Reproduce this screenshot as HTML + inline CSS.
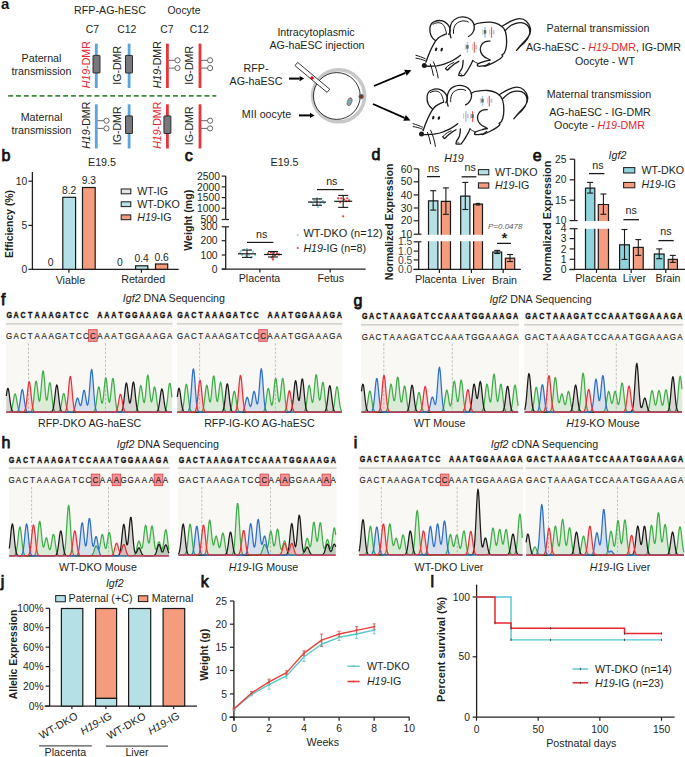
<!DOCTYPE html>
<html><head><meta charset="utf-8"><style>
html,body{margin:0;padding:0;background:#fff;}
svg{display:block;font-family:"Liberation Sans",sans-serif;}
</style></head><body>
<svg width="685" height="757" viewBox="0 0 685 757" fill="#231f20">
<rect width="685" height="757" fill="#fff"/>
<text x="1.00" y="8.90" font-size="15" text-anchor="start" font-weight="bold" fill="#111">a</text>
<text x="110.00" y="14.20" font-size="10.7" text-anchor="middle">RFP-AG-hESC</text>
<text x="184.00" y="14.20" font-size="10.4" text-anchor="middle">Oocyte</text>
<text x="92.30" y="33.00" font-size="10.4" text-anchor="middle">C7</text>
<text x="126.70" y="33.00" font-size="10.4" text-anchor="middle">C12</text>
<text x="166.80" y="33.00" font-size="10.4" text-anchor="middle">C7</text>
<text x="199.20" y="33.00" font-size="10.4" text-anchor="middle">C12</text>
<text x="41.50" y="62.00" font-size="10.7" text-anchor="middle">Paternal</text>
<text x="41.50" y="74.50" font-size="10.7" text-anchor="middle">transmission</text>
<text x="41.50" y="121.00" font-size="10.7" text-anchor="middle">Maternal</text>
<text x="41.50" y="134.00" font-size="10.7" text-anchor="middle">transmission</text>
<text x="90.40" y="88.30" font-size="10.6" text-anchor="start" fill="#e5262d" transform="rotate(-90 90.40 88.30)"><tspan font-style="italic">H19</tspan>-DMR</text>
<rect x="94.90" y="43.60" width="2.80" height="44.40" fill="#5aa5dc" stroke="none" stroke-width="1.2"/>
<rect x="93.00" y="55.40" width="7.00" height="17.60" fill="#77787b" stroke="#222" stroke-width="0.9" rx="0.4"/>
<text x="121.30" y="84.80" font-size="10.6" text-anchor="start" transform="rotate(-90 121.30 84.80)">IG-DMR</text>
<rect x="127.70" y="43.60" width="2.80" height="44.40" fill="#5aa5dc" stroke="none" stroke-width="1.2"/>
<rect x="125.50" y="55.40" width="7.00" height="17.60" fill="#77787b" stroke="#222" stroke-width="0.9" rx="0.4"/>
<text x="161.20" y="88.30" font-size="10.6" text-anchor="start" transform="rotate(-90 161.20 88.30)"><tspan font-style="italic">H19</tspan>-DMR</text>
<rect x="166.00" y="43.60" width="2.80" height="44.40" fill="#e8343a" stroke="none" stroke-width="1.2"/>
<line x1="168.60" y1="60.30" x2="174.80" y2="60.30" stroke="#555" stroke-width="0.9"/>
<circle cx="177.50" cy="60.30" r="2.60" fill="#fff" stroke="#555" stroke-width="0.9"/>
<line x1="168.60" y1="68.10" x2="174.80" y2="68.10" stroke="#555" stroke-width="0.9"/>
<circle cx="177.50" cy="68.10" r="2.60" fill="#fff" stroke="#555" stroke-width="0.9"/>
<text x="193.40" y="84.80" font-size="10.6" text-anchor="start" transform="rotate(-90 193.40 84.80)">IG-DMR</text>
<rect x="198.60" y="43.60" width="2.80" height="44.40" fill="#e8343a" stroke="none" stroke-width="1.2"/>
<line x1="201.20" y1="60.30" x2="207.40" y2="60.30" stroke="#555" stroke-width="0.9"/>
<circle cx="210.10" cy="60.30" r="2.60" fill="#fff" stroke="#555" stroke-width="0.9"/>
<line x1="201.20" y1="68.10" x2="207.40" y2="68.10" stroke="#555" stroke-width="0.9"/>
<circle cx="210.10" cy="68.10" r="2.60" fill="#fff" stroke="#555" stroke-width="0.9"/>
<line x1="8.20" y1="95.90" x2="216.30" y2="95.90" stroke="#3d8b3d" stroke-width="1.7" stroke-dasharray="4.9,2.95"/>
<text x="90.40" y="148.80" font-size="10.6" text-anchor="start" transform="rotate(-90 90.40 148.80)"><tspan font-style="italic">H19</tspan>-DMR</text>
<rect x="94.90" y="104.30" width="2.80" height="44.20" fill="#5aa5dc" stroke="none" stroke-width="1.2"/>
<line x1="97.60" y1="120.70" x2="103.80" y2="120.70" stroke="#555" stroke-width="0.9"/>
<circle cx="106.50" cy="120.70" r="2.60" fill="#fff" stroke="#555" stroke-width="0.9"/>
<line x1="97.60" y1="128.40" x2="103.80" y2="128.40" stroke="#555" stroke-width="0.9"/>
<circle cx="106.50" cy="128.40" r="2.60" fill="#fff" stroke="#555" stroke-width="0.9"/>
<text x="121.30" y="145.30" font-size="10.6" text-anchor="start" transform="rotate(-90 121.30 145.30)">IG-DMR</text>
<rect x="127.70" y="104.30" width="2.80" height="44.20" fill="#5aa5dc" stroke="none" stroke-width="1.2"/>
<rect x="125.50" y="115.90" width="7.00" height="17.60" fill="#77787b" stroke="#222" stroke-width="0.9" rx="0.4"/>
<text x="161.20" y="148.80" font-size="10.6" text-anchor="start" fill="#e5262d" transform="rotate(-90 161.20 148.80)"><tspan font-style="italic">H19</tspan>-DMR</text>
<rect x="166.00" y="104.30" width="2.80" height="44.20" fill="#e8343a" stroke="none" stroke-width="1.2"/>
<rect x="163.90" y="115.90" width="7.00" height="17.60" fill="#77787b" stroke="#222" stroke-width="0.9" rx="0.4"/>
<text x="193.40" y="145.30" font-size="10.6" text-anchor="start" transform="rotate(-90 193.40 145.30)">IG-DMR</text>
<rect x="198.60" y="104.30" width="2.80" height="44.20" fill="#e8343a" stroke="none" stroke-width="1.2"/>
<line x1="201.20" y1="120.70" x2="207.40" y2="120.70" stroke="#555" stroke-width="0.9"/>
<circle cx="210.10" cy="120.70" r="2.60" fill="#fff" stroke="#555" stroke-width="0.9"/>
<line x1="201.20" y1="128.40" x2="207.40" y2="128.40" stroke="#555" stroke-width="0.9"/>
<circle cx="210.10" cy="128.40" r="2.60" fill="#fff" stroke="#555" stroke-width="0.9"/>
<text x="316.00" y="35.80" font-size="10.7" text-anchor="middle">Intracytoplasmic</text>
<text x="317.00" y="49.00" font-size="10.7" text-anchor="middle">AG-haESC injection</text>
<text x="256.00" y="72.40" font-size="10.7" text-anchor="middle">RFP-</text>
<text x="256.00" y="85.10" font-size="10.7" text-anchor="middle">AG-haESC</text>
<text x="266.50" y="118.00" font-size="10.7" text-anchor="middle">MII oocyte</text>
<line x1="289.00" y1="78.60" x2="299.60" y2="78.60" stroke="#000" stroke-width="2.0"/>
<path d="M304.20,78.60 L299.60,81.20 L299.60,76.00 Z" fill="#000"/>
<line x1="299.00" y1="115.40" x2="310.00" y2="115.40" stroke="#000" stroke-width="2.0"/>
<path d="M314.60,115.40 L310.00,118.00 L310.00,112.80 Z" fill="#000"/>
<circle cx="338.60" cy="95.80" r="26.00" fill="none" stroke="#c8c8c8" stroke-width="3.6"/>
<circle cx="336.80" cy="96.00" r="23.40" fill="#fff" stroke="#1a1a1a" stroke-width="0.9"/>
<ellipse cx="349.6" cy="101.7" rx="2.2" ry="4.2" transform="rotate(20 349.6 101.7)" fill="#9a9a9a" stroke="#555" stroke-width="0.6"/>
<line x1="346.80" y1="101.90" x2="352.40" y2="101.50" stroke="#38c4e0" stroke-width="0.9"/>
<circle cx="361.20" cy="96.60" r="2.40" fill="#7a3b1c" stroke="#4a78c0" stroke-width="0.6"/>
<rect x="296.3" y="61.9" width="41.82" height="4.2" fill="#fff" stroke="#1a1a1a" stroke-width="0.8" transform="rotate(39.86 296.3 64)"/>
<circle cx="312.00" cy="77.90" r="1.50" fill="#e11" stroke="#900" stroke-width="0.4"/>
<line x1="374.00" y1="86.00" x2="405.41" y2="72.82" stroke="#000" stroke-width="1.8"/>
<path d="M411.40,70.30 L406.65,75.77 L404.17,69.87 Z" fill="#000"/>
<line x1="373.00" y1="104.00" x2="404.55" y2="117.88" stroke="#000" stroke-width="1.8"/>
<path d="M410.50,120.50 L403.26,120.81 L405.84,114.95 Z" fill="#000"/>
<text x="598.00" y="31.70" font-size="10.7" text-anchor="middle">Paternal transmission</text>
<text x="603.50" y="51.00" font-size="10.7" text-anchor="middle">AG-haESC - <tspan font-style="italic" fill="#e5262d">H19</tspan><tspan fill="#e5262d">-DMR</tspan>, IG-DMR</text>
<text x="605.00" y="65.00" font-size="10.7" text-anchor="middle">Oocyte - WT</text>
<text x="599.00" y="97.90" font-size="10.7" text-anchor="middle">Maternal transmission</text>
<text x="600.00" y="116.00" font-size="10.7" text-anchor="middle">AG-haESC - IG-DMR</text>
<text x="599.50" y="128.50" font-size="10.7" text-anchor="middle">Oocyte - <tspan font-style="italic" fill="#e5262d">H19</tspan><tspan fill="#e5262d">-DMR</tspan></text>
<g transform="translate(0 0)"><path d="M425.9,62.3 C428,56 431,48 435.6,40.8 C437.5,38.5 439,37 441.3,36 C443.5,35 445,34.2 446.5,33.8" stroke="#1a1a1a" stroke-width="1.3" fill="none" stroke-linecap="round" stroke-linejoin="round"/><path d="M435.6,40.8 C431.5,38 429.5,33 429.9,28.1 C430.3,24.5 432,22.5 434.5,21.6 C437,20.5 440,20.2 442.5,20.9 C446,22 449.5,25.5 450,29 C450.3,31 449.8,33 448.7,34.3" stroke="#1a1a1a" stroke-width="1.3" fill="none" stroke-linecap="round" stroke-linejoin="round"/><path d="M433,24.2 C435.5,22.6 438.5,22.2 441,23.2 C443.5,24.2 445.2,27 446.5,33.4" stroke="#1a1a1a" stroke-width="1.0" fill="none" stroke-linecap="round" stroke-linejoin="round"/><path d="M450.9,37.8 C449.8,35 449.6,31.5 450,28.5 C450.5,24.5 453,20 456.2,18.5 C459,17 462,16.6 465,17.2 C469,18 472.5,20.5 473.7,23.8 C474.8,27 474.2,30.5 472.5,33 C471.3,34.8 470,35.8 468.4,36.5" stroke="#1a1a1a" stroke-width="1.3" fill="none" stroke-linecap="round" stroke-linejoin="round"/><path d="M453.5,33.4 C453.2,30 453.8,26.5 456,24 C458,22 461,20.8 464,20.9 C466,21 467.5,21.4 468.4,22" stroke="#1a1a1a" stroke-width="1.0" fill="none" stroke-linecap="round" stroke-linejoin="round"/><path d="M474.2,24.8 C476,23.6 478,23 480.3,22.8 C484,22.2 487.5,21.9 490.5,22.1 C494,22.4 496.5,23.2 498.7,24.3 C500.8,25.4 502.5,26.8 503.8,28.4 C505.5,30.8 506.2,33.6 506.4,36.6 C506.7,40 506.8,43 506.4,45.8 C506,49 505.4,51.2 504.3,52.9 C503.5,54 502.5,54.6 501.8,55 C502.3,55.3 502.8,55.6 502.8,56 C502,57.3 501,58.2 499.7,59 C497.5,60.5 495,61.9 492.6,63.1 C490,64.4 487.5,65.5 485.4,66.2 C484.8,66.2 484.3,66 483.9,65.7" stroke="#1a1a1a" stroke-width="1.3" fill="none" stroke-linecap="round" stroke-linejoin="round"/><path d="M501.8,26.4 C505,24.5 508,22.6 511,21.2 C514,19.8 516.5,18.9 519.2,18.7 C522,18.6 524.6,19.6 526.3,21.2 C528.5,23.2 530,25.8 530.4,28.4 C530.9,31.5 530,34.3 528.4,36.6 C526.5,39.3 524.4,41.6 522.2,43.7 C520.3,45.8 518.4,48 516.6,50.4 C518.8,47.6 521.5,45 524.3,42.7 C526.7,40.3 528.6,37.4 529.4,34.5 C530.1,32 529.8,29.5 528.9,27.4 C527.9,25.4 526.2,24 524.3,23.3 C522.3,22.6 520.2,22.5 518.1,22.8 C516,23.2 514,23.9 512,24.8 C509.5,26.4 507.3,28.3 505.4,30.4" stroke="#1a1a1a" stroke-width="1.3" fill="none" stroke-linecap="round" stroke-linejoin="round"/><path d="M490,41.2 C488.5,41.1 486.8,41.2 485.4,41.7 C483.4,42.5 481.9,43.7 481.3,45.3 C480.5,46.8 480.2,48.3 480.3,49.9 C480.5,51.9 481.2,53.6 482.4,55 C483.8,56.6 485.5,57.8 487.5,58.5 C488.5,58.9 489.3,59.5 490,60.1" stroke="#1a1a1a" stroke-width="1.3" fill="none" stroke-linecap="round" stroke-linejoin="round"/><path d="M490,60.1 C488.5,60.4 487,60.7 485.4,61.1 C483,61.8 480.5,62.6 478.3,63.6 C477.6,64.2 477.2,64.9 477.3,65.7 C478.2,66.3 479.3,66.4 480.3,66.2 C482,66.1 483.8,66 485.4,65.7 C486.9,65 488.3,64.1 489.5,63.1" stroke="#1a1a1a" stroke-width="1.3" fill="none" stroke-linecap="round" stroke-linejoin="round"/><path d="M472.8,60.5 C474.5,62 476.5,62.9 478.3,63.6" stroke="#1a1a1a" stroke-width="1.0" fill="none" stroke-linecap="round" stroke-linejoin="round"/><path d="M426.4,66.2 C430,66.3 433.5,66.2 436.9,65.8 C440,65.3 443,64.6 445.6,63.6 C448.2,62.6 450.6,61.7 452.7,60.5 C455.5,59 458.2,57.2 460.5,55.3" stroke="#1a1a1a" stroke-width="1.3" fill="none" stroke-linecap="round" stroke-linejoin="round"/><path d="M445.6,68.4 C446.1,69.4 446.7,70.1 447.4,70.2 C448.3,69.4 449.2,68.4 450,67.5 C451.5,66.3 452.9,65.1 454.4,64 C455.8,63.1 457.3,62.2 458.8,61.4" stroke="#1a1a1a" stroke-width="1.3" fill="none" stroke-linecap="round" stroke-linejoin="round"/><path d="M445.6,68.4 C446.7,66.8 448.3,65.4 450.2,64.3 C451.6,63.5 452.8,63 453.9,62.5" stroke="#1a1a1a" stroke-width="1.0" fill="none" stroke-linecap="round" stroke-linejoin="round"/><path d="M463.2,60.5 C463.1,63 462.9,65.3 462.3,67.5 C461.6,69.3 460.7,70.7 459.7,71.9 C459.2,73 458.8,74.2 458.8,75.4 C460.5,75.9 462.3,75.8 464,75.4 C466,73 467.8,70.3 469.3,67.5 C470.6,65.2 471.8,62.8 472.8,60.5" stroke="#1a1a1a" stroke-width="1.3" fill="none" stroke-linecap="round" stroke-linejoin="round"/><path d="M460.3,73.6 C461,73.2 461.6,73.9 461.8,74.8" stroke="#1a1a1a" stroke-width="0.8" fill="none" stroke-linecap="round" stroke-linejoin="round"/><path d="M415.9,55.3 C419,56.2 422.3,57.2 425.3,58.8" stroke="#1a1a1a" stroke-width="1.0" fill="none" stroke-linecap="round" stroke-linejoin="round"/><path d="M415.9,58.2 C419,58.6 422.3,59.4 425.3,60.8" stroke="#1a1a1a" stroke-width="1.0" fill="none" stroke-linecap="round" stroke-linejoin="round"/><path d="M430.3,64 C431.6,67.5 432.8,71.5 433.4,75.4" stroke="#1a1a1a" stroke-width="1.0" fill="none" stroke-linecap="round" stroke-linejoin="round"/><path d="M433.4,61.8 C435.5,66.5 437.4,72 438.2,78" stroke="#1a1a1a" stroke-width="1.0" fill="none" stroke-linecap="round" stroke-linejoin="round"/><ellipse cx="436.1" cy="49.3" rx="1.15" ry="1.9" transform="rotate(20 436.1 49.3)" fill="#1a1a1a"/><ellipse cx="441.7" cy="49.6" rx="1.15" ry="1.9" transform="rotate(20 441.7 49.6)" fill="#1a1a1a"/><circle cx="424.3" cy="65.6" r="2.5" fill="#1a1a1a"/><rect x="482.40" y="29.30" width="0.9" height="5.5" fill="#c4c4c4"/><rect x="489.10" y="29.30" width="0.8" height="5.5" fill="#c4c4c4"/><rect x="484.25" y="27.10" width="1.5" height="10.5" fill="#9fcbee"/><rect x="490.90" y="27.10" width="1.2" height="10.7" fill="#ee5a5e"/><rect x="483.80" y="30.10" width="2.4" height="3.6" fill="#666"/><rect x="492.70" y="30.10" width="1.8" height="4.0" fill="#c4c4c4"/><rect x="464.80" y="44.30" width="0.9" height="5.5" fill="#c4c4c4"/><rect x="471.90" y="44.30" width="0.8" height="5.5" fill="#c4c4c4"/><rect x="466.65" y="42.10" width="1.5" height="10.5" fill="#9fcbee"/><rect x="473.70" y="42.10" width="1.2" height="10.7" fill="#ee5a5e"/><rect x="466.20" y="45.10" width="2.4" height="3.6" fill="#666"/><rect x="475.50" y="45.10" width="1.8" height="4.0" fill="#c4c4c4"/></g>
<g transform="translate(-2.8 68.4)"><path d="M425.9,62.3 C428,56 431,48 435.6,40.8 C437.5,38.5 439,37 441.3,36 C443.5,35 445,34.2 446.5,33.8" stroke="#1a1a1a" stroke-width="1.3" fill="none" stroke-linecap="round" stroke-linejoin="round"/><path d="M435.6,40.8 C431.5,38 429.5,33 429.9,28.1 C430.3,24.5 432,22.5 434.5,21.6 C437,20.5 440,20.2 442.5,20.9 C446,22 449.5,25.5 450,29 C450.3,31 449.8,33 448.7,34.3" stroke="#1a1a1a" stroke-width="1.3" fill="none" stroke-linecap="round" stroke-linejoin="round"/><path d="M433,24.2 C435.5,22.6 438.5,22.2 441,23.2 C443.5,24.2 445.2,27 446.5,33.4" stroke="#1a1a1a" stroke-width="1.0" fill="none" stroke-linecap="round" stroke-linejoin="round"/><path d="M450.9,37.8 C449.8,35 449.6,31.5 450,28.5 C450.5,24.5 453,20 456.2,18.5 C459,17 462,16.6 465,17.2 C469,18 472.5,20.5 473.7,23.8 C474.8,27 474.2,30.5 472.5,33 C471.3,34.8 470,35.8 468.4,36.5" stroke="#1a1a1a" stroke-width="1.3" fill="none" stroke-linecap="round" stroke-linejoin="round"/><path d="M453.5,33.4 C453.2,30 453.8,26.5 456,24 C458,22 461,20.8 464,20.9 C466,21 467.5,21.4 468.4,22" stroke="#1a1a1a" stroke-width="1.0" fill="none" stroke-linecap="round" stroke-linejoin="round"/><path d="M474.2,24.8 C476,23.6 478,23 480.3,22.8 C484,22.2 487.5,21.9 490.5,22.1 C494,22.4 496.5,23.2 498.7,24.3 C500.8,25.4 502.5,26.8 503.8,28.4 C505.5,30.8 506.2,33.6 506.4,36.6 C506.7,40 506.8,43 506.4,45.8 C506,49 505.4,51.2 504.3,52.9 C503.5,54 502.5,54.6 501.8,55 C502.3,55.3 502.8,55.6 502.8,56 C502,57.3 501,58.2 499.7,59 C497.5,60.5 495,61.9 492.6,63.1 C490,64.4 487.5,65.5 485.4,66.2 C484.8,66.2 484.3,66 483.9,65.7" stroke="#1a1a1a" stroke-width="1.3" fill="none" stroke-linecap="round" stroke-linejoin="round"/><path d="M501.8,26.4 C505,24.5 508,22.6 511,21.2 C514,19.8 516.5,18.9 519.2,18.7 C522,18.6 524.6,19.6 526.3,21.2 C528.5,23.2 530,25.8 530.4,28.4 C530.9,31.5 530,34.3 528.4,36.6 C526.5,39.3 524.4,41.6 522.2,43.7 C520.3,45.8 518.4,48 516.6,50.4 C518.8,47.6 521.5,45 524.3,42.7 C526.7,40.3 528.6,37.4 529.4,34.5 C530.1,32 529.8,29.5 528.9,27.4 C527.9,25.4 526.2,24 524.3,23.3 C522.3,22.6 520.2,22.5 518.1,22.8 C516,23.2 514,23.9 512,24.8 C509.5,26.4 507.3,28.3 505.4,30.4" stroke="#1a1a1a" stroke-width="1.3" fill="none" stroke-linecap="round" stroke-linejoin="round"/><path d="M490,41.2 C488.5,41.1 486.8,41.2 485.4,41.7 C483.4,42.5 481.9,43.7 481.3,45.3 C480.5,46.8 480.2,48.3 480.3,49.9 C480.5,51.9 481.2,53.6 482.4,55 C483.8,56.6 485.5,57.8 487.5,58.5 C488.5,58.9 489.3,59.5 490,60.1" stroke="#1a1a1a" stroke-width="1.3" fill="none" stroke-linecap="round" stroke-linejoin="round"/><path d="M490,60.1 C488.5,60.4 487,60.7 485.4,61.1 C483,61.8 480.5,62.6 478.3,63.6 C477.6,64.2 477.2,64.9 477.3,65.7 C478.2,66.3 479.3,66.4 480.3,66.2 C482,66.1 483.8,66 485.4,65.7 C486.9,65 488.3,64.1 489.5,63.1" stroke="#1a1a1a" stroke-width="1.3" fill="none" stroke-linecap="round" stroke-linejoin="round"/><path d="M472.8,60.5 C474.5,62 476.5,62.9 478.3,63.6" stroke="#1a1a1a" stroke-width="1.0" fill="none" stroke-linecap="round" stroke-linejoin="round"/><path d="M426.4,66.2 C430,66.3 433.5,66.2 436.9,65.8 C440,65.3 443,64.6 445.6,63.6 C448.2,62.6 450.6,61.7 452.7,60.5 C455.5,59 458.2,57.2 460.5,55.3" stroke="#1a1a1a" stroke-width="1.3" fill="none" stroke-linecap="round" stroke-linejoin="round"/><path d="M445.6,68.4 C446.1,69.4 446.7,70.1 447.4,70.2 C448.3,69.4 449.2,68.4 450,67.5 C451.5,66.3 452.9,65.1 454.4,64 C455.8,63.1 457.3,62.2 458.8,61.4" stroke="#1a1a1a" stroke-width="1.3" fill="none" stroke-linecap="round" stroke-linejoin="round"/><path d="M445.6,68.4 C446.7,66.8 448.3,65.4 450.2,64.3 C451.6,63.5 452.8,63 453.9,62.5" stroke="#1a1a1a" stroke-width="1.0" fill="none" stroke-linecap="round" stroke-linejoin="round"/><path d="M463.2,60.5 C463.1,63 462.9,65.3 462.3,67.5 C461.6,69.3 460.7,70.7 459.7,71.9 C459.2,73 458.8,74.2 458.8,75.4 C460.5,75.9 462.3,75.8 464,75.4 C466,73 467.8,70.3 469.3,67.5 C470.6,65.2 471.8,62.8 472.8,60.5" stroke="#1a1a1a" stroke-width="1.3" fill="none" stroke-linecap="round" stroke-linejoin="round"/><path d="M460.3,73.6 C461,73.2 461.6,73.9 461.8,74.8" stroke="#1a1a1a" stroke-width="0.8" fill="none" stroke-linecap="round" stroke-linejoin="round"/><path d="M415.9,55.3 C419,56.2 422.3,57.2 425.3,58.8" stroke="#1a1a1a" stroke-width="1.0" fill="none" stroke-linecap="round" stroke-linejoin="round"/><path d="M415.9,58.2 C419,58.6 422.3,59.4 425.3,60.8" stroke="#1a1a1a" stroke-width="1.0" fill="none" stroke-linecap="round" stroke-linejoin="round"/><path d="M430.3,64 C431.6,67.5 432.8,71.5 433.4,75.4" stroke="#1a1a1a" stroke-width="1.0" fill="none" stroke-linecap="round" stroke-linejoin="round"/><path d="M433.4,61.8 C435.5,66.5 437.4,72 438.2,78" stroke="#1a1a1a" stroke-width="1.0" fill="none" stroke-linecap="round" stroke-linejoin="round"/><ellipse cx="436.1" cy="49.3" rx="1.15" ry="1.9" transform="rotate(20 436.1 49.3)" fill="#1a1a1a"/><ellipse cx="441.7" cy="49.6" rx="1.15" ry="1.9" transform="rotate(20 441.7 49.6)" fill="#1a1a1a"/><circle cx="424.3" cy="65.6" r="2.5" fill="#1a1a1a"/><rect x="482.70" y="29.60" width="0.9" height="5.5" fill="#c4c4c4"/><rect x="489.70" y="29.60" width="0.8" height="5.5" fill="#c4c4c4"/><rect x="484.55" y="27.40" width="1.5" height="10.5" fill="#9fcbee"/><rect x="491.50" y="27.40" width="1.2" height="10.7" fill="#ee5a5e"/><rect x="484.10" y="30.40" width="2.4" height="3.6" fill="#666"/><rect x="493.30" y="30.40" width="1.8" height="4.0" fill="#c4c4c4"/><rect x="466.00" y="45.00" width="0.9" height="5.5" fill="#c4c4c4"/><rect x="473.00" y="45.00" width="0.8" height="5.5" fill="#c4c4c4"/><rect x="467.85" y="42.80" width="1.5" height="10.5" fill="#9fcbee"/><rect x="474.80" y="42.80" width="1.2" height="10.7" fill="#ee5a5e"/><rect x="474.20" y="45.80" width="2.4" height="3.8" fill="#666"/><rect x="469.60" y="45.80" width="1.8" height="4.0" fill="#c4c4c4"/></g>
<text x="1.50" y="160.80" font-size="16" text-anchor="start" fill="#111" stroke="#111" stroke-width="0.75">b</text>
<text x="102.00" y="165.80" font-size="10.7" text-anchor="middle">E19.5</text>
<line x1="32.40" y1="172.00" x2="32.40" y2="269.30" stroke="#231f20" stroke-width="1.3"/>
<line x1="31.80" y1="269.30" x2="178.70" y2="269.30" stroke="#231f20" stroke-width="1.3"/>
<line x1="28.40" y1="181.20" x2="32.40" y2="181.20" stroke="#231f20" stroke-width="1.2"/>
<text x="27.30" y="184.80" font-size="10.3" text-anchor="end">10</text>
<line x1="28.40" y1="225.40" x2="32.40" y2="225.40" stroke="#231f20" stroke-width="1.2"/>
<text x="27.30" y="229.00" font-size="10.3" text-anchor="end">5</text>
<line x1="28.40" y1="269.30" x2="32.40" y2="269.30" stroke="#231f20" stroke-width="1.2"/>
<text x="27.30" y="272.90" font-size="10.3" text-anchor="end">0</text>
<text x="12.60" y="224.00" font-size="10.4" text-anchor="middle" font-weight="bold" transform="rotate(-90 12.60 224.00)">Efficiency (%)</text>
<rect x="62.80" y="197.30" width="12.80" height="72.00" fill="#b4e0e6" stroke="#1a1a1a" stroke-width="1.2"/>
<rect x="82.50" y="187.50" width="12.70" height="81.80" fill="#f59b7e" stroke="#1a1a1a" stroke-width="1.2"/>
<rect x="135.60" y="265.80" width="12.20" height="3.50" fill="#b4e0e6" stroke="#1a1a1a" stroke-width="1.2"/>
<rect x="155.50" y="264.00" width="12.20" height="5.30" fill="#f59b7e" stroke="#1a1a1a" stroke-width="1.2"/>
<text x="50.50" y="266.40" font-size="10.3" text-anchor="middle">0</text>
<text x="69.20" y="193.90" font-size="10.3" text-anchor="middle">8.2</text>
<text x="88.90" y="184.10" font-size="10.3" text-anchor="middle">9.3</text>
<text x="119.80" y="266.40" font-size="10.3" text-anchor="middle">0</text>
<text x="141.70" y="262.00" font-size="10.3" text-anchor="middle">0.4</text>
<text x="161.60" y="260.60" font-size="10.3" text-anchor="middle">0.6</text>
<line x1="68.90" y1="269.30" x2="68.90" y2="272.80" stroke="#231f20" stroke-width="1.2"/>
<line x1="141.40" y1="269.30" x2="141.40" y2="272.80" stroke="#231f20" stroke-width="1.2"/>
<text x="70.40" y="283.50" font-size="10.7" text-anchor="middle">Viable</text>
<text x="143.20" y="283.30" font-size="10.7" text-anchor="middle">Retarded</text>
<rect x="121.20" y="189.00" width="9.60" height="4.80" fill="#e6e6e6" stroke="#1a1a1a" stroke-width="1.0"/>
<text x="137.20" y="194.90" font-size="10.7" text-anchor="start">WT-IG</text>
<rect x="121.20" y="201.80" width="9.60" height="4.80" fill="#b4e0e6" stroke="#1a1a1a" stroke-width="1.0"/>
<text x="137.20" y="207.70" font-size="10.7" text-anchor="start">WT-DKO</text>
<rect x="121.20" y="214.90" width="9.60" height="4.80" fill="#f59b7e" stroke="#1a1a1a" stroke-width="1.0"/>
<text x="137.20" y="220.80" font-size="10.7" text-anchor="start"><tspan font-style="italic">H19</tspan>-IG</text>
<text x="184.80" y="161.20" font-size="16" text-anchor="start" fill="#111" stroke="#111" stroke-width="0.75">c</text>
<text x="284.50" y="165.80" font-size="10.7" text-anchor="middle">E19.5</text>
<line x1="225.70" y1="176.10" x2="225.70" y2="219.50" stroke="#231f20" stroke-width="1.3"/>
<line x1="225.70" y1="219.50" x2="229.00" y2="219.50" stroke="#231f20" stroke-width="1.2"/>
<line x1="221.70" y1="176.10" x2="225.70" y2="176.10" stroke="#231f20" stroke-width="1.2"/>
<text x="220.00" y="179.70" font-size="10.3" text-anchor="end">2500</text>
<line x1="221.70" y1="186.90" x2="225.70" y2="186.90" stroke="#231f20" stroke-width="1.2"/>
<text x="220.00" y="190.50" font-size="10.3" text-anchor="end">2000</text>
<line x1="221.70" y1="197.60" x2="225.70" y2="197.60" stroke="#231f20" stroke-width="1.2"/>
<text x="220.00" y="201.20" font-size="10.3" text-anchor="end">1500</text>
<line x1="221.70" y1="208.20" x2="225.70" y2="208.20" stroke="#231f20" stroke-width="1.2"/>
<text x="220.00" y="211.80" font-size="10.3" text-anchor="end">1000</text>
<line x1="221.70" y1="219.50" x2="225.70" y2="219.50" stroke="#231f20" stroke-width="1.2"/>
<text x="217.60" y="223.10" font-size="10.3" text-anchor="end">500</text>
<line x1="225.70" y1="226.80" x2="225.70" y2="269.10" stroke="#231f20" stroke-width="1.3"/>
<line x1="225.70" y1="226.80" x2="229.00" y2="226.80" stroke="#231f20" stroke-width="1.2"/>
<line x1="221.70" y1="226.80" x2="225.70" y2="226.80" stroke="#231f20" stroke-width="1.2"/>
<text x="217.60" y="230.40" font-size="10.3" text-anchor="end">300</text>
<line x1="221.70" y1="240.70" x2="225.70" y2="240.70" stroke="#231f20" stroke-width="1.2"/>
<text x="217.60" y="244.30" font-size="10.3" text-anchor="end">200</text>
<line x1="221.70" y1="255.00" x2="225.70" y2="255.00" stroke="#231f20" stroke-width="1.2"/>
<text x="217.60" y="258.60" font-size="10.3" text-anchor="end">100</text>
<line x1="221.70" y1="269.10" x2="225.70" y2="269.10" stroke="#231f20" stroke-width="1.2"/>
<text x="217.60" y="272.70" font-size="10.3" text-anchor="end">0</text>
<line x1="221.80" y1="269.10" x2="365.70" y2="269.10" stroke="#231f20" stroke-width="1.3"/>
<line x1="259.90" y1="269.10" x2="259.90" y2="272.60" stroke="#231f20" stroke-width="1.2"/>
<line x1="330.20" y1="269.10" x2="330.20" y2="272.60" stroke="#231f20" stroke-width="1.2"/>
<text x="259.50" y="281.50" font-size="10.7" text-anchor="middle">Placenta</text>
<text x="330.80" y="281.60" font-size="10.7" text-anchor="middle">Fetus</text>
<text x="191.60" y="220.20" font-size="10.6" text-anchor="middle" font-weight="bold" transform="rotate(-90 191.60 220.20)">Weight (mg)</text>
<circle cx="241.00" cy="250.80" r="1.15" fill="#8fd0dc" stroke="none" stroke-width="1.0"/>
<circle cx="244.00" cy="249.80" r="1.15" fill="#8fd0dc" stroke="none" stroke-width="1.0"/>
<circle cx="247.00" cy="248.80" r="1.15" fill="#8fd0dc" stroke="none" stroke-width="1.0"/>
<circle cx="250.00" cy="249.80" r="1.15" fill="#8fd0dc" stroke="none" stroke-width="1.0"/>
<circle cx="253.00" cy="251.80" r="1.15" fill="#8fd0dc" stroke="none" stroke-width="1.0"/>
<circle cx="242.00" cy="254.80" r="1.15" fill="#8fd0dc" stroke="none" stroke-width="1.0"/>
<circle cx="246.00" cy="255.80" r="1.15" fill="#8fd0dc" stroke="none" stroke-width="1.0"/>
<circle cx="249.00" cy="254.80" r="1.15" fill="#8fd0dc" stroke="none" stroke-width="1.0"/>
<circle cx="252.00" cy="256.80" r="1.15" fill="#8fd0dc" stroke="none" stroke-width="1.0"/>
<circle cx="240.00" cy="252.80" r="1.15" fill="#8fd0dc" stroke="none" stroke-width="1.0"/>
<circle cx="251.00" cy="257.80" r="1.15" fill="#8fd0dc" stroke="none" stroke-width="1.0"/>
<circle cx="255.00" cy="254.80" r="1.15" fill="#8fd0dc" stroke="none" stroke-width="1.0"/>
<line x1="238.00" y1="253.80" x2="256.00" y2="253.80" stroke="#1a1a1a" stroke-width="1.2"/>
<line x1="247.00" y1="250.10" x2="247.00" y2="257.40" stroke="#1a1a1a" stroke-width="1.1"/>
<line x1="242.00" y1="250.10" x2="252.00" y2="250.10" stroke="#1a1a1a" stroke-width="1.1"/>
<line x1="242.00" y1="257.40" x2="252.00" y2="257.40" stroke="#1a1a1a" stroke-width="1.1"/>
<circle cx="268.00" cy="253.50" r="1.15" fill="#e8403a" stroke="none" stroke-width="1.0"/>
<circle cx="271.00" cy="252.50" r="1.15" fill="#e8403a" stroke="none" stroke-width="1.0"/>
<circle cx="274.00" cy="252.50" r="1.15" fill="#e8403a" stroke="none" stroke-width="1.0"/>
<circle cx="277.00" cy="253.50" r="1.15" fill="#e8403a" stroke="none" stroke-width="1.0"/>
<circle cx="279.00" cy="254.50" r="1.15" fill="#e8403a" stroke="none" stroke-width="1.0"/>
<circle cx="272.00" cy="257.50" r="1.15" fill="#e8403a" stroke="none" stroke-width="1.0"/>
<circle cx="275.00" cy="255.50" r="1.15" fill="#e8403a" stroke="none" stroke-width="1.0"/>
<circle cx="273.00" cy="259.50" r="1.15" fill="#e8403a" stroke="none" stroke-width="1.0"/>
<line x1="264.00" y1="254.50" x2="282.00" y2="254.50" stroke="#1a1a1a" stroke-width="1.2"/>
<line x1="273.00" y1="251.50" x2="273.00" y2="257.00" stroke="#1a1a1a" stroke-width="1.1"/>
<line x1="268.00" y1="251.50" x2="278.00" y2="251.50" stroke="#1a1a1a" stroke-width="1.1"/>
<line x1="268.00" y1="257.00" x2="278.00" y2="257.00" stroke="#1a1a1a" stroke-width="1.1"/>
<circle cx="311.00" cy="202.10" r="1.15" fill="#8fd0dc" stroke="none" stroke-width="1.0"/>
<circle cx="314.00" cy="200.10" r="1.15" fill="#8fd0dc" stroke="none" stroke-width="1.0"/>
<circle cx="317.00" cy="198.10" r="1.15" fill="#8fd0dc" stroke="none" stroke-width="1.0"/>
<circle cx="320.00" cy="199.10" r="1.15" fill="#8fd0dc" stroke="none" stroke-width="1.0"/>
<circle cx="323.00" cy="201.10" r="1.15" fill="#8fd0dc" stroke="none" stroke-width="1.0"/>
<circle cx="313.00" cy="204.10" r="1.15" fill="#8fd0dc" stroke="none" stroke-width="1.0"/>
<circle cx="317.00" cy="205.10" r="1.15" fill="#8fd0dc" stroke="none" stroke-width="1.0"/>
<circle cx="320.00" cy="204.10" r="1.15" fill="#8fd0dc" stroke="none" stroke-width="1.0"/>
<circle cx="324.00" cy="203.10" r="1.15" fill="#8fd0dc" stroke="none" stroke-width="1.0"/>
<circle cx="318.00" cy="207.10" r="1.15" fill="#8fd0dc" stroke="none" stroke-width="1.0"/>
<circle cx="315.00" cy="201.10" r="1.15" fill="#8fd0dc" stroke="none" stroke-width="1.0"/>
<circle cx="321.00" cy="202.10" r="1.15" fill="#8fd0dc" stroke="none" stroke-width="1.0"/>
<line x1="308.00" y1="202.10" x2="326.00" y2="202.10" stroke="#1a1a1a" stroke-width="1.2"/>
<line x1="317.00" y1="198.90" x2="317.00" y2="205.30" stroke="#1a1a1a" stroke-width="1.1"/>
<line x1="312.00" y1="198.90" x2="322.00" y2="198.90" stroke="#1a1a1a" stroke-width="1.1"/>
<line x1="312.00" y1="205.30" x2="322.00" y2="205.30" stroke="#1a1a1a" stroke-width="1.1"/>
<circle cx="338.20" cy="198.30" r="1.15" fill="#e8403a" stroke="none" stroke-width="1.0"/>
<circle cx="341.20" cy="198.30" r="1.15" fill="#e8403a" stroke="none" stroke-width="1.0"/>
<circle cx="344.20" cy="199.30" r="1.15" fill="#e8403a" stroke="none" stroke-width="1.0"/>
<circle cx="347.20" cy="198.30" r="1.15" fill="#e8403a" stroke="none" stroke-width="1.0"/>
<circle cx="349.20" cy="200.30" r="1.15" fill="#e8403a" stroke="none" stroke-width="1.0"/>
<circle cx="340.20" cy="202.30" r="1.15" fill="#e8403a" stroke="none" stroke-width="1.0"/>
<circle cx="346.20" cy="201.30" r="1.15" fill="#e8403a" stroke="none" stroke-width="1.0"/>
<circle cx="343.20" cy="216.30" r="1.15" fill="#e8403a" stroke="none" stroke-width="1.0"/>
<line x1="334.20" y1="201.30" x2="352.20" y2="201.30" stroke="#1a1a1a" stroke-width="1.2"/>
<line x1="343.20" y1="195.40" x2="343.20" y2="207.40" stroke="#1a1a1a" stroke-width="1.1"/>
<line x1="338.20" y1="195.40" x2="348.20" y2="195.40" stroke="#1a1a1a" stroke-width="1.1"/>
<line x1="338.20" y1="207.40" x2="348.20" y2="207.40" stroke="#1a1a1a" stroke-width="1.1"/>
<text x="261.60" y="237.70" font-size="10.7" text-anchor="middle">ns</text>
<line x1="247.00" y1="242.40" x2="273.40" y2="242.40" stroke="#1a1a1a" stroke-width="1.2"/>
<text x="331.80" y="184.80" font-size="10.7" text-anchor="middle">ns</text>
<line x1="317.00" y1="189.60" x2="343.80" y2="189.60" stroke="#1a1a1a" stroke-width="1.2"/>
<circle cx="297.70" cy="235.00" r="1.00" fill="#8fd0dc" stroke="none" stroke-width="1.0"/>
<text x="303.40" y="236.60" font-size="11.0" text-anchor="start">WT-DKO (n=12)</text>
<circle cx="297.70" cy="248.00" r="1.00" fill="#e8403a" stroke="none" stroke-width="1.0"/>
<text x="303.40" y="251.90" font-size="10.7" text-anchor="start"><tspan font-style="italic">H19</tspan>-IG (n=8)</text>
<text x="371.50" y="160.20" font-size="16" text-anchor="start" fill="#111" stroke="#111" stroke-width="0.75">d</text>
<text x="454.00" y="162.00" font-size="10.7" text-anchor="middle" font-style="italic">H19</text>
<line x1="418.70" y1="168.90" x2="418.70" y2="234.20" stroke="#231f20" stroke-width="1.3"/>
<line x1="418.70" y1="234.20" x2="421.50" y2="234.20" stroke="#231f20" stroke-width="1.2"/>
<line x1="413.70" y1="168.90" x2="418.70" y2="168.90" stroke="#231f20" stroke-width="1.2"/>
<text x="412.30" y="172.50" font-size="10.3" text-anchor="end">60</text>
<line x1="413.70" y1="181.80" x2="418.70" y2="181.80" stroke="#231f20" stroke-width="1.2"/>
<text x="412.30" y="185.40" font-size="10.3" text-anchor="end">50</text>
<line x1="413.70" y1="194.90" x2="418.70" y2="194.90" stroke="#231f20" stroke-width="1.2"/>
<text x="412.30" y="198.50" font-size="10.3" text-anchor="end">40</text>
<line x1="413.70" y1="208.00" x2="418.70" y2="208.00" stroke="#231f20" stroke-width="1.2"/>
<text x="412.30" y="211.60" font-size="10.3" text-anchor="end">30</text>
<line x1="413.70" y1="220.80" x2="418.70" y2="220.80" stroke="#231f20" stroke-width="1.2"/>
<text x="412.30" y="224.40" font-size="10.3" text-anchor="end">20</text>
<line x1="413.70" y1="234.20" x2="418.70" y2="234.20" stroke="#231f20" stroke-width="1.2"/>
<text x="412.30" y="237.80" font-size="10.3" text-anchor="end">10</text>
<line x1="418.70" y1="241.80" x2="418.70" y2="269.50" stroke="#231f20" stroke-width="1.3"/>
<line x1="418.70" y1="241.80" x2="421.50" y2="241.80" stroke="#231f20" stroke-width="1.2"/>
<line x1="413.70" y1="241.80" x2="418.70" y2="241.80" stroke="#231f20" stroke-width="1.2"/>
<text x="412.30" y="245.40" font-size="10.3" text-anchor="end" fill="#444">1.5</text>
<line x1="413.70" y1="251.10" x2="418.70" y2="251.10" stroke="#231f20" stroke-width="1.2"/>
<text x="412.30" y="254.70" font-size="10.3" text-anchor="end" fill="#444">1.0</text>
<line x1="413.70" y1="259.90" x2="418.70" y2="259.90" stroke="#231f20" stroke-width="1.2"/>
<text x="412.30" y="263.50" font-size="10.3" text-anchor="end" fill="#444">0.5</text>
<line x1="413.70" y1="269.50" x2="418.70" y2="269.50" stroke="#231f20" stroke-width="1.2"/>
<text x="412.30" y="273.10" font-size="10.3" text-anchor="end" fill="#444">0.0</text>
<line x1="413.50" y1="269.40" x2="520.80" y2="269.40" stroke="#231f20" stroke-width="1.3"/>
<line x1="439.40" y1="269.40" x2="439.40" y2="272.90" stroke="#231f20" stroke-width="1.2"/>
<line x1="471.40" y1="269.40" x2="471.40" y2="272.90" stroke="#231f20" stroke-width="1.2"/>
<line x1="503.20" y1="269.40" x2="503.20" y2="272.90" stroke="#231f20" stroke-width="1.2"/>
<text x="435.80" y="283.30" font-size="10.7" text-anchor="middle">Placenta</text>
<text x="473.60" y="283.50" font-size="10.7" text-anchor="middle">Liver</text>
<text x="504.50" y="283.50" font-size="10.7" text-anchor="middle">Brain</text>
<text x="392.60" y="221.90" font-size="10.55" text-anchor="middle" font-weight="bold" transform="rotate(-90 392.60 221.90)">Normalized Expression</text>
<path d="M428.50,234.80 L428.50,200.80 L437.90,200.80 L437.90,234.80" fill="#b4e0e6" stroke="#1a1a1a" stroke-width="1.2"/>
<path d="M428.50,241.20 L428.50,269.40 L437.90,269.40 L437.90,241.20" fill="#b4e0e6" stroke="#1a1a1a" stroke-width="1.2"/>
<line x1="433.20" y1="190.70" x2="433.20" y2="210.10" stroke="#1a1a1a" stroke-width="1.1"/>
<line x1="430.20" y1="190.70" x2="436.20" y2="190.70" stroke="#1a1a1a" stroke-width="1.1"/>
<line x1="430.20" y1="210.10" x2="436.20" y2="210.10" stroke="#1a1a1a" stroke-width="1.1"/>
<path d="M441.30,234.80 L441.30,201.40 L450.50,201.40 L450.50,234.80" fill="#f59b7e" stroke="#1a1a1a" stroke-width="1.2"/>
<path d="M441.30,241.20 L441.30,269.40 L450.50,269.40 L450.50,241.20" fill="#f59b7e" stroke="#1a1a1a" stroke-width="1.2"/>
<line x1="445.90" y1="187.90" x2="445.90" y2="214.30" stroke="#1a1a1a" stroke-width="1.1"/>
<line x1="442.90" y1="187.90" x2="448.90" y2="187.90" stroke="#1a1a1a" stroke-width="1.1"/>
<line x1="442.90" y1="214.30" x2="448.90" y2="214.30" stroke="#1a1a1a" stroke-width="1.1"/>
<path d="M460.70,234.80 L460.70,196.20 L469.90,196.20 L469.90,234.80" fill="#b4e0e6" stroke="#1a1a1a" stroke-width="1.2"/>
<path d="M460.70,241.20 L460.70,269.40 L469.90,269.40 L469.90,241.20" fill="#b4e0e6" stroke="#1a1a1a" stroke-width="1.2"/>
<line x1="465.30" y1="182.40" x2="465.30" y2="209.50" stroke="#1a1a1a" stroke-width="1.1"/>
<line x1="462.30" y1="182.40" x2="468.30" y2="182.40" stroke="#1a1a1a" stroke-width="1.1"/>
<line x1="462.30" y1="209.50" x2="468.30" y2="209.50" stroke="#1a1a1a" stroke-width="1.1"/>
<path d="M473.60,234.80 L473.60,204.20 L482.50,204.20 L482.50,234.80" fill="#f59b7e" stroke="#1a1a1a" stroke-width="1.2"/>
<path d="M473.60,241.20 L473.60,269.40 L482.50,269.40 L482.50,241.20" fill="#f59b7e" stroke="#1a1a1a" stroke-width="1.2"/>
<line x1="478.00" y1="203.40" x2="478.00" y2="205.00" stroke="#1a1a1a" stroke-width="1.1"/>
<line x1="475.80" y1="203.40" x2="480.20" y2="203.40" stroke="#1a1a1a" stroke-width="1.1"/>
<line x1="475.80" y1="205.00" x2="480.20" y2="205.00" stroke="#1a1a1a" stroke-width="1.1"/>
<rect x="492.70" y="252.00" width="9.00" height="17.40" fill="#b4e0e6" stroke="#1a1a1a" stroke-width="1.2"/>
<line x1="497.20" y1="250.40" x2="497.20" y2="253.50" stroke="#1a1a1a" stroke-width="1.1"/>
<line x1="494.20" y1="250.40" x2="500.20" y2="250.40" stroke="#1a1a1a" stroke-width="1.1"/>
<line x1="494.20" y1="253.50" x2="500.20" y2="253.50" stroke="#1a1a1a" stroke-width="1.1"/>
<rect x="505.40" y="258.20" width="9.30" height="11.20" fill="#f59b7e" stroke="#1a1a1a" stroke-width="1.2"/>
<line x1="510.00" y1="254.50" x2="510.00" y2="261.50" stroke="#1a1a1a" stroke-width="1.1"/>
<line x1="507.00" y1="254.50" x2="513.00" y2="254.50" stroke="#1a1a1a" stroke-width="1.1"/>
<line x1="507.00" y1="261.50" x2="513.00" y2="261.50" stroke="#1a1a1a" stroke-width="1.1"/>
<text x="433.60" y="171.60" font-size="10.7" text-anchor="middle">ns</text>
<line x1="427.00" y1="176.60" x2="440.00" y2="176.60" stroke="#1a1a1a" stroke-width="1.3"/>
<text x="470.20" y="171.30" font-size="10.7" text-anchor="middle">ns</text>
<line x1="461.60" y1="176.80" x2="476.40" y2="176.80" stroke="#1a1a1a" stroke-width="1.3"/>
<text x="505.20" y="228.80" font-size="8.0" text-anchor="middle" font-style="italic" fill="#58595b">P=0.0478</text>
<text x="504.60" y="243.20" font-size="14" text-anchor="middle" font-weight="bold">*</text>
<line x1="497.00" y1="243.40" x2="511.00" y2="243.40" stroke="#1a1a1a" stroke-width="1.3"/>
<rect x="478.40" y="169.60" width="10.40" height="5.20" fill="#b4e0e6" stroke="#1a1a1a" stroke-width="1.0"/>
<text x="494.90" y="175.50" font-size="10.7" text-anchor="start">WT-DKO</text>
<rect x="478.40" y="182.90" width="10.40" height="5.20" fill="#f59b7e" stroke="#1a1a1a" stroke-width="1.0"/>
<text x="494.90" y="188.80" font-size="10.7" text-anchor="start"><tspan font-style="italic">H19</tspan>-IG</text>
<text x="532.80" y="161.10" font-size="16" text-anchor="start" fill="#111" stroke="#111" stroke-width="0.75">e</text>
<text x="617.50" y="159.20" font-size="10.7" text-anchor="middle" font-style="italic">Igf2</text>
<line x1="574.60" y1="159.20" x2="574.60" y2="220.60" stroke="#231f20" stroke-width="1.3"/>
<line x1="574.60" y1="220.60" x2="577.60" y2="220.60" stroke="#231f20" stroke-width="1.2"/>
<line x1="569.60" y1="159.20" x2="574.60" y2="159.20" stroke="#231f20" stroke-width="1.2"/>
<text x="566.50" y="162.80" font-size="10.3" text-anchor="end">25</text>
<line x1="569.60" y1="179.80" x2="574.60" y2="179.80" stroke="#231f20" stroke-width="1.2"/>
<text x="566.50" y="183.40" font-size="10.3" text-anchor="end">20</text>
<line x1="569.60" y1="200.20" x2="574.60" y2="200.20" stroke="#231f20" stroke-width="1.2"/>
<text x="566.50" y="203.80" font-size="10.3" text-anchor="end">15</text>
<line x1="569.60" y1="220.60" x2="574.60" y2="220.60" stroke="#231f20" stroke-width="1.2"/>
<text x="566.50" y="224.20" font-size="10.3" text-anchor="end">10</text>
<line x1="574.60" y1="228.70" x2="574.60" y2="269.60" stroke="#231f20" stroke-width="1.3"/>
<line x1="574.60" y1="228.70" x2="577.60" y2="228.70" stroke="#231f20" stroke-width="1.2"/>
<line x1="569.60" y1="228.70" x2="574.60" y2="228.70" stroke="#231f20" stroke-width="1.2"/>
<text x="566.50" y="232.30" font-size="10.3" text-anchor="end">4</text>
<line x1="569.60" y1="238.60" x2="574.60" y2="238.60" stroke="#231f20" stroke-width="1.2"/>
<text x="566.50" y="242.20" font-size="10.3" text-anchor="end">3</text>
<line x1="569.60" y1="248.90" x2="574.60" y2="248.90" stroke="#231f20" stroke-width="1.2"/>
<text x="566.50" y="252.50" font-size="10.3" text-anchor="end">2</text>
<line x1="569.60" y1="259.30" x2="574.60" y2="259.30" stroke="#231f20" stroke-width="1.2"/>
<text x="566.50" y="262.90" font-size="10.3" text-anchor="end">1</text>
<line x1="569.60" y1="269.60" x2="574.60" y2="269.60" stroke="#231f20" stroke-width="1.2"/>
<text x="566.50" y="273.20" font-size="10.3" text-anchor="end">0</text>
<line x1="569.50" y1="269.40" x2="685.00" y2="269.40" stroke="#231f20" stroke-width="1.3"/>
<line x1="596.50" y1="269.40" x2="596.50" y2="272.90" stroke="#231f20" stroke-width="1.2"/>
<line x1="631.20" y1="269.40" x2="631.20" y2="272.90" stroke="#231f20" stroke-width="1.2"/>
<line x1="665.80" y1="269.40" x2="665.80" y2="272.90" stroke="#231f20" stroke-width="1.2"/>
<text x="596.00" y="281.50" font-size="10.7" text-anchor="middle">Placenta</text>
<text x="634.40" y="281.60" font-size="10.7" text-anchor="middle">Liver</text>
<text x="668.00" y="281.60" font-size="10.7" text-anchor="middle">Brain</text>
<text x="550.70" y="220.80" font-size="10.9" text-anchor="middle" font-weight="bold" transform="rotate(-90 550.70 220.80)">Normalized Expression</text>
<path d="M585.50,221.00 L585.50,188.20 L594.80,188.20 L594.80,221.00" fill="#8fd4dc" stroke="#1a1a1a" stroke-width="1.2"/>
<path d="M585.50,228.80 L585.50,269.40 L594.80,269.40 L594.80,228.80" fill="#8fd4dc" stroke="#1a1a1a" stroke-width="1.2"/>
<line x1="590.10" y1="182.40" x2="590.10" y2="193.10" stroke="#1a1a1a" stroke-width="1.1"/>
<line x1="587.10" y1="182.40" x2="593.10" y2="182.40" stroke="#1a1a1a" stroke-width="1.1"/>
<line x1="587.10" y1="193.10" x2="593.10" y2="193.10" stroke="#1a1a1a" stroke-width="1.1"/>
<path d="M598.30,221.00 L598.30,204.50 L608.50,204.50 L608.50,221.00" fill="#f59b7e" stroke="#1a1a1a" stroke-width="1.2"/>
<path d="M598.30,228.80 L598.30,269.40 L608.50,269.40 L608.50,228.80" fill="#f59b7e" stroke="#1a1a1a" stroke-width="1.2"/>
<line x1="603.40" y1="194.00" x2="603.40" y2="214.30" stroke="#1a1a1a" stroke-width="1.1"/>
<line x1="600.40" y1="194.00" x2="606.40" y2="194.00" stroke="#1a1a1a" stroke-width="1.1"/>
<line x1="600.40" y1="214.30" x2="606.40" y2="214.30" stroke="#1a1a1a" stroke-width="1.1"/>
<rect x="619.60" y="244.80" width="9.80" height="24.60" fill="#8fd4dc" stroke="#1a1a1a" stroke-width="1.2"/>
<line x1="624.50" y1="229.50" x2="624.50" y2="259.40" stroke="#1a1a1a" stroke-width="1.1"/>
<line x1="621.50" y1="229.50" x2="627.50" y2="229.50" stroke="#1a1a1a" stroke-width="1.1"/>
<line x1="621.50" y1="259.40" x2="627.50" y2="259.40" stroke="#1a1a1a" stroke-width="1.1"/>
<rect x="633.40" y="247.40" width="9.80" height="22.00" fill="#f59b7e" stroke="#1a1a1a" stroke-width="1.2"/>
<line x1="638.30" y1="239.60" x2="638.30" y2="255.40" stroke="#1a1a1a" stroke-width="1.1"/>
<line x1="635.30" y1="239.60" x2="641.30" y2="239.60" stroke="#1a1a1a" stroke-width="1.1"/>
<line x1="635.30" y1="255.40" x2="641.30" y2="255.40" stroke="#1a1a1a" stroke-width="1.1"/>
<rect x="654.30" y="254.00" width="9.80" height="15.40" fill="#8fd4dc" stroke="#1a1a1a" stroke-width="1.2"/>
<line x1="659.20" y1="248.90" x2="659.20" y2="258.70" stroke="#1a1a1a" stroke-width="1.1"/>
<line x1="656.20" y1="248.90" x2="662.20" y2="248.90" stroke="#1a1a1a" stroke-width="1.1"/>
<line x1="656.20" y1="258.70" x2="662.20" y2="258.70" stroke="#1a1a1a" stroke-width="1.1"/>
<rect x="668.20" y="259.40" width="9.20" height="10.00" fill="#f59b7e" stroke="#1a1a1a" stroke-width="1.2"/>
<line x1="672.80" y1="255.40" x2="672.80" y2="262.40" stroke="#1a1a1a" stroke-width="1.1"/>
<line x1="669.80" y1="255.40" x2="675.80" y2="255.40" stroke="#1a1a1a" stroke-width="1.1"/>
<line x1="669.80" y1="262.40" x2="675.80" y2="262.40" stroke="#1a1a1a" stroke-width="1.1"/>
<text x="597.90" y="168.50" font-size="10.7" text-anchor="middle">ns</text>
<line x1="589.00" y1="173.60" x2="604.40" y2="173.60" stroke="#1a1a1a" stroke-width="1.3"/>
<text x="631.20" y="213.80" font-size="10.7" text-anchor="middle">ns</text>
<line x1="623.40" y1="219.70" x2="639.00" y2="219.70" stroke="#1a1a1a" stroke-width="1.3"/>
<text x="666.00" y="235.40" font-size="10.7" text-anchor="middle">ns</text>
<line x1="658.40" y1="240.60" x2="673.70" y2="240.60" stroke="#1a1a1a" stroke-width="1.3"/>
<rect x="623.60" y="167.60" width="11.20" height="5.40" fill="#8fd4dc" stroke="#1a1a1a" stroke-width="1.0"/>
<text x="641.40" y="173.60" font-size="10.7" text-anchor="start">WT-DKO</text>
<rect x="623.60" y="182.40" width="11.20" height="5.40" fill="#f59b7e" stroke="#1a1a1a" stroke-width="1.0"/>
<text x="641.40" y="188.40" font-size="10.7" text-anchor="start"><tspan font-style="italic">H19</tspan>-IG</text>
<rect x="5.80" y="310.40" width="166.60" height="103.00" fill="#f9f8f4" stroke="none" stroke-width="1.2"/>
<text transform="translate(9.20 317.70) scale(0.8 1)" font-size="8.9" text-anchor="middle" font-weight="bold" fill="#111" stroke="#111" stroke-width="0.3">G</text>
<text transform="translate(16.17 317.70) scale(0.8 1)" font-size="8.9" text-anchor="middle" font-weight="bold" fill="#111" stroke="#111" stroke-width="0.3">A</text>
<text transform="translate(23.15 317.70) scale(0.8 1)" font-size="8.9" text-anchor="middle" font-weight="bold" fill="#111" stroke="#111" stroke-width="0.3">C</text>
<text transform="translate(30.12 317.70) scale(0.8 1)" font-size="8.9" text-anchor="middle" font-weight="bold" fill="#111" stroke="#111" stroke-width="0.3">T</text>
<text transform="translate(37.10 317.70) scale(0.8 1)" font-size="8.9" text-anchor="middle" font-weight="bold" fill="#111" stroke="#111" stroke-width="0.3">A</text>
<text transform="translate(44.07 317.70) scale(0.8 1)" font-size="8.9" text-anchor="middle" font-weight="bold" fill="#111" stroke="#111" stroke-width="0.3">A</text>
<text transform="translate(51.04 317.70) scale(0.8 1)" font-size="8.9" text-anchor="middle" font-weight="bold" fill="#111" stroke="#111" stroke-width="0.3">A</text>
<text transform="translate(58.02 317.70) scale(0.8 1)" font-size="8.9" text-anchor="middle" font-weight="bold" fill="#111" stroke="#111" stroke-width="0.3">G</text>
<text transform="translate(64.99 317.70) scale(0.8 1)" font-size="8.9" text-anchor="middle" font-weight="bold" fill="#111" stroke="#111" stroke-width="0.3">A</text>
<text transform="translate(71.97 317.70) scale(0.8 1)" font-size="8.9" text-anchor="middle" font-weight="bold" fill="#111" stroke="#111" stroke-width="0.3">T</text>
<text transform="translate(78.94 317.70) scale(0.8 1)" font-size="8.9" text-anchor="middle" font-weight="bold" fill="#111" stroke="#111" stroke-width="0.3">C</text>
<text transform="translate(85.91 317.70) scale(0.8 1)" font-size="8.9" text-anchor="middle" font-weight="bold" fill="#111" stroke="#111" stroke-width="0.3">C</text>
<text transform="translate(99.86 317.70) scale(0.8 1)" font-size="8.9" text-anchor="middle" font-weight="bold" fill="#111" stroke="#111" stroke-width="0.3">A</text>
<text transform="translate(106.83 317.70) scale(0.8 1)" font-size="8.9" text-anchor="middle" font-weight="bold" fill="#111" stroke="#111" stroke-width="0.3">A</text>
<text transform="translate(113.81 317.70) scale(0.8 1)" font-size="8.9" text-anchor="middle" font-weight="bold" fill="#111" stroke="#111" stroke-width="0.3">A</text>
<text transform="translate(120.78 317.70) scale(0.8 1)" font-size="8.9" text-anchor="middle" font-weight="bold" fill="#111" stroke="#111" stroke-width="0.3">T</text>
<text transform="translate(127.76 317.70) scale(0.8 1)" font-size="8.9" text-anchor="middle" font-weight="bold" fill="#111" stroke="#111" stroke-width="0.3">G</text>
<text transform="translate(134.73 317.70) scale(0.8 1)" font-size="8.9" text-anchor="middle" font-weight="bold" fill="#111" stroke="#111" stroke-width="0.3">G</text>
<text transform="translate(141.70 317.70) scale(0.8 1)" font-size="8.9" text-anchor="middle" font-weight="bold" fill="#111" stroke="#111" stroke-width="0.3">A</text>
<text transform="translate(148.68 317.70) scale(0.8 1)" font-size="8.9" text-anchor="middle" font-weight="bold" fill="#111" stroke="#111" stroke-width="0.3">A</text>
<text transform="translate(155.65 317.70) scale(0.8 1)" font-size="8.9" text-anchor="middle" font-weight="bold" fill="#111" stroke="#111" stroke-width="0.3">A</text>
<text transform="translate(162.63 317.70) scale(0.8 1)" font-size="8.9" text-anchor="middle" font-weight="bold" fill="#111" stroke="#111" stroke-width="0.3">G</text>
<text transform="translate(169.60 317.70) scale(0.8 1)" font-size="8.9" text-anchor="middle" font-weight="bold" fill="#111" stroke="#111" stroke-width="0.3">A</text>
<line x1="5.80" y1="323.90" x2="172.40" y2="323.90" stroke="#c9c7c2" stroke-width="1.2"/>
<rect x="88.59" y="329.70" width="8.60" height="11.60" fill="#f09496" stroke="#dc3b42" stroke-width="0.8"/>
<text transform="translate(9.20 338.90) scale(0.84 1)" font-size="9.5" text-anchor="middle" fill="#222" stroke="#222" stroke-width="0.15">G</text>
<text transform="translate(16.17 338.90) scale(0.84 1)" font-size="9.5" text-anchor="middle" fill="#222" stroke="#222" stroke-width="0.15">A</text>
<text transform="translate(23.15 338.90) scale(0.84 1)" font-size="9.5" text-anchor="middle" fill="#222" stroke="#222" stroke-width="0.15">C</text>
<text transform="translate(30.12 338.90) scale(0.84 1)" font-size="9.5" text-anchor="middle" fill="#222" stroke="#222" stroke-width="0.15">T</text>
<text transform="translate(37.10 338.90) scale(0.84 1)" font-size="9.5" text-anchor="middle" fill="#222" stroke="#222" stroke-width="0.15">A</text>
<text transform="translate(44.07 338.90) scale(0.84 1)" font-size="9.5" text-anchor="middle" fill="#222" stroke="#222" stroke-width="0.15">A</text>
<text transform="translate(51.04 338.90) scale(0.84 1)" font-size="9.5" text-anchor="middle" fill="#222" stroke="#222" stroke-width="0.15">A</text>
<text transform="translate(58.02 338.90) scale(0.84 1)" font-size="9.5" text-anchor="middle" fill="#222" stroke="#222" stroke-width="0.15">G</text>
<text transform="translate(64.99 338.90) scale(0.84 1)" font-size="9.5" text-anchor="middle" fill="#222" stroke="#222" stroke-width="0.15">A</text>
<text transform="translate(71.97 338.90) scale(0.84 1)" font-size="9.5" text-anchor="middle" fill="#222" stroke="#222" stroke-width="0.15">T</text>
<text transform="translate(78.94 338.90) scale(0.84 1)" font-size="9.5" text-anchor="middle" fill="#222" stroke="#222" stroke-width="0.15">C</text>
<text transform="translate(85.91 338.90) scale(0.84 1)" font-size="9.5" text-anchor="middle" fill="#222" stroke="#222" stroke-width="0.15">C</text>
<text transform="translate(92.89 338.90) scale(0.84 1)" font-size="9.5" text-anchor="middle" fill="#222" stroke="#222" stroke-width="0.15">C</text>
<text transform="translate(99.86 338.90) scale(0.84 1)" font-size="9.5" text-anchor="middle" fill="#222" stroke="#222" stroke-width="0.15">A</text>
<text transform="translate(106.83 338.90) scale(0.84 1)" font-size="9.5" text-anchor="middle" fill="#222" stroke="#222" stroke-width="0.15">A</text>
<text transform="translate(113.81 338.90) scale(0.84 1)" font-size="9.5" text-anchor="middle" fill="#222" stroke="#222" stroke-width="0.15">A</text>
<text transform="translate(120.78 338.90) scale(0.84 1)" font-size="9.5" text-anchor="middle" fill="#222" stroke="#222" stroke-width="0.15">T</text>
<text transform="translate(127.76 338.90) scale(0.84 1)" font-size="9.5" text-anchor="middle" fill="#222" stroke="#222" stroke-width="0.15">G</text>
<text transform="translate(134.73 338.90) scale(0.84 1)" font-size="9.5" text-anchor="middle" fill="#222" stroke="#222" stroke-width="0.15">G</text>
<text transform="translate(141.70 338.90) scale(0.84 1)" font-size="9.5" text-anchor="middle" fill="#222" stroke="#222" stroke-width="0.15">A</text>
<text transform="translate(148.68 338.90) scale(0.84 1)" font-size="9.5" text-anchor="middle" fill="#222" stroke="#222" stroke-width="0.15">A</text>
<text transform="translate(155.65 338.90) scale(0.84 1)" font-size="9.5" text-anchor="middle" fill="#222" stroke="#222" stroke-width="0.15">A</text>
<text transform="translate(162.63 338.90) scale(0.84 1)" font-size="9.5" text-anchor="middle" fill="#222" stroke="#222" stroke-width="0.15">G</text>
<text transform="translate(169.60 338.90) scale(0.84 1)" font-size="9.5" text-anchor="middle" fill="#222" stroke="#222" stroke-width="0.15">A</text>
<line x1="28.50" y1="343.30" x2="28.50" y2="412.20" stroke="#b5b3ae" stroke-width="0.8" stroke-dasharray="2.4,1.8"/>
<line x1="105.50" y1="343.30" x2="105.50" y2="412.20" stroke="#b5b3ae" stroke-width="0.8" stroke-dasharray="2.4,1.8"/>
<polygon points="6.3,412.2 6.3,412.2 6.9,412.2 7.5,412.2 8.1,412.2 8.7,412.2 9.3,412.1 9.9,411.9 10.5,411.5 11.1,410.6 11.7,409.1 12.3,406.7 12.9,403.5 13.5,399.8 14.1,396.4 14.7,394.2 15.3,393.9 15.9,395.5 16.5,398.6 17.1,402.3 17.7,405.7 18.3,408.4 18.9,410.2 19.5,411.3 20.1,411.8 20.7,412.1 21.3,412.2 21.9,412.2 22.5,412.2 23.1,412.2 23.7,412.2 24.3,412.2 24.9,412.2 25.5,412.2 26.1,412.2 26.7,412.2 27.3,412.2 27.9,412.2 28.5,412.2 29.1,412.2 29.7,412.1 30.3,412.0 30.9,411.7 31.5,411.0 32.1,409.6 32.7,406.9 33.3,402.9 33.9,397.4 34.5,391.1 35.1,385.4 35.7,381.7 36.3,381.1 36.9,383.7 37.5,388.7 38.1,394.4 38.7,399.1 39.3,401.3 39.9,400.3 40.5,396.0 41.1,389.2 41.7,381.3 42.3,374.5 42.9,370.9 43.5,371.7 44.1,376.5 44.7,383.8 45.3,391.4 45.9,397.3 46.5,400.2 47.1,399.8 47.7,396.5 48.3,391.6 48.9,386.5 49.5,383.1 50.1,382.7 50.7,385.3 51.3,390.3 51.9,396.2 52.5,401.7 53.1,406.1 53.7,409.0 54.3,410.7 54.9,411.6 55.5,412.0 56.1,412.1 56.7,412.2 57.3,412.2 57.9,412.1 58.5,411.9 59.1,411.5 59.7,410.6 60.3,409.0 60.9,406.6 61.5,403.3 62.1,399.5 62.7,396.1 63.3,393.9 63.9,393.5 64.5,395.2 65.1,398.3 65.7,402.1 66.3,405.6 66.9,408.3 67.5,410.2 68.1,411.3 68.7,411.8 69.3,412.1 69.9,412.2 70.5,412.2 71.1,412.2 71.7,412.2 72.3,412.2 72.9,412.2 73.5,412.2 74.1,412.2 74.7,412.2 75.3,412.2 75.9,412.2 76.5,412.2 77.1,412.2 77.7,412.2 78.3,412.2 78.9,412.2 79.5,412.2 80.1,412.2 80.7,412.2 81.3,412.2 81.9,412.2 82.5,412.2 83.1,412.2 83.7,412.2 84.3,412.2 84.9,412.2 85.5,412.2 86.1,412.2 86.7,412.2 87.3,412.2 87.9,412.2 88.5,412.2 89.1,412.2 89.7,412.2 90.3,412.2 90.9,412.2 91.5,412.2 92.1,412.2 92.7,412.1 93.3,412.0 93.9,411.6 94.5,410.7 95.1,409.1 95.7,406.4 96.3,402.5 96.9,397.6 97.5,392.6 98.1,388.6 98.7,386.8 99.3,387.7 99.9,391.0 100.5,395.5 101.1,399.8 101.7,402.7 102.3,403.2 102.9,400.9 103.5,396.1 104.1,389.8 104.7,383.5 105.3,379.0 105.9,377.7 106.5,380.1 107.1,385.4 107.7,391.9 108.3,397.8 108.9,401.5 109.5,402.3 110.1,400.1 110.7,395.2 111.3,389.0 111.9,383.0 112.5,379.0 113.1,378.4 113.7,381.4 114.3,387.1 114.9,393.9 115.5,400.2 116.1,405.2 116.7,408.5 117.3,410.5 117.9,411.5 118.5,411.9 119.1,412.1 119.7,412.2 120.3,412.2 120.9,412.2 121.5,412.2 122.1,412.2 122.7,412.2 123.3,412.2 123.9,412.2 124.5,412.2 125.1,412.2 125.7,412.2 126.3,412.2 126.9,412.2 127.5,412.2 128.1,412.2 128.7,412.2 129.3,412.2 129.9,412.2 130.5,412.2 131.1,412.2 131.7,412.2 132.3,412.2 132.9,412.2 133.5,412.2 134.1,412.2 134.7,412.1 135.3,411.9 135.9,411.5 136.5,410.7 137.1,409.0 137.7,406.1 138.3,402.0 138.9,396.9 139.5,391.6 140.1,387.4 140.7,385.5 141.3,386.5 141.9,389.9 142.5,394.6 143.1,399.2 143.7,402.1 144.3,402.6 144.9,400.0 145.5,394.9 146.1,388.0 146.7,381.2 147.3,376.4 147.9,375.0 148.5,377.6 149.1,383.3 149.7,390.3 150.3,396.6 150.9,400.7 151.5,401.9 152.1,400.4 152.7,396.7 153.3,392.3 153.9,388.5 154.5,386.8 155.1,387.8 155.7,391.1 156.3,395.9 156.9,401.0 157.5,405.3 158.1,408.4 158.7,410.3 159.3,411.4 159.9,411.9 160.5,412.1 161.1,412.2 161.7,412.2 162.3,412.2 162.9,412.2 163.5,412.1 164.1,412.0 164.7,411.7 165.3,410.9 165.9,409.4 166.5,406.7 167.1,402.7 167.7,397.4 168.3,391.5 168.9,386.3 169.5,383.3 170.1,383.3 170.7,386.3 171.3,391.5 171.9,397.4 171.9,412.2" fill="rgba(63,174,73,0.17)"/>
<polyline points="6.3,412.2 6.9,412.2 7.5,412.2 8.1,412.2 8.7,412.2 9.3,412.1 9.9,411.9 10.5,411.5 11.1,410.6 11.7,409.1 12.3,406.7 12.9,403.5 13.5,399.8 14.1,396.4 14.7,394.2 15.3,393.9 15.9,395.5 16.5,398.6 17.1,402.3 17.7,405.7 18.3,408.4 18.9,410.2 19.5,411.3 20.1,411.8 20.7,412.1 21.3,412.2 21.9,412.2 22.5,412.2 23.1,412.2 23.7,412.2 24.3,412.2 24.9,412.2 25.5,412.2 26.1,412.2 26.7,412.2 27.3,412.2 27.9,412.2 28.5,412.2 29.1,412.2 29.7,412.1 30.3,412.0 30.9,411.7 31.5,411.0 32.1,409.6 32.7,406.9 33.3,402.9 33.9,397.4 34.5,391.1 35.1,385.4 35.7,381.7 36.3,381.1 36.9,383.7 37.5,388.7 38.1,394.4 38.7,399.1 39.3,401.3 39.9,400.3 40.5,396.0 41.1,389.2 41.7,381.3 42.3,374.5 42.9,370.9 43.5,371.7 44.1,376.5 44.7,383.8 45.3,391.4 45.9,397.3 46.5,400.2 47.1,399.8 47.7,396.5 48.3,391.6 48.9,386.5 49.5,383.1 50.1,382.7 50.7,385.3 51.3,390.3 51.9,396.2 52.5,401.7 53.1,406.1 53.7,409.0 54.3,410.7 54.9,411.6 55.5,412.0 56.1,412.1 56.7,412.2 57.3,412.2 57.9,412.1 58.5,411.9 59.1,411.5 59.7,410.6 60.3,409.0 60.9,406.6 61.5,403.3 62.1,399.5 62.7,396.1 63.3,393.9 63.9,393.5 64.5,395.2 65.1,398.3 65.7,402.1 66.3,405.6 66.9,408.3 67.5,410.2 68.1,411.3 68.7,411.8 69.3,412.1 69.9,412.2 70.5,412.2 71.1,412.2 71.7,412.2 72.3,412.2 72.9,412.2 73.5,412.2 74.1,412.2 74.7,412.2 75.3,412.2 75.9,412.2 76.5,412.2 77.1,412.2 77.7,412.2 78.3,412.2 78.9,412.2 79.5,412.2 80.1,412.2 80.7,412.2 81.3,412.2 81.9,412.2 82.5,412.2 83.1,412.2 83.7,412.2 84.3,412.2 84.9,412.2 85.5,412.2 86.1,412.2 86.7,412.2 87.3,412.2 87.9,412.2 88.5,412.2 89.1,412.2 89.7,412.2 90.3,412.2 90.9,412.2 91.5,412.2 92.1,412.2 92.7,412.1 93.3,412.0 93.9,411.6 94.5,410.7 95.1,409.1 95.7,406.4 96.3,402.5 96.9,397.6 97.5,392.6 98.1,388.6 98.7,386.8 99.3,387.7 99.9,391.0 100.5,395.5 101.1,399.8 101.7,402.7 102.3,403.2 102.9,400.9 103.5,396.1 104.1,389.8 104.7,383.5 105.3,379.0 105.9,377.7 106.5,380.1 107.1,385.4 107.7,391.9 108.3,397.8 108.9,401.5 109.5,402.3 110.1,400.1 110.7,395.2 111.3,389.0 111.9,383.0 112.5,379.0 113.1,378.4 113.7,381.4 114.3,387.1 114.9,393.9 115.5,400.2 116.1,405.2 116.7,408.5 117.3,410.5 117.9,411.5 118.5,411.9 119.1,412.1 119.7,412.2 120.3,412.2 120.9,412.2 121.5,412.2 122.1,412.2 122.7,412.2 123.3,412.2 123.9,412.2 124.5,412.2 125.1,412.2 125.7,412.2 126.3,412.2 126.9,412.2 127.5,412.2 128.1,412.2 128.7,412.2 129.3,412.2 129.9,412.2 130.5,412.2 131.1,412.2 131.7,412.2 132.3,412.2 132.9,412.2 133.5,412.2 134.1,412.2 134.7,412.1 135.3,411.9 135.9,411.5 136.5,410.7 137.1,409.0 137.7,406.1 138.3,402.0 138.9,396.9 139.5,391.6 140.1,387.4 140.7,385.5 141.3,386.5 141.9,389.9 142.5,394.6 143.1,399.2 143.7,402.1 144.3,402.6 144.9,400.0 145.5,394.9 146.1,388.0 146.7,381.2 147.3,376.4 147.9,375.0 148.5,377.6 149.1,383.3 149.7,390.3 150.3,396.6 150.9,400.7 151.5,401.9 152.1,400.4 152.7,396.7 153.3,392.3 153.9,388.5 154.5,386.8 155.1,387.8 155.7,391.1 156.3,395.9 156.9,401.0 157.5,405.3 158.1,408.4 158.7,410.3 159.3,411.4 159.9,411.9 160.5,412.1 161.1,412.2 161.7,412.2 162.3,412.2 162.9,412.2 163.5,412.1 164.1,412.0 164.7,411.7 165.3,410.9 165.9,409.4 166.5,406.7 167.1,402.7 167.7,397.4 168.3,391.5 168.9,386.3 169.5,383.3 170.1,383.3 170.7,386.3 171.3,391.5 171.9,397.4" fill="none" stroke="#3fae49" stroke-width="1.25" stroke-linejoin="round"/>
<polygon points="6.3,412.2 6.3,396.0 6.9,391.6 7.5,388.8 8.1,388.3 8.7,390.5 9.3,394.5 9.9,399.3 10.5,403.7 11.1,407.3 11.7,409.6 12.3,411.0 12.9,411.7 13.5,412.0 14.1,412.1 14.7,412.2 15.3,412.2 15.9,412.2 16.5,412.2 17.1,412.2 17.7,412.2 18.3,412.2 18.9,412.2 19.5,412.2 20.1,412.2 20.7,412.2 21.3,412.2 21.9,412.2 22.5,412.2 23.1,412.2 23.7,412.2 24.3,412.2 24.9,412.2 25.5,412.2 26.1,412.2 26.7,412.2 27.3,412.2 27.9,412.2 28.5,412.2 29.1,412.2 29.7,412.2 30.3,412.2 30.9,412.2 31.5,412.2 32.1,412.2 32.7,412.2 33.3,412.2 33.9,412.2 34.5,412.2 35.1,412.2 35.7,412.2 36.3,412.2 36.9,412.2 37.5,412.2 38.1,412.2 38.7,412.2 39.3,412.2 39.9,412.2 40.5,412.2 41.1,412.2 41.7,412.2 42.3,412.2 42.9,412.2 43.5,412.2 44.1,412.2 44.7,412.2 45.3,412.2 45.9,412.2 46.5,412.2 47.1,412.2 47.7,412.2 48.3,412.2 48.9,412.2 49.5,412.2 50.1,412.2 50.7,412.1 51.3,411.9 51.9,411.5 52.5,410.6 53.1,408.9 53.7,406.0 54.3,401.8 54.9,396.6 55.5,391.2 56.1,386.9 56.7,384.9 57.3,385.9 57.9,389.6 58.5,394.7 59.1,400.1 59.7,404.7 60.3,408.1 60.9,410.2 61.5,411.3 62.1,411.8 62.7,412.1 63.3,412.2 63.9,412.2 64.5,412.2 65.1,412.2 65.7,412.2 66.3,412.2 66.9,412.2 67.5,412.2 68.1,412.2 68.7,412.2 69.3,412.2 69.9,412.2 70.5,412.2 71.1,412.2 71.7,412.2 72.3,412.2 72.9,412.2 73.5,412.2 74.1,412.2 74.7,412.2 75.3,412.2 75.9,412.2 76.5,412.2 77.1,412.2 77.7,412.2 78.3,412.2 78.9,412.2 79.5,412.2 80.1,412.2 80.7,412.2 81.3,412.2 81.9,412.2 82.5,412.2 83.1,412.2 83.7,412.2 84.3,412.2 84.9,412.2 85.5,412.2 86.1,412.2 86.7,412.2 87.3,412.2 87.9,412.2 88.5,412.2 89.1,412.2 89.7,412.2 90.3,412.2 90.9,412.2 91.5,412.2 92.1,412.2 92.7,412.2 93.3,412.2 93.9,412.2 94.5,412.2 95.1,412.2 95.7,412.2 96.3,412.2 96.9,412.2 97.5,412.2 98.1,412.2 98.7,412.2 99.3,412.2 99.9,412.2 100.5,412.2 101.1,412.2 101.7,412.2 102.3,412.2 102.9,412.2 103.5,412.2 104.1,412.2 104.7,412.2 105.3,412.2 105.9,412.2 106.5,412.2 107.1,412.2 107.7,412.2 108.3,412.2 108.9,412.2 109.5,412.2 110.1,412.2 110.7,412.2 111.3,412.2 111.9,412.2 112.5,412.2 113.1,412.2 113.7,412.2 114.3,412.2 114.9,412.2 115.5,412.2 116.1,412.2 116.7,412.2 117.3,412.2 117.9,412.2 118.5,412.2 119.1,412.2 119.7,412.2 120.3,412.1 120.9,411.9 121.5,411.5 122.1,410.5 122.7,408.7 123.3,405.6 123.9,401.0 124.5,395.4 125.1,389.6 125.7,385.0 126.3,382.9 126.9,384.0 127.5,387.8 128.1,393.0 128.7,398.2 129.3,401.9 129.9,403.2 130.5,401.8 131.1,397.9 131.7,392.5 132.3,387.0 132.9,383.1 133.5,382.0 134.1,384.2 134.7,388.9 135.3,394.9 135.9,400.7 136.5,405.3 137.1,408.5 137.7,410.5 138.3,411.5 138.9,411.9 139.5,412.1 140.1,412.2 140.7,412.2 141.3,412.2 141.9,412.2 142.5,412.2 143.1,412.2 143.7,412.2 144.3,412.2 144.9,412.2 145.5,412.2 146.1,412.2 146.7,412.2 147.3,412.2 147.9,412.2 148.5,412.2 149.1,412.2 149.7,412.2 150.3,412.2 150.9,412.2 151.5,412.2 152.1,412.2 152.7,412.2 153.3,412.2 153.9,412.2 154.5,412.2 155.1,412.2 155.7,412.1 156.3,412.0 156.9,411.7 157.5,411.0 158.1,409.7 158.7,407.4 159.3,404.0 159.9,399.6 160.5,394.9 161.1,391.0 161.7,388.9 162.3,389.4 162.9,392.1 163.5,396.4 164.1,401.1 164.7,405.2 165.3,408.3 165.9,410.2 166.5,411.3 167.1,411.8 167.7,412.1 168.3,412.2 168.9,412.2 169.5,412.2 170.1,412.2 170.7,412.2 171.3,412.2 171.9,412.2 171.9,412.2" fill="rgba(40,40,40,0.17)"/>
<polyline points="6.3,396.0 6.9,391.6 7.5,388.8 8.1,388.3 8.7,390.5 9.3,394.5 9.9,399.3 10.5,403.7 11.1,407.3 11.7,409.6 12.3,411.0 12.9,411.7 13.5,412.0 14.1,412.1 14.7,412.2 15.3,412.2 15.9,412.2 16.5,412.2 17.1,412.2 17.7,412.2 18.3,412.2 18.9,412.2 19.5,412.2 20.1,412.2 20.7,412.2 21.3,412.2 21.9,412.2 22.5,412.2 23.1,412.2 23.7,412.2 24.3,412.2 24.9,412.2 25.5,412.2 26.1,412.2 26.7,412.2 27.3,412.2 27.9,412.2 28.5,412.2 29.1,412.2 29.7,412.2 30.3,412.2 30.9,412.2 31.5,412.2 32.1,412.2 32.7,412.2 33.3,412.2 33.9,412.2 34.5,412.2 35.1,412.2 35.7,412.2 36.3,412.2 36.9,412.2 37.5,412.2 38.1,412.2 38.7,412.2 39.3,412.2 39.9,412.2 40.5,412.2 41.1,412.2 41.7,412.2 42.3,412.2 42.9,412.2 43.5,412.2 44.1,412.2 44.7,412.2 45.3,412.2 45.9,412.2 46.5,412.2 47.1,412.2 47.7,412.2 48.3,412.2 48.9,412.2 49.5,412.2 50.1,412.2 50.7,412.1 51.3,411.9 51.9,411.5 52.5,410.6 53.1,408.9 53.7,406.0 54.3,401.8 54.9,396.6 55.5,391.2 56.1,386.9 56.7,384.9 57.3,385.9 57.9,389.6 58.5,394.7 59.1,400.1 59.7,404.7 60.3,408.1 60.9,410.2 61.5,411.3 62.1,411.8 62.7,412.1 63.3,412.2 63.9,412.2 64.5,412.2 65.1,412.2 65.7,412.2 66.3,412.2 66.9,412.2 67.5,412.2 68.1,412.2 68.7,412.2 69.3,412.2 69.9,412.2 70.5,412.2 71.1,412.2 71.7,412.2 72.3,412.2 72.9,412.2 73.5,412.2 74.1,412.2 74.7,412.2 75.3,412.2 75.9,412.2 76.5,412.2 77.1,412.2 77.7,412.2 78.3,412.2 78.9,412.2 79.5,412.2 80.1,412.2 80.7,412.2 81.3,412.2 81.9,412.2 82.5,412.2 83.1,412.2 83.7,412.2 84.3,412.2 84.9,412.2 85.5,412.2 86.1,412.2 86.7,412.2 87.3,412.2 87.9,412.2 88.5,412.2 89.1,412.2 89.7,412.2 90.3,412.2 90.9,412.2 91.5,412.2 92.1,412.2 92.7,412.2 93.3,412.2 93.9,412.2 94.5,412.2 95.1,412.2 95.7,412.2 96.3,412.2 96.9,412.2 97.5,412.2 98.1,412.2 98.7,412.2 99.3,412.2 99.9,412.2 100.5,412.2 101.1,412.2 101.7,412.2 102.3,412.2 102.9,412.2 103.5,412.2 104.1,412.2 104.7,412.2 105.3,412.2 105.9,412.2 106.5,412.2 107.1,412.2 107.7,412.2 108.3,412.2 108.9,412.2 109.5,412.2 110.1,412.2 110.7,412.2 111.3,412.2 111.9,412.2 112.5,412.2 113.1,412.2 113.7,412.2 114.3,412.2 114.9,412.2 115.5,412.2 116.1,412.2 116.7,412.2 117.3,412.2 117.9,412.2 118.5,412.2 119.1,412.2 119.7,412.2 120.3,412.1 120.9,411.9 121.5,411.5 122.1,410.5 122.7,408.7 123.3,405.6 123.9,401.0 124.5,395.4 125.1,389.6 125.7,385.0 126.3,382.9 126.9,384.0 127.5,387.8 128.1,393.0 128.7,398.2 129.3,401.9 129.9,403.2 130.5,401.8 131.1,397.9 131.7,392.5 132.3,387.0 132.9,383.1 133.5,382.0 134.1,384.2 134.7,388.9 135.3,394.9 135.9,400.7 136.5,405.3 137.1,408.5 137.7,410.5 138.3,411.5 138.9,411.9 139.5,412.1 140.1,412.2 140.7,412.2 141.3,412.2 141.9,412.2 142.5,412.2 143.1,412.2 143.7,412.2 144.3,412.2 144.9,412.2 145.5,412.2 146.1,412.2 146.7,412.2 147.3,412.2 147.9,412.2 148.5,412.2 149.1,412.2 149.7,412.2 150.3,412.2 150.9,412.2 151.5,412.2 152.1,412.2 152.7,412.2 153.3,412.2 153.9,412.2 154.5,412.2 155.1,412.2 155.7,412.1 156.3,412.0 156.9,411.7 157.5,411.0 158.1,409.7 158.7,407.4 159.3,404.0 159.9,399.6 160.5,394.9 161.1,391.0 161.7,388.9 162.3,389.4 162.9,392.1 163.5,396.4 164.1,401.1 164.7,405.2 165.3,408.3 165.9,410.2 166.5,411.3 167.1,411.8 167.7,412.1 168.3,412.2 168.9,412.2 169.5,412.2 170.1,412.2 170.7,412.2 171.3,412.2 171.9,412.2" fill="none" stroke="#1a1a1a" stroke-width="1.25" stroke-linejoin="round"/>
<polygon points="6.3,412.2 6.3,412.2 6.9,412.2 7.5,412.2 8.1,412.2 8.7,412.2 9.3,412.2 9.9,412.2 10.5,412.2 11.1,412.2 11.7,412.2 12.3,412.2 12.9,412.2 13.5,412.2 14.1,412.2 14.7,412.2 15.3,412.2 15.9,412.2 16.5,412.1 17.1,411.9 17.7,411.3 18.3,410.3 18.9,408.4 19.5,405.4 20.1,401.4 20.7,396.9 21.3,392.7 21.9,390.1 22.5,389.6 23.1,391.6 23.7,395.4 24.3,400.0 24.9,404.2 25.5,407.5 26.1,409.8 26.7,411.1 27.3,411.7 27.9,412.0 28.5,412.1 29.1,412.2 29.7,412.2 30.3,412.2 30.9,412.2 31.5,412.2 32.1,412.2 32.7,412.2 33.3,412.2 33.9,412.2 34.5,412.2 35.1,412.2 35.7,412.2 36.3,412.2 36.9,412.2 37.5,412.2 38.1,412.2 38.7,412.2 39.3,412.2 39.9,412.2 40.5,412.2 41.1,412.2 41.7,412.2 42.3,412.2 42.9,412.2 43.5,412.2 44.1,412.2 44.7,412.2 45.3,412.2 45.9,412.2 46.5,412.2 47.1,412.2 47.7,412.2 48.3,412.2 48.9,412.2 49.5,412.2 50.1,412.2 50.7,412.2 51.3,412.2 51.9,412.2 52.5,412.2 53.1,412.2 53.7,412.2 54.3,412.2 54.9,412.2 55.5,412.2 56.1,412.2 56.7,412.2 57.3,412.2 57.9,412.2 58.5,412.2 59.1,412.2 59.7,412.2 60.3,412.2 60.9,412.2 61.5,412.2 62.1,412.2 62.7,412.2 63.3,412.2 63.9,412.2 64.5,412.2 65.1,412.2 65.7,412.2 66.3,412.2 66.9,412.2 67.5,412.2 68.1,412.2 68.7,412.2 69.3,412.2 69.9,412.2 70.5,412.2 71.1,412.2 71.7,412.1 72.3,412.0 72.9,411.7 73.5,411.0 74.1,409.8 74.7,408.0 75.3,405.5 75.9,402.6 76.5,400.0 77.1,398.3 77.7,398.0 78.3,399.2 78.9,401.4 79.5,403.7 80.1,405.3 80.7,405.6 81.3,404.1 81.9,401.1 82.5,397.1 83.1,393.2 83.7,390.7 84.3,390.3 84.9,392.2 85.5,395.8 86.1,399.9 86.7,403.4 87.3,405.2 87.9,404.6 88.5,401.3 89.1,395.3 89.7,387.4 90.3,379.0 90.9,372.3 91.5,369.3 92.1,370.8 92.7,376.5 93.3,384.7 93.9,393.2 94.5,400.5 95.1,405.7 95.7,409.0 96.3,410.8 96.9,411.6 97.5,412.0 98.1,412.1 98.7,412.2 99.3,412.2 99.9,412.2 100.5,412.2 101.1,412.2 101.7,412.2 102.3,412.2 102.9,412.2 103.5,412.2 104.1,412.2 104.7,412.2 105.3,412.2 105.9,412.2 106.5,412.2 107.1,412.2 107.7,412.2 108.3,412.2 108.9,412.2 109.5,412.2 110.1,412.2 110.7,412.2 111.3,412.2 111.9,412.2 112.5,412.2 113.1,412.2 113.7,412.2 114.3,412.2 114.9,412.2 115.5,412.2 116.1,412.2 116.7,412.2 117.3,412.2 117.9,412.2 118.5,412.2 119.1,412.2 119.7,412.2 120.3,412.2 120.9,412.2 121.5,412.2 122.1,412.2 122.7,412.2 123.3,412.2 123.9,412.2 124.5,412.2 125.1,412.2 125.7,412.2 126.3,412.2 126.9,412.2 127.5,412.2 128.1,412.2 128.7,412.2 129.3,412.2 129.9,412.2 130.5,412.2 131.1,412.2 131.7,412.2 132.3,412.2 132.9,412.2 133.5,412.2 134.1,412.2 134.7,412.2 135.3,412.2 135.9,412.2 136.5,412.2 137.1,412.2 137.7,412.2 138.3,412.2 138.9,412.2 139.5,412.2 140.1,412.2 140.7,412.2 141.3,412.2 141.9,412.2 142.5,412.2 143.1,412.2 143.7,412.2 144.3,412.2 144.9,412.2 145.5,412.2 146.1,412.2 146.7,412.2 147.3,412.2 147.9,412.2 148.5,412.2 149.1,412.2 149.7,412.2 150.3,412.2 150.9,412.2 151.5,412.2 152.1,412.2 152.7,412.2 153.3,412.2 153.9,412.2 154.5,412.2 155.1,412.2 155.7,412.2 156.3,412.2 156.9,412.2 157.5,412.2 158.1,412.2 158.7,412.2 159.3,412.2 159.9,412.2 160.5,412.2 161.1,412.2 161.7,412.2 162.3,412.2 162.9,412.2 163.5,412.2 164.1,412.2 164.7,412.2 165.3,412.2 165.9,412.2 166.5,412.2 167.1,412.2 167.7,412.2 168.3,412.2 168.9,412.2 169.5,412.2 170.1,412.2 170.7,412.2 171.3,412.2 171.9,412.2 171.9,412.2" fill="rgba(47,111,201,0.17)"/>
<polyline points="6.3,412.2 6.9,412.2 7.5,412.2 8.1,412.2 8.7,412.2 9.3,412.2 9.9,412.2 10.5,412.2 11.1,412.2 11.7,412.2 12.3,412.2 12.9,412.2 13.5,412.2 14.1,412.2 14.7,412.2 15.3,412.2 15.9,412.2 16.5,412.1 17.1,411.9 17.7,411.3 18.3,410.3 18.9,408.4 19.5,405.4 20.1,401.4 20.7,396.9 21.3,392.7 21.9,390.1 22.5,389.6 23.1,391.6 23.7,395.4 24.3,400.0 24.9,404.2 25.5,407.5 26.1,409.8 26.7,411.1 27.3,411.7 27.9,412.0 28.5,412.1 29.1,412.2 29.7,412.2 30.3,412.2 30.9,412.2 31.5,412.2 32.1,412.2 32.7,412.2 33.3,412.2 33.9,412.2 34.5,412.2 35.1,412.2 35.7,412.2 36.3,412.2 36.9,412.2 37.5,412.2 38.1,412.2 38.7,412.2 39.3,412.2 39.9,412.2 40.5,412.2 41.1,412.2 41.7,412.2 42.3,412.2 42.9,412.2 43.5,412.2 44.1,412.2 44.7,412.2 45.3,412.2 45.9,412.2 46.5,412.2 47.1,412.2 47.7,412.2 48.3,412.2 48.9,412.2 49.5,412.2 50.1,412.2 50.7,412.2 51.3,412.2 51.9,412.2 52.5,412.2 53.1,412.2 53.7,412.2 54.3,412.2 54.9,412.2 55.5,412.2 56.1,412.2 56.7,412.2 57.3,412.2 57.9,412.2 58.5,412.2 59.1,412.2 59.7,412.2 60.3,412.2 60.9,412.2 61.5,412.2 62.1,412.2 62.7,412.2 63.3,412.2 63.9,412.2 64.5,412.2 65.1,412.2 65.7,412.2 66.3,412.2 66.9,412.2 67.5,412.2 68.1,412.2 68.7,412.2 69.3,412.2 69.9,412.2 70.5,412.2 71.1,412.2 71.7,412.1 72.3,412.0 72.9,411.7 73.5,411.0 74.1,409.8 74.7,408.0 75.3,405.5 75.9,402.6 76.5,400.0 77.1,398.3 77.7,398.0 78.3,399.2 78.9,401.4 79.5,403.7 80.1,405.3 80.7,405.6 81.3,404.1 81.9,401.1 82.5,397.1 83.1,393.2 83.7,390.7 84.3,390.3 84.9,392.2 85.5,395.8 86.1,399.9 86.7,403.4 87.3,405.2 87.9,404.6 88.5,401.3 89.1,395.3 89.7,387.4 90.3,379.0 90.9,372.3 91.5,369.3 92.1,370.8 92.7,376.5 93.3,384.7 93.9,393.2 94.5,400.5 95.1,405.7 95.7,409.0 96.3,410.8 96.9,411.6 97.5,412.0 98.1,412.1 98.7,412.2 99.3,412.2 99.9,412.2 100.5,412.2 101.1,412.2 101.7,412.2 102.3,412.2 102.9,412.2 103.5,412.2 104.1,412.2 104.7,412.2 105.3,412.2 105.9,412.2 106.5,412.2 107.1,412.2 107.7,412.2 108.3,412.2 108.9,412.2 109.5,412.2 110.1,412.2 110.7,412.2 111.3,412.2 111.9,412.2 112.5,412.2 113.1,412.2 113.7,412.2 114.3,412.2 114.9,412.2 115.5,412.2 116.1,412.2 116.7,412.2 117.3,412.2 117.9,412.2 118.5,412.2 119.1,412.2 119.7,412.2 120.3,412.2 120.9,412.2 121.5,412.2 122.1,412.2 122.7,412.2 123.3,412.2 123.9,412.2 124.5,412.2 125.1,412.2 125.7,412.2 126.3,412.2 126.9,412.2 127.5,412.2 128.1,412.2 128.7,412.2 129.3,412.2 129.9,412.2 130.5,412.2 131.1,412.2 131.7,412.2 132.3,412.2 132.9,412.2 133.5,412.2 134.1,412.2 134.7,412.2 135.3,412.2 135.9,412.2 136.5,412.2 137.1,412.2 137.7,412.2 138.3,412.2 138.9,412.2 139.5,412.2 140.1,412.2 140.7,412.2 141.3,412.2 141.9,412.2 142.5,412.2 143.1,412.2 143.7,412.2 144.3,412.2 144.9,412.2 145.5,412.2 146.1,412.2 146.7,412.2 147.3,412.2 147.9,412.2 148.5,412.2 149.1,412.2 149.7,412.2 150.3,412.2 150.9,412.2 151.5,412.2 152.1,412.2 152.7,412.2 153.3,412.2 153.9,412.2 154.5,412.2 155.1,412.2 155.7,412.2 156.3,412.2 156.9,412.2 157.5,412.2 158.1,412.2 158.7,412.2 159.3,412.2 159.9,412.2 160.5,412.2 161.1,412.2 161.7,412.2 162.3,412.2 162.9,412.2 163.5,412.2 164.1,412.2 164.7,412.2 165.3,412.2 165.9,412.2 166.5,412.2 167.1,412.2 167.7,412.2 168.3,412.2 168.9,412.2 169.5,412.2 170.1,412.2 170.7,412.2 171.3,412.2 171.9,412.2" fill="none" stroke="#2f6fc9" stroke-width="1.25" stroke-linejoin="round"/>
<polygon points="6.3,412.2 6.3,412.2 6.9,412.2 7.5,412.2 8.1,412.2 8.7,412.2 9.3,412.2 9.9,412.2 10.5,412.2 11.1,412.2 11.7,412.2 12.3,412.2 12.9,412.2 13.5,412.2 14.1,412.2 14.7,412.2 15.3,412.2 15.9,412.2 16.5,412.2 17.1,412.2 17.7,412.2 18.3,412.2 18.9,412.2 19.5,412.2 20.1,412.2 20.7,412.2 21.3,412.2 21.9,412.2 22.5,412.2 23.1,412.1 23.7,411.9 24.3,411.4 24.9,410.4 25.5,408.5 26.1,405.3 26.7,400.5 27.3,394.7 27.9,388.6 28.5,383.8 29.1,381.6 29.7,382.8 30.3,386.8 30.9,392.6 31.5,398.7 32.1,403.8 32.7,407.6 33.3,409.9 33.9,411.2 34.5,411.8 35.1,412.1 35.7,412.2 36.3,412.2 36.9,412.2 37.5,412.2 38.1,412.2 38.7,412.2 39.3,412.2 39.9,412.2 40.5,412.2 41.1,412.2 41.7,412.2 42.3,412.2 42.9,412.2 43.5,412.2 44.1,412.2 44.7,412.2 45.3,412.2 45.9,412.2 46.5,412.2 47.1,412.2 47.7,412.2 48.3,412.2 48.9,412.2 49.5,412.2 50.1,412.2 50.7,412.2 51.3,412.2 51.9,412.2 52.5,412.2 53.1,412.2 53.7,412.2 54.3,412.2 54.9,412.2 55.5,412.2 56.1,412.2 56.7,412.2 57.3,412.2 57.9,412.2 58.5,412.2 59.1,412.2 59.7,412.2 60.3,412.2 60.9,412.2 61.5,412.2 62.1,412.2 62.7,412.2 63.3,412.2 63.9,412.1 64.5,412.0 65.1,411.6 65.7,410.8 66.3,409.2 66.9,406.2 67.5,401.5 68.1,395.2 68.7,388.0 69.3,381.4 69.9,377.2 70.5,376.5 71.1,379.7 71.7,385.7 72.3,392.8 72.9,399.6 73.5,404.8 74.1,408.3 74.7,410.4 75.3,411.4 75.9,411.9 76.5,412.1 77.1,412.2 77.7,412.2 78.3,412.2 78.9,412.2 79.5,412.2 80.1,412.2 80.7,412.2 81.3,412.2 81.9,412.2 82.5,412.2 83.1,412.2 83.7,412.2 84.3,412.2 84.9,412.2 85.5,412.2 86.1,412.2 86.7,412.2 87.3,412.2 87.9,412.2 88.5,412.2 89.1,412.2 89.7,412.2 90.3,412.2 90.9,412.2 91.5,412.2 92.1,412.2 92.7,412.2 93.3,412.2 93.9,412.2 94.5,412.2 95.1,412.2 95.7,412.2 96.3,412.2 96.9,412.2 97.5,412.2 98.1,412.2 98.7,412.2 99.3,412.2 99.9,412.2 100.5,412.2 101.1,412.2 101.7,412.2 102.3,412.2 102.9,412.2 103.5,412.2 104.1,412.2 104.7,412.2 105.3,412.2 105.9,412.2 106.5,412.2 107.1,412.2 107.7,412.2 108.3,412.2 108.9,412.2 109.5,412.2 110.1,412.2 110.7,412.2 111.3,412.2 111.9,412.2 112.5,412.2 113.1,412.2 113.7,412.2 114.3,412.2 114.9,412.1 115.5,411.8 116.1,411.3 116.7,410.3 117.3,408.5 117.9,405.9 118.5,402.5 119.1,398.9 119.7,395.9 120.3,394.3 120.9,394.6 121.5,396.8 122.1,400.1 122.7,403.7 123.3,406.8 123.9,409.2 124.5,410.7 125.1,411.5 125.7,411.9 126.3,412.1 126.9,412.2 127.5,412.2 128.1,412.2 128.7,412.2 129.3,412.2 129.9,412.2 130.5,412.2 131.1,412.2 131.7,412.2 132.3,412.2 132.9,412.2 133.5,412.2 134.1,412.2 134.7,412.2 135.3,412.2 135.9,412.2 136.5,412.2 137.1,412.2 137.7,412.2 138.3,412.2 138.9,412.2 139.5,412.2 140.1,412.2 140.7,412.2 141.3,412.2 141.9,412.2 142.5,412.2 143.1,412.2 143.7,412.2 144.3,412.2 144.9,412.2 145.5,412.2 146.1,412.2 146.7,412.2 147.3,412.2 147.9,412.2 148.5,412.2 149.1,412.2 149.7,412.2 150.3,412.2 150.9,412.2 151.5,412.2 152.1,412.2 152.7,412.2 153.3,412.2 153.9,412.2 154.5,412.2 155.1,412.2 155.7,412.2 156.3,412.2 156.9,412.2 157.5,412.2 158.1,412.2 158.7,412.2 159.3,412.2 159.9,412.2 160.5,412.2 161.1,412.2 161.7,412.2 162.3,412.2 162.9,412.2 163.5,412.2 164.1,412.2 164.7,412.2 165.3,412.2 165.9,412.2 166.5,412.2 167.1,412.2 167.7,412.2 168.3,412.2 168.9,412.2 169.5,412.2 170.1,412.2 170.7,412.2 171.3,412.2 171.9,412.2 171.9,412.2" fill="rgba(229,51,59,0.17)"/>
<polyline points="6.3,412.2 6.9,412.2 7.5,412.2 8.1,412.2 8.7,412.2 9.3,412.2 9.9,412.2 10.5,412.2 11.1,412.2 11.7,412.2 12.3,412.2 12.9,412.2 13.5,412.2 14.1,412.2 14.7,412.2 15.3,412.2 15.9,412.2 16.5,412.2 17.1,412.2 17.7,412.2 18.3,412.2 18.9,412.2 19.5,412.2 20.1,412.2 20.7,412.2 21.3,412.2 21.9,412.2 22.5,412.2 23.1,412.1 23.7,411.9 24.3,411.4 24.9,410.4 25.5,408.5 26.1,405.3 26.7,400.5 27.3,394.7 27.9,388.6 28.5,383.8 29.1,381.6 29.7,382.8 30.3,386.8 30.9,392.6 31.5,398.7 32.1,403.8 32.7,407.6 33.3,409.9 33.9,411.2 34.5,411.8 35.1,412.1 35.7,412.2 36.3,412.2 36.9,412.2 37.5,412.2 38.1,412.2 38.7,412.2 39.3,412.2 39.9,412.2 40.5,412.2 41.1,412.2 41.7,412.2 42.3,412.2 42.9,412.2 43.5,412.2 44.1,412.2 44.7,412.2 45.3,412.2 45.9,412.2 46.5,412.2 47.1,412.2 47.7,412.2 48.3,412.2 48.9,412.2 49.5,412.2 50.1,412.2 50.7,412.2 51.3,412.2 51.9,412.2 52.5,412.2 53.1,412.2 53.7,412.2 54.3,412.2 54.9,412.2 55.5,412.2 56.1,412.2 56.7,412.2 57.3,412.2 57.9,412.2 58.5,412.2 59.1,412.2 59.7,412.2 60.3,412.2 60.9,412.2 61.5,412.2 62.1,412.2 62.7,412.2 63.3,412.2 63.9,412.1 64.5,412.0 65.1,411.6 65.7,410.8 66.3,409.2 66.9,406.2 67.5,401.5 68.1,395.2 68.7,388.0 69.3,381.4 69.9,377.2 70.5,376.5 71.1,379.7 71.7,385.7 72.3,392.8 72.9,399.6 73.5,404.8 74.1,408.3 74.7,410.4 75.3,411.4 75.9,411.9 76.5,412.1 77.1,412.2 77.7,412.2 78.3,412.2 78.9,412.2 79.5,412.2 80.1,412.2 80.7,412.2 81.3,412.2 81.9,412.2 82.5,412.2 83.1,412.2 83.7,412.2 84.3,412.2 84.9,412.2 85.5,412.2 86.1,412.2 86.7,412.2 87.3,412.2 87.9,412.2 88.5,412.2 89.1,412.2 89.7,412.2 90.3,412.2 90.9,412.2 91.5,412.2 92.1,412.2 92.7,412.2 93.3,412.2 93.9,412.2 94.5,412.2 95.1,412.2 95.7,412.2 96.3,412.2 96.9,412.2 97.5,412.2 98.1,412.2 98.7,412.2 99.3,412.2 99.9,412.2 100.5,412.2 101.1,412.2 101.7,412.2 102.3,412.2 102.9,412.2 103.5,412.2 104.1,412.2 104.7,412.2 105.3,412.2 105.9,412.2 106.5,412.2 107.1,412.2 107.7,412.2 108.3,412.2 108.9,412.2 109.5,412.2 110.1,412.2 110.7,412.2 111.3,412.2 111.9,412.2 112.5,412.2 113.1,412.2 113.7,412.2 114.3,412.2 114.9,412.1 115.5,411.8 116.1,411.3 116.7,410.3 117.3,408.5 117.9,405.9 118.5,402.5 119.1,398.9 119.7,395.9 120.3,394.3 120.9,394.6 121.5,396.8 122.1,400.1 122.7,403.7 123.3,406.8 123.9,409.2 124.5,410.7 125.1,411.5 125.7,411.9 126.3,412.1 126.9,412.2 127.5,412.2 128.1,412.2 128.7,412.2 129.3,412.2 129.9,412.2 130.5,412.2 131.1,412.2 131.7,412.2 132.3,412.2 132.9,412.2 133.5,412.2 134.1,412.2 134.7,412.2 135.3,412.2 135.9,412.2 136.5,412.2 137.1,412.2 137.7,412.2 138.3,412.2 138.9,412.2 139.5,412.2 140.1,412.2 140.7,412.2 141.3,412.2 141.9,412.2 142.5,412.2 143.1,412.2 143.7,412.2 144.3,412.2 144.9,412.2 145.5,412.2 146.1,412.2 146.7,412.2 147.3,412.2 147.9,412.2 148.5,412.2 149.1,412.2 149.7,412.2 150.3,412.2 150.9,412.2 151.5,412.2 152.1,412.2 152.7,412.2 153.3,412.2 153.9,412.2 154.5,412.2 155.1,412.2 155.7,412.2 156.3,412.2 156.9,412.2 157.5,412.2 158.1,412.2 158.7,412.2 159.3,412.2 159.9,412.2 160.5,412.2 161.1,412.2 161.7,412.2 162.3,412.2 162.9,412.2 163.5,412.2 164.1,412.2 164.7,412.2 165.3,412.2 165.9,412.2 166.5,412.2 167.1,412.2 167.7,412.2 168.3,412.2 168.9,412.2 169.5,412.2 170.1,412.2 170.7,412.2 171.3,412.2 171.9,412.2" fill="none" stroke="#e5333b" stroke-width="1.25" stroke-linejoin="round"/>
<rect x="176.80" y="310.40" width="165.50" height="103.00" fill="#f9f8f4" stroke="none" stroke-width="1.2"/>
<text transform="translate(180.00 317.70) scale(0.8 1)" font-size="8.9" text-anchor="middle" font-weight="bold" fill="#111" stroke="#111" stroke-width="0.3">G</text>
<text transform="translate(186.92 317.70) scale(0.8 1)" font-size="8.9" text-anchor="middle" font-weight="bold" fill="#111" stroke="#111" stroke-width="0.3">A</text>
<text transform="translate(193.84 317.70) scale(0.8 1)" font-size="8.9" text-anchor="middle" font-weight="bold" fill="#111" stroke="#111" stroke-width="0.3">C</text>
<text transform="translate(200.77 317.70) scale(0.8 1)" font-size="8.9" text-anchor="middle" font-weight="bold" fill="#111" stroke="#111" stroke-width="0.3">T</text>
<text transform="translate(207.69 317.70) scale(0.8 1)" font-size="8.9" text-anchor="middle" font-weight="bold" fill="#111" stroke="#111" stroke-width="0.3">A</text>
<text transform="translate(214.61 317.70) scale(0.8 1)" font-size="8.9" text-anchor="middle" font-weight="bold" fill="#111" stroke="#111" stroke-width="0.3">A</text>
<text transform="translate(221.53 317.70) scale(0.8 1)" font-size="8.9" text-anchor="middle" font-weight="bold" fill="#111" stroke="#111" stroke-width="0.3">A</text>
<text transform="translate(228.45 317.70) scale(0.8 1)" font-size="8.9" text-anchor="middle" font-weight="bold" fill="#111" stroke="#111" stroke-width="0.3">G</text>
<text transform="translate(235.37 317.70) scale(0.8 1)" font-size="8.9" text-anchor="middle" font-weight="bold" fill="#111" stroke="#111" stroke-width="0.3">A</text>
<text transform="translate(242.30 317.70) scale(0.8 1)" font-size="8.9" text-anchor="middle" font-weight="bold" fill="#111" stroke="#111" stroke-width="0.3">T</text>
<text transform="translate(249.22 317.70) scale(0.8 1)" font-size="8.9" text-anchor="middle" font-weight="bold" fill="#111" stroke="#111" stroke-width="0.3">C</text>
<text transform="translate(256.14 317.70) scale(0.8 1)" font-size="8.9" text-anchor="middle" font-weight="bold" fill="#111" stroke="#111" stroke-width="0.3">C</text>
<text transform="translate(269.98 317.70) scale(0.8 1)" font-size="8.9" text-anchor="middle" font-weight="bold" fill="#111" stroke="#111" stroke-width="0.3">A</text>
<text transform="translate(276.90 317.70) scale(0.8 1)" font-size="8.9" text-anchor="middle" font-weight="bold" fill="#111" stroke="#111" stroke-width="0.3">A</text>
<text transform="translate(283.83 317.70) scale(0.8 1)" font-size="8.9" text-anchor="middle" font-weight="bold" fill="#111" stroke="#111" stroke-width="0.3">A</text>
<text transform="translate(290.75 317.70) scale(0.8 1)" font-size="8.9" text-anchor="middle" font-weight="bold" fill="#111" stroke="#111" stroke-width="0.3">T</text>
<text transform="translate(297.67 317.70) scale(0.8 1)" font-size="8.9" text-anchor="middle" font-weight="bold" fill="#111" stroke="#111" stroke-width="0.3">G</text>
<text transform="translate(304.59 317.70) scale(0.8 1)" font-size="8.9" text-anchor="middle" font-weight="bold" fill="#111" stroke="#111" stroke-width="0.3">G</text>
<text transform="translate(311.51 317.70) scale(0.8 1)" font-size="8.9" text-anchor="middle" font-weight="bold" fill="#111" stroke="#111" stroke-width="0.3">A</text>
<text transform="translate(318.43 317.70) scale(0.8 1)" font-size="8.9" text-anchor="middle" font-weight="bold" fill="#111" stroke="#111" stroke-width="0.3">A</text>
<text transform="translate(325.36 317.70) scale(0.8 1)" font-size="8.9" text-anchor="middle" font-weight="bold" fill="#111" stroke="#111" stroke-width="0.3">A</text>
<text transform="translate(332.28 317.70) scale(0.8 1)" font-size="8.9" text-anchor="middle" font-weight="bold" fill="#111" stroke="#111" stroke-width="0.3">G</text>
<text transform="translate(339.20 317.70) scale(0.8 1)" font-size="8.9" text-anchor="middle" font-weight="bold" fill="#111" stroke="#111" stroke-width="0.3">A</text>
<line x1="176.80" y1="323.90" x2="342.30" y2="323.90" stroke="#c9c7c2" stroke-width="1.2"/>
<rect x="258.76" y="329.70" width="8.60" height="11.60" fill="#f09496" stroke="#dc3b42" stroke-width="0.8"/>
<text transform="translate(180.00 338.90) scale(0.84 1)" font-size="9.5" text-anchor="middle" fill="#222" stroke="#222" stroke-width="0.15">G</text>
<text transform="translate(186.92 338.90) scale(0.84 1)" font-size="9.5" text-anchor="middle" fill="#222" stroke="#222" stroke-width="0.15">A</text>
<text transform="translate(193.84 338.90) scale(0.84 1)" font-size="9.5" text-anchor="middle" fill="#222" stroke="#222" stroke-width="0.15">C</text>
<text transform="translate(200.77 338.90) scale(0.84 1)" font-size="9.5" text-anchor="middle" fill="#222" stroke="#222" stroke-width="0.15">T</text>
<text transform="translate(207.69 338.90) scale(0.84 1)" font-size="9.5" text-anchor="middle" fill="#222" stroke="#222" stroke-width="0.15">A</text>
<text transform="translate(214.61 338.90) scale(0.84 1)" font-size="9.5" text-anchor="middle" fill="#222" stroke="#222" stroke-width="0.15">A</text>
<text transform="translate(221.53 338.90) scale(0.84 1)" font-size="9.5" text-anchor="middle" fill="#222" stroke="#222" stroke-width="0.15">A</text>
<text transform="translate(228.45 338.90) scale(0.84 1)" font-size="9.5" text-anchor="middle" fill="#222" stroke="#222" stroke-width="0.15">G</text>
<text transform="translate(235.37 338.90) scale(0.84 1)" font-size="9.5" text-anchor="middle" fill="#222" stroke="#222" stroke-width="0.15">A</text>
<text transform="translate(242.30 338.90) scale(0.84 1)" font-size="9.5" text-anchor="middle" fill="#222" stroke="#222" stroke-width="0.15">T</text>
<text transform="translate(249.22 338.90) scale(0.84 1)" font-size="9.5" text-anchor="middle" fill="#222" stroke="#222" stroke-width="0.15">C</text>
<text transform="translate(256.14 338.90) scale(0.84 1)" font-size="9.5" text-anchor="middle" fill="#222" stroke="#222" stroke-width="0.15">C</text>
<text transform="translate(263.06 338.90) scale(0.84 1)" font-size="9.5" text-anchor="middle" fill="#222" stroke="#222" stroke-width="0.15">C</text>
<text transform="translate(269.98 338.90) scale(0.84 1)" font-size="9.5" text-anchor="middle" fill="#222" stroke="#222" stroke-width="0.15">A</text>
<text transform="translate(276.90 338.90) scale(0.84 1)" font-size="9.5" text-anchor="middle" fill="#222" stroke="#222" stroke-width="0.15">A</text>
<text transform="translate(283.83 338.90) scale(0.84 1)" font-size="9.5" text-anchor="middle" fill="#222" stroke="#222" stroke-width="0.15">A</text>
<text transform="translate(290.75 338.90) scale(0.84 1)" font-size="9.5" text-anchor="middle" fill="#222" stroke="#222" stroke-width="0.15">T</text>
<text transform="translate(297.67 338.90) scale(0.84 1)" font-size="9.5" text-anchor="middle" fill="#222" stroke="#222" stroke-width="0.15">G</text>
<text transform="translate(304.59 338.90) scale(0.84 1)" font-size="9.5" text-anchor="middle" fill="#222" stroke="#222" stroke-width="0.15">G</text>
<text transform="translate(311.51 338.90) scale(0.84 1)" font-size="9.5" text-anchor="middle" fill="#222" stroke="#222" stroke-width="0.15">A</text>
<text transform="translate(318.43 338.90) scale(0.84 1)" font-size="9.5" text-anchor="middle" fill="#222" stroke="#222" stroke-width="0.15">A</text>
<text transform="translate(325.36 338.90) scale(0.84 1)" font-size="9.5" text-anchor="middle" fill="#222" stroke="#222" stroke-width="0.15">A</text>
<text transform="translate(332.28 338.90) scale(0.84 1)" font-size="9.5" text-anchor="middle" fill="#222" stroke="#222" stroke-width="0.15">G</text>
<text transform="translate(339.20 338.90) scale(0.84 1)" font-size="9.5" text-anchor="middle" fill="#222" stroke="#222" stroke-width="0.15">A</text>
<line x1="199.60" y1="343.30" x2="199.60" y2="412.20" stroke="#b5b3ae" stroke-width="0.8" stroke-dasharray="2.4,1.8"/>
<line x1="275.40" y1="343.30" x2="275.40" y2="412.20" stroke="#b5b3ae" stroke-width="0.8" stroke-dasharray="2.4,1.8"/>
<polygon points="177.3,412.2 177.3,412.2 177.9,412.2 178.5,412.2 179.1,412.2 179.7,412.2 180.3,412.1 180.9,411.9 181.5,411.5 182.1,410.6 182.7,408.8 183.3,405.8 183.9,401.5 184.5,396.2 185.1,390.6 185.7,386.2 186.3,384.2 186.9,385.3 187.5,389.0 188.1,394.3 188.7,399.8 189.3,404.6 189.9,408.0 190.5,410.1 191.1,411.3 191.7,411.8 192.3,412.1 192.9,412.2 193.5,412.2 194.1,412.2 194.7,412.2 195.3,412.2 195.9,412.2 196.5,412.2 197.1,412.2 197.7,412.2 198.3,412.2 198.9,412.2 199.5,412.2 200.1,412.2 200.7,412.1 201.3,411.9 201.9,411.5 202.5,410.6 203.1,408.9 203.7,406.1 204.3,401.9 204.9,396.7 205.5,391.4 206.1,387.2 206.7,385.2 207.3,386.2 207.9,389.6 208.5,394.4 209.1,398.9 209.7,401.7 210.3,402.0 210.9,399.3 211.5,394.0 212.1,387.3 212.7,380.8 213.3,376.5 213.9,375.9 214.5,379.0 215.1,384.9 215.7,391.8 216.3,397.6 216.9,401.1 217.5,401.5 218.1,398.9 218.7,394.2 219.3,388.8 219.9,384.3 220.5,382.2 221.1,383.3 221.7,387.3 222.3,393.0 222.9,398.9 223.5,404.0 224.1,407.7 224.7,410.0 225.3,411.2 225.9,411.8 226.5,412.1 227.1,412.1 227.7,412.2 228.3,412.1 228.9,412.0 229.5,411.6 230.1,410.8 230.7,409.4 231.3,407.0 231.9,403.6 232.5,399.5 233.1,395.4 233.7,392.3 234.3,391.2 234.9,392.3 235.5,395.4 236.1,399.5 236.7,403.6 237.3,407.0 237.9,409.4 238.5,410.8 239.1,411.6 239.7,412.0 240.3,412.1 240.9,412.2 241.5,412.2 242.1,412.2 242.7,412.2 243.3,412.2 243.9,412.2 244.5,412.2 245.1,412.2 245.7,412.2 246.3,412.2 246.9,412.2 247.5,412.2 248.1,412.2 248.7,412.2 249.3,412.2 249.9,412.2 250.5,412.2 251.1,412.2 251.7,412.2 252.3,412.2 252.9,412.2 253.5,412.2 254.1,412.2 254.7,412.2 255.3,412.2 255.9,412.2 256.5,412.2 257.1,412.2 257.7,412.2 258.3,412.2 258.9,412.2 259.5,412.2 260.1,412.2 260.7,412.2 261.3,412.2 261.9,412.2 262.5,412.1 263.1,411.8 263.7,411.3 264.3,410.2 264.9,408.2 265.5,405.0 266.1,400.8 266.7,396.0 267.3,391.6 267.9,388.8 268.5,388.3 269.1,390.4 269.7,394.3 270.3,398.9 270.9,402.8 271.5,405.0 272.1,405.0 272.7,402.5 273.3,397.7 273.9,391.4 274.5,384.9 275.1,380.0 275.7,378.2 276.3,380.0 276.9,384.8 277.5,391.1 278.1,396.9 278.7,400.8 279.3,401.9 279.9,399.8 280.5,395.1 281.1,388.9 281.7,382.9 282.3,379.0 282.9,378.4 283.5,381.4 284.1,387.1 284.7,393.9 285.3,400.2 285.9,405.2 286.5,408.5 287.1,410.5 287.7,411.5 288.3,411.9 288.9,412.1 289.5,412.2 290.1,412.2 290.7,412.2 291.3,412.2 291.9,412.2 292.5,412.2 293.1,412.2 293.7,412.2 294.3,412.2 294.9,412.2 295.5,412.2 296.1,412.2 296.7,412.2 297.3,412.2 297.9,412.2 298.5,412.2 299.1,412.2 299.7,412.2 300.3,412.2 300.9,412.2 301.5,412.2 302.1,412.2 302.7,412.2 303.3,412.1 303.9,411.8 304.5,411.3 305.1,410.2 305.7,408.1 306.3,404.8 306.9,400.3 307.5,394.9 308.1,389.8 308.7,386.2 309.3,385.2 309.9,387.1 310.5,391.1 311.1,396.0 311.7,400.2 312.3,402.5 312.9,401.9 313.5,398.4 314.1,392.4 314.7,385.2 315.3,378.8 315.9,374.9 316.5,374.9 317.1,378.7 317.7,385.0 318.3,391.9 318.9,397.4 319.5,400.1 320.1,399.6 320.7,396.3 321.3,391.3 321.9,386.2 322.5,382.8 323.1,382.4 323.7,385.0 324.3,390.0 324.9,396.0 325.5,401.6 326.1,406.0 326.7,409.0 327.3,410.7 327.9,411.6 328.5,412.0 329.1,412.1 329.7,412.2 330.3,412.2 330.9,412.1 331.5,412.0 332.1,411.6 332.7,410.7 333.3,409.1 333.9,406.4 334.5,402.4 335.1,397.5 335.7,392.5 336.3,388.5 336.9,386.6 337.5,387.6 338.1,391.0 338.7,395.8 339.3,400.9 339.9,405.2 340.5,408.3 341.1,410.3 341.7,411.4 341.7,412.2" fill="rgba(63,174,73,0.17)"/>
<polyline points="177.3,412.2 177.9,412.2 178.5,412.2 179.1,412.2 179.7,412.2 180.3,412.1 180.9,411.9 181.5,411.5 182.1,410.6 182.7,408.8 183.3,405.8 183.9,401.5 184.5,396.2 185.1,390.6 185.7,386.2 186.3,384.2 186.9,385.3 187.5,389.0 188.1,394.3 188.7,399.8 189.3,404.6 189.9,408.0 190.5,410.1 191.1,411.3 191.7,411.8 192.3,412.1 192.9,412.2 193.5,412.2 194.1,412.2 194.7,412.2 195.3,412.2 195.9,412.2 196.5,412.2 197.1,412.2 197.7,412.2 198.3,412.2 198.9,412.2 199.5,412.2 200.1,412.2 200.7,412.1 201.3,411.9 201.9,411.5 202.5,410.6 203.1,408.9 203.7,406.1 204.3,401.9 204.9,396.7 205.5,391.4 206.1,387.2 206.7,385.2 207.3,386.2 207.9,389.6 208.5,394.4 209.1,398.9 209.7,401.7 210.3,402.0 210.9,399.3 211.5,394.0 212.1,387.3 212.7,380.8 213.3,376.5 213.9,375.9 214.5,379.0 215.1,384.9 215.7,391.8 216.3,397.6 216.9,401.1 217.5,401.5 218.1,398.9 218.7,394.2 219.3,388.8 219.9,384.3 220.5,382.2 221.1,383.3 221.7,387.3 222.3,393.0 222.9,398.9 223.5,404.0 224.1,407.7 224.7,410.0 225.3,411.2 225.9,411.8 226.5,412.1 227.1,412.1 227.7,412.2 228.3,412.1 228.9,412.0 229.5,411.6 230.1,410.8 230.7,409.4 231.3,407.0 231.9,403.6 232.5,399.5 233.1,395.4 233.7,392.3 234.3,391.2 234.9,392.3 235.5,395.4 236.1,399.5 236.7,403.6 237.3,407.0 237.9,409.4 238.5,410.8 239.1,411.6 239.7,412.0 240.3,412.1 240.9,412.2 241.5,412.2 242.1,412.2 242.7,412.2 243.3,412.2 243.9,412.2 244.5,412.2 245.1,412.2 245.7,412.2 246.3,412.2 246.9,412.2 247.5,412.2 248.1,412.2 248.7,412.2 249.3,412.2 249.9,412.2 250.5,412.2 251.1,412.2 251.7,412.2 252.3,412.2 252.9,412.2 253.5,412.2 254.1,412.2 254.7,412.2 255.3,412.2 255.9,412.2 256.5,412.2 257.1,412.2 257.7,412.2 258.3,412.2 258.9,412.2 259.5,412.2 260.1,412.2 260.7,412.2 261.3,412.2 261.9,412.2 262.5,412.1 263.1,411.8 263.7,411.3 264.3,410.2 264.9,408.2 265.5,405.0 266.1,400.8 266.7,396.0 267.3,391.6 267.9,388.8 268.5,388.3 269.1,390.4 269.7,394.3 270.3,398.9 270.9,402.8 271.5,405.0 272.1,405.0 272.7,402.5 273.3,397.7 273.9,391.4 274.5,384.9 275.1,380.0 275.7,378.2 276.3,380.0 276.9,384.8 277.5,391.1 278.1,396.9 278.7,400.8 279.3,401.9 279.9,399.8 280.5,395.1 281.1,388.9 281.7,382.9 282.3,379.0 282.9,378.4 283.5,381.4 284.1,387.1 284.7,393.9 285.3,400.2 285.9,405.2 286.5,408.5 287.1,410.5 287.7,411.5 288.3,411.9 288.9,412.1 289.5,412.2 290.1,412.2 290.7,412.2 291.3,412.2 291.9,412.2 292.5,412.2 293.1,412.2 293.7,412.2 294.3,412.2 294.9,412.2 295.5,412.2 296.1,412.2 296.7,412.2 297.3,412.2 297.9,412.2 298.5,412.2 299.1,412.2 299.7,412.2 300.3,412.2 300.9,412.2 301.5,412.2 302.1,412.2 302.7,412.2 303.3,412.1 303.9,411.8 304.5,411.3 305.1,410.2 305.7,408.1 306.3,404.8 306.9,400.3 307.5,394.9 308.1,389.8 308.7,386.2 309.3,385.2 309.9,387.1 310.5,391.1 311.1,396.0 311.7,400.2 312.3,402.5 312.9,401.9 313.5,398.4 314.1,392.4 314.7,385.2 315.3,378.8 315.9,374.9 316.5,374.9 317.1,378.7 317.7,385.0 318.3,391.9 318.9,397.4 319.5,400.1 320.1,399.6 320.7,396.3 321.3,391.3 321.9,386.2 322.5,382.8 323.1,382.4 323.7,385.0 324.3,390.0 324.9,396.0 325.5,401.6 326.1,406.0 326.7,409.0 327.3,410.7 327.9,411.6 328.5,412.0 329.1,412.1 329.7,412.2 330.3,412.2 330.9,412.1 331.5,412.0 332.1,411.6 332.7,410.7 333.3,409.1 333.9,406.4 334.5,402.4 335.1,397.5 335.7,392.5 336.3,388.5 336.9,386.6 337.5,387.6 338.1,391.0 338.7,395.8 339.3,400.9 339.9,405.2 340.5,408.3 341.1,410.3 341.7,411.4" fill="none" stroke="#3fae49" stroke-width="1.25" stroke-linejoin="round"/>
<polygon points="177.3,412.2 177.3,396.8 177.9,392.3 178.5,389.1 179.1,388.2 179.7,389.9 180.3,393.7 180.9,398.5 181.5,403.1 182.1,406.8 182.7,409.3 183.3,410.8 183.9,411.6 184.5,412.0 185.1,412.1 185.7,412.2 186.3,412.2 186.9,412.2 187.5,412.2 188.1,412.2 188.7,412.2 189.3,412.2 189.9,412.2 190.5,412.2 191.1,412.2 191.7,412.2 192.3,412.2 192.9,412.2 193.5,412.2 194.1,412.2 194.7,412.2 195.3,412.2 195.9,412.2 196.5,412.2 197.1,412.2 197.7,412.2 198.3,412.2 198.9,412.2 199.5,412.2 200.1,412.2 200.7,412.2 201.3,412.2 201.9,412.2 202.5,412.2 203.1,412.2 203.7,412.2 204.3,412.2 204.9,412.2 205.5,412.2 206.1,412.2 206.7,412.2 207.3,412.2 207.9,412.2 208.5,412.2 209.1,412.2 209.7,412.2 210.3,412.2 210.9,412.2 211.5,412.2 212.1,412.2 212.7,412.2 213.3,412.2 213.9,412.2 214.5,412.2 215.1,412.2 215.7,412.2 216.3,412.2 216.9,412.2 217.5,412.2 218.1,412.2 218.7,412.2 219.3,412.2 219.9,412.2 220.5,412.2 221.1,412.1 221.7,412.0 222.3,411.6 222.9,410.8 223.5,409.1 224.1,406.3 224.7,402.1 225.3,396.8 225.9,391.1 226.5,386.3 227.1,383.8 227.7,384.3 228.3,387.7 228.9,392.9 229.5,398.6 230.1,403.7 230.7,407.4 231.3,409.8 231.9,411.1 232.5,411.8 233.1,412.0 233.7,412.1 234.3,412.2 234.9,412.2 235.5,412.2 236.1,412.2 236.7,412.2 237.3,412.2 237.9,412.2 238.5,412.2 239.1,412.2 239.7,412.2 240.3,412.2 240.9,412.2 241.5,412.2 242.1,412.2 242.7,412.2 243.3,412.2 243.9,412.2 244.5,412.2 245.1,412.2 245.7,412.2 246.3,412.2 246.9,412.2 247.5,412.2 248.1,412.2 248.7,412.2 249.3,412.2 249.9,412.2 250.5,412.2 251.1,412.2 251.7,412.2 252.3,412.2 252.9,412.2 253.5,412.2 254.1,412.2 254.7,412.2 255.3,412.2 255.9,412.2 256.5,412.2 257.1,412.2 257.7,412.2 258.3,412.2 258.9,412.2 259.5,412.2 260.1,412.2 260.7,412.2 261.3,412.2 261.9,412.2 262.5,412.2 263.1,412.2 263.7,412.2 264.3,412.2 264.9,412.2 265.5,412.2 266.1,412.2 266.7,412.2 267.3,412.2 267.9,412.2 268.5,412.2 269.1,412.2 269.7,412.2 270.3,412.2 270.9,412.2 271.5,412.2 272.1,412.2 272.7,412.2 273.3,412.2 273.9,412.2 274.5,412.2 275.1,412.2 275.7,412.2 276.3,412.2 276.9,412.2 277.5,412.2 278.1,412.2 278.7,412.2 279.3,412.2 279.9,412.2 280.5,412.2 281.1,412.2 281.7,412.2 282.3,412.2 282.9,412.2 283.5,412.2 284.1,412.2 284.7,412.2 285.3,412.2 285.9,412.2 286.5,412.2 287.1,412.2 287.7,412.2 288.3,412.2 288.9,412.2 289.5,412.1 290.1,411.9 290.7,411.4 291.3,410.4 291.9,408.4 292.5,405.0 293.1,400.2 293.7,394.1 294.3,387.9 294.9,382.9 295.5,380.6 296.1,381.7 296.7,385.7 297.3,391.3 297.9,396.5 298.5,400.0 299.1,400.5 299.7,398.0 300.3,393.1 300.9,387.0 301.5,381.7 302.1,378.9 302.7,379.5 303.3,383.5 303.9,389.6 304.5,396.3 305.1,402.2 305.7,406.6 306.3,409.4 306.9,410.9 307.5,411.7 308.1,412.0 308.7,412.1 309.3,412.2 309.9,412.2 310.5,412.2 311.1,412.2 311.7,412.2 312.3,412.2 312.9,412.2 313.5,412.2 314.1,412.2 314.7,412.2 315.3,412.2 315.9,412.2 316.5,412.2 317.1,412.2 317.7,412.2 318.3,412.2 318.9,412.2 319.5,412.2 320.1,412.2 320.7,412.2 321.3,412.2 321.9,412.2 322.5,412.2 323.1,412.2 323.7,412.1 324.3,412.0 324.9,411.5 325.5,410.7 326.1,409.0 326.7,406.2 327.3,402.1 327.9,397.0 328.5,391.7 329.1,387.5 329.7,385.6 330.3,386.6 330.9,390.1 331.5,395.2 332.1,400.4 332.7,404.9 333.3,408.2 333.9,410.2 334.5,411.3 335.1,411.9 335.7,412.1 336.3,412.2 336.9,412.2 337.5,412.2 338.1,412.2 338.7,412.2 339.3,412.2 339.9,412.2 340.5,412.2 341.1,412.2 341.7,412.2 341.7,412.2" fill="rgba(40,40,40,0.17)"/>
<polyline points="177.3,396.8 177.9,392.3 178.5,389.1 179.1,388.2 179.7,389.9 180.3,393.7 180.9,398.5 181.5,403.1 182.1,406.8 182.7,409.3 183.3,410.8 183.9,411.6 184.5,412.0 185.1,412.1 185.7,412.2 186.3,412.2 186.9,412.2 187.5,412.2 188.1,412.2 188.7,412.2 189.3,412.2 189.9,412.2 190.5,412.2 191.1,412.2 191.7,412.2 192.3,412.2 192.9,412.2 193.5,412.2 194.1,412.2 194.7,412.2 195.3,412.2 195.9,412.2 196.5,412.2 197.1,412.2 197.7,412.2 198.3,412.2 198.9,412.2 199.5,412.2 200.1,412.2 200.7,412.2 201.3,412.2 201.9,412.2 202.5,412.2 203.1,412.2 203.7,412.2 204.3,412.2 204.9,412.2 205.5,412.2 206.1,412.2 206.7,412.2 207.3,412.2 207.9,412.2 208.5,412.2 209.1,412.2 209.7,412.2 210.3,412.2 210.9,412.2 211.5,412.2 212.1,412.2 212.7,412.2 213.3,412.2 213.9,412.2 214.5,412.2 215.1,412.2 215.7,412.2 216.3,412.2 216.9,412.2 217.5,412.2 218.1,412.2 218.7,412.2 219.3,412.2 219.9,412.2 220.5,412.2 221.1,412.1 221.7,412.0 222.3,411.6 222.9,410.8 223.5,409.1 224.1,406.3 224.7,402.1 225.3,396.8 225.9,391.1 226.5,386.3 227.1,383.8 227.7,384.3 228.3,387.7 228.9,392.9 229.5,398.6 230.1,403.7 230.7,407.4 231.3,409.8 231.9,411.1 232.5,411.8 233.1,412.0 233.7,412.1 234.3,412.2 234.9,412.2 235.5,412.2 236.1,412.2 236.7,412.2 237.3,412.2 237.9,412.2 238.5,412.2 239.1,412.2 239.7,412.2 240.3,412.2 240.9,412.2 241.5,412.2 242.1,412.2 242.7,412.2 243.3,412.2 243.9,412.2 244.5,412.2 245.1,412.2 245.7,412.2 246.3,412.2 246.9,412.2 247.5,412.2 248.1,412.2 248.7,412.2 249.3,412.2 249.9,412.2 250.5,412.2 251.1,412.2 251.7,412.2 252.3,412.2 252.9,412.2 253.5,412.2 254.1,412.2 254.7,412.2 255.3,412.2 255.9,412.2 256.5,412.2 257.1,412.2 257.7,412.2 258.3,412.2 258.9,412.2 259.5,412.2 260.1,412.2 260.7,412.2 261.3,412.2 261.9,412.2 262.5,412.2 263.1,412.2 263.7,412.2 264.3,412.2 264.9,412.2 265.5,412.2 266.1,412.2 266.7,412.2 267.3,412.2 267.9,412.2 268.5,412.2 269.1,412.2 269.7,412.2 270.3,412.2 270.9,412.2 271.5,412.2 272.1,412.2 272.7,412.2 273.3,412.2 273.9,412.2 274.5,412.2 275.1,412.2 275.7,412.2 276.3,412.2 276.9,412.2 277.5,412.2 278.1,412.2 278.7,412.2 279.3,412.2 279.9,412.2 280.5,412.2 281.1,412.2 281.7,412.2 282.3,412.2 282.9,412.2 283.5,412.2 284.1,412.2 284.7,412.2 285.3,412.2 285.9,412.2 286.5,412.2 287.1,412.2 287.7,412.2 288.3,412.2 288.9,412.2 289.5,412.1 290.1,411.9 290.7,411.4 291.3,410.4 291.9,408.4 292.5,405.0 293.1,400.2 293.7,394.1 294.3,387.9 294.9,382.9 295.5,380.6 296.1,381.7 296.7,385.7 297.3,391.3 297.9,396.5 298.5,400.0 299.1,400.5 299.7,398.0 300.3,393.1 300.9,387.0 301.5,381.7 302.1,378.9 302.7,379.5 303.3,383.5 303.9,389.6 304.5,396.3 305.1,402.2 305.7,406.6 306.3,409.4 306.9,410.9 307.5,411.7 308.1,412.0 308.7,412.1 309.3,412.2 309.9,412.2 310.5,412.2 311.1,412.2 311.7,412.2 312.3,412.2 312.9,412.2 313.5,412.2 314.1,412.2 314.7,412.2 315.3,412.2 315.9,412.2 316.5,412.2 317.1,412.2 317.7,412.2 318.3,412.2 318.9,412.2 319.5,412.2 320.1,412.2 320.7,412.2 321.3,412.2 321.9,412.2 322.5,412.2 323.1,412.2 323.7,412.1 324.3,412.0 324.9,411.5 325.5,410.7 326.1,409.0 326.7,406.2 327.3,402.1 327.9,397.0 328.5,391.7 329.1,387.5 329.7,385.6 330.3,386.6 330.9,390.1 331.5,395.2 332.1,400.4 332.7,404.9 333.3,408.2 333.9,410.2 334.5,411.3 335.1,411.9 335.7,412.1 336.3,412.2 336.9,412.2 337.5,412.2 338.1,412.2 338.7,412.2 339.3,412.2 339.9,412.2 340.5,412.2 341.1,412.2 341.7,412.2" fill="none" stroke="#1a1a1a" stroke-width="1.25" stroke-linejoin="round"/>
<polygon points="177.3,412.2 177.3,412.2 177.9,412.2 178.5,412.2 179.1,412.2 179.7,412.2 180.3,412.2 180.9,412.2 181.5,412.2 182.1,412.2 182.7,412.2 183.3,412.2 183.9,412.2 184.5,412.2 185.1,412.2 185.7,412.2 186.3,412.2 186.9,412.1 187.5,412.0 188.1,411.6 188.7,410.8 189.3,409.0 189.9,405.6 190.5,400.3 191.1,393.0 191.7,384.4 192.3,376.1 192.9,370.3 193.5,368.8 194.1,371.9 194.7,378.7 195.3,387.3 195.9,395.6 196.5,402.3 197.1,406.9 197.7,409.7 198.3,411.1 198.9,411.8 199.5,412.1 200.1,412.2 200.7,412.2 201.3,412.2 201.9,412.2 202.5,412.2 203.1,412.2 203.7,412.2 204.3,412.2 204.9,412.2 205.5,412.2 206.1,412.2 206.7,412.2 207.3,412.2 207.9,412.2 208.5,412.2 209.1,412.2 209.7,412.2 210.3,412.2 210.9,412.2 211.5,412.2 212.1,412.2 212.7,412.2 213.3,412.2 213.9,412.2 214.5,412.2 215.1,412.2 215.7,412.2 216.3,412.2 216.9,412.2 217.5,412.2 218.1,412.2 218.7,412.2 219.3,412.2 219.9,412.2 220.5,412.2 221.1,412.2 221.7,412.2 222.3,412.2 222.9,412.2 223.5,412.2 224.1,412.2 224.7,412.2 225.3,412.2 225.9,412.2 226.5,412.2 227.1,412.2 227.7,412.2 228.3,412.2 228.9,412.2 229.5,412.2 230.1,412.2 230.7,412.2 231.3,412.2 231.9,412.2 232.5,412.2 233.1,412.2 233.7,412.2 234.3,412.2 234.9,412.2 235.5,412.2 236.1,412.2 236.7,412.2 237.3,412.2 237.9,412.2 238.5,412.2 239.1,412.2 239.7,412.2 240.3,412.2 240.9,412.2 241.5,412.1 242.1,411.9 242.7,411.5 243.3,410.8 243.9,409.4 244.5,407.3 245.1,404.6 245.7,401.6 246.3,399.0 246.9,397.4 247.5,397.4 248.1,398.9 248.7,401.4 249.3,404.0 249.9,405.9 250.5,406.6 251.1,405.5 251.7,402.9 252.3,399.2 252.9,395.3 253.5,392.3 254.1,391.2 254.7,392.3 255.3,395.2 255.9,399.0 256.5,402.3 257.1,404.1 257.7,403.5 258.3,400.0 258.9,393.7 259.5,385.6 260.1,377.3 260.7,371.0 261.3,368.7 261.9,371.0 262.5,377.4 263.1,385.8 263.7,394.3 264.3,401.4 264.9,406.3 265.5,409.3 266.1,411.0 266.7,411.7 267.3,412.0 267.9,412.1 268.5,412.2 269.1,412.2 269.7,412.2 270.3,412.2 270.9,412.2 271.5,412.2 272.1,412.2 272.7,412.2 273.3,412.2 273.9,412.2 274.5,412.2 275.1,412.2 275.7,412.2 276.3,412.2 276.9,412.2 277.5,412.2 278.1,412.2 278.7,412.2 279.3,412.2 279.9,412.2 280.5,412.2 281.1,412.2 281.7,412.2 282.3,412.2 282.9,412.2 283.5,412.2 284.1,412.2 284.7,412.2 285.3,412.2 285.9,412.2 286.5,412.2 287.1,412.2 287.7,412.2 288.3,412.2 288.9,412.2 289.5,412.2 290.1,412.2 290.7,412.2 291.3,412.2 291.9,412.2 292.5,412.2 293.1,412.2 293.7,412.2 294.3,412.2 294.9,412.2 295.5,412.2 296.1,412.2 296.7,412.2 297.3,412.2 297.9,412.2 298.5,412.2 299.1,412.2 299.7,412.2 300.3,412.2 300.9,412.2 301.5,412.2 302.1,412.2 302.7,412.2 303.3,412.2 303.9,412.2 304.5,412.2 305.1,412.2 305.7,412.2 306.3,412.2 306.9,412.2 307.5,412.2 308.1,412.2 308.7,412.2 309.3,412.2 309.9,412.2 310.5,412.2 311.1,412.2 311.7,412.2 312.3,412.2 312.9,412.2 313.5,412.2 314.1,412.2 314.7,412.2 315.3,412.2 315.9,412.2 316.5,412.2 317.1,412.2 317.7,412.2 318.3,412.2 318.9,412.2 319.5,412.2 320.1,412.2 320.7,412.2 321.3,412.2 321.9,412.2 322.5,412.2 323.1,412.2 323.7,412.2 324.3,412.2 324.9,412.2 325.5,412.2 326.1,412.2 326.7,412.2 327.3,412.2 327.9,412.2 328.5,412.2 329.1,412.2 329.7,412.2 330.3,412.2 330.9,412.2 331.5,412.2 332.1,412.2 332.7,412.2 333.3,412.2 333.9,412.2 334.5,412.2 335.1,412.2 335.7,412.2 336.3,412.2 336.9,412.2 337.5,412.2 338.1,412.2 338.7,412.2 339.3,412.2 339.9,412.2 340.5,412.2 341.1,412.2 341.7,412.2 341.7,412.2" fill="rgba(47,111,201,0.17)"/>
<polyline points="177.3,412.2 177.9,412.2 178.5,412.2 179.1,412.2 179.7,412.2 180.3,412.2 180.9,412.2 181.5,412.2 182.1,412.2 182.7,412.2 183.3,412.2 183.9,412.2 184.5,412.2 185.1,412.2 185.7,412.2 186.3,412.2 186.9,412.1 187.5,412.0 188.1,411.6 188.7,410.8 189.3,409.0 189.9,405.6 190.5,400.3 191.1,393.0 191.7,384.4 192.3,376.1 192.9,370.3 193.5,368.8 194.1,371.9 194.7,378.7 195.3,387.3 195.9,395.6 196.5,402.3 197.1,406.9 197.7,409.7 198.3,411.1 198.9,411.8 199.5,412.1 200.1,412.2 200.7,412.2 201.3,412.2 201.9,412.2 202.5,412.2 203.1,412.2 203.7,412.2 204.3,412.2 204.9,412.2 205.5,412.2 206.1,412.2 206.7,412.2 207.3,412.2 207.9,412.2 208.5,412.2 209.1,412.2 209.7,412.2 210.3,412.2 210.9,412.2 211.5,412.2 212.1,412.2 212.7,412.2 213.3,412.2 213.9,412.2 214.5,412.2 215.1,412.2 215.7,412.2 216.3,412.2 216.9,412.2 217.5,412.2 218.1,412.2 218.7,412.2 219.3,412.2 219.9,412.2 220.5,412.2 221.1,412.2 221.7,412.2 222.3,412.2 222.9,412.2 223.5,412.2 224.1,412.2 224.7,412.2 225.3,412.2 225.9,412.2 226.5,412.2 227.1,412.2 227.7,412.2 228.3,412.2 228.9,412.2 229.5,412.2 230.1,412.2 230.7,412.2 231.3,412.2 231.9,412.2 232.5,412.2 233.1,412.2 233.7,412.2 234.3,412.2 234.9,412.2 235.5,412.2 236.1,412.2 236.7,412.2 237.3,412.2 237.9,412.2 238.5,412.2 239.1,412.2 239.7,412.2 240.3,412.2 240.9,412.2 241.5,412.1 242.1,411.9 242.7,411.5 243.3,410.8 243.9,409.4 244.5,407.3 245.1,404.6 245.7,401.6 246.3,399.0 246.9,397.4 247.5,397.4 248.1,398.9 248.7,401.4 249.3,404.0 249.9,405.9 250.5,406.6 251.1,405.5 251.7,402.9 252.3,399.2 252.9,395.3 253.5,392.3 254.1,391.2 254.7,392.3 255.3,395.2 255.9,399.0 256.5,402.3 257.1,404.1 257.7,403.5 258.3,400.0 258.9,393.7 259.5,385.6 260.1,377.3 260.7,371.0 261.3,368.7 261.9,371.0 262.5,377.4 263.1,385.8 263.7,394.3 264.3,401.4 264.9,406.3 265.5,409.3 266.1,411.0 266.7,411.7 267.3,412.0 267.9,412.1 268.5,412.2 269.1,412.2 269.7,412.2 270.3,412.2 270.9,412.2 271.5,412.2 272.1,412.2 272.7,412.2 273.3,412.2 273.9,412.2 274.5,412.2 275.1,412.2 275.7,412.2 276.3,412.2 276.9,412.2 277.5,412.2 278.1,412.2 278.7,412.2 279.3,412.2 279.9,412.2 280.5,412.2 281.1,412.2 281.7,412.2 282.3,412.2 282.9,412.2 283.5,412.2 284.1,412.2 284.7,412.2 285.3,412.2 285.9,412.2 286.5,412.2 287.1,412.2 287.7,412.2 288.3,412.2 288.9,412.2 289.5,412.2 290.1,412.2 290.7,412.2 291.3,412.2 291.9,412.2 292.5,412.2 293.1,412.2 293.7,412.2 294.3,412.2 294.9,412.2 295.5,412.2 296.1,412.2 296.7,412.2 297.3,412.2 297.9,412.2 298.5,412.2 299.1,412.2 299.7,412.2 300.3,412.2 300.9,412.2 301.5,412.2 302.1,412.2 302.7,412.2 303.3,412.2 303.9,412.2 304.5,412.2 305.1,412.2 305.7,412.2 306.3,412.2 306.9,412.2 307.5,412.2 308.1,412.2 308.7,412.2 309.3,412.2 309.9,412.2 310.5,412.2 311.1,412.2 311.7,412.2 312.3,412.2 312.9,412.2 313.5,412.2 314.1,412.2 314.7,412.2 315.3,412.2 315.9,412.2 316.5,412.2 317.1,412.2 317.7,412.2 318.3,412.2 318.9,412.2 319.5,412.2 320.1,412.2 320.7,412.2 321.3,412.2 321.9,412.2 322.5,412.2 323.1,412.2 323.7,412.2 324.3,412.2 324.9,412.2 325.5,412.2 326.1,412.2 326.7,412.2 327.3,412.2 327.9,412.2 328.5,412.2 329.1,412.2 329.7,412.2 330.3,412.2 330.9,412.2 331.5,412.2 332.1,412.2 332.7,412.2 333.3,412.2 333.9,412.2 334.5,412.2 335.1,412.2 335.7,412.2 336.3,412.2 336.9,412.2 337.5,412.2 338.1,412.2 338.7,412.2 339.3,412.2 339.9,412.2 340.5,412.2 341.1,412.2 341.7,412.2" fill="none" stroke="#2f6fc9" stroke-width="1.25" stroke-linejoin="round"/>
<polygon points="177.3,412.2 177.3,412.2 177.9,412.2 178.5,412.2 179.1,412.2 179.7,412.2 180.3,412.2 180.9,412.2 181.5,412.2 182.1,412.2 182.7,412.2 183.3,412.2 183.9,412.2 184.5,412.2 185.1,412.2 185.7,412.2 186.3,412.2 186.9,412.2 187.5,412.2 188.1,412.2 188.7,412.2 189.3,412.2 189.9,412.2 190.5,412.2 191.1,412.2 191.7,412.2 192.3,412.2 192.9,412.2 193.5,412.2 194.1,412.1 194.7,411.8 195.3,411.1 195.9,409.8 196.5,407.4 197.1,403.5 197.7,398.1 198.3,391.7 198.9,385.7 199.5,381.4 200.1,380.2 200.7,382.5 201.3,387.5 201.9,393.9 202.5,400.0 203.1,404.9 203.7,408.3 204.3,410.4 204.9,411.4 205.5,411.9 206.1,412.1 206.7,412.2 207.3,412.2 207.9,412.2 208.5,412.2 209.1,412.2 209.7,412.2 210.3,412.2 210.9,412.2 211.5,412.2 212.1,412.2 212.7,412.2 213.3,412.2 213.9,412.2 214.5,412.2 215.1,412.2 215.7,412.2 216.3,412.2 216.9,412.2 217.5,412.2 218.1,412.2 218.7,412.2 219.3,412.2 219.9,412.2 220.5,412.2 221.1,412.2 221.7,412.2 222.3,412.2 222.9,412.2 223.5,412.2 224.1,412.2 224.7,412.2 225.3,412.2 225.9,412.2 226.5,412.2 227.1,412.2 227.7,412.2 228.3,412.2 228.9,412.2 229.5,412.2 230.1,412.2 230.7,412.2 231.3,412.2 231.9,412.2 232.5,412.2 233.1,412.2 233.7,412.2 234.3,412.1 234.9,411.9 235.5,411.4 236.1,410.3 236.7,408.2 237.3,404.6 237.9,399.2 238.5,392.2 239.1,384.9 239.7,378.7 240.3,375.4 240.9,376.1 241.5,380.5 242.1,387.3 242.7,394.7 243.3,401.2 243.9,406.0 244.5,409.1 245.1,410.8 245.7,411.6 246.3,412.0 246.9,412.1 247.5,412.2 248.1,412.2 248.7,412.2 249.3,412.2 249.9,412.2 250.5,412.2 251.1,412.2 251.7,412.2 252.3,412.2 252.9,412.2 253.5,412.2 254.1,412.2 254.7,412.2 255.3,412.2 255.9,412.2 256.5,412.2 257.1,412.2 257.7,412.2 258.3,412.2 258.9,412.2 259.5,412.2 260.1,412.2 260.7,412.2 261.3,412.2 261.9,412.2 262.5,412.2 263.1,412.2 263.7,412.2 264.3,412.2 264.9,412.2 265.5,412.2 266.1,412.2 266.7,412.2 267.3,412.2 267.9,412.2 268.5,412.2 269.1,412.2 269.7,412.2 270.3,412.2 270.9,412.2 271.5,412.2 272.1,412.2 272.7,412.2 273.3,412.2 273.9,412.2 274.5,412.2 275.1,412.2 275.7,412.2 276.3,412.2 276.9,412.2 277.5,412.2 278.1,412.2 278.7,412.2 279.3,412.2 279.9,412.2 280.5,412.2 281.1,412.2 281.7,412.2 282.3,412.2 282.9,412.2 283.5,412.1 284.1,411.9 284.7,411.5 285.3,410.6 285.9,408.9 286.5,406.3 287.1,402.7 287.7,398.4 288.3,394.3 288.9,391.4 289.5,390.6 290.1,392.2 290.7,395.6 291.3,399.8 291.9,404.0 292.5,407.3 293.1,409.6 293.7,411.0 294.3,411.7 294.9,412.0 295.5,412.1 296.1,412.2 296.7,412.2 297.3,412.2 297.9,412.2 298.5,412.2 299.1,412.2 299.7,412.2 300.3,412.2 300.9,412.2 301.5,412.2 302.1,412.2 302.7,412.2 303.3,412.2 303.9,412.2 304.5,412.2 305.1,412.2 305.7,412.2 306.3,412.2 306.9,412.2 307.5,412.2 308.1,412.2 308.7,412.2 309.3,412.2 309.9,412.2 310.5,412.2 311.1,412.2 311.7,412.2 312.3,412.2 312.9,412.2 313.5,412.2 314.1,412.2 314.7,412.2 315.3,412.2 315.9,412.2 316.5,412.2 317.1,412.2 317.7,412.2 318.3,412.2 318.9,412.2 319.5,412.2 320.1,412.2 320.7,412.2 321.3,412.2 321.9,412.2 322.5,412.2 323.1,412.2 323.7,412.2 324.3,412.2 324.9,412.2 325.5,412.2 326.1,412.2 326.7,412.2 327.3,412.2 327.9,412.2 328.5,412.2 329.1,412.2 329.7,412.2 330.3,412.2 330.9,412.2 331.5,412.2 332.1,412.2 332.7,412.2 333.3,412.2 333.9,412.2 334.5,412.2 335.1,412.2 335.7,412.2 336.3,412.2 336.9,412.2 337.5,412.2 338.1,412.2 338.7,412.2 339.3,412.2 339.9,412.2 340.5,412.2 341.1,412.2 341.7,412.2 341.7,412.2" fill="rgba(229,51,59,0.17)"/>
<polyline points="177.3,412.2 177.9,412.2 178.5,412.2 179.1,412.2 179.7,412.2 180.3,412.2 180.9,412.2 181.5,412.2 182.1,412.2 182.7,412.2 183.3,412.2 183.9,412.2 184.5,412.2 185.1,412.2 185.7,412.2 186.3,412.2 186.9,412.2 187.5,412.2 188.1,412.2 188.7,412.2 189.3,412.2 189.9,412.2 190.5,412.2 191.1,412.2 191.7,412.2 192.3,412.2 192.9,412.2 193.5,412.2 194.1,412.1 194.7,411.8 195.3,411.1 195.9,409.8 196.5,407.4 197.1,403.5 197.7,398.1 198.3,391.7 198.9,385.7 199.5,381.4 200.1,380.2 200.7,382.5 201.3,387.5 201.9,393.9 202.5,400.0 203.1,404.9 203.7,408.3 204.3,410.4 204.9,411.4 205.5,411.9 206.1,412.1 206.7,412.2 207.3,412.2 207.9,412.2 208.5,412.2 209.1,412.2 209.7,412.2 210.3,412.2 210.9,412.2 211.5,412.2 212.1,412.2 212.7,412.2 213.3,412.2 213.9,412.2 214.5,412.2 215.1,412.2 215.7,412.2 216.3,412.2 216.9,412.2 217.5,412.2 218.1,412.2 218.7,412.2 219.3,412.2 219.9,412.2 220.5,412.2 221.1,412.2 221.7,412.2 222.3,412.2 222.9,412.2 223.5,412.2 224.1,412.2 224.7,412.2 225.3,412.2 225.9,412.2 226.5,412.2 227.1,412.2 227.7,412.2 228.3,412.2 228.9,412.2 229.5,412.2 230.1,412.2 230.7,412.2 231.3,412.2 231.9,412.2 232.5,412.2 233.1,412.2 233.7,412.2 234.3,412.1 234.9,411.9 235.5,411.4 236.1,410.3 236.7,408.2 237.3,404.6 237.9,399.2 238.5,392.2 239.1,384.9 239.7,378.7 240.3,375.4 240.9,376.1 241.5,380.5 242.1,387.3 242.7,394.7 243.3,401.2 243.9,406.0 244.5,409.1 245.1,410.8 245.7,411.6 246.3,412.0 246.9,412.1 247.5,412.2 248.1,412.2 248.7,412.2 249.3,412.2 249.9,412.2 250.5,412.2 251.1,412.2 251.7,412.2 252.3,412.2 252.9,412.2 253.5,412.2 254.1,412.2 254.7,412.2 255.3,412.2 255.9,412.2 256.5,412.2 257.1,412.2 257.7,412.2 258.3,412.2 258.9,412.2 259.5,412.2 260.1,412.2 260.7,412.2 261.3,412.2 261.9,412.2 262.5,412.2 263.1,412.2 263.7,412.2 264.3,412.2 264.9,412.2 265.5,412.2 266.1,412.2 266.7,412.2 267.3,412.2 267.9,412.2 268.5,412.2 269.1,412.2 269.7,412.2 270.3,412.2 270.9,412.2 271.5,412.2 272.1,412.2 272.7,412.2 273.3,412.2 273.9,412.2 274.5,412.2 275.1,412.2 275.7,412.2 276.3,412.2 276.9,412.2 277.5,412.2 278.1,412.2 278.7,412.2 279.3,412.2 279.9,412.2 280.5,412.2 281.1,412.2 281.7,412.2 282.3,412.2 282.9,412.2 283.5,412.1 284.1,411.9 284.7,411.5 285.3,410.6 285.9,408.9 286.5,406.3 287.1,402.7 287.7,398.4 288.3,394.3 288.9,391.4 289.5,390.6 290.1,392.2 290.7,395.6 291.3,399.8 291.9,404.0 292.5,407.3 293.1,409.6 293.7,411.0 294.3,411.7 294.9,412.0 295.5,412.1 296.1,412.2 296.7,412.2 297.3,412.2 297.9,412.2 298.5,412.2 299.1,412.2 299.7,412.2 300.3,412.2 300.9,412.2 301.5,412.2 302.1,412.2 302.7,412.2 303.3,412.2 303.9,412.2 304.5,412.2 305.1,412.2 305.7,412.2 306.3,412.2 306.9,412.2 307.5,412.2 308.1,412.2 308.7,412.2 309.3,412.2 309.9,412.2 310.5,412.2 311.1,412.2 311.7,412.2 312.3,412.2 312.9,412.2 313.5,412.2 314.1,412.2 314.7,412.2 315.3,412.2 315.9,412.2 316.5,412.2 317.1,412.2 317.7,412.2 318.3,412.2 318.9,412.2 319.5,412.2 320.1,412.2 320.7,412.2 321.3,412.2 321.9,412.2 322.5,412.2 323.1,412.2 323.7,412.2 324.3,412.2 324.9,412.2 325.5,412.2 326.1,412.2 326.7,412.2 327.3,412.2 327.9,412.2 328.5,412.2 329.1,412.2 329.7,412.2 330.3,412.2 330.9,412.2 331.5,412.2 332.1,412.2 332.7,412.2 333.3,412.2 333.9,412.2 334.5,412.2 335.1,412.2 335.7,412.2 336.3,412.2 336.9,412.2 337.5,412.2 338.1,412.2 338.7,412.2 339.3,412.2 339.9,412.2 340.5,412.2 341.1,412.2 341.7,412.2" fill="none" stroke="#e5333b" stroke-width="1.25" stroke-linejoin="round"/>
<rect x="361.00" y="311.20" width="158.00" height="102.00" fill="#f9f8f4" stroke="none" stroke-width="1.2"/>
<text transform="translate(364.80 318.50) scale(0.8 1)" font-size="8.9" text-anchor="middle" font-weight="bold" fill="#111" stroke="#111" stroke-width="0.3">G</text>
<text transform="translate(371.65 318.50) scale(0.8 1)" font-size="8.9" text-anchor="middle" font-weight="bold" fill="#111" stroke="#111" stroke-width="0.3">A</text>
<text transform="translate(378.51 318.50) scale(0.8 1)" font-size="8.9" text-anchor="middle" font-weight="bold" fill="#111" stroke="#111" stroke-width="0.3">C</text>
<text transform="translate(385.36 318.50) scale(0.8 1)" font-size="8.9" text-anchor="middle" font-weight="bold" fill="#111" stroke="#111" stroke-width="0.3">T</text>
<text transform="translate(392.22 318.50) scale(0.8 1)" font-size="8.9" text-anchor="middle" font-weight="bold" fill="#111" stroke="#111" stroke-width="0.3">A</text>
<text transform="translate(399.07 318.50) scale(0.8 1)" font-size="8.9" text-anchor="middle" font-weight="bold" fill="#111" stroke="#111" stroke-width="0.3">A</text>
<text transform="translate(405.93 318.50) scale(0.8 1)" font-size="8.9" text-anchor="middle" font-weight="bold" fill="#111" stroke="#111" stroke-width="0.3">A</text>
<text transform="translate(412.78 318.50) scale(0.8 1)" font-size="8.9" text-anchor="middle" font-weight="bold" fill="#111" stroke="#111" stroke-width="0.3">G</text>
<text transform="translate(419.64 318.50) scale(0.8 1)" font-size="8.9" text-anchor="middle" font-weight="bold" fill="#111" stroke="#111" stroke-width="0.3">A</text>
<text transform="translate(426.49 318.50) scale(0.8 1)" font-size="8.9" text-anchor="middle" font-weight="bold" fill="#111" stroke="#111" stroke-width="0.3">T</text>
<text transform="translate(433.35 318.50) scale(0.8 1)" font-size="8.9" text-anchor="middle" font-weight="bold" fill="#111" stroke="#111" stroke-width="0.3">C</text>
<text transform="translate(440.20 318.50) scale(0.8 1)" font-size="8.9" text-anchor="middle" font-weight="bold" fill="#111" stroke="#111" stroke-width="0.3">C</text>
<text transform="translate(447.05 318.50) scale(0.8 1)" font-size="8.9" text-anchor="middle" font-weight="bold" fill="#111" stroke="#111" stroke-width="0.3">A</text>
<text transform="translate(453.91 318.50) scale(0.8 1)" font-size="8.9" text-anchor="middle" font-weight="bold" fill="#111" stroke="#111" stroke-width="0.3">A</text>
<text transform="translate(460.76 318.50) scale(0.8 1)" font-size="8.9" text-anchor="middle" font-weight="bold" fill="#111" stroke="#111" stroke-width="0.3">A</text>
<text transform="translate(467.62 318.50) scale(0.8 1)" font-size="8.9" text-anchor="middle" font-weight="bold" fill="#111" stroke="#111" stroke-width="0.3">T</text>
<text transform="translate(474.47 318.50) scale(0.8 1)" font-size="8.9" text-anchor="middle" font-weight="bold" fill="#111" stroke="#111" stroke-width="0.3">G</text>
<text transform="translate(481.33 318.50) scale(0.8 1)" font-size="8.9" text-anchor="middle" font-weight="bold" fill="#111" stroke="#111" stroke-width="0.3">G</text>
<text transform="translate(488.18 318.50) scale(0.8 1)" font-size="8.9" text-anchor="middle" font-weight="bold" fill="#111" stroke="#111" stroke-width="0.3">A</text>
<text transform="translate(495.04 318.50) scale(0.8 1)" font-size="8.9" text-anchor="middle" font-weight="bold" fill="#111" stroke="#111" stroke-width="0.3">A</text>
<text transform="translate(501.89 318.50) scale(0.8 1)" font-size="8.9" text-anchor="middle" font-weight="bold" fill="#111" stroke="#111" stroke-width="0.3">A</text>
<text transform="translate(508.75 318.50) scale(0.8 1)" font-size="8.9" text-anchor="middle" font-weight="bold" fill="#111" stroke="#111" stroke-width="0.3">G</text>
<text transform="translate(515.60 318.50) scale(0.8 1)" font-size="8.9" text-anchor="middle" font-weight="bold" fill="#111" stroke="#111" stroke-width="0.3">A</text>
<line x1="361.00" y1="324.80" x2="519.00" y2="324.80" stroke="#c9c7c2" stroke-width="1.2"/>
<text transform="translate(364.80 339.60) scale(0.84 1)" font-size="9.5" text-anchor="middle" fill="#222" stroke="#222" stroke-width="0.15">G</text>
<text transform="translate(371.65 339.60) scale(0.84 1)" font-size="9.5" text-anchor="middle" fill="#222" stroke="#222" stroke-width="0.15">A</text>
<text transform="translate(378.51 339.60) scale(0.84 1)" font-size="9.5" text-anchor="middle" fill="#222" stroke="#222" stroke-width="0.15">C</text>
<text transform="translate(385.36 339.60) scale(0.84 1)" font-size="9.5" text-anchor="middle" fill="#222" stroke="#222" stroke-width="0.15">T</text>
<text transform="translate(392.22 339.60) scale(0.84 1)" font-size="9.5" text-anchor="middle" fill="#222" stroke="#222" stroke-width="0.15">A</text>
<text transform="translate(399.07 339.60) scale(0.84 1)" font-size="9.5" text-anchor="middle" fill="#222" stroke="#222" stroke-width="0.15">A</text>
<text transform="translate(405.93 339.60) scale(0.84 1)" font-size="9.5" text-anchor="middle" fill="#222" stroke="#222" stroke-width="0.15">A</text>
<text transform="translate(412.78 339.60) scale(0.84 1)" font-size="9.5" text-anchor="middle" fill="#222" stroke="#222" stroke-width="0.15">G</text>
<text transform="translate(419.64 339.60) scale(0.84 1)" font-size="9.5" text-anchor="middle" fill="#222" stroke="#222" stroke-width="0.15">A</text>
<text transform="translate(426.49 339.60) scale(0.84 1)" font-size="9.5" text-anchor="middle" fill="#222" stroke="#222" stroke-width="0.15">T</text>
<text transform="translate(433.35 339.60) scale(0.84 1)" font-size="9.5" text-anchor="middle" fill="#222" stroke="#222" stroke-width="0.15">C</text>
<text transform="translate(440.20 339.60) scale(0.84 1)" font-size="9.5" text-anchor="middle" fill="#222" stroke="#222" stroke-width="0.15">C</text>
<text transform="translate(447.05 339.60) scale(0.84 1)" font-size="9.5" text-anchor="middle" fill="#222" stroke="#222" stroke-width="0.15">A</text>
<text transform="translate(453.91 339.60) scale(0.84 1)" font-size="9.5" text-anchor="middle" fill="#222" stroke="#222" stroke-width="0.15">A</text>
<text transform="translate(460.76 339.60) scale(0.84 1)" font-size="9.5" text-anchor="middle" fill="#222" stroke="#222" stroke-width="0.15">A</text>
<text transform="translate(467.62 339.60) scale(0.84 1)" font-size="9.5" text-anchor="middle" fill="#222" stroke="#222" stroke-width="0.15">T</text>
<text transform="translate(474.47 339.60) scale(0.84 1)" font-size="9.5" text-anchor="middle" fill="#222" stroke="#222" stroke-width="0.15">G</text>
<text transform="translate(481.33 339.60) scale(0.84 1)" font-size="9.5" text-anchor="middle" fill="#222" stroke="#222" stroke-width="0.15">G</text>
<text transform="translate(488.18 339.60) scale(0.84 1)" font-size="9.5" text-anchor="middle" fill="#222" stroke="#222" stroke-width="0.15">A</text>
<text transform="translate(495.04 339.60) scale(0.84 1)" font-size="9.5" text-anchor="middle" fill="#222" stroke="#222" stroke-width="0.15">A</text>
<text transform="translate(501.89 339.60) scale(0.84 1)" font-size="9.5" text-anchor="middle" fill="#222" stroke="#222" stroke-width="0.15">A</text>
<text transform="translate(508.75 339.60) scale(0.84 1)" font-size="9.5" text-anchor="middle" fill="#222" stroke="#222" stroke-width="0.15">G</text>
<text transform="translate(515.60 339.60) scale(0.84 1)" font-size="9.5" text-anchor="middle" fill="#222" stroke="#222" stroke-width="0.15">A</text>
<line x1="383.80" y1="343.50" x2="383.80" y2="412.00" stroke="#b5b3ae" stroke-width="0.8" stroke-dasharray="2.4,1.8"/>
<line x1="452.30" y1="343.50" x2="452.30" y2="412.00" stroke="#b5b3ae" stroke-width="0.8" stroke-dasharray="2.4,1.8"/>
<polygon points="361.5,412.0 361.5,412.0 362.1,412.0 362.7,412.0 363.3,412.0 363.9,411.9 364.5,411.8 365.1,411.4 365.7,410.6 366.3,409.2 366.9,406.8 367.5,403.4 368.1,399.3 368.7,395.2 369.3,392.1 369.9,391.0 370.5,392.1 371.1,395.2 371.7,399.3 372.3,403.4 372.9,406.8 373.5,409.2 374.1,410.6 374.7,411.4 375.3,411.8 375.9,411.9 376.5,412.0 377.1,412.0 377.7,412.0 378.3,412.0 378.9,412.0 379.5,412.0 380.1,412.0 380.7,412.0 381.3,412.0 381.9,412.0 382.5,412.0 383.1,412.0 383.7,412.0 384.3,412.0 384.9,411.9 385.5,411.7 386.1,411.3 386.7,410.4 387.3,408.6 387.9,405.6 388.5,401.3 389.1,396.0 389.7,390.4 390.3,386.0 390.9,384.0 391.5,385.0 392.1,388.5 392.7,393.3 393.3,397.9 393.9,400.6 394.5,400.6 395.1,397.6 395.7,392.2 396.3,385.8 396.9,380.2 397.5,377.2 398.1,377.8 398.7,381.9 399.3,388.1 399.9,394.6 400.5,399.6 401.1,402.2 401.7,401.9 402.3,399.2 402.9,394.8 403.5,390.2 404.1,386.9 404.7,386.0 405.3,387.9 405.9,392.0 406.5,397.1 407.1,402.1 407.7,406.1 408.3,408.9 408.9,410.5 409.5,411.4 410.1,411.8 410.7,411.9 411.3,412.0 411.9,412.0 412.5,412.0 413.1,411.9 413.7,411.7 414.3,411.4 414.9,410.5 415.5,409.1 416.1,406.7 416.7,403.4 417.3,399.5 417.9,395.8 418.5,393.2 419.1,392.5 419.7,393.9 420.3,397.0 420.9,400.8 421.5,404.6 422.1,407.6 422.7,409.6 423.3,410.9 423.9,411.5 424.5,411.8 425.1,411.9 425.7,412.0 426.3,412.0 426.9,412.0 427.5,412.0 428.1,412.0 428.7,412.0 429.3,412.0 429.9,412.0 430.5,412.0 431.1,412.0 431.7,412.0 432.3,412.0 432.9,412.0 433.5,412.0 434.1,412.0 434.7,412.0 435.3,412.0 435.9,412.0 436.5,412.0 437.1,412.0 437.7,412.0 438.3,412.0 438.9,412.0 439.5,412.0 440.1,412.0 440.7,411.9 441.3,411.8 441.9,411.5 442.5,410.7 443.1,409.3 443.7,407.0 444.3,403.6 444.9,399.4 445.5,395.1 446.1,391.6 446.7,390.0 447.3,390.8 447.9,393.7 448.5,397.7 449.1,401.8 449.7,404.8 450.3,406.1 450.9,405.1 451.5,402.0 452.1,397.0 452.7,391.0 453.3,385.4 453.9,381.7 454.5,381.2 455.1,383.8 455.7,388.8 456.3,394.5 456.9,399.2 457.5,401.7 458.1,401.4 458.7,398.2 459.3,393.0 459.9,387.1 460.5,382.2 461.1,380.0 461.7,381.2 462.3,385.4 462.9,391.5 463.5,397.9 464.1,403.3 464.7,407.2 465.3,409.6 465.9,410.9 466.5,411.6 467.1,411.9 467.7,412.0 468.3,412.0 468.9,412.0 469.5,412.0 470.1,412.0 470.7,412.0 471.3,412.0 471.9,412.0 472.5,412.0 473.1,412.0 473.7,412.0 474.3,412.0 474.9,412.0 475.5,412.0 476.1,412.0 476.7,412.0 477.3,412.0 477.9,412.0 478.5,412.0 479.1,412.0 479.7,412.0 480.3,412.0 480.9,411.9 481.5,411.7 482.1,411.3 482.7,410.4 483.3,408.6 483.9,405.6 484.5,401.3 485.1,396.0 485.7,390.4 486.3,386.0 486.9,384.0 487.5,385.0 488.1,388.6 488.7,393.6 489.3,398.4 489.9,401.5 490.5,402.0 491.1,399.5 491.7,394.3 492.3,387.3 492.9,380.3 493.5,375.4 494.1,374.0 494.7,376.7 495.3,382.5 495.9,389.6 496.5,396.1 497.1,400.4 497.7,401.6 498.3,399.9 498.9,396.0 499.5,391.0 500.1,386.5 500.7,384.1 501.3,384.7 501.9,388.0 502.5,393.1 503.1,398.7 503.7,403.6 504.3,407.3 504.9,409.6 505.5,410.9 506.1,411.6 506.7,411.8 507.3,411.9 507.9,412.0 508.5,412.0 509.1,411.9 509.7,411.6 510.3,411.1 510.9,410.0 511.5,407.9 512.1,404.6 512.7,400.1 513.3,394.7 513.9,389.6 514.5,386.0 515.1,385.0 515.7,387.0 516.3,391.2 516.9,396.5 517.5,401.7 518.1,405.9 518.1,412.0" fill="rgba(63,174,73,0.17)"/>
<polyline points="361.5,412.0 362.1,412.0 362.7,412.0 363.3,412.0 363.9,411.9 364.5,411.8 365.1,411.4 365.7,410.6 366.3,409.2 366.9,406.8 367.5,403.4 368.1,399.3 368.7,395.2 369.3,392.1 369.9,391.0 370.5,392.1 371.1,395.2 371.7,399.3 372.3,403.4 372.9,406.8 373.5,409.2 374.1,410.6 374.7,411.4 375.3,411.8 375.9,411.9 376.5,412.0 377.1,412.0 377.7,412.0 378.3,412.0 378.9,412.0 379.5,412.0 380.1,412.0 380.7,412.0 381.3,412.0 381.9,412.0 382.5,412.0 383.1,412.0 383.7,412.0 384.3,412.0 384.9,411.9 385.5,411.7 386.1,411.3 386.7,410.4 387.3,408.6 387.9,405.6 388.5,401.3 389.1,396.0 389.7,390.4 390.3,386.0 390.9,384.0 391.5,385.0 392.1,388.5 392.7,393.3 393.3,397.9 393.9,400.6 394.5,400.6 395.1,397.6 395.7,392.2 396.3,385.8 396.9,380.2 397.5,377.2 398.1,377.8 398.7,381.9 399.3,388.1 399.9,394.6 400.5,399.6 401.1,402.2 401.7,401.9 402.3,399.2 402.9,394.8 403.5,390.2 404.1,386.9 404.7,386.0 405.3,387.9 405.9,392.0 406.5,397.1 407.1,402.1 407.7,406.1 408.3,408.9 408.9,410.5 409.5,411.4 410.1,411.8 410.7,411.9 411.3,412.0 411.9,412.0 412.5,412.0 413.1,411.9 413.7,411.7 414.3,411.4 414.9,410.5 415.5,409.1 416.1,406.7 416.7,403.4 417.3,399.5 417.9,395.8 418.5,393.2 419.1,392.5 419.7,393.9 420.3,397.0 420.9,400.8 421.5,404.6 422.1,407.6 422.7,409.6 423.3,410.9 423.9,411.5 424.5,411.8 425.1,411.9 425.7,412.0 426.3,412.0 426.9,412.0 427.5,412.0 428.1,412.0 428.7,412.0 429.3,412.0 429.9,412.0 430.5,412.0 431.1,412.0 431.7,412.0 432.3,412.0 432.9,412.0 433.5,412.0 434.1,412.0 434.7,412.0 435.3,412.0 435.9,412.0 436.5,412.0 437.1,412.0 437.7,412.0 438.3,412.0 438.9,412.0 439.5,412.0 440.1,412.0 440.7,411.9 441.3,411.8 441.9,411.5 442.5,410.7 443.1,409.3 443.7,407.0 444.3,403.6 444.9,399.4 445.5,395.1 446.1,391.6 446.7,390.0 447.3,390.8 447.9,393.7 448.5,397.7 449.1,401.8 449.7,404.8 450.3,406.1 450.9,405.1 451.5,402.0 452.1,397.0 452.7,391.0 453.3,385.4 453.9,381.7 454.5,381.2 455.1,383.8 455.7,388.8 456.3,394.5 456.9,399.2 457.5,401.7 458.1,401.4 458.7,398.2 459.3,393.0 459.9,387.1 460.5,382.2 461.1,380.0 461.7,381.2 462.3,385.4 462.9,391.5 463.5,397.9 464.1,403.3 464.7,407.2 465.3,409.6 465.9,410.9 466.5,411.6 467.1,411.9 467.7,412.0 468.3,412.0 468.9,412.0 469.5,412.0 470.1,412.0 470.7,412.0 471.3,412.0 471.9,412.0 472.5,412.0 473.1,412.0 473.7,412.0 474.3,412.0 474.9,412.0 475.5,412.0 476.1,412.0 476.7,412.0 477.3,412.0 477.9,412.0 478.5,412.0 479.1,412.0 479.7,412.0 480.3,412.0 480.9,411.9 481.5,411.7 482.1,411.3 482.7,410.4 483.3,408.6 483.9,405.6 484.5,401.3 485.1,396.0 485.7,390.4 486.3,386.0 486.9,384.0 487.5,385.0 488.1,388.6 488.7,393.6 489.3,398.4 489.9,401.5 490.5,402.0 491.1,399.5 491.7,394.3 492.3,387.3 492.9,380.3 493.5,375.4 494.1,374.0 494.7,376.7 495.3,382.5 495.9,389.6 496.5,396.1 497.1,400.4 497.7,401.6 498.3,399.9 498.9,396.0 499.5,391.0 500.1,386.5 500.7,384.1 501.3,384.7 501.9,388.0 502.5,393.1 503.1,398.7 503.7,403.6 504.3,407.3 504.9,409.6 505.5,410.9 506.1,411.6 506.7,411.8 507.3,411.9 507.9,412.0 508.5,412.0 509.1,411.9 509.7,411.6 510.3,411.1 510.9,410.0 511.5,407.9 512.1,404.6 512.7,400.1 513.3,394.7 513.9,389.6 514.5,386.0 515.1,385.0 515.7,387.0 516.3,391.2 516.9,396.5 517.5,401.7 518.1,405.9" fill="none" stroke="#3fae49" stroke-width="1.25" stroke-linejoin="round"/>
<polygon points="361.5,412.0 361.5,391.3 362.1,386.6 362.7,384.2 363.3,384.7 363.9,388.0 364.5,393.1 365.1,398.7 365.7,403.6 366.3,407.3 366.9,409.6 367.5,410.9 368.1,411.6 368.7,411.8 369.3,411.9 369.9,412.0 370.5,412.0 371.1,412.0 371.7,412.0 372.3,412.0 372.9,412.0 373.5,412.0 374.1,412.0 374.7,412.0 375.3,412.0 375.9,412.0 376.5,412.0 377.1,412.0 377.7,412.0 378.3,412.0 378.9,412.0 379.5,412.0 380.1,412.0 380.7,412.0 381.3,412.0 381.9,412.0 382.5,412.0 383.1,412.0 383.7,412.0 384.3,412.0 384.9,412.0 385.5,412.0 386.1,412.0 386.7,412.0 387.3,412.0 387.9,412.0 388.5,412.0 389.1,412.0 389.7,412.0 390.3,412.0 390.9,412.0 391.5,412.0 392.1,412.0 392.7,412.0 393.3,412.0 393.9,412.0 394.5,412.0 395.1,412.0 395.7,412.0 396.3,412.0 396.9,412.0 397.5,412.0 398.1,412.0 398.7,412.0 399.3,412.0 399.9,412.0 400.5,412.0 401.1,412.0 401.7,412.0 402.3,412.0 402.9,412.0 403.5,412.0 404.1,412.0 404.7,412.0 405.3,412.0 405.9,411.9 406.5,411.8 407.1,411.4 407.7,410.6 408.3,409.1 408.9,406.4 409.5,402.5 410.1,397.4 410.7,392.0 411.3,387.5 411.9,385.2 412.5,385.7 413.1,388.9 413.7,393.8 414.3,399.2 414.9,403.9 415.5,407.5 416.1,409.7 416.7,411.0 417.3,411.6 417.9,411.8 418.5,412.0 419.1,412.0 419.7,412.0 420.3,412.0 420.9,412.0 421.5,412.0 422.1,412.0 422.7,412.0 423.3,412.0 423.9,412.0 424.5,412.0 425.1,412.0 425.7,412.0 426.3,412.0 426.9,412.0 427.5,412.0 428.1,412.0 428.7,412.0 429.3,412.0 429.9,412.0 430.5,412.0 431.1,412.0 431.7,412.0 432.3,412.0 432.9,412.0 433.5,412.0 434.1,412.0 434.7,412.0 435.3,412.0 435.9,412.0 436.5,412.0 437.1,412.0 437.7,412.0 438.3,412.0 438.9,412.0 439.5,412.0 440.1,412.0 440.7,412.0 441.3,412.0 441.9,412.0 442.5,412.0 443.1,412.0 443.7,412.0 444.3,412.0 444.9,412.0 445.5,412.0 446.1,412.0 446.7,412.0 447.3,412.0 447.9,412.0 448.5,412.0 449.1,412.0 449.7,412.0 450.3,412.0 450.9,412.0 451.5,412.0 452.1,412.0 452.7,412.0 453.3,412.0 453.9,412.0 454.5,412.0 455.1,412.0 455.7,412.0 456.3,412.0 456.9,412.0 457.5,412.0 458.1,412.0 458.7,412.0 459.3,412.0 459.9,412.0 460.5,412.0 461.1,412.0 461.7,412.0 462.3,412.0 462.9,412.0 463.5,412.0 464.1,412.0 464.7,412.0 465.3,412.0 465.9,412.0 466.5,412.0 467.1,412.0 467.7,411.9 468.3,411.8 468.9,411.6 469.5,410.9 470.1,409.6 470.7,407.3 471.3,403.6 471.9,398.7 472.5,393.1 473.1,388.0 473.7,384.6 474.3,384.1 474.9,386.3 475.5,390.4 476.1,394.9 476.7,398.0 477.3,398.6 477.9,396.4 478.5,392.1 479.1,387.0 479.7,382.9 480.3,381.4 480.9,383.1 481.5,387.6 482.1,393.5 482.7,399.5 483.3,404.4 483.9,407.9 484.5,410.0 485.1,411.1 485.7,411.7 486.3,411.9 486.9,412.0 487.5,412.0 488.1,412.0 488.7,412.0 489.3,412.0 489.9,412.0 490.5,412.0 491.1,412.0 491.7,412.0 492.3,412.0 492.9,412.0 493.5,412.0 494.1,412.0 494.7,412.0 495.3,412.0 495.9,412.0 496.5,412.0 497.1,412.0 497.7,412.0 498.3,412.0 498.9,412.0 499.5,412.0 500.1,412.0 500.7,412.0 501.3,411.9 501.9,411.8 502.5,411.5 503.1,410.9 503.7,409.5 504.3,407.2 504.9,403.6 505.5,398.8 506.1,393.6 506.7,389.1 507.3,386.4 507.9,386.4 508.5,389.1 509.1,393.6 509.7,398.8 510.3,403.6 510.9,407.2 511.5,409.5 512.1,410.9 512.7,411.5 513.3,411.8 513.9,411.9 514.5,412.0 515.1,412.0 515.7,412.0 516.3,412.0 516.9,412.0 517.5,412.0 518.1,412.0 518.1,412.0" fill="rgba(40,40,40,0.17)"/>
<polyline points="361.5,391.3 362.1,386.6 362.7,384.2 363.3,384.7 363.9,388.0 364.5,393.1 365.1,398.7 365.7,403.6 366.3,407.3 366.9,409.6 367.5,410.9 368.1,411.6 368.7,411.8 369.3,411.9 369.9,412.0 370.5,412.0 371.1,412.0 371.7,412.0 372.3,412.0 372.9,412.0 373.5,412.0 374.1,412.0 374.7,412.0 375.3,412.0 375.9,412.0 376.5,412.0 377.1,412.0 377.7,412.0 378.3,412.0 378.9,412.0 379.5,412.0 380.1,412.0 380.7,412.0 381.3,412.0 381.9,412.0 382.5,412.0 383.1,412.0 383.7,412.0 384.3,412.0 384.9,412.0 385.5,412.0 386.1,412.0 386.7,412.0 387.3,412.0 387.9,412.0 388.5,412.0 389.1,412.0 389.7,412.0 390.3,412.0 390.9,412.0 391.5,412.0 392.1,412.0 392.7,412.0 393.3,412.0 393.9,412.0 394.5,412.0 395.1,412.0 395.7,412.0 396.3,412.0 396.9,412.0 397.5,412.0 398.1,412.0 398.7,412.0 399.3,412.0 399.9,412.0 400.5,412.0 401.1,412.0 401.7,412.0 402.3,412.0 402.9,412.0 403.5,412.0 404.1,412.0 404.7,412.0 405.3,412.0 405.9,411.9 406.5,411.8 407.1,411.4 407.7,410.6 408.3,409.1 408.9,406.4 409.5,402.5 410.1,397.4 410.7,392.0 411.3,387.5 411.9,385.2 412.5,385.7 413.1,388.9 413.7,393.8 414.3,399.2 414.9,403.9 415.5,407.5 416.1,409.7 416.7,411.0 417.3,411.6 417.9,411.8 418.5,412.0 419.1,412.0 419.7,412.0 420.3,412.0 420.9,412.0 421.5,412.0 422.1,412.0 422.7,412.0 423.3,412.0 423.9,412.0 424.5,412.0 425.1,412.0 425.7,412.0 426.3,412.0 426.9,412.0 427.5,412.0 428.1,412.0 428.7,412.0 429.3,412.0 429.9,412.0 430.5,412.0 431.1,412.0 431.7,412.0 432.3,412.0 432.9,412.0 433.5,412.0 434.1,412.0 434.7,412.0 435.3,412.0 435.9,412.0 436.5,412.0 437.1,412.0 437.7,412.0 438.3,412.0 438.9,412.0 439.5,412.0 440.1,412.0 440.7,412.0 441.3,412.0 441.9,412.0 442.5,412.0 443.1,412.0 443.7,412.0 444.3,412.0 444.9,412.0 445.5,412.0 446.1,412.0 446.7,412.0 447.3,412.0 447.9,412.0 448.5,412.0 449.1,412.0 449.7,412.0 450.3,412.0 450.9,412.0 451.5,412.0 452.1,412.0 452.7,412.0 453.3,412.0 453.9,412.0 454.5,412.0 455.1,412.0 455.7,412.0 456.3,412.0 456.9,412.0 457.5,412.0 458.1,412.0 458.7,412.0 459.3,412.0 459.9,412.0 460.5,412.0 461.1,412.0 461.7,412.0 462.3,412.0 462.9,412.0 463.5,412.0 464.1,412.0 464.7,412.0 465.3,412.0 465.9,412.0 466.5,412.0 467.1,412.0 467.7,411.9 468.3,411.8 468.9,411.6 469.5,410.9 470.1,409.6 470.7,407.3 471.3,403.6 471.9,398.7 472.5,393.1 473.1,388.0 473.7,384.6 474.3,384.1 474.9,386.3 475.5,390.4 476.1,394.9 476.7,398.0 477.3,398.6 477.9,396.4 478.5,392.1 479.1,387.0 479.7,382.9 480.3,381.4 480.9,383.1 481.5,387.6 482.1,393.5 482.7,399.5 483.3,404.4 483.9,407.9 484.5,410.0 485.1,411.1 485.7,411.7 486.3,411.9 486.9,412.0 487.5,412.0 488.1,412.0 488.7,412.0 489.3,412.0 489.9,412.0 490.5,412.0 491.1,412.0 491.7,412.0 492.3,412.0 492.9,412.0 493.5,412.0 494.1,412.0 494.7,412.0 495.3,412.0 495.9,412.0 496.5,412.0 497.1,412.0 497.7,412.0 498.3,412.0 498.9,412.0 499.5,412.0 500.1,412.0 500.7,412.0 501.3,411.9 501.9,411.8 502.5,411.5 503.1,410.9 503.7,409.5 504.3,407.2 504.9,403.6 505.5,398.8 506.1,393.6 506.7,389.1 507.3,386.4 507.9,386.4 508.5,389.1 509.1,393.6 509.7,398.8 510.3,403.6 510.9,407.2 511.5,409.5 512.1,410.9 512.7,411.5 513.3,411.8 513.9,411.9 514.5,412.0 515.1,412.0 515.7,412.0 516.3,412.0 516.9,412.0 517.5,412.0 518.1,412.0" fill="none" stroke="#1a1a1a" stroke-width="1.25" stroke-linejoin="round"/>
<polygon points="361.5,412.0 361.5,412.0 362.1,412.0 362.7,412.0 363.3,412.0 363.9,412.0 364.5,412.0 365.1,412.0 365.7,412.0 366.3,412.0 366.9,412.0 367.5,412.0 368.1,412.0 368.7,412.0 369.3,412.0 369.9,412.0 370.5,411.9 371.1,411.8 371.7,411.4 372.3,410.5 372.9,408.7 373.5,405.7 374.1,401.0 374.7,394.8 375.3,388.0 375.9,382.0 376.5,378.5 377.1,378.5 377.7,382.0 378.3,388.0 378.9,394.8 379.5,401.0 380.1,405.7 380.7,408.7 381.3,410.5 381.9,411.4 382.5,411.8 383.1,411.9 383.7,412.0 384.3,412.0 384.9,412.0 385.5,412.0 386.1,412.0 386.7,412.0 387.3,412.0 387.9,412.0 388.5,412.0 389.1,412.0 389.7,412.0 390.3,412.0 390.9,412.0 391.5,412.0 392.1,412.0 392.7,412.0 393.3,412.0 393.9,412.0 394.5,412.0 395.1,412.0 395.7,412.0 396.3,412.0 396.9,412.0 397.5,412.0 398.1,412.0 398.7,412.0 399.3,412.0 399.9,412.0 400.5,412.0 401.1,412.0 401.7,412.0 402.3,412.0 402.9,412.0 403.5,412.0 404.1,412.0 404.7,412.0 405.3,412.0 405.9,412.0 406.5,412.0 407.1,412.0 407.7,412.0 408.3,412.0 408.9,412.0 409.5,412.0 410.1,412.0 410.7,412.0 411.3,412.0 411.9,412.0 412.5,412.0 413.1,412.0 413.7,412.0 414.3,412.0 414.9,412.0 415.5,412.0 416.1,412.0 416.7,412.0 417.3,412.0 417.9,412.0 418.5,412.0 419.1,412.0 419.7,412.0 420.3,412.0 420.9,412.0 421.5,412.0 422.1,412.0 422.7,412.0 423.3,412.0 423.9,412.0 424.5,412.0 425.1,412.0 425.7,412.0 426.3,412.0 426.9,411.9 427.5,411.6 428.1,411.1 428.7,410.2 429.3,408.6 429.9,406.3 430.5,403.4 431.1,400.4 431.7,398.1 432.3,397.0 432.9,397.5 433.5,399.3 434.1,401.8 434.7,403.9 435.3,404.5 435.9,402.9 436.5,398.6 437.1,391.6 437.7,383.0 438.3,374.6 438.9,368.7 439.5,367.1 440.1,370.3 440.7,377.3 441.3,386.2 441.9,394.8 442.5,401.8 443.1,406.6 443.7,409.4 444.3,410.9 444.9,411.6 445.5,411.9 446.1,412.0 446.7,412.0 447.3,412.0 447.9,412.0 448.5,412.0 449.1,412.0 449.7,412.0 450.3,412.0 450.9,412.0 451.5,412.0 452.1,412.0 452.7,412.0 453.3,412.0 453.9,412.0 454.5,412.0 455.1,412.0 455.7,412.0 456.3,412.0 456.9,412.0 457.5,412.0 458.1,412.0 458.7,412.0 459.3,412.0 459.9,412.0 460.5,412.0 461.1,412.0 461.7,412.0 462.3,412.0 462.9,412.0 463.5,412.0 464.1,412.0 464.7,412.0 465.3,412.0 465.9,412.0 466.5,412.0 467.1,412.0 467.7,412.0 468.3,412.0 468.9,412.0 469.5,412.0 470.1,412.0 470.7,412.0 471.3,412.0 471.9,412.0 472.5,412.0 473.1,412.0 473.7,412.0 474.3,412.0 474.9,412.0 475.5,412.0 476.1,412.0 476.7,412.0 477.3,412.0 477.9,412.0 478.5,412.0 479.1,412.0 479.7,412.0 480.3,412.0 480.9,412.0 481.5,412.0 482.1,412.0 482.7,412.0 483.3,412.0 483.9,412.0 484.5,412.0 485.1,412.0 485.7,412.0 486.3,412.0 486.9,412.0 487.5,412.0 488.1,412.0 488.7,412.0 489.3,412.0 489.9,412.0 490.5,412.0 491.1,412.0 491.7,412.0 492.3,412.0 492.9,412.0 493.5,412.0 494.1,412.0 494.7,412.0 495.3,412.0 495.9,412.0 496.5,412.0 497.1,412.0 497.7,412.0 498.3,412.0 498.9,412.0 499.5,412.0 500.1,412.0 500.7,412.0 501.3,412.0 501.9,412.0 502.5,412.0 503.1,412.0 503.7,412.0 504.3,412.0 504.9,412.0 505.5,412.0 506.1,412.0 506.7,412.0 507.3,412.0 507.9,412.0 508.5,412.0 509.1,412.0 509.7,412.0 510.3,412.0 510.9,412.0 511.5,412.0 512.1,412.0 512.7,412.0 513.3,412.0 513.9,412.0 514.5,412.0 515.1,412.0 515.7,412.0 516.3,412.0 516.9,412.0 517.5,412.0 518.1,412.0 518.1,412.0" fill="rgba(47,111,201,0.17)"/>
<polyline points="361.5,412.0 362.1,412.0 362.7,412.0 363.3,412.0 363.9,412.0 364.5,412.0 365.1,412.0 365.7,412.0 366.3,412.0 366.9,412.0 367.5,412.0 368.1,412.0 368.7,412.0 369.3,412.0 369.9,412.0 370.5,411.9 371.1,411.8 371.7,411.4 372.3,410.5 372.9,408.7 373.5,405.7 374.1,401.0 374.7,394.8 375.3,388.0 375.9,382.0 376.5,378.5 377.1,378.5 377.7,382.0 378.3,388.0 378.9,394.8 379.5,401.0 380.1,405.7 380.7,408.7 381.3,410.5 381.9,411.4 382.5,411.8 383.1,411.9 383.7,412.0 384.3,412.0 384.9,412.0 385.5,412.0 386.1,412.0 386.7,412.0 387.3,412.0 387.9,412.0 388.5,412.0 389.1,412.0 389.7,412.0 390.3,412.0 390.9,412.0 391.5,412.0 392.1,412.0 392.7,412.0 393.3,412.0 393.9,412.0 394.5,412.0 395.1,412.0 395.7,412.0 396.3,412.0 396.9,412.0 397.5,412.0 398.1,412.0 398.7,412.0 399.3,412.0 399.9,412.0 400.5,412.0 401.1,412.0 401.7,412.0 402.3,412.0 402.9,412.0 403.5,412.0 404.1,412.0 404.7,412.0 405.3,412.0 405.9,412.0 406.5,412.0 407.1,412.0 407.7,412.0 408.3,412.0 408.9,412.0 409.5,412.0 410.1,412.0 410.7,412.0 411.3,412.0 411.9,412.0 412.5,412.0 413.1,412.0 413.7,412.0 414.3,412.0 414.9,412.0 415.5,412.0 416.1,412.0 416.7,412.0 417.3,412.0 417.9,412.0 418.5,412.0 419.1,412.0 419.7,412.0 420.3,412.0 420.9,412.0 421.5,412.0 422.1,412.0 422.7,412.0 423.3,412.0 423.9,412.0 424.5,412.0 425.1,412.0 425.7,412.0 426.3,412.0 426.9,411.9 427.5,411.6 428.1,411.1 428.7,410.2 429.3,408.6 429.9,406.3 430.5,403.4 431.1,400.4 431.7,398.1 432.3,397.0 432.9,397.5 433.5,399.3 434.1,401.8 434.7,403.9 435.3,404.5 435.9,402.9 436.5,398.6 437.1,391.6 437.7,383.0 438.3,374.6 438.9,368.7 439.5,367.1 440.1,370.3 440.7,377.3 441.3,386.2 441.9,394.8 442.5,401.8 443.1,406.6 443.7,409.4 444.3,410.9 444.9,411.6 445.5,411.9 446.1,412.0 446.7,412.0 447.3,412.0 447.9,412.0 448.5,412.0 449.1,412.0 449.7,412.0 450.3,412.0 450.9,412.0 451.5,412.0 452.1,412.0 452.7,412.0 453.3,412.0 453.9,412.0 454.5,412.0 455.1,412.0 455.7,412.0 456.3,412.0 456.9,412.0 457.5,412.0 458.1,412.0 458.7,412.0 459.3,412.0 459.9,412.0 460.5,412.0 461.1,412.0 461.7,412.0 462.3,412.0 462.9,412.0 463.5,412.0 464.1,412.0 464.7,412.0 465.3,412.0 465.9,412.0 466.5,412.0 467.1,412.0 467.7,412.0 468.3,412.0 468.9,412.0 469.5,412.0 470.1,412.0 470.7,412.0 471.3,412.0 471.9,412.0 472.5,412.0 473.1,412.0 473.7,412.0 474.3,412.0 474.9,412.0 475.5,412.0 476.1,412.0 476.7,412.0 477.3,412.0 477.9,412.0 478.5,412.0 479.1,412.0 479.7,412.0 480.3,412.0 480.9,412.0 481.5,412.0 482.1,412.0 482.7,412.0 483.3,412.0 483.9,412.0 484.5,412.0 485.1,412.0 485.7,412.0 486.3,412.0 486.9,412.0 487.5,412.0 488.1,412.0 488.7,412.0 489.3,412.0 489.9,412.0 490.5,412.0 491.1,412.0 491.7,412.0 492.3,412.0 492.9,412.0 493.5,412.0 494.1,412.0 494.7,412.0 495.3,412.0 495.9,412.0 496.5,412.0 497.1,412.0 497.7,412.0 498.3,412.0 498.9,412.0 499.5,412.0 500.1,412.0 500.7,412.0 501.3,412.0 501.9,412.0 502.5,412.0 503.1,412.0 503.7,412.0 504.3,412.0 504.9,412.0 505.5,412.0 506.1,412.0 506.7,412.0 507.3,412.0 507.9,412.0 508.5,412.0 509.1,412.0 509.7,412.0 510.3,412.0 510.9,412.0 511.5,412.0 512.1,412.0 512.7,412.0 513.3,412.0 513.9,412.0 514.5,412.0 515.1,412.0 515.7,412.0 516.3,412.0 516.9,412.0 517.5,412.0 518.1,412.0" fill="none" stroke="#2f6fc9" stroke-width="1.25" stroke-linejoin="round"/>
<polygon points="361.5,412.0 361.5,412.0 362.1,412.0 362.7,412.0 363.3,412.0 363.9,412.0 364.5,412.0 365.1,412.0 365.7,412.0 366.3,412.0 366.9,412.0 367.5,412.0 368.1,412.0 368.7,412.0 369.3,412.0 369.9,412.0 370.5,412.0 371.1,412.0 371.7,412.0 372.3,412.0 372.9,412.0 373.5,412.0 374.1,412.0 374.7,412.0 375.3,412.0 375.9,412.0 376.5,412.0 377.1,412.0 377.7,411.9 378.3,411.8 378.9,411.3 379.5,410.4 380.1,408.5 380.7,405.1 381.3,400.0 381.9,393.3 382.5,385.9 383.1,379.3 383.7,375.5 384.3,375.5 384.9,379.3 385.5,385.9 386.1,393.3 386.7,400.0 387.3,405.1 387.9,408.5 388.5,410.4 389.1,411.3 389.7,411.8 390.3,411.9 390.9,412.0 391.5,412.0 392.1,412.0 392.7,412.0 393.3,412.0 393.9,412.0 394.5,412.0 395.1,412.0 395.7,412.0 396.3,412.0 396.9,412.0 397.5,412.0 398.1,412.0 398.7,412.0 399.3,412.0 399.9,412.0 400.5,412.0 401.1,412.0 401.7,412.0 402.3,412.0 402.9,412.0 403.5,412.0 404.1,412.0 404.7,412.0 405.3,412.0 405.9,412.0 406.5,412.0 407.1,412.0 407.7,412.0 408.3,412.0 408.9,412.0 409.5,412.0 410.1,412.0 410.7,412.0 411.3,412.0 411.9,412.0 412.5,412.0 413.1,412.0 413.7,412.0 414.3,412.0 414.9,412.0 415.5,412.0 416.1,412.0 416.7,412.0 417.3,412.0 417.9,412.0 418.5,412.0 419.1,411.9 419.7,411.8 420.3,411.4 420.9,410.5 421.5,408.9 422.1,406.2 422.7,402.2 423.3,397.3 423.9,392.3 424.5,388.3 425.1,386.4 425.7,387.4 426.3,390.8 426.9,395.6 427.5,400.7 428.1,405.0 428.7,408.1 429.3,410.1 429.9,411.2 430.5,411.7 431.1,411.9 431.7,412.0 432.3,412.0 432.9,412.0 433.5,412.0 434.1,412.0 434.7,412.0 435.3,412.0 435.9,412.0 436.5,412.0 437.1,412.0 437.7,412.0 438.3,412.0 438.9,412.0 439.5,412.0 440.1,412.0 440.7,412.0 441.3,412.0 441.9,412.0 442.5,412.0 443.1,412.0 443.7,412.0 444.3,412.0 444.9,412.0 445.5,412.0 446.1,412.0 446.7,412.0 447.3,412.0 447.9,412.0 448.5,412.0 449.1,412.0 449.7,412.0 450.3,412.0 450.9,412.0 451.5,412.0 452.1,412.0 452.7,412.0 453.3,412.0 453.9,412.0 454.5,412.0 455.1,412.0 455.7,412.0 456.3,412.0 456.9,412.0 457.5,412.0 458.1,412.0 458.7,412.0 459.3,412.0 459.9,412.0 460.5,412.0 461.1,412.0 461.7,411.9 462.3,411.8 462.9,411.5 463.5,410.9 464.1,409.6 464.7,407.4 465.3,404.1 465.9,399.9 466.5,395.4 467.1,391.7 467.7,389.7 468.3,390.1 468.9,392.8 469.5,396.9 470.1,401.4 470.7,405.3 471.3,408.2 471.9,410.1 472.5,411.1 473.1,411.7 473.7,411.9 474.3,412.0 474.9,412.0 475.5,412.0 476.1,412.0 476.7,412.0 477.3,412.0 477.9,412.0 478.5,412.0 479.1,412.0 479.7,412.0 480.3,412.0 480.9,412.0 481.5,412.0 482.1,412.0 482.7,412.0 483.3,412.0 483.9,412.0 484.5,412.0 485.1,412.0 485.7,412.0 486.3,412.0 486.9,412.0 487.5,412.0 488.1,412.0 488.7,412.0 489.3,412.0 489.9,412.0 490.5,412.0 491.1,412.0 491.7,412.0 492.3,412.0 492.9,412.0 493.5,412.0 494.1,412.0 494.7,412.0 495.3,412.0 495.9,412.0 496.5,412.0 497.1,412.0 497.7,412.0 498.3,412.0 498.9,412.0 499.5,412.0 500.1,412.0 500.7,412.0 501.3,412.0 501.9,412.0 502.5,412.0 503.1,412.0 503.7,412.0 504.3,412.0 504.9,412.0 505.5,412.0 506.1,412.0 506.7,412.0 507.3,412.0 507.9,412.0 508.5,412.0 509.1,412.0 509.7,412.0 510.3,412.0 510.9,412.0 511.5,412.0 512.1,412.0 512.7,412.0 513.3,412.0 513.9,412.0 514.5,412.0 515.1,412.0 515.7,412.0 516.3,412.0 516.9,412.0 517.5,412.0 518.1,412.0 518.1,412.0" fill="rgba(229,51,59,0.17)"/>
<polyline points="361.5,412.0 362.1,412.0 362.7,412.0 363.3,412.0 363.9,412.0 364.5,412.0 365.1,412.0 365.7,412.0 366.3,412.0 366.9,412.0 367.5,412.0 368.1,412.0 368.7,412.0 369.3,412.0 369.9,412.0 370.5,412.0 371.1,412.0 371.7,412.0 372.3,412.0 372.9,412.0 373.5,412.0 374.1,412.0 374.7,412.0 375.3,412.0 375.9,412.0 376.5,412.0 377.1,412.0 377.7,411.9 378.3,411.8 378.9,411.3 379.5,410.4 380.1,408.5 380.7,405.1 381.3,400.0 381.9,393.3 382.5,385.9 383.1,379.3 383.7,375.5 384.3,375.5 384.9,379.3 385.5,385.9 386.1,393.3 386.7,400.0 387.3,405.1 387.9,408.5 388.5,410.4 389.1,411.3 389.7,411.8 390.3,411.9 390.9,412.0 391.5,412.0 392.1,412.0 392.7,412.0 393.3,412.0 393.9,412.0 394.5,412.0 395.1,412.0 395.7,412.0 396.3,412.0 396.9,412.0 397.5,412.0 398.1,412.0 398.7,412.0 399.3,412.0 399.9,412.0 400.5,412.0 401.1,412.0 401.7,412.0 402.3,412.0 402.9,412.0 403.5,412.0 404.1,412.0 404.7,412.0 405.3,412.0 405.9,412.0 406.5,412.0 407.1,412.0 407.7,412.0 408.3,412.0 408.9,412.0 409.5,412.0 410.1,412.0 410.7,412.0 411.3,412.0 411.9,412.0 412.5,412.0 413.1,412.0 413.7,412.0 414.3,412.0 414.9,412.0 415.5,412.0 416.1,412.0 416.7,412.0 417.3,412.0 417.9,412.0 418.5,412.0 419.1,411.9 419.7,411.8 420.3,411.4 420.9,410.5 421.5,408.9 422.1,406.2 422.7,402.2 423.3,397.3 423.9,392.3 424.5,388.3 425.1,386.4 425.7,387.4 426.3,390.8 426.9,395.6 427.5,400.7 428.1,405.0 428.7,408.1 429.3,410.1 429.9,411.2 430.5,411.7 431.1,411.9 431.7,412.0 432.3,412.0 432.9,412.0 433.5,412.0 434.1,412.0 434.7,412.0 435.3,412.0 435.9,412.0 436.5,412.0 437.1,412.0 437.7,412.0 438.3,412.0 438.9,412.0 439.5,412.0 440.1,412.0 440.7,412.0 441.3,412.0 441.9,412.0 442.5,412.0 443.1,412.0 443.7,412.0 444.3,412.0 444.9,412.0 445.5,412.0 446.1,412.0 446.7,412.0 447.3,412.0 447.9,412.0 448.5,412.0 449.1,412.0 449.7,412.0 450.3,412.0 450.9,412.0 451.5,412.0 452.1,412.0 452.7,412.0 453.3,412.0 453.9,412.0 454.5,412.0 455.1,412.0 455.7,412.0 456.3,412.0 456.9,412.0 457.5,412.0 458.1,412.0 458.7,412.0 459.3,412.0 459.9,412.0 460.5,412.0 461.1,412.0 461.7,411.9 462.3,411.8 462.9,411.5 463.5,410.9 464.1,409.6 464.7,407.4 465.3,404.1 465.9,399.9 466.5,395.4 467.1,391.7 467.7,389.7 468.3,390.1 468.9,392.8 469.5,396.9 470.1,401.4 470.7,405.3 471.3,408.2 471.9,410.1 472.5,411.1 473.1,411.7 473.7,411.9 474.3,412.0 474.9,412.0 475.5,412.0 476.1,412.0 476.7,412.0 477.3,412.0 477.9,412.0 478.5,412.0 479.1,412.0 479.7,412.0 480.3,412.0 480.9,412.0 481.5,412.0 482.1,412.0 482.7,412.0 483.3,412.0 483.9,412.0 484.5,412.0 485.1,412.0 485.7,412.0 486.3,412.0 486.9,412.0 487.5,412.0 488.1,412.0 488.7,412.0 489.3,412.0 489.9,412.0 490.5,412.0 491.1,412.0 491.7,412.0 492.3,412.0 492.9,412.0 493.5,412.0 494.1,412.0 494.7,412.0 495.3,412.0 495.9,412.0 496.5,412.0 497.1,412.0 497.7,412.0 498.3,412.0 498.9,412.0 499.5,412.0 500.1,412.0 500.7,412.0 501.3,412.0 501.9,412.0 502.5,412.0 503.1,412.0 503.7,412.0 504.3,412.0 504.9,412.0 505.5,412.0 506.1,412.0 506.7,412.0 507.3,412.0 507.9,412.0 508.5,412.0 509.1,412.0 509.7,412.0 510.3,412.0 510.9,412.0 511.5,412.0 512.1,412.0 512.7,412.0 513.3,412.0 513.9,412.0 514.5,412.0 515.1,412.0 515.7,412.0 516.3,412.0 516.9,412.0 517.5,412.0 518.1,412.0" fill="none" stroke="#e5333b" stroke-width="1.25" stroke-linejoin="round"/>
<rect x="524.20" y="311.20" width="158.80" height="102.00" fill="#f9f8f4" stroke="none" stroke-width="1.2"/>
<text transform="translate(527.90 318.50) scale(0.8 1)" font-size="8.9" text-anchor="middle" font-weight="bold" fill="#111" stroke="#111" stroke-width="0.3">G</text>
<text transform="translate(534.80 318.50) scale(0.8 1)" font-size="8.9" text-anchor="middle" font-weight="bold" fill="#111" stroke="#111" stroke-width="0.3">A</text>
<text transform="translate(541.71 318.50) scale(0.8 1)" font-size="8.9" text-anchor="middle" font-weight="bold" fill="#111" stroke="#111" stroke-width="0.3">C</text>
<text transform="translate(548.61 318.50) scale(0.8 1)" font-size="8.9" text-anchor="middle" font-weight="bold" fill="#111" stroke="#111" stroke-width="0.3">T</text>
<text transform="translate(555.52 318.50) scale(0.8 1)" font-size="8.9" text-anchor="middle" font-weight="bold" fill="#111" stroke="#111" stroke-width="0.3">A</text>
<text transform="translate(562.42 318.50) scale(0.8 1)" font-size="8.9" text-anchor="middle" font-weight="bold" fill="#111" stroke="#111" stroke-width="0.3">A</text>
<text transform="translate(569.33 318.50) scale(0.8 1)" font-size="8.9" text-anchor="middle" font-weight="bold" fill="#111" stroke="#111" stroke-width="0.3">A</text>
<text transform="translate(576.23 318.50) scale(0.8 1)" font-size="8.9" text-anchor="middle" font-weight="bold" fill="#111" stroke="#111" stroke-width="0.3">G</text>
<text transform="translate(583.14 318.50) scale(0.8 1)" font-size="8.9" text-anchor="middle" font-weight="bold" fill="#111" stroke="#111" stroke-width="0.3">A</text>
<text transform="translate(590.04 318.50) scale(0.8 1)" font-size="8.9" text-anchor="middle" font-weight="bold" fill="#111" stroke="#111" stroke-width="0.3">T</text>
<text transform="translate(596.95 318.50) scale(0.8 1)" font-size="8.9" text-anchor="middle" font-weight="bold" fill="#111" stroke="#111" stroke-width="0.3">C</text>
<text transform="translate(603.85 318.50) scale(0.8 1)" font-size="8.9" text-anchor="middle" font-weight="bold" fill="#111" stroke="#111" stroke-width="0.3">C</text>
<text transform="translate(610.75 318.50) scale(0.8 1)" font-size="8.9" text-anchor="middle" font-weight="bold" fill="#111" stroke="#111" stroke-width="0.3">A</text>
<text transform="translate(617.66 318.50) scale(0.8 1)" font-size="8.9" text-anchor="middle" font-weight="bold" fill="#111" stroke="#111" stroke-width="0.3">A</text>
<text transform="translate(624.56 318.50) scale(0.8 1)" font-size="8.9" text-anchor="middle" font-weight="bold" fill="#111" stroke="#111" stroke-width="0.3">A</text>
<text transform="translate(631.47 318.50) scale(0.8 1)" font-size="8.9" text-anchor="middle" font-weight="bold" fill="#111" stroke="#111" stroke-width="0.3">T</text>
<text transform="translate(638.37 318.50) scale(0.8 1)" font-size="8.9" text-anchor="middle" font-weight="bold" fill="#111" stroke="#111" stroke-width="0.3">G</text>
<text transform="translate(645.28 318.50) scale(0.8 1)" font-size="8.9" text-anchor="middle" font-weight="bold" fill="#111" stroke="#111" stroke-width="0.3">G</text>
<text transform="translate(652.18 318.50) scale(0.8 1)" font-size="8.9" text-anchor="middle" font-weight="bold" fill="#111" stroke="#111" stroke-width="0.3">A</text>
<text transform="translate(659.09 318.50) scale(0.8 1)" font-size="8.9" text-anchor="middle" font-weight="bold" fill="#111" stroke="#111" stroke-width="0.3">A</text>
<text transform="translate(665.99 318.50) scale(0.8 1)" font-size="8.9" text-anchor="middle" font-weight="bold" fill="#111" stroke="#111" stroke-width="0.3">A</text>
<text transform="translate(672.90 318.50) scale(0.8 1)" font-size="8.9" text-anchor="middle" font-weight="bold" fill="#111" stroke="#111" stroke-width="0.3">G</text>
<text transform="translate(679.80 318.50) scale(0.8 1)" font-size="8.9" text-anchor="middle" font-weight="bold" fill="#111" stroke="#111" stroke-width="0.3">A</text>
<line x1="524.20" y1="324.80" x2="683.00" y2="324.80" stroke="#c9c7c2" stroke-width="1.2"/>
<text transform="translate(527.90 339.60) scale(0.84 1)" font-size="9.5" text-anchor="middle" fill="#222" stroke="#222" stroke-width="0.15">G</text>
<text transform="translate(534.80 339.60) scale(0.84 1)" font-size="9.5" text-anchor="middle" fill="#222" stroke="#222" stroke-width="0.15">A</text>
<text transform="translate(541.71 339.60) scale(0.84 1)" font-size="9.5" text-anchor="middle" fill="#222" stroke="#222" stroke-width="0.15">C</text>
<text transform="translate(548.61 339.60) scale(0.84 1)" font-size="9.5" text-anchor="middle" fill="#222" stroke="#222" stroke-width="0.15">T</text>
<text transform="translate(555.52 339.60) scale(0.84 1)" font-size="9.5" text-anchor="middle" fill="#222" stroke="#222" stroke-width="0.15">A</text>
<text transform="translate(562.42 339.60) scale(0.84 1)" font-size="9.5" text-anchor="middle" fill="#222" stroke="#222" stroke-width="0.15">A</text>
<text transform="translate(569.33 339.60) scale(0.84 1)" font-size="9.5" text-anchor="middle" fill="#222" stroke="#222" stroke-width="0.15">A</text>
<text transform="translate(576.23 339.60) scale(0.84 1)" font-size="9.5" text-anchor="middle" fill="#222" stroke="#222" stroke-width="0.15">G</text>
<text transform="translate(583.14 339.60) scale(0.84 1)" font-size="9.5" text-anchor="middle" fill="#222" stroke="#222" stroke-width="0.15">A</text>
<text transform="translate(590.04 339.60) scale(0.84 1)" font-size="9.5" text-anchor="middle" fill="#222" stroke="#222" stroke-width="0.15">T</text>
<text transform="translate(596.95 339.60) scale(0.84 1)" font-size="9.5" text-anchor="middle" fill="#222" stroke="#222" stroke-width="0.15">C</text>
<text transform="translate(603.85 339.60) scale(0.84 1)" font-size="9.5" text-anchor="middle" fill="#222" stroke="#222" stroke-width="0.15">C</text>
<text transform="translate(610.75 339.60) scale(0.84 1)" font-size="9.5" text-anchor="middle" fill="#222" stroke="#222" stroke-width="0.15">A</text>
<text transform="translate(617.66 339.60) scale(0.84 1)" font-size="9.5" text-anchor="middle" fill="#222" stroke="#222" stroke-width="0.15">A</text>
<text transform="translate(624.56 339.60) scale(0.84 1)" font-size="9.5" text-anchor="middle" fill="#222" stroke="#222" stroke-width="0.15">A</text>
<text transform="translate(631.47 339.60) scale(0.84 1)" font-size="9.5" text-anchor="middle" fill="#222" stroke="#222" stroke-width="0.15">T</text>
<text transform="translate(638.37 339.60) scale(0.84 1)" font-size="9.5" text-anchor="middle" fill="#222" stroke="#222" stroke-width="0.15">G</text>
<text transform="translate(645.28 339.60) scale(0.84 1)" font-size="9.5" text-anchor="middle" fill="#222" stroke="#222" stroke-width="0.15">G</text>
<text transform="translate(652.18 339.60) scale(0.84 1)" font-size="9.5" text-anchor="middle" fill="#222" stroke="#222" stroke-width="0.15">A</text>
<text transform="translate(659.09 339.60) scale(0.84 1)" font-size="9.5" text-anchor="middle" fill="#222" stroke="#222" stroke-width="0.15">A</text>
<text transform="translate(665.99 339.60) scale(0.84 1)" font-size="9.5" text-anchor="middle" fill="#222" stroke="#222" stroke-width="0.15">A</text>
<text transform="translate(672.90 339.60) scale(0.84 1)" font-size="9.5" text-anchor="middle" fill="#222" stroke="#222" stroke-width="0.15">G</text>
<text transform="translate(679.80 339.60) scale(0.84 1)" font-size="9.5" text-anchor="middle" fill="#222" stroke="#222" stroke-width="0.15">A</text>
<line x1="547.30" y1="343.50" x2="547.30" y2="412.00" stroke="#b5b3ae" stroke-width="0.8" stroke-dasharray="2.4,1.8"/>
<line x1="616.30" y1="343.50" x2="616.30" y2="412.00" stroke="#b5b3ae" stroke-width="0.8" stroke-dasharray="2.4,1.8"/>
<polygon points="524.7,412.0 524.7,412.0 525.3,412.0 525.9,412.0 526.5,412.0 527.1,412.0 527.7,412.0 528.3,412.0 528.9,412.0 529.5,412.0 530.1,411.9 530.7,411.8 531.3,411.5 531.9,410.7 532.5,409.3 533.1,406.9 533.7,403.2 534.3,398.5 534.9,393.5 535.5,389.4 536.1,387.2 536.7,387.6 537.3,390.6 537.9,395.2 538.5,400.2 539.1,404.5 539.7,407.8 540.3,409.9 540.9,411.0 541.5,411.6 542.1,411.9 542.7,412.0 543.3,412.0 543.9,412.0 544.5,412.0 545.1,412.0 545.7,412.0 546.3,412.0 546.9,412.0 547.5,412.0 548.1,412.0 548.7,412.0 549.3,411.9 549.9,411.6 550.5,411.0 551.1,409.7 551.7,407.3 552.3,403.3 552.9,397.7 553.5,391.0 554.1,384.2 554.7,379.2 555.3,377.3 555.9,379.1 556.5,384.0 557.1,390.4 557.7,396.6 558.3,400.9 558.9,402.8 559.5,402.3 560.1,400.1 560.7,397.2 561.3,394.8 561.9,393.9 562.5,394.9 563.1,397.4 563.7,400.5 564.3,403.2 564.9,404.7 565.5,404.4 566.1,402.3 566.7,398.9 567.3,395.1 567.9,392.3 568.5,391.2 569.1,392.3 569.7,395.3 570.3,399.4 570.9,403.4 571.5,406.8 572.1,409.2 572.7,410.6 573.3,411.4 573.9,411.8 574.5,411.9 575.1,412.0 575.7,412.0 576.3,412.0 576.9,411.9 577.5,411.7 578.1,411.2 578.7,410.0 579.3,407.8 579.9,404.0 580.5,398.3 581.1,391.0 581.7,383.2 582.3,376.7 582.9,373.2 583.5,374.0 584.1,378.6 584.7,385.7 585.3,393.5 585.9,400.4 586.5,405.4 587.1,408.7 587.7,410.5 588.3,411.4 588.9,411.8 589.5,411.9 590.1,412.0 590.7,412.0 591.3,412.0 591.9,412.0 592.5,412.0 593.1,412.0 593.7,412.0 594.3,412.0 594.9,412.0 595.5,412.0 596.1,412.0 596.7,412.0 597.3,412.0 597.9,412.0 598.5,412.0 599.1,412.0 599.7,412.0 600.3,412.0 600.9,412.0 601.5,412.0 602.1,412.0 602.7,411.9 603.3,411.8 603.9,411.4 604.5,410.6 605.1,409.2 605.7,406.8 606.3,403.4 606.9,399.4 607.5,395.3 608.1,392.3 608.7,391.2 609.3,392.2 609.9,395.0 610.5,398.6 611.1,401.7 611.7,403.3 612.3,403.0 612.9,400.8 613.5,397.4 614.1,393.9 614.7,391.6 615.3,391.3 615.9,393.1 616.5,396.4 617.1,400.2 617.7,403.2 618.3,404.6 618.9,403.7 619.5,400.6 620.1,395.8 620.7,390.2 621.3,385.4 621.9,382.9 622.5,383.4 623.1,386.9 623.7,392.3 624.3,398.1 624.9,403.3 625.5,407.1 626.1,409.5 626.7,410.9 627.3,411.5 627.9,411.8 628.5,411.9 629.1,412.0 629.7,412.0 630.3,412.0 630.9,412.0 631.5,412.0 632.1,412.0 632.7,412.0 633.3,412.0 633.9,412.0 634.5,412.0 635.1,412.0 635.7,412.0 636.3,412.0 636.9,412.0 637.5,412.0 638.1,412.0 638.7,412.0 639.3,412.0 639.9,412.0 640.5,412.0 641.1,412.0 641.7,412.0 642.3,412.0 642.9,412.0 643.5,412.0 644.1,412.0 644.7,412.0 645.3,412.0 645.9,411.9 646.5,411.8 647.1,411.5 647.7,410.9 648.3,409.7 648.9,407.6 649.5,404.4 650.1,400.4 650.7,396.1 651.3,392.5 651.9,390.6 652.5,391.0 653.1,393.5 653.7,397.2 654.3,401.1 654.9,404.0 655.5,405.1 656.1,404.3 656.7,401.7 657.3,397.9 657.9,394.0 658.5,391.3 659.1,390.5 659.7,392.0 660.3,395.3 660.9,399.3 661.5,402.8 662.1,405.0 662.7,405.2 663.3,403.5 663.9,400.1 664.5,395.9 665.1,392.1 665.7,389.8 666.3,389.8 666.9,392.1 667.5,396.1 668.1,400.6 668.7,404.7 669.3,407.8 669.9,409.8 670.5,411.0 671.1,411.6 671.7,411.8 672.3,411.9 672.9,412.0 673.5,412.0 674.1,411.9 674.7,411.7 675.3,411.1 675.9,409.9 676.5,407.6 677.1,403.8 677.7,398.3 678.3,391.4 678.9,384.3 679.5,378.6 680.1,376.1 680.7,377.4 681.3,382.1 681.9,389.0 681.9,412.0" fill="rgba(63,174,73,0.17)"/>
<polyline points="524.7,412.0 525.3,412.0 525.9,412.0 526.5,412.0 527.1,412.0 527.7,412.0 528.3,412.0 528.9,412.0 529.5,412.0 530.1,411.9 530.7,411.8 531.3,411.5 531.9,410.7 532.5,409.3 533.1,406.9 533.7,403.2 534.3,398.5 534.9,393.5 535.5,389.4 536.1,387.2 536.7,387.6 537.3,390.6 537.9,395.2 538.5,400.2 539.1,404.5 539.7,407.8 540.3,409.9 540.9,411.0 541.5,411.6 542.1,411.9 542.7,412.0 543.3,412.0 543.9,412.0 544.5,412.0 545.1,412.0 545.7,412.0 546.3,412.0 546.9,412.0 547.5,412.0 548.1,412.0 548.7,412.0 549.3,411.9 549.9,411.6 550.5,411.0 551.1,409.7 551.7,407.3 552.3,403.3 552.9,397.7 553.5,391.0 554.1,384.2 554.7,379.2 555.3,377.3 555.9,379.1 556.5,384.0 557.1,390.4 557.7,396.6 558.3,400.9 558.9,402.8 559.5,402.3 560.1,400.1 560.7,397.2 561.3,394.8 561.9,393.9 562.5,394.9 563.1,397.4 563.7,400.5 564.3,403.2 564.9,404.7 565.5,404.4 566.1,402.3 566.7,398.9 567.3,395.1 567.9,392.3 568.5,391.2 569.1,392.3 569.7,395.3 570.3,399.4 570.9,403.4 571.5,406.8 572.1,409.2 572.7,410.6 573.3,411.4 573.9,411.8 574.5,411.9 575.1,412.0 575.7,412.0 576.3,412.0 576.9,411.9 577.5,411.7 578.1,411.2 578.7,410.0 579.3,407.8 579.9,404.0 580.5,398.3 581.1,391.0 581.7,383.2 582.3,376.7 582.9,373.2 583.5,374.0 584.1,378.6 584.7,385.7 585.3,393.5 585.9,400.4 586.5,405.4 587.1,408.7 587.7,410.5 588.3,411.4 588.9,411.8 589.5,411.9 590.1,412.0 590.7,412.0 591.3,412.0 591.9,412.0 592.5,412.0 593.1,412.0 593.7,412.0 594.3,412.0 594.9,412.0 595.5,412.0 596.1,412.0 596.7,412.0 597.3,412.0 597.9,412.0 598.5,412.0 599.1,412.0 599.7,412.0 600.3,412.0 600.9,412.0 601.5,412.0 602.1,412.0 602.7,411.9 603.3,411.8 603.9,411.4 604.5,410.6 605.1,409.2 605.7,406.8 606.3,403.4 606.9,399.4 607.5,395.3 608.1,392.3 608.7,391.2 609.3,392.2 609.9,395.0 610.5,398.6 611.1,401.7 611.7,403.3 612.3,403.0 612.9,400.8 613.5,397.4 614.1,393.9 614.7,391.6 615.3,391.3 615.9,393.1 616.5,396.4 617.1,400.2 617.7,403.2 618.3,404.6 618.9,403.7 619.5,400.6 620.1,395.8 620.7,390.2 621.3,385.4 621.9,382.9 622.5,383.4 623.1,386.9 623.7,392.3 624.3,398.1 624.9,403.3 625.5,407.1 626.1,409.5 626.7,410.9 627.3,411.5 627.9,411.8 628.5,411.9 629.1,412.0 629.7,412.0 630.3,412.0 630.9,412.0 631.5,412.0 632.1,412.0 632.7,412.0 633.3,412.0 633.9,412.0 634.5,412.0 635.1,412.0 635.7,412.0 636.3,412.0 636.9,412.0 637.5,412.0 638.1,412.0 638.7,412.0 639.3,412.0 639.9,412.0 640.5,412.0 641.1,412.0 641.7,412.0 642.3,412.0 642.9,412.0 643.5,412.0 644.1,412.0 644.7,412.0 645.3,412.0 645.9,411.9 646.5,411.8 647.1,411.5 647.7,410.9 648.3,409.7 648.9,407.6 649.5,404.4 650.1,400.4 650.7,396.1 651.3,392.5 651.9,390.6 652.5,391.0 653.1,393.5 653.7,397.2 654.3,401.1 654.9,404.0 655.5,405.1 656.1,404.3 656.7,401.7 657.3,397.9 657.9,394.0 658.5,391.3 659.1,390.5 659.7,392.0 660.3,395.3 660.9,399.3 661.5,402.8 662.1,405.0 662.7,405.2 663.3,403.5 663.9,400.1 664.5,395.9 665.1,392.1 665.7,389.8 666.3,389.8 666.9,392.1 667.5,396.1 668.1,400.6 668.7,404.7 669.3,407.8 669.9,409.8 670.5,411.0 671.1,411.6 671.7,411.8 672.3,411.9 672.9,412.0 673.5,412.0 674.1,411.9 674.7,411.7 675.3,411.1 675.9,409.9 676.5,407.6 677.1,403.8 677.7,398.3 678.3,391.4 678.9,384.3 679.5,378.6 680.1,376.1 680.7,377.4 681.3,382.1 681.9,389.0" fill="none" stroke="#3fae49" stroke-width="1.25" stroke-linejoin="round"/>
<polygon points="524.7,412.0 524.7,409.8 525.3,407.3 525.9,403.2 526.5,397.3 527.1,389.9 527.7,382.3 528.3,376.2 528.9,373.5 529.5,374.9 530.1,380.0 530.7,387.3 531.3,394.9 531.9,401.5 532.5,406.2 533.1,409.1 533.7,410.7 534.3,411.5 534.9,411.8 535.5,411.9 536.1,412.0 536.7,412.0 537.3,412.0 537.9,412.0 538.5,412.0 539.1,412.0 539.7,412.0 540.3,412.0 540.9,412.0 541.5,412.0 542.1,412.0 542.7,412.0 543.3,412.0 543.9,412.0 544.5,412.0 545.1,412.0 545.7,412.0 546.3,412.0 546.9,412.0 547.5,412.0 548.1,412.0 548.7,412.0 549.3,412.0 549.9,412.0 550.5,412.0 551.1,412.0 551.7,412.0 552.3,412.0 552.9,412.0 553.5,412.0 554.1,412.0 554.7,412.0 555.3,412.0 555.9,412.0 556.5,412.0 557.1,412.0 557.7,412.0 558.3,412.0 558.9,412.0 559.5,412.0 560.1,412.0 560.7,412.0 561.3,412.0 561.9,412.0 562.5,412.0 563.1,412.0 563.7,412.0 564.3,412.0 564.9,412.0 565.5,412.0 566.1,412.0 566.7,412.0 567.3,412.0 567.9,412.0 568.5,412.0 569.1,412.0 569.7,411.9 570.3,411.6 570.9,411.1 571.5,410.0 572.1,407.9 572.7,404.6 573.3,400.1 573.9,394.7 574.5,389.6 575.1,386.0 575.7,385.0 576.3,387.0 576.9,391.2 577.5,396.5 578.1,401.7 578.7,405.9 579.3,408.7 579.9,410.4 580.5,411.3 581.1,411.7 581.7,411.9 582.3,412.0 582.9,412.0 583.5,412.0 584.1,412.0 584.7,412.0 585.3,412.0 585.9,412.0 586.5,412.0 587.1,412.0 587.7,412.0 588.3,412.0 588.9,412.0 589.5,412.0 590.1,412.0 590.7,412.0 591.3,412.0 591.9,412.0 592.5,412.0 593.1,412.0 593.7,412.0 594.3,412.0 594.9,412.0 595.5,412.0 596.1,412.0 596.7,412.0 597.3,412.0 597.9,412.0 598.5,412.0 599.1,412.0 599.7,412.0 600.3,412.0 600.9,412.0 601.5,412.0 602.1,412.0 602.7,412.0 603.3,412.0 603.9,412.0 604.5,412.0 605.1,412.0 605.7,412.0 606.3,412.0 606.9,412.0 607.5,412.0 608.1,412.0 608.7,412.0 609.3,412.0 609.9,412.0 610.5,412.0 611.1,412.0 611.7,412.0 612.3,412.0 612.9,412.0 613.5,412.0 614.1,412.0 614.7,412.0 615.3,412.0 615.9,412.0 616.5,412.0 617.1,412.0 617.7,412.0 618.3,412.0 618.9,412.0 619.5,412.0 620.1,412.0 620.7,412.0 621.3,412.0 621.9,412.0 622.5,412.0 623.1,412.0 623.7,412.0 624.3,412.0 624.9,412.0 625.5,412.0 626.1,412.0 626.7,412.0 627.3,412.0 627.9,412.0 628.5,412.0 629.1,412.0 629.7,412.0 630.3,411.9 630.9,411.8 631.5,411.4 632.1,410.4 632.7,408.4 633.3,404.6 633.9,398.7 634.5,390.4 635.1,380.8 635.7,371.5 636.3,365.0 636.9,363.3 637.5,366.8 638.1,374.4 638.7,384.0 639.3,393.3 639.9,400.6 640.5,405.3 641.1,407.5 641.7,407.6 642.3,406.2 642.9,403.8 643.5,401.2 644.1,399.0 644.7,398.0 645.3,398.5 645.9,400.4 646.5,403.0 647.1,405.8 647.7,408.2 648.3,409.9 648.9,411.0 649.5,411.5 650.1,411.8 650.7,411.9 651.3,412.0 651.9,412.0 652.5,412.0 653.1,412.0 653.7,412.0 654.3,412.0 654.9,412.0 655.5,412.0 656.1,412.0 656.7,412.0 657.3,412.0 657.9,412.0 658.5,412.0 659.1,412.0 659.7,412.0 660.3,412.0 660.9,412.0 661.5,412.0 662.1,412.0 662.7,412.0 663.3,412.0 663.9,412.0 664.5,412.0 665.1,412.0 665.7,412.0 666.3,412.0 666.9,411.9 667.5,411.6 668.1,411.0 668.7,409.7 669.3,407.2 669.9,403.2 670.5,397.4 671.1,390.5 671.7,383.7 672.3,378.5 672.9,376.6 673.5,378.5 674.1,383.7 674.7,390.5 675.3,397.4 675.9,403.2 676.5,407.2 677.1,409.7 677.7,411.0 678.3,411.6 678.9,411.9 679.5,412.0 680.1,412.0 680.7,412.0 681.3,412.0 681.9,412.0 681.9,412.0" fill="rgba(40,40,40,0.17)"/>
<polyline points="524.7,409.8 525.3,407.3 525.9,403.2 526.5,397.3 527.1,389.9 527.7,382.3 528.3,376.2 528.9,373.5 529.5,374.9 530.1,380.0 530.7,387.3 531.3,394.9 531.9,401.5 532.5,406.2 533.1,409.1 533.7,410.7 534.3,411.5 534.9,411.8 535.5,411.9 536.1,412.0 536.7,412.0 537.3,412.0 537.9,412.0 538.5,412.0 539.1,412.0 539.7,412.0 540.3,412.0 540.9,412.0 541.5,412.0 542.1,412.0 542.7,412.0 543.3,412.0 543.9,412.0 544.5,412.0 545.1,412.0 545.7,412.0 546.3,412.0 546.9,412.0 547.5,412.0 548.1,412.0 548.7,412.0 549.3,412.0 549.9,412.0 550.5,412.0 551.1,412.0 551.7,412.0 552.3,412.0 552.9,412.0 553.5,412.0 554.1,412.0 554.7,412.0 555.3,412.0 555.9,412.0 556.5,412.0 557.1,412.0 557.7,412.0 558.3,412.0 558.9,412.0 559.5,412.0 560.1,412.0 560.7,412.0 561.3,412.0 561.9,412.0 562.5,412.0 563.1,412.0 563.7,412.0 564.3,412.0 564.9,412.0 565.5,412.0 566.1,412.0 566.7,412.0 567.3,412.0 567.9,412.0 568.5,412.0 569.1,412.0 569.7,411.9 570.3,411.6 570.9,411.1 571.5,410.0 572.1,407.9 572.7,404.6 573.3,400.1 573.9,394.7 574.5,389.6 575.1,386.0 575.7,385.0 576.3,387.0 576.9,391.2 577.5,396.5 578.1,401.7 578.7,405.9 579.3,408.7 579.9,410.4 580.5,411.3 581.1,411.7 581.7,411.9 582.3,412.0 582.9,412.0 583.5,412.0 584.1,412.0 584.7,412.0 585.3,412.0 585.9,412.0 586.5,412.0 587.1,412.0 587.7,412.0 588.3,412.0 588.9,412.0 589.5,412.0 590.1,412.0 590.7,412.0 591.3,412.0 591.9,412.0 592.5,412.0 593.1,412.0 593.7,412.0 594.3,412.0 594.9,412.0 595.5,412.0 596.1,412.0 596.7,412.0 597.3,412.0 597.9,412.0 598.5,412.0 599.1,412.0 599.7,412.0 600.3,412.0 600.9,412.0 601.5,412.0 602.1,412.0 602.7,412.0 603.3,412.0 603.9,412.0 604.5,412.0 605.1,412.0 605.7,412.0 606.3,412.0 606.9,412.0 607.5,412.0 608.1,412.0 608.7,412.0 609.3,412.0 609.9,412.0 610.5,412.0 611.1,412.0 611.7,412.0 612.3,412.0 612.9,412.0 613.5,412.0 614.1,412.0 614.7,412.0 615.3,412.0 615.9,412.0 616.5,412.0 617.1,412.0 617.7,412.0 618.3,412.0 618.9,412.0 619.5,412.0 620.1,412.0 620.7,412.0 621.3,412.0 621.9,412.0 622.5,412.0 623.1,412.0 623.7,412.0 624.3,412.0 624.9,412.0 625.5,412.0 626.1,412.0 626.7,412.0 627.3,412.0 627.9,412.0 628.5,412.0 629.1,412.0 629.7,412.0 630.3,411.9 630.9,411.8 631.5,411.4 632.1,410.4 632.7,408.4 633.3,404.6 633.9,398.7 634.5,390.4 635.1,380.8 635.7,371.5 636.3,365.0 636.9,363.3 637.5,366.8 638.1,374.4 638.7,384.0 639.3,393.3 639.9,400.6 640.5,405.3 641.1,407.5 641.7,407.6 642.3,406.2 642.9,403.8 643.5,401.2 644.1,399.0 644.7,398.0 645.3,398.5 645.9,400.4 646.5,403.0 647.1,405.8 647.7,408.2 648.3,409.9 648.9,411.0 649.5,411.5 650.1,411.8 650.7,411.9 651.3,412.0 651.9,412.0 652.5,412.0 653.1,412.0 653.7,412.0 654.3,412.0 654.9,412.0 655.5,412.0 656.1,412.0 656.7,412.0 657.3,412.0 657.9,412.0 658.5,412.0 659.1,412.0 659.7,412.0 660.3,412.0 660.9,412.0 661.5,412.0 662.1,412.0 662.7,412.0 663.3,412.0 663.9,412.0 664.5,412.0 665.1,412.0 665.7,412.0 666.3,412.0 666.9,411.9 667.5,411.6 668.1,411.0 668.7,409.7 669.3,407.2 669.9,403.2 670.5,397.4 671.1,390.5 671.7,383.7 672.3,378.5 672.9,376.6 673.5,378.5 674.1,383.7 674.7,390.5 675.3,397.4 675.9,403.2 676.5,407.2 677.1,409.7 677.7,411.0 678.3,411.6 678.9,411.9 679.5,412.0 680.1,412.0 680.7,412.0 681.3,412.0 681.9,412.0" fill="none" stroke="#1a1a1a" stroke-width="1.25" stroke-linejoin="round"/>
<polygon points="524.7,412.0 524.7,412.0 525.3,412.0 525.9,412.0 526.5,412.0 527.1,412.0 527.7,412.0 528.3,412.0 528.9,412.0 529.5,412.0 530.1,412.0 530.7,412.0 531.3,412.0 531.9,412.0 532.5,412.0 533.1,412.0 533.7,412.0 534.3,412.0 534.9,412.0 535.5,412.0 536.1,411.9 536.7,411.8 537.3,411.5 537.9,410.8 538.5,409.4 539.1,406.9 539.7,403.0 540.3,398.0 540.9,392.5 541.5,387.6 542.1,384.8 542.7,384.8 543.3,387.6 543.9,392.5 544.5,398.0 545.1,403.0 545.7,406.9 546.3,409.4 546.9,410.8 547.5,411.5 548.1,411.8 548.7,411.9 549.3,412.0 549.9,412.0 550.5,412.0 551.1,412.0 551.7,412.0 552.3,412.0 552.9,412.0 553.5,412.0 554.1,412.0 554.7,412.0 555.3,412.0 555.9,412.0 556.5,412.0 557.1,412.0 557.7,412.0 558.3,412.0 558.9,412.0 559.5,412.0 560.1,412.0 560.7,412.0 561.3,412.0 561.9,412.0 562.5,412.0 563.1,412.0 563.7,412.0 564.3,412.0 564.9,412.0 565.5,412.0 566.1,412.0 566.7,412.0 567.3,412.0 567.9,412.0 568.5,412.0 569.1,412.0 569.7,412.0 570.3,412.0 570.9,412.0 571.5,412.0 572.1,412.0 572.7,412.0 573.3,412.0 573.9,412.0 574.5,412.0 575.1,412.0 575.7,412.0 576.3,412.0 576.9,412.0 577.5,412.0 578.1,412.0 578.7,412.0 579.3,412.0 579.9,412.0 580.5,412.0 581.1,412.0 581.7,412.0 582.3,412.0 582.9,412.0 583.5,412.0 584.1,412.0 584.7,412.0 585.3,412.0 585.9,412.0 586.5,412.0 587.1,412.0 587.7,412.0 588.3,412.0 588.9,412.0 589.5,412.0 590.1,411.8 590.7,411.6 591.3,410.9 591.9,409.5 592.5,407.0 593.1,403.0 593.7,397.4 594.3,390.9 594.9,384.6 595.5,380.2 596.1,379.0 596.7,381.3 597.3,386.3 597.9,392.3 598.5,397.6 599.1,400.6 599.7,400.5 600.3,397.2 600.9,391.4 601.5,384.6 602.1,378.7 602.7,375.6 603.3,376.3 603.9,380.6 604.5,387.3 605.1,394.7 605.7,401.1 606.3,405.9 606.9,408.9 607.5,410.6 608.1,411.4 608.7,411.8 609.3,411.9 609.9,412.0 610.5,412.0 611.1,412.0 611.7,412.0 612.3,412.0 612.9,412.0 613.5,412.0 614.1,412.0 614.7,412.0 615.3,412.0 615.9,412.0 616.5,412.0 617.1,412.0 617.7,412.0 618.3,412.0 618.9,412.0 619.5,412.0 620.1,412.0 620.7,412.0 621.3,412.0 621.9,412.0 622.5,412.0 623.1,412.0 623.7,412.0 624.3,412.0 624.9,412.0 625.5,412.0 626.1,412.0 626.7,412.0 627.3,412.0 627.9,412.0 628.5,412.0 629.1,412.0 629.7,412.0 630.3,412.0 630.9,412.0 631.5,412.0 632.1,412.0 632.7,412.0 633.3,412.0 633.9,412.0 634.5,412.0 635.1,412.0 635.7,412.0 636.3,412.0 636.9,412.0 637.5,412.0 638.1,412.0 638.7,412.0 639.3,412.0 639.9,412.0 640.5,412.0 641.1,412.0 641.7,412.0 642.3,412.0 642.9,412.0 643.5,412.0 644.1,412.0 644.7,412.0 645.3,412.0 645.9,412.0 646.5,412.0 647.1,412.0 647.7,412.0 648.3,412.0 648.9,412.0 649.5,412.0 650.1,412.0 650.7,412.0 651.3,412.0 651.9,412.0 652.5,412.0 653.1,412.0 653.7,412.0 654.3,412.0 654.9,412.0 655.5,412.0 656.1,412.0 656.7,412.0 657.3,412.0 657.9,412.0 658.5,412.0 659.1,412.0 659.7,412.0 660.3,412.0 660.9,412.0 661.5,412.0 662.1,412.0 662.7,412.0 663.3,412.0 663.9,412.0 664.5,412.0 665.1,412.0 665.7,412.0 666.3,412.0 666.9,412.0 667.5,412.0 668.1,412.0 668.7,412.0 669.3,412.0 669.9,412.0 670.5,412.0 671.1,412.0 671.7,412.0 672.3,412.0 672.9,412.0 673.5,412.0 674.1,412.0 674.7,412.0 675.3,412.0 675.9,412.0 676.5,412.0 677.1,412.0 677.7,412.0 678.3,412.0 678.9,412.0 679.5,412.0 680.1,412.0 680.7,412.0 681.3,412.0 681.9,412.0 681.9,412.0" fill="rgba(47,111,201,0.17)"/>
<polyline points="524.7,412.0 525.3,412.0 525.9,412.0 526.5,412.0 527.1,412.0 527.7,412.0 528.3,412.0 528.9,412.0 529.5,412.0 530.1,412.0 530.7,412.0 531.3,412.0 531.9,412.0 532.5,412.0 533.1,412.0 533.7,412.0 534.3,412.0 534.9,412.0 535.5,412.0 536.1,411.9 536.7,411.8 537.3,411.5 537.9,410.8 538.5,409.4 539.1,406.9 539.7,403.0 540.3,398.0 540.9,392.5 541.5,387.6 542.1,384.8 542.7,384.8 543.3,387.6 543.9,392.5 544.5,398.0 545.1,403.0 545.7,406.9 546.3,409.4 546.9,410.8 547.5,411.5 548.1,411.8 548.7,411.9 549.3,412.0 549.9,412.0 550.5,412.0 551.1,412.0 551.7,412.0 552.3,412.0 552.9,412.0 553.5,412.0 554.1,412.0 554.7,412.0 555.3,412.0 555.9,412.0 556.5,412.0 557.1,412.0 557.7,412.0 558.3,412.0 558.9,412.0 559.5,412.0 560.1,412.0 560.7,412.0 561.3,412.0 561.9,412.0 562.5,412.0 563.1,412.0 563.7,412.0 564.3,412.0 564.9,412.0 565.5,412.0 566.1,412.0 566.7,412.0 567.3,412.0 567.9,412.0 568.5,412.0 569.1,412.0 569.7,412.0 570.3,412.0 570.9,412.0 571.5,412.0 572.1,412.0 572.7,412.0 573.3,412.0 573.9,412.0 574.5,412.0 575.1,412.0 575.7,412.0 576.3,412.0 576.9,412.0 577.5,412.0 578.1,412.0 578.7,412.0 579.3,412.0 579.9,412.0 580.5,412.0 581.1,412.0 581.7,412.0 582.3,412.0 582.9,412.0 583.5,412.0 584.1,412.0 584.7,412.0 585.3,412.0 585.9,412.0 586.5,412.0 587.1,412.0 587.7,412.0 588.3,412.0 588.9,412.0 589.5,412.0 590.1,411.8 590.7,411.6 591.3,410.9 591.9,409.5 592.5,407.0 593.1,403.0 593.7,397.4 594.3,390.9 594.9,384.6 595.5,380.2 596.1,379.0 596.7,381.3 597.3,386.3 597.9,392.3 598.5,397.6 599.1,400.6 599.7,400.5 600.3,397.2 600.9,391.4 601.5,384.6 602.1,378.7 602.7,375.6 603.3,376.3 603.9,380.6 604.5,387.3 605.1,394.7 605.7,401.1 606.3,405.9 606.9,408.9 607.5,410.6 608.1,411.4 608.7,411.8 609.3,411.9 609.9,412.0 610.5,412.0 611.1,412.0 611.7,412.0 612.3,412.0 612.9,412.0 613.5,412.0 614.1,412.0 614.7,412.0 615.3,412.0 615.9,412.0 616.5,412.0 617.1,412.0 617.7,412.0 618.3,412.0 618.9,412.0 619.5,412.0 620.1,412.0 620.7,412.0 621.3,412.0 621.9,412.0 622.5,412.0 623.1,412.0 623.7,412.0 624.3,412.0 624.9,412.0 625.5,412.0 626.1,412.0 626.7,412.0 627.3,412.0 627.9,412.0 628.5,412.0 629.1,412.0 629.7,412.0 630.3,412.0 630.9,412.0 631.5,412.0 632.1,412.0 632.7,412.0 633.3,412.0 633.9,412.0 634.5,412.0 635.1,412.0 635.7,412.0 636.3,412.0 636.9,412.0 637.5,412.0 638.1,412.0 638.7,412.0 639.3,412.0 639.9,412.0 640.5,412.0 641.1,412.0 641.7,412.0 642.3,412.0 642.9,412.0 643.5,412.0 644.1,412.0 644.7,412.0 645.3,412.0 645.9,412.0 646.5,412.0 647.1,412.0 647.7,412.0 648.3,412.0 648.9,412.0 649.5,412.0 650.1,412.0 650.7,412.0 651.3,412.0 651.9,412.0 652.5,412.0 653.1,412.0 653.7,412.0 654.3,412.0 654.9,412.0 655.5,412.0 656.1,412.0 656.7,412.0 657.3,412.0 657.9,412.0 658.5,412.0 659.1,412.0 659.7,412.0 660.3,412.0 660.9,412.0 661.5,412.0 662.1,412.0 662.7,412.0 663.3,412.0 663.9,412.0 664.5,412.0 665.1,412.0 665.7,412.0 666.3,412.0 666.9,412.0 667.5,412.0 668.1,412.0 668.7,412.0 669.3,412.0 669.9,412.0 670.5,412.0 671.1,412.0 671.7,412.0 672.3,412.0 672.9,412.0 673.5,412.0 674.1,412.0 674.7,412.0 675.3,412.0 675.9,412.0 676.5,412.0 677.1,412.0 677.7,412.0 678.3,412.0 678.9,412.0 679.5,412.0 680.1,412.0 680.7,412.0 681.3,412.0 681.9,412.0" fill="none" stroke="#2f6fc9" stroke-width="1.25" stroke-linejoin="round"/>
<polygon points="524.7,412.0 524.7,412.0 525.3,412.0 525.9,412.0 526.5,412.0 527.1,412.0 527.7,412.0 528.3,412.0 528.9,412.0 529.5,412.0 530.1,412.0 530.7,412.0 531.3,412.0 531.9,412.0 532.5,412.0 533.1,412.0 533.7,412.0 534.3,412.0 534.9,412.0 535.5,412.0 536.1,412.0 536.7,412.0 537.3,412.0 537.9,412.0 538.5,412.0 539.1,412.0 539.7,412.0 540.3,412.0 540.9,412.0 541.5,412.0 542.1,412.0 542.7,411.9 543.3,411.8 543.9,411.3 544.5,410.4 545.1,408.5 545.7,405.2 546.3,400.1 546.9,393.5 547.5,386.1 548.1,379.7 548.7,375.9 549.3,375.9 549.9,379.7 550.5,386.1 551.1,393.5 551.7,400.1 552.3,405.2 552.9,408.5 553.5,410.4 554.1,411.3 554.7,411.8 555.3,411.9 555.9,412.0 556.5,412.0 557.1,412.0 557.7,412.0 558.3,412.0 558.9,412.0 559.5,412.0 560.1,412.0 560.7,412.0 561.3,412.0 561.9,412.0 562.5,412.0 563.1,412.0 563.7,412.0 564.3,412.0 564.9,412.0 565.5,412.0 566.1,412.0 566.7,412.0 567.3,412.0 567.9,412.0 568.5,412.0 569.1,412.0 569.7,412.0 570.3,412.0 570.9,412.0 571.5,412.0 572.1,412.0 572.7,412.0 573.3,412.0 573.9,412.0 574.5,412.0 575.1,412.0 575.7,412.0 576.3,412.0 576.9,412.0 577.5,412.0 578.1,412.0 578.7,412.0 579.3,412.0 579.9,412.0 580.5,412.0 581.1,412.0 581.7,412.0 582.3,412.0 582.9,411.9 583.5,411.7 584.1,411.1 584.7,410.1 585.3,408.2 585.9,405.2 586.5,401.2 587.1,396.7 587.7,392.5 588.3,389.9 588.9,389.4 589.5,391.4 590.1,395.2 590.7,399.8 591.3,404.0 591.9,407.3 592.5,409.6 593.1,410.9 593.7,411.5 594.3,411.8 594.9,411.9 595.5,412.0 596.1,412.0 596.7,412.0 597.3,412.0 597.9,412.0 598.5,412.0 599.1,412.0 599.7,412.0 600.3,412.0 600.9,412.0 601.5,412.0 602.1,412.0 602.7,412.0 603.3,412.0 603.9,412.0 604.5,412.0 605.1,412.0 605.7,412.0 606.3,412.0 606.9,412.0 607.5,412.0 608.1,412.0 608.7,412.0 609.3,412.0 609.9,412.0 610.5,412.0 611.1,412.0 611.7,412.0 612.3,412.0 612.9,412.0 613.5,412.0 614.1,412.0 614.7,412.0 615.3,412.0 615.9,412.0 616.5,412.0 617.1,412.0 617.7,412.0 618.3,412.0 618.9,412.0 619.5,412.0 620.1,412.0 620.7,412.0 621.3,412.0 621.9,412.0 622.5,412.0 623.1,411.9 623.7,411.7 624.3,411.1 624.9,410.1 625.5,408.1 626.1,404.9 626.7,400.5 627.3,395.4 627.9,390.4 628.5,387.0 629.1,386.0 629.7,387.9 630.3,392.0 630.9,397.1 631.5,402.1 632.1,406.1 632.7,408.9 633.3,410.5 633.9,411.4 634.5,411.8 635.1,411.9 635.7,412.0 636.3,412.0 636.9,412.0 637.5,412.0 638.1,412.0 638.7,412.0 639.3,412.0 639.9,412.0 640.5,412.0 641.1,412.0 641.7,412.0 642.3,412.0 642.9,412.0 643.5,412.0 644.1,412.0 644.7,412.0 645.3,412.0 645.9,412.0 646.5,412.0 647.1,412.0 647.7,412.0 648.3,412.0 648.9,412.0 649.5,412.0 650.1,412.0 650.7,412.0 651.3,412.0 651.9,412.0 652.5,412.0 653.1,412.0 653.7,412.0 654.3,412.0 654.9,412.0 655.5,412.0 656.1,412.0 656.7,412.0 657.3,412.0 657.9,412.0 658.5,412.0 659.1,412.0 659.7,412.0 660.3,412.0 660.9,412.0 661.5,412.0 662.1,412.0 662.7,412.0 663.3,412.0 663.9,412.0 664.5,412.0 665.1,412.0 665.7,412.0 666.3,412.0 666.9,412.0 667.5,412.0 668.1,412.0 668.7,412.0 669.3,412.0 669.9,412.0 670.5,412.0 671.1,412.0 671.7,412.0 672.3,412.0 672.9,412.0 673.5,412.0 674.1,412.0 674.7,412.0 675.3,412.0 675.9,412.0 676.5,412.0 677.1,412.0 677.7,412.0 678.3,412.0 678.9,412.0 679.5,412.0 680.1,412.0 680.7,412.0 681.3,412.0 681.9,412.0 681.9,412.0" fill="rgba(229,51,59,0.17)"/>
<polyline points="524.7,412.0 525.3,412.0 525.9,412.0 526.5,412.0 527.1,412.0 527.7,412.0 528.3,412.0 528.9,412.0 529.5,412.0 530.1,412.0 530.7,412.0 531.3,412.0 531.9,412.0 532.5,412.0 533.1,412.0 533.7,412.0 534.3,412.0 534.9,412.0 535.5,412.0 536.1,412.0 536.7,412.0 537.3,412.0 537.9,412.0 538.5,412.0 539.1,412.0 539.7,412.0 540.3,412.0 540.9,412.0 541.5,412.0 542.1,412.0 542.7,411.9 543.3,411.8 543.9,411.3 544.5,410.4 545.1,408.5 545.7,405.2 546.3,400.1 546.9,393.5 547.5,386.1 548.1,379.7 548.7,375.9 549.3,375.9 549.9,379.7 550.5,386.1 551.1,393.5 551.7,400.1 552.3,405.2 552.9,408.5 553.5,410.4 554.1,411.3 554.7,411.8 555.3,411.9 555.9,412.0 556.5,412.0 557.1,412.0 557.7,412.0 558.3,412.0 558.9,412.0 559.5,412.0 560.1,412.0 560.7,412.0 561.3,412.0 561.9,412.0 562.5,412.0 563.1,412.0 563.7,412.0 564.3,412.0 564.9,412.0 565.5,412.0 566.1,412.0 566.7,412.0 567.3,412.0 567.9,412.0 568.5,412.0 569.1,412.0 569.7,412.0 570.3,412.0 570.9,412.0 571.5,412.0 572.1,412.0 572.7,412.0 573.3,412.0 573.9,412.0 574.5,412.0 575.1,412.0 575.7,412.0 576.3,412.0 576.9,412.0 577.5,412.0 578.1,412.0 578.7,412.0 579.3,412.0 579.9,412.0 580.5,412.0 581.1,412.0 581.7,412.0 582.3,412.0 582.9,411.9 583.5,411.7 584.1,411.1 584.7,410.1 585.3,408.2 585.9,405.2 586.5,401.2 587.1,396.7 587.7,392.5 588.3,389.9 588.9,389.4 589.5,391.4 590.1,395.2 590.7,399.8 591.3,404.0 591.9,407.3 592.5,409.6 593.1,410.9 593.7,411.5 594.3,411.8 594.9,411.9 595.5,412.0 596.1,412.0 596.7,412.0 597.3,412.0 597.9,412.0 598.5,412.0 599.1,412.0 599.7,412.0 600.3,412.0 600.9,412.0 601.5,412.0 602.1,412.0 602.7,412.0 603.3,412.0 603.9,412.0 604.5,412.0 605.1,412.0 605.7,412.0 606.3,412.0 606.9,412.0 607.5,412.0 608.1,412.0 608.7,412.0 609.3,412.0 609.9,412.0 610.5,412.0 611.1,412.0 611.7,412.0 612.3,412.0 612.9,412.0 613.5,412.0 614.1,412.0 614.7,412.0 615.3,412.0 615.9,412.0 616.5,412.0 617.1,412.0 617.7,412.0 618.3,412.0 618.9,412.0 619.5,412.0 620.1,412.0 620.7,412.0 621.3,412.0 621.9,412.0 622.5,412.0 623.1,411.9 623.7,411.7 624.3,411.1 624.9,410.1 625.5,408.1 626.1,404.9 626.7,400.5 627.3,395.4 627.9,390.4 628.5,387.0 629.1,386.0 629.7,387.9 630.3,392.0 630.9,397.1 631.5,402.1 632.1,406.1 632.7,408.9 633.3,410.5 633.9,411.4 634.5,411.8 635.1,411.9 635.7,412.0 636.3,412.0 636.9,412.0 637.5,412.0 638.1,412.0 638.7,412.0 639.3,412.0 639.9,412.0 640.5,412.0 641.1,412.0 641.7,412.0 642.3,412.0 642.9,412.0 643.5,412.0 644.1,412.0 644.7,412.0 645.3,412.0 645.9,412.0 646.5,412.0 647.1,412.0 647.7,412.0 648.3,412.0 648.9,412.0 649.5,412.0 650.1,412.0 650.7,412.0 651.3,412.0 651.9,412.0 652.5,412.0 653.1,412.0 653.7,412.0 654.3,412.0 654.9,412.0 655.5,412.0 656.1,412.0 656.7,412.0 657.3,412.0 657.9,412.0 658.5,412.0 659.1,412.0 659.7,412.0 660.3,412.0 660.9,412.0 661.5,412.0 662.1,412.0 662.7,412.0 663.3,412.0 663.9,412.0 664.5,412.0 665.1,412.0 665.7,412.0 666.3,412.0 666.9,412.0 667.5,412.0 668.1,412.0 668.7,412.0 669.3,412.0 669.9,412.0 670.5,412.0 671.1,412.0 671.7,412.0 672.3,412.0 672.9,412.0 673.5,412.0 674.1,412.0 674.7,412.0 675.3,412.0 675.9,412.0 676.5,412.0 677.1,412.0 677.7,412.0 678.3,412.0 678.9,412.0 679.5,412.0 680.1,412.0 680.7,412.0 681.3,412.0 681.9,412.0" fill="none" stroke="#e5333b" stroke-width="1.25" stroke-linejoin="round"/>
<rect x="8.80" y="455.00" width="161.00" height="102.00" fill="#f9f8f4" stroke="none" stroke-width="1.2"/>
<text transform="translate(11.50 462.60) scale(0.8 1)" font-size="8.9" text-anchor="middle" font-weight="bold" fill="#111" stroke="#111" stroke-width="0.3">G</text>
<text transform="translate(18.50 462.60) scale(0.8 1)" font-size="8.9" text-anchor="middle" font-weight="bold" fill="#111" stroke="#111" stroke-width="0.3">A</text>
<text transform="translate(25.50 462.60) scale(0.8 1)" font-size="8.9" text-anchor="middle" font-weight="bold" fill="#111" stroke="#111" stroke-width="0.3">C</text>
<text transform="translate(32.50 462.60) scale(0.8 1)" font-size="8.9" text-anchor="middle" font-weight="bold" fill="#111" stroke="#111" stroke-width="0.3">T</text>
<text transform="translate(39.50 462.60) scale(0.8 1)" font-size="8.9" text-anchor="middle" font-weight="bold" fill="#111" stroke="#111" stroke-width="0.3">A</text>
<text transform="translate(46.50 462.60) scale(0.8 1)" font-size="8.9" text-anchor="middle" font-weight="bold" fill="#111" stroke="#111" stroke-width="0.3">A</text>
<text transform="translate(53.50 462.60) scale(0.8 1)" font-size="8.9" text-anchor="middle" font-weight="bold" fill="#111" stroke="#111" stroke-width="0.3">A</text>
<text transform="translate(60.50 462.60) scale(0.8 1)" font-size="8.9" text-anchor="middle" font-weight="bold" fill="#111" stroke="#111" stroke-width="0.3">G</text>
<text transform="translate(67.50 462.60) scale(0.8 1)" font-size="8.9" text-anchor="middle" font-weight="bold" fill="#111" stroke="#111" stroke-width="0.3">A</text>
<text transform="translate(74.50 462.60) scale(0.8 1)" font-size="8.9" text-anchor="middle" font-weight="bold" fill="#111" stroke="#111" stroke-width="0.3">T</text>
<text transform="translate(81.50 462.60) scale(0.8 1)" font-size="8.9" text-anchor="middle" font-weight="bold" fill="#111" stroke="#111" stroke-width="0.3">C</text>
<text transform="translate(88.50 462.60) scale(0.8 1)" font-size="8.9" text-anchor="middle" font-weight="bold" fill="#111" stroke="#111" stroke-width="0.3">C</text>
<text transform="translate(95.50 462.60) scale(0.8 1)" font-size="8.9" text-anchor="middle" font-weight="bold" fill="#111" stroke="#111" stroke-width="0.3">A</text>
<text transform="translate(102.50 462.60) scale(0.8 1)" font-size="8.9" text-anchor="middle" font-weight="bold" fill="#111" stroke="#111" stroke-width="0.3">A</text>
<text transform="translate(109.50 462.60) scale(0.8 1)" font-size="8.9" text-anchor="middle" font-weight="bold" fill="#111" stroke="#111" stroke-width="0.3">A</text>
<text transform="translate(116.50 462.60) scale(0.8 1)" font-size="8.9" text-anchor="middle" font-weight="bold" fill="#111" stroke="#111" stroke-width="0.3">T</text>
<text transform="translate(123.50 462.60) scale(0.8 1)" font-size="8.9" text-anchor="middle" font-weight="bold" fill="#111" stroke="#111" stroke-width="0.3">G</text>
<text transform="translate(130.50 462.60) scale(0.8 1)" font-size="8.9" text-anchor="middle" font-weight="bold" fill="#111" stroke="#111" stroke-width="0.3">G</text>
<text transform="translate(137.50 462.60) scale(0.8 1)" font-size="8.9" text-anchor="middle" font-weight="bold" fill="#111" stroke="#111" stroke-width="0.3">A</text>
<text transform="translate(144.50 462.60) scale(0.8 1)" font-size="8.9" text-anchor="middle" font-weight="bold" fill="#111" stroke="#111" stroke-width="0.3">A</text>
<text transform="translate(151.50 462.60) scale(0.8 1)" font-size="8.9" text-anchor="middle" font-weight="bold" fill="#111" stroke="#111" stroke-width="0.3">A</text>
<text transform="translate(158.50 462.60) scale(0.8 1)" font-size="8.9" text-anchor="middle" font-weight="bold" fill="#111" stroke="#111" stroke-width="0.3">G</text>
<text transform="translate(165.50 462.60) scale(0.8 1)" font-size="8.9" text-anchor="middle" font-weight="bold" fill="#111" stroke="#111" stroke-width="0.3">A</text>
<line x1="8.80" y1="468.10" x2="169.80" y2="468.10" stroke="#c9c7c2" stroke-width="1.2"/>
<rect x="91.20" y="474.10" width="8.60" height="11.60" fill="#f09496" stroke="#dc3b42" stroke-width="0.8"/>
<rect x="112.20" y="474.10" width="8.60" height="11.60" fill="#f09496" stroke="#dc3b42" stroke-width="0.8"/>
<rect x="154.20" y="474.10" width="8.60" height="11.60" fill="#f09496" stroke="#dc3b42" stroke-width="0.8"/>
<text transform="translate(11.50 483.30) scale(0.84 1)" font-size="9.5" text-anchor="middle" fill="#222" stroke="#222" stroke-width="0.15">G</text>
<text transform="translate(18.50 483.30) scale(0.84 1)" font-size="9.5" text-anchor="middle" fill="#222" stroke="#222" stroke-width="0.15">A</text>
<text transform="translate(25.50 483.30) scale(0.84 1)" font-size="9.5" text-anchor="middle" fill="#222" stroke="#222" stroke-width="0.15">C</text>
<text transform="translate(32.50 483.30) scale(0.84 1)" font-size="9.5" text-anchor="middle" fill="#222" stroke="#222" stroke-width="0.15">T</text>
<text transform="translate(39.50 483.30) scale(0.84 1)" font-size="9.5" text-anchor="middle" fill="#222" stroke="#222" stroke-width="0.15">A</text>
<text transform="translate(46.50 483.30) scale(0.84 1)" font-size="9.5" text-anchor="middle" fill="#222" stroke="#222" stroke-width="0.15">A</text>
<text transform="translate(53.50 483.30) scale(0.84 1)" font-size="9.5" text-anchor="middle" fill="#222" stroke="#222" stroke-width="0.15">A</text>
<text transform="translate(60.50 483.30) scale(0.84 1)" font-size="9.5" text-anchor="middle" fill="#222" stroke="#222" stroke-width="0.15">G</text>
<text transform="translate(67.50 483.30) scale(0.84 1)" font-size="9.5" text-anchor="middle" fill="#222" stroke="#222" stroke-width="0.15">A</text>
<text transform="translate(74.50 483.30) scale(0.84 1)" font-size="9.5" text-anchor="middle" fill="#222" stroke="#222" stroke-width="0.15">T</text>
<text transform="translate(81.50 483.30) scale(0.84 1)" font-size="9.5" text-anchor="middle" fill="#222" stroke="#222" stroke-width="0.15">C</text>
<text transform="translate(88.50 483.30) scale(0.84 1)" font-size="9.5" text-anchor="middle" fill="#222" stroke="#222" stroke-width="0.15">C</text>
<text transform="translate(95.50 483.30) scale(0.84 1)" font-size="9.5" text-anchor="middle" fill="#222" stroke="#222" stroke-width="0.15">C</text>
<text transform="translate(102.50 483.30) scale(0.84 1)" font-size="9.5" text-anchor="middle" fill="#222" stroke="#222" stroke-width="0.15">A</text>
<text transform="translate(109.50 483.30) scale(0.84 1)" font-size="9.5" text-anchor="middle" fill="#222" stroke="#222" stroke-width="0.15">A</text>
<text transform="translate(116.50 483.30) scale(0.84 1)" font-size="9.5" text-anchor="middle" fill="#222" stroke="#222" stroke-width="0.15">A</text>
<text transform="translate(123.50 483.30) scale(0.84 1)" font-size="9.5" text-anchor="middle" fill="#222" stroke="#222" stroke-width="0.15">G</text>
<text transform="translate(130.50 483.30) scale(0.84 1)" font-size="9.5" text-anchor="middle" fill="#222" stroke="#222" stroke-width="0.15">G</text>
<text transform="translate(137.50 483.30) scale(0.84 1)" font-size="9.5" text-anchor="middle" fill="#222" stroke="#222" stroke-width="0.15">A</text>
<text transform="translate(144.50 483.30) scale(0.84 1)" font-size="9.5" text-anchor="middle" fill="#222" stroke="#222" stroke-width="0.15">A</text>
<text transform="translate(151.50 483.30) scale(0.84 1)" font-size="9.5" text-anchor="middle" fill="#222" stroke="#222" stroke-width="0.15">A</text>
<text transform="translate(158.50 483.30) scale(0.84 1)" font-size="9.5" text-anchor="middle" fill="#222" stroke="#222" stroke-width="0.15">A</text>
<text transform="translate(165.50 483.30) scale(0.84 1)" font-size="9.5" text-anchor="middle" fill="#222" stroke="#222" stroke-width="0.15">A</text>
<line x1="31.60" y1="487.00" x2="31.60" y2="555.80" stroke="#b5b3ae" stroke-width="0.8" stroke-dasharray="2.4,1.8"/>
<line x1="108.50" y1="487.00" x2="108.50" y2="555.80" stroke="#b5b3ae" stroke-width="0.8" stroke-dasharray="2.4,1.8"/>
<polygon points="9.3,555.8 9.3,555.8 9.9,555.8 10.5,555.8 11.1,555.8 11.7,555.8 12.3,555.8 12.9,555.8 13.5,555.7 14.1,555.6 14.7,555.4 15.3,554.7 15.9,553.3 16.5,550.9 17.1,547.2 17.7,542.1 18.3,536.3 18.9,530.9 19.5,527.5 20.1,527.0 20.7,529.5 21.3,534.4 21.9,540.2 22.5,545.6 23.1,549.8 23.7,552.7 24.3,554.3 24.9,555.2 25.5,555.6 26.1,555.7 26.7,555.8 27.3,555.8 27.9,555.8 28.5,555.8 29.1,555.8 29.7,555.8 30.3,555.8 30.9,555.8 31.5,555.8 32.1,555.8 32.7,555.8 33.3,555.7 33.9,555.6 34.5,555.3 35.1,554.5 35.7,552.9 36.3,550.0 36.9,545.5 37.5,539.4 38.1,532.4 38.7,526.1 39.3,521.9 39.9,521.3 40.5,524.3 41.1,529.9 41.7,536.5 42.3,542.2 42.9,545.9 43.5,547.1 44.1,546.1 44.7,543.5 45.3,540.6 45.9,538.4 46.5,537.8 47.1,539.1 47.7,541.8 48.3,545.1 48.9,548.0 49.5,549.6 50.1,549.6 50.7,547.7 51.3,544.4 51.9,540.4 52.5,536.7 53.1,534.5 53.7,534.5 54.3,536.7 54.9,540.5 55.5,544.9 56.1,548.8 56.7,551.8 57.3,553.7 57.9,554.9 58.5,555.4 59.1,555.7 59.7,555.8 60.3,555.8 60.9,555.8 61.5,555.8 62.1,555.7 62.7,555.6 63.3,555.1 63.9,554.1 64.5,552.0 65.1,548.2 65.7,542.0 66.3,533.4 66.9,523.4 67.5,513.8 68.1,507.1 68.7,505.3 69.3,508.9 69.9,516.8 70.5,526.8 71.1,536.5 71.7,544.3 72.3,549.7 72.9,552.9 73.5,554.6 74.1,555.3 74.7,555.6 75.3,555.8 75.9,555.8 76.5,555.8 77.1,555.8 77.7,555.8 78.3,555.8 78.9,555.8 79.5,555.8 80.1,555.8 80.7,555.8 81.3,555.8 81.9,555.8 82.5,555.8 83.1,555.8 83.7,555.8 84.3,555.8 84.9,555.8 85.5,555.8 86.1,555.8 86.7,555.8 87.3,555.8 87.9,555.8 88.5,555.8 89.1,555.8 89.7,555.8 90.3,555.7 90.9,555.6 91.5,555.4 92.1,555.0 92.7,554.2 93.3,552.9 93.9,551.2 94.5,549.2 95.1,547.4 95.7,546.2 96.3,546.0 96.9,546.7 97.5,547.9 98.1,549.1 98.7,549.4 99.3,548.4 99.9,545.9 100.5,542.3 101.1,538.4 101.7,535.4 102.3,534.3 102.9,535.4 103.5,538.4 104.1,542.3 104.7,545.9 105.3,548.2 105.9,548.5 106.5,546.7 107.1,543.2 107.7,538.8 108.3,534.8 108.9,532.4 109.5,532.4 110.1,534.9 110.7,539.1 111.3,543.8 111.9,548.1 112.5,551.4 113.1,553.5 113.7,554.8 114.3,555.4 114.9,555.6 115.5,555.7 116.1,555.8 116.7,555.8 117.3,555.8 117.9,555.8 118.5,555.8 119.1,555.8 119.7,555.8 120.3,555.8 120.9,555.8 121.5,555.8 122.1,555.8 122.7,555.8 123.3,555.8 123.9,555.8 124.5,555.8 125.1,555.8 125.7,555.8 126.3,555.8 126.9,555.8 127.5,555.8 128.1,555.8 128.7,555.8 129.3,555.8 129.9,555.8 130.5,555.8 131.1,555.8 131.7,555.8 132.3,555.8 132.9,555.7 133.5,555.6 134.1,555.4 134.7,554.8 135.3,553.8 135.9,552.1 136.5,549.7 137.1,546.8 137.7,543.9 138.3,541.8 138.9,541.0 139.5,541.7 140.1,543.7 140.7,546.1 141.3,547.9 141.9,548.4 142.5,546.8 143.1,543.1 143.7,537.8 144.3,532.0 144.9,527.3 145.5,525.1 146.1,526.1 146.7,529.9 147.3,535.2 147.9,540.0 148.5,542.9 149.1,543.0 149.7,540.3 150.3,535.6 150.9,530.6 151.5,526.9 152.1,525.9 152.7,528.0 153.3,532.7 153.9,538.4 154.5,543.8 155.1,547.7 155.7,549.6 156.3,549.5 156.9,548.0 157.5,545.6 158.1,543.3 158.7,542.0 159.3,541.9 159.9,543.3 160.5,545.6 161.1,547.8 161.7,549.3 162.3,549.2 162.9,547.3 163.5,543.6 164.1,538.8 164.7,534.0 165.3,530.6 165.9,529.6 166.5,531.5 167.1,535.6 167.7,540.8 168.3,545.8 168.9,549.9 168.9,555.8" fill="rgba(63,174,73,0.17)"/>
<polyline points="9.3,555.8 9.9,555.8 10.5,555.8 11.1,555.8 11.7,555.8 12.3,555.8 12.9,555.8 13.5,555.7 14.1,555.6 14.7,555.4 15.3,554.7 15.9,553.3 16.5,550.9 17.1,547.2 17.7,542.1 18.3,536.3 18.9,530.9 19.5,527.5 20.1,527.0 20.7,529.5 21.3,534.4 21.9,540.2 22.5,545.6 23.1,549.8 23.7,552.7 24.3,554.3 24.9,555.2 25.5,555.6 26.1,555.7 26.7,555.8 27.3,555.8 27.9,555.8 28.5,555.8 29.1,555.8 29.7,555.8 30.3,555.8 30.9,555.8 31.5,555.8 32.1,555.8 32.7,555.8 33.3,555.7 33.9,555.6 34.5,555.3 35.1,554.5 35.7,552.9 36.3,550.0 36.9,545.5 37.5,539.4 38.1,532.4 38.7,526.1 39.3,521.9 39.9,521.3 40.5,524.3 41.1,529.9 41.7,536.5 42.3,542.2 42.9,545.9 43.5,547.1 44.1,546.1 44.7,543.5 45.3,540.6 45.9,538.4 46.5,537.8 47.1,539.1 47.7,541.8 48.3,545.1 48.9,548.0 49.5,549.6 50.1,549.6 50.7,547.7 51.3,544.4 51.9,540.4 52.5,536.7 53.1,534.5 53.7,534.5 54.3,536.7 54.9,540.5 55.5,544.9 56.1,548.8 56.7,551.8 57.3,553.7 57.9,554.9 58.5,555.4 59.1,555.7 59.7,555.8 60.3,555.8 60.9,555.8 61.5,555.8 62.1,555.7 62.7,555.6 63.3,555.1 63.9,554.1 64.5,552.0 65.1,548.2 65.7,542.0 66.3,533.4 66.9,523.4 67.5,513.8 68.1,507.1 68.7,505.3 69.3,508.9 69.9,516.8 70.5,526.8 71.1,536.5 71.7,544.3 72.3,549.7 72.9,552.9 73.5,554.6 74.1,555.3 74.7,555.6 75.3,555.8 75.9,555.8 76.5,555.8 77.1,555.8 77.7,555.8 78.3,555.8 78.9,555.8 79.5,555.8 80.1,555.8 80.7,555.8 81.3,555.8 81.9,555.8 82.5,555.8 83.1,555.8 83.7,555.8 84.3,555.8 84.9,555.8 85.5,555.8 86.1,555.8 86.7,555.8 87.3,555.8 87.9,555.8 88.5,555.8 89.1,555.8 89.7,555.8 90.3,555.7 90.9,555.6 91.5,555.4 92.1,555.0 92.7,554.2 93.3,552.9 93.9,551.2 94.5,549.2 95.1,547.4 95.7,546.2 96.3,546.0 96.9,546.7 97.5,547.9 98.1,549.1 98.7,549.4 99.3,548.4 99.9,545.9 100.5,542.3 101.1,538.4 101.7,535.4 102.3,534.3 102.9,535.4 103.5,538.4 104.1,542.3 104.7,545.9 105.3,548.2 105.9,548.5 106.5,546.7 107.1,543.2 107.7,538.8 108.3,534.8 108.9,532.4 109.5,532.4 110.1,534.9 110.7,539.1 111.3,543.8 111.9,548.1 112.5,551.4 113.1,553.5 113.7,554.8 114.3,555.4 114.9,555.6 115.5,555.7 116.1,555.8 116.7,555.8 117.3,555.8 117.9,555.8 118.5,555.8 119.1,555.8 119.7,555.8 120.3,555.8 120.9,555.8 121.5,555.8 122.1,555.8 122.7,555.8 123.3,555.8 123.9,555.8 124.5,555.8 125.1,555.8 125.7,555.8 126.3,555.8 126.9,555.8 127.5,555.8 128.1,555.8 128.7,555.8 129.3,555.8 129.9,555.8 130.5,555.8 131.1,555.8 131.7,555.8 132.3,555.8 132.9,555.7 133.5,555.6 134.1,555.4 134.7,554.8 135.3,553.8 135.9,552.1 136.5,549.7 137.1,546.8 137.7,543.9 138.3,541.8 138.9,541.0 139.5,541.7 140.1,543.7 140.7,546.1 141.3,547.9 141.9,548.4 142.5,546.8 143.1,543.1 143.7,537.8 144.3,532.0 144.9,527.3 145.5,525.1 146.1,526.1 146.7,529.9 147.3,535.2 147.9,540.0 148.5,542.9 149.1,543.0 149.7,540.3 150.3,535.6 150.9,530.6 151.5,526.9 152.1,525.9 152.7,528.0 153.3,532.7 153.9,538.4 154.5,543.8 155.1,547.7 155.7,549.6 156.3,549.5 156.9,548.0 157.5,545.6 158.1,543.3 158.7,542.0 159.3,541.9 159.9,543.3 160.5,545.6 161.1,547.8 161.7,549.3 162.3,549.2 162.9,547.3 163.5,543.6 164.1,538.8 164.7,534.0 165.3,530.6 165.9,529.6 166.5,531.5 167.1,535.6 167.7,540.8 168.3,545.8 168.9,549.9" fill="none" stroke="#3fae49" stroke-width="1.25" stroke-linejoin="round"/>
<polygon points="9.3,555.8 9.3,548.5 9.9,543.6 10.5,537.5 11.1,531.1 11.7,526.1 12.3,523.8 12.9,525.0 13.5,529.3 14.1,535.3 14.7,541.7 15.3,547.1 15.9,551.0 16.5,553.4 17.1,554.7 17.7,555.4 18.3,555.7 18.9,555.8 19.5,555.8 20.1,555.8 20.7,555.8 21.3,555.8 21.9,555.8 22.5,555.8 23.1,555.8 23.7,555.8 24.3,555.8 24.9,555.8 25.5,555.8 26.1,555.8 26.7,555.8 27.3,555.8 27.9,555.8 28.5,555.8 29.1,555.8 29.7,555.8 30.3,555.8 30.9,555.8 31.5,555.8 32.1,555.8 32.7,555.8 33.3,555.8 33.9,555.8 34.5,555.8 35.1,555.8 35.7,555.8 36.3,555.8 36.9,555.8 37.5,555.8 38.1,555.8 38.7,555.8 39.3,555.8 39.9,555.8 40.5,555.8 41.1,555.8 41.7,555.8 42.3,555.8 42.9,555.8 43.5,555.8 44.1,555.8 44.7,555.8 45.3,555.8 45.9,555.8 46.5,555.8 47.1,555.8 47.7,555.8 48.3,555.8 48.9,555.8 49.5,555.8 50.1,555.8 50.7,555.8 51.3,555.8 51.9,555.8 52.5,555.8 53.1,555.8 53.7,555.8 54.3,555.8 54.9,555.7 55.5,555.5 56.1,555.0 56.7,553.9 57.3,552.0 57.9,549.0 58.5,544.7 59.1,539.8 59.7,535.1 60.3,531.7 60.9,530.8 61.5,532.6 62.1,536.5 62.7,541.5 63.3,546.3 63.9,550.1 64.5,552.8 65.1,554.4 65.7,555.2 66.3,555.6 66.9,555.7 67.5,555.8 68.1,555.8 68.7,555.8 69.3,555.8 69.9,555.8 70.5,555.8 71.1,555.8 71.7,555.8 72.3,555.8 72.9,555.8 73.5,555.8 74.1,555.8 74.7,555.8 75.3,555.8 75.9,555.8 76.5,555.8 77.1,555.8 77.7,555.8 78.3,555.8 78.9,555.8 79.5,555.8 80.1,555.8 80.7,555.8 81.3,555.8 81.9,555.8 82.5,555.8 83.1,555.8 83.7,555.8 84.3,555.8 84.9,555.8 85.5,555.8 86.1,555.8 86.7,555.8 87.3,555.8 87.9,555.8 88.5,555.8 89.1,555.8 89.7,555.8 90.3,555.8 90.9,555.8 91.5,555.8 92.1,555.8 92.7,555.8 93.3,555.8 93.9,555.8 94.5,555.8 95.1,555.8 95.7,555.8 96.3,555.8 96.9,555.8 97.5,555.8 98.1,555.8 98.7,555.8 99.3,555.8 99.9,555.8 100.5,555.8 101.1,555.8 101.7,555.8 102.3,555.8 102.9,555.8 103.5,555.8 104.1,555.8 104.7,555.8 105.3,555.8 105.9,555.8 106.5,555.8 107.1,555.8 107.7,555.8 108.3,555.8 108.9,555.8 109.5,555.8 110.1,555.8 110.7,555.8 111.3,555.8 111.9,555.8 112.5,555.8 113.1,555.8 113.7,555.8 114.3,555.8 114.9,555.8 115.5,555.8 116.1,555.8 116.7,555.8 117.3,555.8 117.9,555.7 118.5,555.4 119.1,554.8 119.7,553.4 120.3,551.0 120.9,547.2 121.5,541.8 122.1,535.6 122.7,529.6 123.3,525.4 123.9,524.2 124.5,526.4 125.1,531.2 125.7,537.0 126.3,542.0 126.9,544.9 127.5,544.7 128.1,541.3 128.7,535.3 129.3,527.9 129.9,521.3 130.5,517.3 131.1,517.3 131.7,521.4 132.3,528.2 132.9,536.0 133.5,543.0 134.1,548.3 134.7,551.5 135.3,553.0 135.9,553.1 136.5,552.3 137.1,550.9 137.7,549.4 138.3,548.2 138.9,547.8 139.5,548.2 140.1,549.4 140.7,550.9 141.3,552.5 141.9,553.8 142.5,554.7 143.1,555.3 143.7,555.6 144.3,555.7 144.9,555.8 145.5,555.8 146.1,555.8 146.7,555.8 147.3,555.8 147.9,555.8 148.5,555.8 149.1,555.8 149.7,555.8 150.3,555.8 150.9,555.8 151.5,555.8 152.1,555.8 152.7,555.8 153.3,555.7 153.9,555.6 154.5,555.3 155.1,554.7 155.7,553.7 156.3,552.1 156.9,550.0 157.5,547.7 158.1,545.7 158.7,544.6 159.3,544.5 159.9,545.7 160.5,547.6 161.1,549.7 161.7,551.3 162.3,552.0 162.9,551.7 163.5,550.4 164.1,548.6 164.7,546.6 165.3,545.2 165.9,544.8 166.5,545.6 167.1,547.3 167.7,549.5 168.3,551.6 168.9,553.3 168.9,555.8" fill="rgba(40,40,40,0.17)"/>
<polyline points="9.3,548.5 9.9,543.6 10.5,537.5 11.1,531.1 11.7,526.1 12.3,523.8 12.9,525.0 13.5,529.3 14.1,535.3 14.7,541.7 15.3,547.1 15.9,551.0 16.5,553.4 17.1,554.7 17.7,555.4 18.3,555.7 18.9,555.8 19.5,555.8 20.1,555.8 20.7,555.8 21.3,555.8 21.9,555.8 22.5,555.8 23.1,555.8 23.7,555.8 24.3,555.8 24.9,555.8 25.5,555.8 26.1,555.8 26.7,555.8 27.3,555.8 27.9,555.8 28.5,555.8 29.1,555.8 29.7,555.8 30.3,555.8 30.9,555.8 31.5,555.8 32.1,555.8 32.7,555.8 33.3,555.8 33.9,555.8 34.5,555.8 35.1,555.8 35.7,555.8 36.3,555.8 36.9,555.8 37.5,555.8 38.1,555.8 38.7,555.8 39.3,555.8 39.9,555.8 40.5,555.8 41.1,555.8 41.7,555.8 42.3,555.8 42.9,555.8 43.5,555.8 44.1,555.8 44.7,555.8 45.3,555.8 45.9,555.8 46.5,555.8 47.1,555.8 47.7,555.8 48.3,555.8 48.9,555.8 49.5,555.8 50.1,555.8 50.7,555.8 51.3,555.8 51.9,555.8 52.5,555.8 53.1,555.8 53.7,555.8 54.3,555.8 54.9,555.7 55.5,555.5 56.1,555.0 56.7,553.9 57.3,552.0 57.9,549.0 58.5,544.7 59.1,539.8 59.7,535.1 60.3,531.7 60.9,530.8 61.5,532.6 62.1,536.5 62.7,541.5 63.3,546.3 63.9,550.1 64.5,552.8 65.1,554.4 65.7,555.2 66.3,555.6 66.9,555.7 67.5,555.8 68.1,555.8 68.7,555.8 69.3,555.8 69.9,555.8 70.5,555.8 71.1,555.8 71.7,555.8 72.3,555.8 72.9,555.8 73.5,555.8 74.1,555.8 74.7,555.8 75.3,555.8 75.9,555.8 76.5,555.8 77.1,555.8 77.7,555.8 78.3,555.8 78.9,555.8 79.5,555.8 80.1,555.8 80.7,555.8 81.3,555.8 81.9,555.8 82.5,555.8 83.1,555.8 83.7,555.8 84.3,555.8 84.9,555.8 85.5,555.8 86.1,555.8 86.7,555.8 87.3,555.8 87.9,555.8 88.5,555.8 89.1,555.8 89.7,555.8 90.3,555.8 90.9,555.8 91.5,555.8 92.1,555.8 92.7,555.8 93.3,555.8 93.9,555.8 94.5,555.8 95.1,555.8 95.7,555.8 96.3,555.8 96.9,555.8 97.5,555.8 98.1,555.8 98.7,555.8 99.3,555.8 99.9,555.8 100.5,555.8 101.1,555.8 101.7,555.8 102.3,555.8 102.9,555.8 103.5,555.8 104.1,555.8 104.7,555.8 105.3,555.8 105.9,555.8 106.5,555.8 107.1,555.8 107.7,555.8 108.3,555.8 108.9,555.8 109.5,555.8 110.1,555.8 110.7,555.8 111.3,555.8 111.9,555.8 112.5,555.8 113.1,555.8 113.7,555.8 114.3,555.8 114.9,555.8 115.5,555.8 116.1,555.8 116.7,555.8 117.3,555.8 117.9,555.7 118.5,555.4 119.1,554.8 119.7,553.4 120.3,551.0 120.9,547.2 121.5,541.8 122.1,535.6 122.7,529.6 123.3,525.4 123.9,524.2 124.5,526.4 125.1,531.2 125.7,537.0 126.3,542.0 126.9,544.9 127.5,544.7 128.1,541.3 128.7,535.3 129.3,527.9 129.9,521.3 130.5,517.3 131.1,517.3 131.7,521.4 132.3,528.2 132.9,536.0 133.5,543.0 134.1,548.3 134.7,551.5 135.3,553.0 135.9,553.1 136.5,552.3 137.1,550.9 137.7,549.4 138.3,548.2 138.9,547.8 139.5,548.2 140.1,549.4 140.7,550.9 141.3,552.5 141.9,553.8 142.5,554.7 143.1,555.3 143.7,555.6 144.3,555.7 144.9,555.8 145.5,555.8 146.1,555.8 146.7,555.8 147.3,555.8 147.9,555.8 148.5,555.8 149.1,555.8 149.7,555.8 150.3,555.8 150.9,555.8 151.5,555.8 152.1,555.8 152.7,555.8 153.3,555.7 153.9,555.6 154.5,555.3 155.1,554.7 155.7,553.7 156.3,552.1 156.9,550.0 157.5,547.7 158.1,545.7 158.7,544.6 159.3,544.5 159.9,545.7 160.5,547.6 161.1,549.7 161.7,551.3 162.3,552.0 162.9,551.7 163.5,550.4 164.1,548.6 164.7,546.6 165.3,545.2 165.9,544.8 166.5,545.6 167.1,547.3 167.7,549.5 168.3,551.6 168.9,553.3" fill="none" stroke="#1a1a1a" stroke-width="1.25" stroke-linejoin="round"/>
<polygon points="9.3,555.8 9.3,555.8 9.9,555.8 10.5,555.8 11.1,555.8 11.7,555.8 12.3,555.8 12.9,555.8 13.5,555.8 14.1,555.8 14.7,555.8 15.3,555.8 15.9,555.8 16.5,555.8 17.1,555.8 17.7,555.8 18.3,555.8 18.9,555.8 19.5,555.8 20.1,555.8 20.7,555.7 21.3,555.4 21.9,554.7 22.5,553.4 23.1,551.0 23.7,547.1 24.3,541.7 24.9,535.3 25.5,529.3 26.1,525.0 26.7,523.8 27.3,526.1 27.9,531.1 28.5,537.5 29.1,543.6 29.7,548.5 30.3,551.9 30.9,554.0 31.5,555.0 32.1,555.5 32.7,555.7 33.3,555.8 33.9,555.8 34.5,555.8 35.1,555.8 35.7,555.8 36.3,555.8 36.9,555.8 37.5,555.8 38.1,555.8 38.7,555.8 39.3,555.8 39.9,555.8 40.5,555.8 41.1,555.8 41.7,555.8 42.3,555.8 42.9,555.8 43.5,555.8 44.1,555.8 44.7,555.8 45.3,555.8 45.9,555.8 46.5,555.8 47.1,555.8 47.7,555.8 48.3,555.8 48.9,555.8 49.5,555.8 50.1,555.8 50.7,555.8 51.3,555.8 51.9,555.8 52.5,555.8 53.1,555.8 53.7,555.8 54.3,555.8 54.9,555.8 55.5,555.8 56.1,555.8 56.7,555.8 57.3,555.8 57.9,555.8 58.5,555.8 59.1,555.8 59.7,555.8 60.3,555.8 60.9,555.8 61.5,555.8 62.1,555.8 62.7,555.8 63.3,555.8 63.9,555.8 64.5,555.8 65.1,555.8 65.7,555.8 66.3,555.8 66.9,555.8 67.5,555.8 68.1,555.8 68.7,555.8 69.3,555.8 69.9,555.8 70.5,555.8 71.1,555.8 71.7,555.8 72.3,555.8 72.9,555.8 73.5,555.8 74.1,555.8 74.7,555.8 75.3,555.8 75.9,555.7 76.5,555.6 77.1,555.2 77.7,554.3 78.3,552.6 78.9,549.6 79.5,545.0 80.1,538.9 80.7,532.3 81.3,526.4 81.9,523.0 82.5,522.9 83.1,526.3 83.7,532.0 84.3,538.3 84.9,543.3 85.5,546.0 86.1,545.6 86.7,542.1 87.3,536.1 87.9,528.9 88.5,522.4 89.1,518.5 89.7,518.5 90.3,522.3 90.9,528.8 91.5,535.9 92.1,541.9 92.7,545.5 93.3,546.4 93.9,545.0 94.5,542.1 95.1,539.0 95.7,536.9 96.3,536.6 96.9,538.3 97.5,541.5 98.1,545.4 98.7,549.0 99.3,551.8 99.9,553.7 100.5,554.8 101.1,555.4 101.7,555.6 102.3,555.7 102.9,555.8 103.5,555.8 104.1,555.8 104.7,555.8 105.3,555.8 105.9,555.8 106.5,555.8 107.1,555.8 107.7,555.8 108.3,555.8 108.9,555.8 109.5,555.8 110.1,555.8 110.7,555.8 111.3,555.8 111.9,555.8 112.5,555.8 113.1,555.8 113.7,555.8 114.3,555.8 114.9,555.8 115.5,555.8 116.1,555.8 116.7,555.8 117.3,555.8 117.9,555.8 118.5,555.8 119.1,555.8 119.7,555.8 120.3,555.8 120.9,555.8 121.5,555.8 122.1,555.8 122.7,555.8 123.3,555.8 123.9,555.8 124.5,555.8 125.1,555.8 125.7,555.8 126.3,555.8 126.9,555.8 127.5,555.8 128.1,555.8 128.7,555.8 129.3,555.8 129.9,555.8 130.5,555.8 131.1,555.8 131.7,555.8 132.3,555.8 132.9,555.8 133.5,555.8 134.1,555.8 134.7,555.8 135.3,555.8 135.9,555.8 136.5,555.8 137.1,555.8 137.7,555.8 138.3,555.8 138.9,555.8 139.5,555.8 140.1,555.8 140.7,555.8 141.3,555.8 141.9,555.8 142.5,555.8 143.1,555.8 143.7,555.8 144.3,555.8 144.9,555.8 145.5,555.8 146.1,555.8 146.7,555.8 147.3,555.8 147.9,555.8 148.5,555.8 149.1,555.8 149.7,555.8 150.3,555.8 150.9,555.8 151.5,555.8 152.1,555.8 152.7,555.8 153.3,555.8 153.9,555.8 154.5,555.8 155.1,555.8 155.7,555.8 156.3,555.8 156.9,555.8 157.5,555.8 158.1,555.8 158.7,555.8 159.3,555.8 159.9,555.8 160.5,555.8 161.1,555.8 161.7,555.8 162.3,555.8 162.9,555.8 163.5,555.8 164.1,555.8 164.7,555.8 165.3,555.8 165.9,555.8 166.5,555.8 167.1,555.8 167.7,555.8 168.3,555.8 168.9,555.8 168.9,555.8" fill="rgba(47,111,201,0.17)"/>
<polyline points="9.3,555.8 9.9,555.8 10.5,555.8 11.1,555.8 11.7,555.8 12.3,555.8 12.9,555.8 13.5,555.8 14.1,555.8 14.7,555.8 15.3,555.8 15.9,555.8 16.5,555.8 17.1,555.8 17.7,555.8 18.3,555.8 18.9,555.8 19.5,555.8 20.1,555.8 20.7,555.7 21.3,555.4 21.9,554.7 22.5,553.4 23.1,551.0 23.7,547.1 24.3,541.7 24.9,535.3 25.5,529.3 26.1,525.0 26.7,523.8 27.3,526.1 27.9,531.1 28.5,537.5 29.1,543.6 29.7,548.5 30.3,551.9 30.9,554.0 31.5,555.0 32.1,555.5 32.7,555.7 33.3,555.8 33.9,555.8 34.5,555.8 35.1,555.8 35.7,555.8 36.3,555.8 36.9,555.8 37.5,555.8 38.1,555.8 38.7,555.8 39.3,555.8 39.9,555.8 40.5,555.8 41.1,555.8 41.7,555.8 42.3,555.8 42.9,555.8 43.5,555.8 44.1,555.8 44.7,555.8 45.3,555.8 45.9,555.8 46.5,555.8 47.1,555.8 47.7,555.8 48.3,555.8 48.9,555.8 49.5,555.8 50.1,555.8 50.7,555.8 51.3,555.8 51.9,555.8 52.5,555.8 53.1,555.8 53.7,555.8 54.3,555.8 54.9,555.8 55.5,555.8 56.1,555.8 56.7,555.8 57.3,555.8 57.9,555.8 58.5,555.8 59.1,555.8 59.7,555.8 60.3,555.8 60.9,555.8 61.5,555.8 62.1,555.8 62.7,555.8 63.3,555.8 63.9,555.8 64.5,555.8 65.1,555.8 65.7,555.8 66.3,555.8 66.9,555.8 67.5,555.8 68.1,555.8 68.7,555.8 69.3,555.8 69.9,555.8 70.5,555.8 71.1,555.8 71.7,555.8 72.3,555.8 72.9,555.8 73.5,555.8 74.1,555.8 74.7,555.8 75.3,555.8 75.9,555.7 76.5,555.6 77.1,555.2 77.7,554.3 78.3,552.6 78.9,549.6 79.5,545.0 80.1,538.9 80.7,532.3 81.3,526.4 81.9,523.0 82.5,522.9 83.1,526.3 83.7,532.0 84.3,538.3 84.9,543.3 85.5,546.0 86.1,545.6 86.7,542.1 87.3,536.1 87.9,528.9 88.5,522.4 89.1,518.5 89.7,518.5 90.3,522.3 90.9,528.8 91.5,535.9 92.1,541.9 92.7,545.5 93.3,546.4 93.9,545.0 94.5,542.1 95.1,539.0 95.7,536.9 96.3,536.6 96.9,538.3 97.5,541.5 98.1,545.4 98.7,549.0 99.3,551.8 99.9,553.7 100.5,554.8 101.1,555.4 101.7,555.6 102.3,555.7 102.9,555.8 103.5,555.8 104.1,555.8 104.7,555.8 105.3,555.8 105.9,555.8 106.5,555.8 107.1,555.8 107.7,555.8 108.3,555.8 108.9,555.8 109.5,555.8 110.1,555.8 110.7,555.8 111.3,555.8 111.9,555.8 112.5,555.8 113.1,555.8 113.7,555.8 114.3,555.8 114.9,555.8 115.5,555.8 116.1,555.8 116.7,555.8 117.3,555.8 117.9,555.8 118.5,555.8 119.1,555.8 119.7,555.8 120.3,555.8 120.9,555.8 121.5,555.8 122.1,555.8 122.7,555.8 123.3,555.8 123.9,555.8 124.5,555.8 125.1,555.8 125.7,555.8 126.3,555.8 126.9,555.8 127.5,555.8 128.1,555.8 128.7,555.8 129.3,555.8 129.9,555.8 130.5,555.8 131.1,555.8 131.7,555.8 132.3,555.8 132.9,555.8 133.5,555.8 134.1,555.8 134.7,555.8 135.3,555.8 135.9,555.8 136.5,555.8 137.1,555.8 137.7,555.8 138.3,555.8 138.9,555.8 139.5,555.8 140.1,555.8 140.7,555.8 141.3,555.8 141.9,555.8 142.5,555.8 143.1,555.8 143.7,555.8 144.3,555.8 144.9,555.8 145.5,555.8 146.1,555.8 146.7,555.8 147.3,555.8 147.9,555.8 148.5,555.8 149.1,555.8 149.7,555.8 150.3,555.8 150.9,555.8 151.5,555.8 152.1,555.8 152.7,555.8 153.3,555.8 153.9,555.8 154.5,555.8 155.1,555.8 155.7,555.8 156.3,555.8 156.9,555.8 157.5,555.8 158.1,555.8 158.7,555.8 159.3,555.8 159.9,555.8 160.5,555.8 161.1,555.8 161.7,555.8 162.3,555.8 162.9,555.8 163.5,555.8 164.1,555.8 164.7,555.8 165.3,555.8 165.9,555.8 166.5,555.8 167.1,555.8 167.7,555.8 168.3,555.8 168.9,555.8" fill="none" stroke="#2f6fc9" stroke-width="1.25" stroke-linejoin="round"/>
<polygon points="9.3,555.8 9.3,555.8 9.9,555.8 10.5,555.8 11.1,555.8 11.7,555.8 12.3,555.8 12.9,555.8 13.5,555.8 14.1,555.8 14.7,555.8 15.3,555.8 15.9,555.8 16.5,555.8 17.1,555.8 17.7,555.8 18.3,555.8 18.9,555.8 19.5,555.8 20.1,555.8 20.7,555.8 21.3,555.8 21.9,555.8 22.5,555.8 23.1,555.8 23.7,555.8 24.3,555.8 24.9,555.8 25.5,555.8 26.1,555.8 26.7,555.8 27.3,555.7 27.9,555.6 28.5,555.1 29.1,554.2 29.7,552.5 30.3,549.4 30.9,544.9 31.5,539.1 32.1,532.9 32.7,527.7 33.3,525.0 33.9,525.6 34.5,529.2 35.1,534.9 35.7,541.1 36.3,546.6 36.9,550.6 37.5,553.2 38.1,554.6 38.7,555.3 39.3,555.6 39.9,555.7 40.5,555.8 41.1,555.8 41.7,555.8 42.3,555.8 42.9,555.8 43.5,555.8 44.1,555.8 44.7,555.8 45.3,555.8 45.9,555.8 46.5,555.8 47.1,555.8 47.7,555.8 48.3,555.8 48.9,555.8 49.5,555.8 50.1,555.8 50.7,555.8 51.3,555.8 51.9,555.8 52.5,555.8 53.1,555.8 53.7,555.8 54.3,555.8 54.9,555.8 55.5,555.8 56.1,555.8 56.7,555.8 57.3,555.8 57.9,555.8 58.5,555.8 59.1,555.8 59.7,555.8 60.3,555.8 60.9,555.8 61.5,555.8 62.1,555.8 62.7,555.8 63.3,555.8 63.9,555.8 64.5,555.8 65.1,555.8 65.7,555.8 66.3,555.8 66.9,555.8 67.5,555.8 68.1,555.8 68.7,555.7 69.3,555.6 69.9,555.2 70.5,554.4 71.1,552.8 71.7,550.1 72.3,546.3 72.9,541.5 73.5,536.5 74.1,532.6 74.7,530.8 75.3,531.7 75.9,535.1 76.5,539.8 77.1,544.7 77.7,549.0 78.3,552.0 78.9,553.9 79.5,555.0 80.1,555.5 80.7,555.7 81.3,555.8 81.9,555.8 82.5,555.8 83.1,555.8 83.7,555.8 84.3,555.8 84.9,555.8 85.5,555.8 86.1,555.8 86.7,555.8 87.3,555.8 87.9,555.8 88.5,555.8 89.1,555.8 89.7,555.8 90.3,555.8 90.9,555.8 91.5,555.8 92.1,555.8 92.7,555.8 93.3,555.8 93.9,555.8 94.5,555.8 95.1,555.8 95.7,555.8 96.3,555.8 96.9,555.8 97.5,555.8 98.1,555.8 98.7,555.8 99.3,555.8 99.9,555.8 100.5,555.8 101.1,555.8 101.7,555.8 102.3,555.8 102.9,555.8 103.5,555.8 104.1,555.8 104.7,555.8 105.3,555.8 105.9,555.8 106.5,555.8 107.1,555.8 107.7,555.8 108.3,555.8 108.9,555.8 109.5,555.8 110.1,555.8 110.7,555.7 111.3,555.6 111.9,555.4 112.5,554.9 113.1,553.9 113.7,552.4 114.3,550.2 114.9,547.7 115.5,545.3 116.1,543.7 116.7,543.2 117.3,544.1 117.9,546.0 118.5,548.4 119.1,550.6 119.7,552.1 120.3,552.6 120.9,552.0 121.5,550.5 122.1,548.4 122.7,546.3 123.3,544.8 123.9,544.4 124.5,545.2 125.1,547.0 125.7,549.3 126.3,551.5 126.9,553.2 127.5,554.4 128.1,555.1 128.7,555.5 129.3,555.7 129.9,555.8 130.5,555.8 131.1,555.8 131.7,555.8 132.3,555.8 132.9,555.8 133.5,555.8 134.1,555.8 134.7,555.8 135.3,555.8 135.9,555.8 136.5,555.8 137.1,555.8 137.7,555.8 138.3,555.8 138.9,555.8 139.5,555.8 140.1,555.8 140.7,555.8 141.3,555.8 141.9,555.8 142.5,555.8 143.1,555.8 143.7,555.8 144.3,555.8 144.9,555.8 145.5,555.8 146.1,555.8 146.7,555.8 147.3,555.8 147.9,555.8 148.5,555.8 149.1,555.8 149.7,555.8 150.3,555.8 150.9,555.8 151.5,555.8 152.1,555.8 152.7,555.8 153.3,555.8 153.9,555.8 154.5,555.8 155.1,555.8 155.7,555.8 156.3,555.8 156.9,555.8 157.5,555.8 158.1,555.8 158.7,555.8 159.3,555.8 159.9,555.8 160.5,555.8 161.1,555.8 161.7,555.8 162.3,555.8 162.9,555.8 163.5,555.8 164.1,555.8 164.7,555.8 165.3,555.8 165.9,555.8 166.5,555.8 167.1,555.8 167.7,555.8 168.3,555.8 168.9,555.8 168.9,555.8" fill="rgba(229,51,59,0.17)"/>
<polyline points="9.3,555.8 9.9,555.8 10.5,555.8 11.1,555.8 11.7,555.8 12.3,555.8 12.9,555.8 13.5,555.8 14.1,555.8 14.7,555.8 15.3,555.8 15.9,555.8 16.5,555.8 17.1,555.8 17.7,555.8 18.3,555.8 18.9,555.8 19.5,555.8 20.1,555.8 20.7,555.8 21.3,555.8 21.9,555.8 22.5,555.8 23.1,555.8 23.7,555.8 24.3,555.8 24.9,555.8 25.5,555.8 26.1,555.8 26.7,555.8 27.3,555.7 27.9,555.6 28.5,555.1 29.1,554.2 29.7,552.5 30.3,549.4 30.9,544.9 31.5,539.1 32.1,532.9 32.7,527.7 33.3,525.0 33.9,525.6 34.5,529.2 35.1,534.9 35.7,541.1 36.3,546.6 36.9,550.6 37.5,553.2 38.1,554.6 38.7,555.3 39.3,555.6 39.9,555.7 40.5,555.8 41.1,555.8 41.7,555.8 42.3,555.8 42.9,555.8 43.5,555.8 44.1,555.8 44.7,555.8 45.3,555.8 45.9,555.8 46.5,555.8 47.1,555.8 47.7,555.8 48.3,555.8 48.9,555.8 49.5,555.8 50.1,555.8 50.7,555.8 51.3,555.8 51.9,555.8 52.5,555.8 53.1,555.8 53.7,555.8 54.3,555.8 54.9,555.8 55.5,555.8 56.1,555.8 56.7,555.8 57.3,555.8 57.9,555.8 58.5,555.8 59.1,555.8 59.7,555.8 60.3,555.8 60.9,555.8 61.5,555.8 62.1,555.8 62.7,555.8 63.3,555.8 63.9,555.8 64.5,555.8 65.1,555.8 65.7,555.8 66.3,555.8 66.9,555.8 67.5,555.8 68.1,555.8 68.7,555.7 69.3,555.6 69.9,555.2 70.5,554.4 71.1,552.8 71.7,550.1 72.3,546.3 72.9,541.5 73.5,536.5 74.1,532.6 74.7,530.8 75.3,531.7 75.9,535.1 76.5,539.8 77.1,544.7 77.7,549.0 78.3,552.0 78.9,553.9 79.5,555.0 80.1,555.5 80.7,555.7 81.3,555.8 81.9,555.8 82.5,555.8 83.1,555.8 83.7,555.8 84.3,555.8 84.9,555.8 85.5,555.8 86.1,555.8 86.7,555.8 87.3,555.8 87.9,555.8 88.5,555.8 89.1,555.8 89.7,555.8 90.3,555.8 90.9,555.8 91.5,555.8 92.1,555.8 92.7,555.8 93.3,555.8 93.9,555.8 94.5,555.8 95.1,555.8 95.7,555.8 96.3,555.8 96.9,555.8 97.5,555.8 98.1,555.8 98.7,555.8 99.3,555.8 99.9,555.8 100.5,555.8 101.1,555.8 101.7,555.8 102.3,555.8 102.9,555.8 103.5,555.8 104.1,555.8 104.7,555.8 105.3,555.8 105.9,555.8 106.5,555.8 107.1,555.8 107.7,555.8 108.3,555.8 108.9,555.8 109.5,555.8 110.1,555.8 110.7,555.7 111.3,555.6 111.9,555.4 112.5,554.9 113.1,553.9 113.7,552.4 114.3,550.2 114.9,547.7 115.5,545.3 116.1,543.7 116.7,543.2 117.3,544.1 117.9,546.0 118.5,548.4 119.1,550.6 119.7,552.1 120.3,552.6 120.9,552.0 121.5,550.5 122.1,548.4 122.7,546.3 123.3,544.8 123.9,544.4 124.5,545.2 125.1,547.0 125.7,549.3 126.3,551.5 126.9,553.2 127.5,554.4 128.1,555.1 128.7,555.5 129.3,555.7 129.9,555.8 130.5,555.8 131.1,555.8 131.7,555.8 132.3,555.8 132.9,555.8 133.5,555.8 134.1,555.8 134.7,555.8 135.3,555.8 135.9,555.8 136.5,555.8 137.1,555.8 137.7,555.8 138.3,555.8 138.9,555.8 139.5,555.8 140.1,555.8 140.7,555.8 141.3,555.8 141.9,555.8 142.5,555.8 143.1,555.8 143.7,555.8 144.3,555.8 144.9,555.8 145.5,555.8 146.1,555.8 146.7,555.8 147.3,555.8 147.9,555.8 148.5,555.8 149.1,555.8 149.7,555.8 150.3,555.8 150.9,555.8 151.5,555.8 152.1,555.8 152.7,555.8 153.3,555.8 153.9,555.8 154.5,555.8 155.1,555.8 155.7,555.8 156.3,555.8 156.9,555.8 157.5,555.8 158.1,555.8 158.7,555.8 159.3,555.8 159.9,555.8 160.5,555.8 161.1,555.8 161.7,555.8 162.3,555.8 162.9,555.8 163.5,555.8 164.1,555.8 164.7,555.8 165.3,555.8 165.9,555.8 166.5,555.8 167.1,555.8 167.7,555.8 168.3,555.8 168.9,555.8" fill="none" stroke="#e5333b" stroke-width="1.25" stroke-linejoin="round"/>
<rect x="178.00" y="455.00" width="158.60" height="101.20" fill="#f9f8f4" stroke="none" stroke-width="1.2"/>
<text transform="translate(181.60 462.60) scale(0.8 1)" font-size="8.9" text-anchor="middle" font-weight="bold" fill="#111" stroke="#111" stroke-width="0.3">G</text>
<text transform="translate(188.49 462.60) scale(0.8 1)" font-size="8.9" text-anchor="middle" font-weight="bold" fill="#111" stroke="#111" stroke-width="0.3">A</text>
<text transform="translate(195.38 462.60) scale(0.8 1)" font-size="8.9" text-anchor="middle" font-weight="bold" fill="#111" stroke="#111" stroke-width="0.3">C</text>
<text transform="translate(202.27 462.60) scale(0.8 1)" font-size="8.9" text-anchor="middle" font-weight="bold" fill="#111" stroke="#111" stroke-width="0.3">T</text>
<text transform="translate(209.16 462.60) scale(0.8 1)" font-size="8.9" text-anchor="middle" font-weight="bold" fill="#111" stroke="#111" stroke-width="0.3">A</text>
<text transform="translate(216.05 462.60) scale(0.8 1)" font-size="8.9" text-anchor="middle" font-weight="bold" fill="#111" stroke="#111" stroke-width="0.3">A</text>
<text transform="translate(222.95 462.60) scale(0.8 1)" font-size="8.9" text-anchor="middle" font-weight="bold" fill="#111" stroke="#111" stroke-width="0.3">A</text>
<text transform="translate(229.84 462.60) scale(0.8 1)" font-size="8.9" text-anchor="middle" font-weight="bold" fill="#111" stroke="#111" stroke-width="0.3">G</text>
<text transform="translate(236.73 462.60) scale(0.8 1)" font-size="8.9" text-anchor="middle" font-weight="bold" fill="#111" stroke="#111" stroke-width="0.3">A</text>
<text transform="translate(243.62 462.60) scale(0.8 1)" font-size="8.9" text-anchor="middle" font-weight="bold" fill="#111" stroke="#111" stroke-width="0.3">T</text>
<text transform="translate(250.51 462.60) scale(0.8 1)" font-size="8.9" text-anchor="middle" font-weight="bold" fill="#111" stroke="#111" stroke-width="0.3">C</text>
<text transform="translate(257.40 462.60) scale(0.8 1)" font-size="8.9" text-anchor="middle" font-weight="bold" fill="#111" stroke="#111" stroke-width="0.3">C</text>
<text transform="translate(264.29 462.60) scale(0.8 1)" font-size="8.9" text-anchor="middle" font-weight="bold" fill="#111" stroke="#111" stroke-width="0.3">A</text>
<text transform="translate(271.18 462.60) scale(0.8 1)" font-size="8.9" text-anchor="middle" font-weight="bold" fill="#111" stroke="#111" stroke-width="0.3">A</text>
<text transform="translate(278.07 462.60) scale(0.8 1)" font-size="8.9" text-anchor="middle" font-weight="bold" fill="#111" stroke="#111" stroke-width="0.3">A</text>
<text transform="translate(284.96 462.60) scale(0.8 1)" font-size="8.9" text-anchor="middle" font-weight="bold" fill="#111" stroke="#111" stroke-width="0.3">T</text>
<text transform="translate(291.85 462.60) scale(0.8 1)" font-size="8.9" text-anchor="middle" font-weight="bold" fill="#111" stroke="#111" stroke-width="0.3">G</text>
<text transform="translate(298.75 462.60) scale(0.8 1)" font-size="8.9" text-anchor="middle" font-weight="bold" fill="#111" stroke="#111" stroke-width="0.3">G</text>
<text transform="translate(305.64 462.60) scale(0.8 1)" font-size="8.9" text-anchor="middle" font-weight="bold" fill="#111" stroke="#111" stroke-width="0.3">A</text>
<text transform="translate(312.53 462.60) scale(0.8 1)" font-size="8.9" text-anchor="middle" font-weight="bold" fill="#111" stroke="#111" stroke-width="0.3">A</text>
<text transform="translate(319.42 462.60) scale(0.8 1)" font-size="8.9" text-anchor="middle" font-weight="bold" fill="#111" stroke="#111" stroke-width="0.3">A</text>
<text transform="translate(326.31 462.60) scale(0.8 1)" font-size="8.9" text-anchor="middle" font-weight="bold" fill="#111" stroke="#111" stroke-width="0.3">G</text>
<text transform="translate(333.20 462.60) scale(0.8 1)" font-size="8.9" text-anchor="middle" font-weight="bold" fill="#111" stroke="#111" stroke-width="0.3">A</text>
<line x1="178.00" y1="468.10" x2="336.60" y2="468.10" stroke="#c9c7c2" stroke-width="1.2"/>
<rect x="259.99" y="474.10" width="8.60" height="11.60" fill="#f09496" stroke="#dc3b42" stroke-width="0.8"/>
<rect x="280.66" y="474.10" width="8.60" height="11.60" fill="#f09496" stroke="#dc3b42" stroke-width="0.8"/>
<rect x="322.01" y="474.10" width="8.60" height="11.60" fill="#f09496" stroke="#dc3b42" stroke-width="0.8"/>
<text transform="translate(181.60 483.30) scale(0.84 1)" font-size="9.5" text-anchor="middle" fill="#222" stroke="#222" stroke-width="0.15">G</text>
<text transform="translate(188.49 483.30) scale(0.84 1)" font-size="9.5" text-anchor="middle" fill="#222" stroke="#222" stroke-width="0.15">A</text>
<text transform="translate(195.38 483.30) scale(0.84 1)" font-size="9.5" text-anchor="middle" fill="#222" stroke="#222" stroke-width="0.15">C</text>
<text transform="translate(202.27 483.30) scale(0.84 1)" font-size="9.5" text-anchor="middle" fill="#222" stroke="#222" stroke-width="0.15">T</text>
<text transform="translate(209.16 483.30) scale(0.84 1)" font-size="9.5" text-anchor="middle" fill="#222" stroke="#222" stroke-width="0.15">A</text>
<text transform="translate(216.05 483.30) scale(0.84 1)" font-size="9.5" text-anchor="middle" fill="#222" stroke="#222" stroke-width="0.15">A</text>
<text transform="translate(222.95 483.30) scale(0.84 1)" font-size="9.5" text-anchor="middle" fill="#222" stroke="#222" stroke-width="0.15">A</text>
<text transform="translate(229.84 483.30) scale(0.84 1)" font-size="9.5" text-anchor="middle" fill="#222" stroke="#222" stroke-width="0.15">G</text>
<text transform="translate(236.73 483.30) scale(0.84 1)" font-size="9.5" text-anchor="middle" fill="#222" stroke="#222" stroke-width="0.15">A</text>
<text transform="translate(243.62 483.30) scale(0.84 1)" font-size="9.5" text-anchor="middle" fill="#222" stroke="#222" stroke-width="0.15">T</text>
<text transform="translate(250.51 483.30) scale(0.84 1)" font-size="9.5" text-anchor="middle" fill="#222" stroke="#222" stroke-width="0.15">C</text>
<text transform="translate(257.40 483.30) scale(0.84 1)" font-size="9.5" text-anchor="middle" fill="#222" stroke="#222" stroke-width="0.15">C</text>
<text transform="translate(264.29 483.30) scale(0.84 1)" font-size="9.5" text-anchor="middle" fill="#222" stroke="#222" stroke-width="0.15">C</text>
<text transform="translate(271.18 483.30) scale(0.84 1)" font-size="9.5" text-anchor="middle" fill="#222" stroke="#222" stroke-width="0.15">A</text>
<text transform="translate(278.07 483.30) scale(0.84 1)" font-size="9.5" text-anchor="middle" fill="#222" stroke="#222" stroke-width="0.15">A</text>
<text transform="translate(284.96 483.30) scale(0.84 1)" font-size="9.5" text-anchor="middle" fill="#222" stroke="#222" stroke-width="0.15">A</text>
<text transform="translate(291.85 483.30) scale(0.84 1)" font-size="9.5" text-anchor="middle" fill="#222" stroke="#222" stroke-width="0.15">G</text>
<text transform="translate(298.75 483.30) scale(0.84 1)" font-size="9.5" text-anchor="middle" fill="#222" stroke="#222" stroke-width="0.15">G</text>
<text transform="translate(305.64 483.30) scale(0.84 1)" font-size="9.5" text-anchor="middle" fill="#222" stroke="#222" stroke-width="0.15">A</text>
<text transform="translate(312.53 483.30) scale(0.84 1)" font-size="9.5" text-anchor="middle" fill="#222" stroke="#222" stroke-width="0.15">A</text>
<text transform="translate(319.42 483.30) scale(0.84 1)" font-size="9.5" text-anchor="middle" fill="#222" stroke="#222" stroke-width="0.15">A</text>
<text transform="translate(326.31 483.30) scale(0.84 1)" font-size="9.5" text-anchor="middle" fill="#222" stroke="#222" stroke-width="0.15">A</text>
<text transform="translate(333.20 483.30) scale(0.84 1)" font-size="9.5" text-anchor="middle" fill="#222" stroke="#222" stroke-width="0.15">A</text>
<line x1="201.80" y1="487.00" x2="201.80" y2="555.00" stroke="#b5b3ae" stroke-width="0.8" stroke-dasharray="2.4,1.8"/>
<line x1="270.50" y1="487.00" x2="270.50" y2="555.00" stroke="#b5b3ae" stroke-width="0.8" stroke-dasharray="2.4,1.8"/>
<polygon points="178.5,555.0 178.5,555.0 179.1,555.0 179.7,555.0 180.3,555.0 180.9,555.0 181.5,555.0 182.1,555.0 182.7,555.0 183.3,555.0 183.9,554.9 184.5,554.8 185.1,554.3 185.7,553.4 186.3,551.7 186.9,548.6 187.5,544.1 188.1,538.3 188.7,532.1 189.3,526.9 189.9,524.2 190.5,524.8 191.1,528.4 191.7,534.1 192.3,540.3 192.9,545.8 193.5,549.8 194.1,552.4 194.7,553.8 195.3,554.5 195.9,554.8 196.5,554.9 197.1,555.0 197.7,555.0 198.3,555.0 198.9,555.0 199.5,555.0 200.1,555.0 200.7,555.0 201.3,555.0 201.9,555.0 202.5,555.0 203.1,555.0 203.7,554.9 204.3,554.6 204.9,554.0 205.5,552.7 206.1,550.3 206.7,546.3 207.3,540.6 207.9,533.8 208.5,527.0 209.1,521.9 209.7,520.0 210.3,521.8 210.9,526.7 211.5,533.1 212.1,539.2 212.7,543.4 213.3,545.1 213.9,544.3 214.5,541.8 215.1,538.8 215.7,536.6 216.3,536.0 216.9,537.3 217.5,540.1 218.1,543.5 218.7,546.3 219.3,547.7 219.9,547.2 220.5,544.9 221.1,541.2 221.7,537.2 222.3,534.1 222.9,533.0 223.5,534.2 224.1,537.4 224.7,541.7 225.3,546.0 225.9,549.5 226.5,552.0 227.1,553.6 227.7,554.4 228.3,554.8 228.9,554.9 229.5,555.0 230.1,555.0 230.7,555.0 231.3,554.9 231.9,554.7 232.5,554.1 233.1,552.7 233.7,550.0 234.3,545.3 234.9,538.1 235.5,528.7 236.1,518.3 236.7,509.1 237.3,503.7 237.9,503.7 238.5,509.1 239.1,518.3 239.7,528.7 240.3,538.1 240.9,545.3 241.5,550.0 242.1,552.7 242.7,554.1 243.3,554.7 243.9,554.9 244.5,555.0 245.1,555.0 245.7,555.0 246.3,555.0 246.9,555.0 247.5,555.0 248.1,555.0 248.7,555.0 249.3,555.0 249.9,555.0 250.5,555.0 251.1,555.0 251.7,555.0 252.3,555.0 252.9,555.0 253.5,555.0 254.1,555.0 254.7,555.0 255.3,555.0 255.9,555.0 256.5,555.0 257.1,555.0 257.7,555.0 258.3,555.0 258.9,554.9 259.5,554.8 260.1,554.5 260.7,554.0 261.3,553.0 261.9,551.6 262.5,549.7 263.1,547.6 263.7,545.7 264.3,544.6 264.9,544.5 265.5,545.4 266.1,546.8 266.7,547.9 267.3,548.0 267.9,546.5 268.5,543.4 269.1,539.2 269.7,534.9 270.3,531.8 270.9,531.0 271.5,532.6 272.1,536.2 272.7,540.5 273.3,544.1 273.9,546.0 274.5,545.6 275.1,542.9 275.7,538.6 276.3,534.0 276.9,530.3 277.5,529.0 278.1,530.4 278.7,534.1 279.3,539.0 279.9,543.8 280.5,547.5 281.1,549.3 281.7,549.4 282.3,548.0 282.9,545.6 283.5,543.1 284.1,541.3 284.7,540.8 285.3,541.8 285.9,544.1 286.5,546.9 287.1,549.6 287.7,551.8 288.3,553.3 288.9,554.2 289.5,554.7 290.1,554.9 290.7,555.0 291.3,555.0 291.9,555.0 292.5,555.0 293.1,555.0 293.7,555.0 294.3,555.0 294.9,555.0 295.5,555.0 296.1,555.0 296.7,555.0 297.3,555.0 297.9,555.0 298.5,555.0 299.1,555.0 299.7,555.0 300.3,555.0 300.9,555.0 301.5,554.9 302.1,554.7 302.7,554.3 303.3,553.4 303.9,551.9 304.5,549.5 305.1,546.5 305.7,543.1 306.3,540.2 306.9,538.4 307.5,538.4 308.1,540.0 308.7,542.6 309.3,545.2 309.9,546.8 310.5,546.3 311.1,543.6 311.7,538.6 312.3,532.5 312.9,526.6 313.5,522.7 314.1,522.1 314.7,524.8 315.3,529.9 315.9,535.6 316.5,539.9 317.1,541.5 317.7,540.0 318.3,535.9 318.9,530.4 319.5,525.4 320.1,522.7 320.7,523.3 321.3,527.2 321.9,533.0 322.5,539.3 323.1,544.4 323.7,547.7 324.3,548.7 324.9,547.8 325.5,545.6 326.1,542.8 326.7,540.5 327.3,539.4 327.9,539.9 328.5,541.9 329.1,544.6 329.7,547.1 330.3,548.4 330.9,548.1 331.5,545.7 332.1,541.5 332.7,536.4 333.3,531.5 333.9,528.3 334.5,527.9 335.1,530.3 335.7,534.8 335.7,555.0" fill="rgba(63,174,73,0.17)"/>
<polyline points="178.5,555.0 179.1,555.0 179.7,555.0 180.3,555.0 180.9,555.0 181.5,555.0 182.1,555.0 182.7,555.0 183.3,555.0 183.9,554.9 184.5,554.8 185.1,554.3 185.7,553.4 186.3,551.7 186.9,548.6 187.5,544.1 188.1,538.3 188.7,532.1 189.3,526.9 189.9,524.2 190.5,524.8 191.1,528.4 191.7,534.1 192.3,540.3 192.9,545.8 193.5,549.8 194.1,552.4 194.7,553.8 195.3,554.5 195.9,554.8 196.5,554.9 197.1,555.0 197.7,555.0 198.3,555.0 198.9,555.0 199.5,555.0 200.1,555.0 200.7,555.0 201.3,555.0 201.9,555.0 202.5,555.0 203.1,555.0 203.7,554.9 204.3,554.6 204.9,554.0 205.5,552.7 206.1,550.3 206.7,546.3 207.3,540.6 207.9,533.8 208.5,527.0 209.1,521.9 209.7,520.0 210.3,521.8 210.9,526.7 211.5,533.1 212.1,539.2 212.7,543.4 213.3,545.1 213.9,544.3 214.5,541.8 215.1,538.8 215.7,536.6 216.3,536.0 216.9,537.3 217.5,540.1 218.1,543.5 218.7,546.3 219.3,547.7 219.9,547.2 220.5,544.9 221.1,541.2 221.7,537.2 222.3,534.1 222.9,533.0 223.5,534.2 224.1,537.4 224.7,541.7 225.3,546.0 225.9,549.5 226.5,552.0 227.1,553.6 227.7,554.4 228.3,554.8 228.9,554.9 229.5,555.0 230.1,555.0 230.7,555.0 231.3,554.9 231.9,554.7 232.5,554.1 233.1,552.7 233.7,550.0 234.3,545.3 234.9,538.1 235.5,528.7 236.1,518.3 236.7,509.1 237.3,503.7 237.9,503.7 238.5,509.1 239.1,518.3 239.7,528.7 240.3,538.1 240.9,545.3 241.5,550.0 242.1,552.7 242.7,554.1 243.3,554.7 243.9,554.9 244.5,555.0 245.1,555.0 245.7,555.0 246.3,555.0 246.9,555.0 247.5,555.0 248.1,555.0 248.7,555.0 249.3,555.0 249.9,555.0 250.5,555.0 251.1,555.0 251.7,555.0 252.3,555.0 252.9,555.0 253.5,555.0 254.1,555.0 254.7,555.0 255.3,555.0 255.9,555.0 256.5,555.0 257.1,555.0 257.7,555.0 258.3,555.0 258.9,554.9 259.5,554.8 260.1,554.5 260.7,554.0 261.3,553.0 261.9,551.6 262.5,549.7 263.1,547.6 263.7,545.7 264.3,544.6 264.9,544.5 265.5,545.4 266.1,546.8 266.7,547.9 267.3,548.0 267.9,546.5 268.5,543.4 269.1,539.2 269.7,534.9 270.3,531.8 270.9,531.0 271.5,532.6 272.1,536.2 272.7,540.5 273.3,544.1 273.9,546.0 274.5,545.6 275.1,542.9 275.7,538.6 276.3,534.0 276.9,530.3 277.5,529.0 278.1,530.4 278.7,534.1 279.3,539.0 279.9,543.8 280.5,547.5 281.1,549.3 281.7,549.4 282.3,548.0 282.9,545.6 283.5,543.1 284.1,541.3 284.7,540.8 285.3,541.8 285.9,544.1 286.5,546.9 287.1,549.6 287.7,551.8 288.3,553.3 288.9,554.2 289.5,554.7 290.1,554.9 290.7,555.0 291.3,555.0 291.9,555.0 292.5,555.0 293.1,555.0 293.7,555.0 294.3,555.0 294.9,555.0 295.5,555.0 296.1,555.0 296.7,555.0 297.3,555.0 297.9,555.0 298.5,555.0 299.1,555.0 299.7,555.0 300.3,555.0 300.9,555.0 301.5,554.9 302.1,554.7 302.7,554.3 303.3,553.4 303.9,551.9 304.5,549.5 305.1,546.5 305.7,543.1 306.3,540.2 306.9,538.4 307.5,538.4 308.1,540.0 308.7,542.6 309.3,545.2 309.9,546.8 310.5,546.3 311.1,543.6 311.7,538.6 312.3,532.5 312.9,526.6 313.5,522.7 314.1,522.1 314.7,524.8 315.3,529.9 315.9,535.6 316.5,539.9 317.1,541.5 317.7,540.0 318.3,535.9 318.9,530.4 319.5,525.4 320.1,522.7 320.7,523.3 321.3,527.2 321.9,533.0 322.5,539.3 323.1,544.4 323.7,547.7 324.3,548.7 324.9,547.8 325.5,545.6 326.1,542.8 326.7,540.5 327.3,539.4 327.9,539.9 328.5,541.9 329.1,544.6 329.7,547.1 330.3,548.4 330.9,548.1 331.5,545.7 332.1,541.5 332.7,536.4 333.3,531.5 333.9,528.3 334.5,527.9 335.1,530.3 335.7,534.8" fill="none" stroke="#3fae49" stroke-width="1.25" stroke-linejoin="round"/>
<polygon points="178.5,555.0 178.5,554.0 179.1,552.7 179.7,550.3 180.3,546.5 180.9,541.3 181.5,535.2 182.1,529.3 182.7,525.2 183.3,524.0 183.9,526.3 184.5,531.1 185.1,537.2 185.7,543.2 186.3,548.0 186.9,551.3 187.5,553.2 188.1,554.2 188.7,554.7 189.3,554.9 189.9,555.0 190.5,555.0 191.1,555.0 191.7,555.0 192.3,555.0 192.9,555.0 193.5,555.0 194.1,555.0 194.7,555.0 195.3,555.0 195.9,555.0 196.5,555.0 197.1,555.0 197.7,555.0 198.3,555.0 198.9,555.0 199.5,555.0 200.1,555.0 200.7,555.0 201.3,555.0 201.9,555.0 202.5,555.0 203.1,555.0 203.7,555.0 204.3,555.0 204.9,555.0 205.5,555.0 206.1,555.0 206.7,555.0 207.3,555.0 207.9,555.0 208.5,555.0 209.1,555.0 209.7,555.0 210.3,555.0 210.9,555.0 211.5,555.0 212.1,555.0 212.7,555.0 213.3,555.0 213.9,555.0 214.5,555.0 215.1,555.0 215.7,555.0 216.3,555.0 216.9,555.0 217.5,555.0 218.1,555.0 218.7,555.0 219.3,555.0 219.9,555.0 220.5,555.0 221.1,555.0 221.7,555.0 222.3,555.0 222.9,555.0 223.5,555.0 224.1,555.0 224.7,554.9 225.3,554.6 225.9,554.1 226.5,553.1 227.1,551.1 227.7,548.1 228.3,544.1 228.9,539.5 229.5,535.3 230.1,532.6 230.7,532.1 231.3,534.2 231.9,538.0 232.5,542.6 233.1,546.9 233.7,550.3 234.3,552.5 234.9,553.8 235.5,554.5 236.1,554.8 236.7,554.9 237.3,555.0 237.9,555.0 238.5,555.0 239.1,555.0 239.7,555.0 240.3,555.0 240.9,555.0 241.5,555.0 242.1,555.0 242.7,555.0 243.3,555.0 243.9,555.0 244.5,555.0 245.1,555.0 245.7,555.0 246.3,555.0 246.9,555.0 247.5,555.0 248.1,555.0 248.7,555.0 249.3,555.0 249.9,555.0 250.5,555.0 251.1,555.0 251.7,555.0 252.3,555.0 252.9,555.0 253.5,555.0 254.1,555.0 254.7,555.0 255.3,555.0 255.9,555.0 256.5,555.0 257.1,555.0 257.7,555.0 258.3,555.0 258.9,555.0 259.5,555.0 260.1,555.0 260.7,555.0 261.3,555.0 261.9,555.0 262.5,555.0 263.1,555.0 263.7,555.0 264.3,555.0 264.9,555.0 265.5,555.0 266.1,555.0 266.7,555.0 267.3,555.0 267.9,555.0 268.5,555.0 269.1,555.0 269.7,555.0 270.3,555.0 270.9,555.0 271.5,555.0 272.1,555.0 272.7,555.0 273.3,555.0 273.9,555.0 274.5,555.0 275.1,555.0 275.7,555.0 276.3,555.0 276.9,555.0 277.5,555.0 278.1,555.0 278.7,555.0 279.3,555.0 279.9,555.0 280.5,555.0 281.1,555.0 281.7,555.0 282.3,555.0 282.9,555.0 283.5,555.0 284.1,555.0 284.7,555.0 285.3,555.0 285.9,554.9 286.5,554.6 287.1,554.0 287.7,552.6 288.3,550.2 288.9,546.4 289.5,541.1 290.1,534.8 290.7,528.9 291.3,524.7 291.9,523.5 292.5,525.8 293.1,530.6 293.7,536.6 294.3,542.1 294.9,545.8 295.5,546.9 296.1,544.9 296.7,540.1 297.3,533.1 297.9,525.3 298.5,518.7 299.1,515.2 299.7,516.0 300.3,520.7 300.9,528.0 301.5,536.0 302.1,542.9 302.7,547.9 303.3,550.8 303.9,552.0 304.5,551.8 305.1,550.7 305.7,549.3 306.3,547.9 306.9,547.1 307.5,547.1 308.1,547.9 308.7,549.3 309.3,550.9 309.9,552.4 310.5,553.5 311.1,554.2 311.7,554.6 312.3,554.9 312.9,554.9 313.5,555.0 314.1,555.0 314.7,555.0 315.3,555.0 315.9,555.0 316.5,555.0 317.1,555.0 317.7,555.0 318.3,555.0 318.9,555.0 319.5,555.0 320.1,555.0 320.7,555.0 321.3,555.0 321.9,554.9 322.5,554.7 323.1,554.4 323.7,553.7 324.3,552.5 324.9,550.8 325.5,548.7 326.1,546.5 326.7,544.8 327.3,544.0 327.9,544.4 328.5,545.8 329.1,547.8 329.7,549.7 330.3,551.1 330.9,551.5 331.5,550.9 332.1,549.4 332.7,547.4 333.3,545.5 333.9,544.3 334.5,544.1 335.1,545.0 335.7,546.9 335.7,555.0" fill="rgba(40,40,40,0.17)"/>
<polyline points="178.5,554.0 179.1,552.7 179.7,550.3 180.3,546.5 180.9,541.3 181.5,535.2 182.1,529.3 182.7,525.2 183.3,524.0 183.9,526.3 184.5,531.1 185.1,537.2 185.7,543.2 186.3,548.0 186.9,551.3 187.5,553.2 188.1,554.2 188.7,554.7 189.3,554.9 189.9,555.0 190.5,555.0 191.1,555.0 191.7,555.0 192.3,555.0 192.9,555.0 193.5,555.0 194.1,555.0 194.7,555.0 195.3,555.0 195.9,555.0 196.5,555.0 197.1,555.0 197.7,555.0 198.3,555.0 198.9,555.0 199.5,555.0 200.1,555.0 200.7,555.0 201.3,555.0 201.9,555.0 202.5,555.0 203.1,555.0 203.7,555.0 204.3,555.0 204.9,555.0 205.5,555.0 206.1,555.0 206.7,555.0 207.3,555.0 207.9,555.0 208.5,555.0 209.1,555.0 209.7,555.0 210.3,555.0 210.9,555.0 211.5,555.0 212.1,555.0 212.7,555.0 213.3,555.0 213.9,555.0 214.5,555.0 215.1,555.0 215.7,555.0 216.3,555.0 216.9,555.0 217.5,555.0 218.1,555.0 218.7,555.0 219.3,555.0 219.9,555.0 220.5,555.0 221.1,555.0 221.7,555.0 222.3,555.0 222.9,555.0 223.5,555.0 224.1,555.0 224.7,554.9 225.3,554.6 225.9,554.1 226.5,553.1 227.1,551.1 227.7,548.1 228.3,544.1 228.9,539.5 229.5,535.3 230.1,532.6 230.7,532.1 231.3,534.2 231.9,538.0 232.5,542.6 233.1,546.9 233.7,550.3 234.3,552.5 234.9,553.8 235.5,554.5 236.1,554.8 236.7,554.9 237.3,555.0 237.9,555.0 238.5,555.0 239.1,555.0 239.7,555.0 240.3,555.0 240.9,555.0 241.5,555.0 242.1,555.0 242.7,555.0 243.3,555.0 243.9,555.0 244.5,555.0 245.1,555.0 245.7,555.0 246.3,555.0 246.9,555.0 247.5,555.0 248.1,555.0 248.7,555.0 249.3,555.0 249.9,555.0 250.5,555.0 251.1,555.0 251.7,555.0 252.3,555.0 252.9,555.0 253.5,555.0 254.1,555.0 254.7,555.0 255.3,555.0 255.9,555.0 256.5,555.0 257.1,555.0 257.7,555.0 258.3,555.0 258.9,555.0 259.5,555.0 260.1,555.0 260.7,555.0 261.3,555.0 261.9,555.0 262.5,555.0 263.1,555.0 263.7,555.0 264.3,555.0 264.9,555.0 265.5,555.0 266.1,555.0 266.7,555.0 267.3,555.0 267.9,555.0 268.5,555.0 269.1,555.0 269.7,555.0 270.3,555.0 270.9,555.0 271.5,555.0 272.1,555.0 272.7,555.0 273.3,555.0 273.9,555.0 274.5,555.0 275.1,555.0 275.7,555.0 276.3,555.0 276.9,555.0 277.5,555.0 278.1,555.0 278.7,555.0 279.3,555.0 279.9,555.0 280.5,555.0 281.1,555.0 281.7,555.0 282.3,555.0 282.9,555.0 283.5,555.0 284.1,555.0 284.7,555.0 285.3,555.0 285.9,554.9 286.5,554.6 287.1,554.0 287.7,552.6 288.3,550.2 288.9,546.4 289.5,541.1 290.1,534.8 290.7,528.9 291.3,524.7 291.9,523.5 292.5,525.8 293.1,530.6 293.7,536.6 294.3,542.1 294.9,545.8 295.5,546.9 296.1,544.9 296.7,540.1 297.3,533.1 297.9,525.3 298.5,518.7 299.1,515.2 299.7,516.0 300.3,520.7 300.9,528.0 301.5,536.0 302.1,542.9 302.7,547.9 303.3,550.8 303.9,552.0 304.5,551.8 305.1,550.7 305.7,549.3 306.3,547.9 306.9,547.1 307.5,547.1 308.1,547.9 308.7,549.3 309.3,550.9 309.9,552.4 310.5,553.5 311.1,554.2 311.7,554.6 312.3,554.9 312.9,554.9 313.5,555.0 314.1,555.0 314.7,555.0 315.3,555.0 315.9,555.0 316.5,555.0 317.1,555.0 317.7,555.0 318.3,555.0 318.9,555.0 319.5,555.0 320.1,555.0 320.7,555.0 321.3,555.0 321.9,554.9 322.5,554.7 323.1,554.4 323.7,553.7 324.3,552.5 324.9,550.8 325.5,548.7 326.1,546.5 326.7,544.8 327.3,544.0 327.9,544.4 328.5,545.8 329.1,547.8 329.7,549.7 330.3,551.1 330.9,551.5 331.5,550.9 332.1,549.4 332.7,547.4 333.3,545.5 333.9,544.3 334.5,544.1 335.1,545.0 335.7,546.9" fill="none" stroke="#1a1a1a" stroke-width="1.25" stroke-linejoin="round"/>
<polygon points="178.5,555.0 178.5,555.0 179.1,555.0 179.7,555.0 180.3,555.0 180.9,555.0 181.5,555.0 182.1,555.0 182.7,555.0 183.3,555.0 183.9,555.0 184.5,555.0 185.1,555.0 185.7,555.0 186.3,555.0 186.9,555.0 187.5,555.0 188.1,555.0 188.7,555.0 189.3,555.0 189.9,555.0 190.5,554.9 191.1,554.8 191.7,554.5 192.3,553.7 192.9,552.2 193.5,549.6 194.1,545.6 194.7,540.3 195.3,534.5 195.9,529.4 196.5,526.4 197.1,526.4 197.7,529.4 198.3,534.5 198.9,540.3 199.5,545.6 200.1,549.6 200.7,552.2 201.3,553.7 201.9,554.5 202.5,554.8 203.1,554.9 203.7,555.0 204.3,555.0 204.9,555.0 205.5,555.0 206.1,555.0 206.7,555.0 207.3,555.0 207.9,555.0 208.5,555.0 209.1,555.0 209.7,555.0 210.3,555.0 210.9,555.0 211.5,555.0 212.1,555.0 212.7,555.0 213.3,555.0 213.9,555.0 214.5,555.0 215.1,555.0 215.7,555.0 216.3,555.0 216.9,555.0 217.5,555.0 218.1,555.0 218.7,555.0 219.3,555.0 219.9,555.0 220.5,555.0 221.1,555.0 221.7,555.0 222.3,555.0 222.9,555.0 223.5,555.0 224.1,555.0 224.7,555.0 225.3,555.0 225.9,555.0 226.5,555.0 227.1,555.0 227.7,555.0 228.3,555.0 228.9,555.0 229.5,555.0 230.1,555.0 230.7,555.0 231.3,555.0 231.9,555.0 232.5,555.0 233.1,555.0 233.7,555.0 234.3,555.0 234.9,555.0 235.5,555.0 236.1,555.0 236.7,555.0 237.3,555.0 237.9,555.0 238.5,555.0 239.1,555.0 239.7,555.0 240.3,555.0 240.9,555.0 241.5,555.0 242.1,555.0 242.7,555.0 243.3,555.0 243.9,555.0 244.5,554.9 245.1,554.8 245.7,554.3 246.3,553.4 246.9,551.6 247.5,548.5 248.1,543.9 248.7,538.0 249.3,531.7 249.9,526.5 250.5,523.7 251.1,524.3 251.7,528.0 252.3,533.6 252.9,539.6 253.5,544.4 254.1,547.0 254.7,546.9 255.3,544.0 255.9,538.7 256.5,532.0 257.1,525.3 257.7,520.6 258.3,519.3 258.9,521.8 259.5,527.2 260.1,533.7 260.7,539.6 261.3,543.4 261.9,544.5 262.5,543.3 263.1,540.7 263.7,537.9 264.3,536.1 264.9,536.2 265.5,538.2 266.1,541.6 266.7,545.4 267.3,548.8 267.9,551.5 268.5,553.2 269.1,554.2 269.7,554.7 270.3,554.9 270.9,555.0 271.5,555.0 272.1,555.0 272.7,555.0 273.3,555.0 273.9,555.0 274.5,555.0 275.1,555.0 275.7,555.0 276.3,555.0 276.9,555.0 277.5,555.0 278.1,555.0 278.7,555.0 279.3,555.0 279.9,555.0 280.5,555.0 281.1,555.0 281.7,555.0 282.3,555.0 282.9,555.0 283.5,555.0 284.1,555.0 284.7,555.0 285.3,555.0 285.9,555.0 286.5,555.0 287.1,555.0 287.7,555.0 288.3,555.0 288.9,555.0 289.5,555.0 290.1,555.0 290.7,555.0 291.3,555.0 291.9,555.0 292.5,555.0 293.1,555.0 293.7,555.0 294.3,555.0 294.9,555.0 295.5,555.0 296.1,555.0 296.7,555.0 297.3,555.0 297.9,555.0 298.5,555.0 299.1,555.0 299.7,555.0 300.3,555.0 300.9,555.0 301.5,555.0 302.1,555.0 302.7,555.0 303.3,555.0 303.9,555.0 304.5,555.0 305.1,555.0 305.7,555.0 306.3,555.0 306.9,555.0 307.5,555.0 308.1,555.0 308.7,555.0 309.3,555.0 309.9,555.0 310.5,555.0 311.1,555.0 311.7,555.0 312.3,555.0 312.9,555.0 313.5,555.0 314.1,555.0 314.7,555.0 315.3,555.0 315.9,555.0 316.5,555.0 317.1,555.0 317.7,555.0 318.3,555.0 318.9,555.0 319.5,555.0 320.1,555.0 320.7,555.0 321.3,555.0 321.9,555.0 322.5,555.0 323.1,555.0 323.7,555.0 324.3,555.0 324.9,555.0 325.5,555.0 326.1,555.0 326.7,555.0 327.3,555.0 327.9,555.0 328.5,555.0 329.1,555.0 329.7,555.0 330.3,555.0 330.9,555.0 331.5,555.0 332.1,555.0 332.7,555.0 333.3,555.0 333.9,555.0 334.5,555.0 335.1,555.0 335.7,555.0 335.7,555.0" fill="rgba(47,111,201,0.17)"/>
<polyline points="178.5,555.0 179.1,555.0 179.7,555.0 180.3,555.0 180.9,555.0 181.5,555.0 182.1,555.0 182.7,555.0 183.3,555.0 183.9,555.0 184.5,555.0 185.1,555.0 185.7,555.0 186.3,555.0 186.9,555.0 187.5,555.0 188.1,555.0 188.7,555.0 189.3,555.0 189.9,555.0 190.5,554.9 191.1,554.8 191.7,554.5 192.3,553.7 192.9,552.2 193.5,549.6 194.1,545.6 194.7,540.3 195.3,534.5 195.9,529.4 196.5,526.4 197.1,526.4 197.7,529.4 198.3,534.5 198.9,540.3 199.5,545.6 200.1,549.6 200.7,552.2 201.3,553.7 201.9,554.5 202.5,554.8 203.1,554.9 203.7,555.0 204.3,555.0 204.9,555.0 205.5,555.0 206.1,555.0 206.7,555.0 207.3,555.0 207.9,555.0 208.5,555.0 209.1,555.0 209.7,555.0 210.3,555.0 210.9,555.0 211.5,555.0 212.1,555.0 212.7,555.0 213.3,555.0 213.9,555.0 214.5,555.0 215.1,555.0 215.7,555.0 216.3,555.0 216.9,555.0 217.5,555.0 218.1,555.0 218.7,555.0 219.3,555.0 219.9,555.0 220.5,555.0 221.1,555.0 221.7,555.0 222.3,555.0 222.9,555.0 223.5,555.0 224.1,555.0 224.7,555.0 225.3,555.0 225.9,555.0 226.5,555.0 227.1,555.0 227.7,555.0 228.3,555.0 228.9,555.0 229.5,555.0 230.1,555.0 230.7,555.0 231.3,555.0 231.9,555.0 232.5,555.0 233.1,555.0 233.7,555.0 234.3,555.0 234.9,555.0 235.5,555.0 236.1,555.0 236.7,555.0 237.3,555.0 237.9,555.0 238.5,555.0 239.1,555.0 239.7,555.0 240.3,555.0 240.9,555.0 241.5,555.0 242.1,555.0 242.7,555.0 243.3,555.0 243.9,555.0 244.5,554.9 245.1,554.8 245.7,554.3 246.3,553.4 246.9,551.6 247.5,548.5 248.1,543.9 248.7,538.0 249.3,531.7 249.9,526.5 250.5,523.7 251.1,524.3 251.7,528.0 252.3,533.6 252.9,539.6 253.5,544.4 254.1,547.0 254.7,546.9 255.3,544.0 255.9,538.7 256.5,532.0 257.1,525.3 257.7,520.6 258.3,519.3 258.9,521.8 259.5,527.2 260.1,533.7 260.7,539.6 261.3,543.4 261.9,544.5 262.5,543.3 263.1,540.7 263.7,537.9 264.3,536.1 264.9,536.2 265.5,538.2 266.1,541.6 266.7,545.4 267.3,548.8 267.9,551.5 268.5,553.2 269.1,554.2 269.7,554.7 270.3,554.9 270.9,555.0 271.5,555.0 272.1,555.0 272.7,555.0 273.3,555.0 273.9,555.0 274.5,555.0 275.1,555.0 275.7,555.0 276.3,555.0 276.9,555.0 277.5,555.0 278.1,555.0 278.7,555.0 279.3,555.0 279.9,555.0 280.5,555.0 281.1,555.0 281.7,555.0 282.3,555.0 282.9,555.0 283.5,555.0 284.1,555.0 284.7,555.0 285.3,555.0 285.9,555.0 286.5,555.0 287.1,555.0 287.7,555.0 288.3,555.0 288.9,555.0 289.5,555.0 290.1,555.0 290.7,555.0 291.3,555.0 291.9,555.0 292.5,555.0 293.1,555.0 293.7,555.0 294.3,555.0 294.9,555.0 295.5,555.0 296.1,555.0 296.7,555.0 297.3,555.0 297.9,555.0 298.5,555.0 299.1,555.0 299.7,555.0 300.3,555.0 300.9,555.0 301.5,555.0 302.1,555.0 302.7,555.0 303.3,555.0 303.9,555.0 304.5,555.0 305.1,555.0 305.7,555.0 306.3,555.0 306.9,555.0 307.5,555.0 308.1,555.0 308.7,555.0 309.3,555.0 309.9,555.0 310.5,555.0 311.1,555.0 311.7,555.0 312.3,555.0 312.9,555.0 313.5,555.0 314.1,555.0 314.7,555.0 315.3,555.0 315.9,555.0 316.5,555.0 317.1,555.0 317.7,555.0 318.3,555.0 318.9,555.0 319.5,555.0 320.1,555.0 320.7,555.0 321.3,555.0 321.9,555.0 322.5,555.0 323.1,555.0 323.7,555.0 324.3,555.0 324.9,555.0 325.5,555.0 326.1,555.0 326.7,555.0 327.3,555.0 327.9,555.0 328.5,555.0 329.1,555.0 329.7,555.0 330.3,555.0 330.9,555.0 331.5,555.0 332.1,555.0 332.7,555.0 333.3,555.0 333.9,555.0 334.5,555.0 335.1,555.0 335.7,555.0" fill="none" stroke="#2f6fc9" stroke-width="1.25" stroke-linejoin="round"/>
<polygon points="178.5,555.0 178.5,555.0 179.1,555.0 179.7,555.0 180.3,555.0 180.9,555.0 181.5,555.0 182.1,555.0 182.7,555.0 183.3,555.0 183.9,555.0 184.5,555.0 185.1,555.0 185.7,555.0 186.3,555.0 186.9,555.0 187.5,555.0 188.1,555.0 188.7,555.0 189.3,555.0 189.9,555.0 190.5,555.0 191.1,555.0 191.7,555.0 192.3,555.0 192.9,555.0 193.5,555.0 194.1,555.0 194.7,555.0 195.3,555.0 195.9,555.0 196.5,555.0 197.1,554.9 197.7,554.8 198.3,554.5 198.9,553.9 199.5,552.5 200.1,550.0 200.7,546.1 201.3,540.8 201.9,534.8 202.5,529.3 203.1,525.7 203.7,525.2 204.3,527.8 204.9,532.8 205.5,538.8 206.1,544.4 206.7,548.8 207.3,551.8 207.9,553.5 208.5,554.4 209.1,554.8 209.7,554.9 210.3,555.0 210.9,555.0 211.5,555.0 212.1,555.0 212.7,555.0 213.3,555.0 213.9,555.0 214.5,555.0 215.1,555.0 215.7,555.0 216.3,555.0 216.9,555.0 217.5,555.0 218.1,555.0 218.7,555.0 219.3,555.0 219.9,555.0 220.5,555.0 221.1,555.0 221.7,555.0 222.3,555.0 222.9,555.0 223.5,555.0 224.1,555.0 224.7,555.0 225.3,555.0 225.9,555.0 226.5,555.0 227.1,555.0 227.7,555.0 228.3,555.0 228.9,555.0 229.5,555.0 230.1,555.0 230.7,555.0 231.3,555.0 231.9,555.0 232.5,555.0 233.1,555.0 233.7,555.0 234.3,555.0 234.9,555.0 235.5,555.0 236.1,555.0 236.7,555.0 237.3,554.9 237.9,554.8 238.5,554.6 239.1,553.9 239.7,552.6 240.3,550.4 240.9,546.9 241.5,542.4 242.1,537.5 242.7,533.1 243.3,530.5 243.9,530.5 244.5,533.1 245.1,537.5 245.7,542.4 246.3,546.9 246.9,550.4 247.5,552.6 248.1,553.9 248.7,554.6 249.3,554.8 249.9,554.9 250.5,555.0 251.1,555.0 251.7,555.0 252.3,555.0 252.9,555.0 253.5,555.0 254.1,555.0 254.7,555.0 255.3,555.0 255.9,555.0 256.5,555.0 257.1,555.0 257.7,555.0 258.3,555.0 258.9,555.0 259.5,555.0 260.1,555.0 260.7,555.0 261.3,555.0 261.9,555.0 262.5,555.0 263.1,555.0 263.7,555.0 264.3,555.0 264.9,555.0 265.5,555.0 266.1,555.0 266.7,555.0 267.3,555.0 267.9,555.0 268.5,555.0 269.1,555.0 269.7,555.0 270.3,555.0 270.9,555.0 271.5,555.0 272.1,555.0 272.7,555.0 273.3,555.0 273.9,555.0 274.5,555.0 275.1,555.0 275.7,555.0 276.3,555.0 276.9,555.0 277.5,555.0 278.1,555.0 278.7,554.9 279.3,554.8 279.9,554.6 280.5,554.1 281.1,553.2 281.7,551.8 282.3,549.8 282.9,547.5 283.5,545.3 284.1,543.7 284.7,543.3 285.3,544.1 285.9,545.9 286.5,548.1 287.1,550.2 287.7,551.5 288.3,551.8 288.9,551.1 289.5,549.5 290.1,547.4 290.7,545.3 291.3,543.7 291.9,543.3 292.5,544.2 293.1,546.0 293.7,548.3 294.3,550.5 294.9,552.3 295.5,553.6 296.1,554.3 296.7,554.7 297.3,554.9 297.9,555.0 298.5,555.0 299.1,555.0 299.7,555.0 300.3,555.0 300.9,555.0 301.5,555.0 302.1,555.0 302.7,555.0 303.3,555.0 303.9,555.0 304.5,555.0 305.1,555.0 305.7,555.0 306.3,555.0 306.9,555.0 307.5,555.0 308.1,555.0 308.7,555.0 309.3,555.0 309.9,555.0 310.5,555.0 311.1,555.0 311.7,555.0 312.3,555.0 312.9,555.0 313.5,555.0 314.1,555.0 314.7,555.0 315.3,555.0 315.9,555.0 316.5,555.0 317.1,555.0 317.7,555.0 318.3,555.0 318.9,555.0 319.5,555.0 320.1,555.0 320.7,555.0 321.3,555.0 321.9,555.0 322.5,555.0 323.1,555.0 323.7,555.0 324.3,555.0 324.9,555.0 325.5,555.0 326.1,555.0 326.7,555.0 327.3,555.0 327.9,555.0 328.5,555.0 329.1,555.0 329.7,555.0 330.3,555.0 330.9,555.0 331.5,555.0 332.1,555.0 332.7,555.0 333.3,555.0 333.9,555.0 334.5,555.0 335.1,555.0 335.7,555.0 335.7,555.0" fill="rgba(229,51,59,0.17)"/>
<polyline points="178.5,555.0 179.1,555.0 179.7,555.0 180.3,555.0 180.9,555.0 181.5,555.0 182.1,555.0 182.7,555.0 183.3,555.0 183.9,555.0 184.5,555.0 185.1,555.0 185.7,555.0 186.3,555.0 186.9,555.0 187.5,555.0 188.1,555.0 188.7,555.0 189.3,555.0 189.9,555.0 190.5,555.0 191.1,555.0 191.7,555.0 192.3,555.0 192.9,555.0 193.5,555.0 194.1,555.0 194.7,555.0 195.3,555.0 195.9,555.0 196.5,555.0 197.1,554.9 197.7,554.8 198.3,554.5 198.9,553.9 199.5,552.5 200.1,550.0 200.7,546.1 201.3,540.8 201.9,534.8 202.5,529.3 203.1,525.7 203.7,525.2 204.3,527.8 204.9,532.8 205.5,538.8 206.1,544.4 206.7,548.8 207.3,551.8 207.9,553.5 208.5,554.4 209.1,554.8 209.7,554.9 210.3,555.0 210.9,555.0 211.5,555.0 212.1,555.0 212.7,555.0 213.3,555.0 213.9,555.0 214.5,555.0 215.1,555.0 215.7,555.0 216.3,555.0 216.9,555.0 217.5,555.0 218.1,555.0 218.7,555.0 219.3,555.0 219.9,555.0 220.5,555.0 221.1,555.0 221.7,555.0 222.3,555.0 222.9,555.0 223.5,555.0 224.1,555.0 224.7,555.0 225.3,555.0 225.9,555.0 226.5,555.0 227.1,555.0 227.7,555.0 228.3,555.0 228.9,555.0 229.5,555.0 230.1,555.0 230.7,555.0 231.3,555.0 231.9,555.0 232.5,555.0 233.1,555.0 233.7,555.0 234.3,555.0 234.9,555.0 235.5,555.0 236.1,555.0 236.7,555.0 237.3,554.9 237.9,554.8 238.5,554.6 239.1,553.9 239.7,552.6 240.3,550.4 240.9,546.9 241.5,542.4 242.1,537.5 242.7,533.1 243.3,530.5 243.9,530.5 244.5,533.1 245.1,537.5 245.7,542.4 246.3,546.9 246.9,550.4 247.5,552.6 248.1,553.9 248.7,554.6 249.3,554.8 249.9,554.9 250.5,555.0 251.1,555.0 251.7,555.0 252.3,555.0 252.9,555.0 253.5,555.0 254.1,555.0 254.7,555.0 255.3,555.0 255.9,555.0 256.5,555.0 257.1,555.0 257.7,555.0 258.3,555.0 258.9,555.0 259.5,555.0 260.1,555.0 260.7,555.0 261.3,555.0 261.9,555.0 262.5,555.0 263.1,555.0 263.7,555.0 264.3,555.0 264.9,555.0 265.5,555.0 266.1,555.0 266.7,555.0 267.3,555.0 267.9,555.0 268.5,555.0 269.1,555.0 269.7,555.0 270.3,555.0 270.9,555.0 271.5,555.0 272.1,555.0 272.7,555.0 273.3,555.0 273.9,555.0 274.5,555.0 275.1,555.0 275.7,555.0 276.3,555.0 276.9,555.0 277.5,555.0 278.1,555.0 278.7,554.9 279.3,554.8 279.9,554.6 280.5,554.1 281.1,553.2 281.7,551.8 282.3,549.8 282.9,547.5 283.5,545.3 284.1,543.7 284.7,543.3 285.3,544.1 285.9,545.9 286.5,548.1 287.1,550.2 287.7,551.5 288.3,551.8 288.9,551.1 289.5,549.5 290.1,547.4 290.7,545.3 291.3,543.7 291.9,543.3 292.5,544.2 293.1,546.0 293.7,548.3 294.3,550.5 294.9,552.3 295.5,553.6 296.1,554.3 296.7,554.7 297.3,554.9 297.9,555.0 298.5,555.0 299.1,555.0 299.7,555.0 300.3,555.0 300.9,555.0 301.5,555.0 302.1,555.0 302.7,555.0 303.3,555.0 303.9,555.0 304.5,555.0 305.1,555.0 305.7,555.0 306.3,555.0 306.9,555.0 307.5,555.0 308.1,555.0 308.7,555.0 309.3,555.0 309.9,555.0 310.5,555.0 311.1,555.0 311.7,555.0 312.3,555.0 312.9,555.0 313.5,555.0 314.1,555.0 314.7,555.0 315.3,555.0 315.9,555.0 316.5,555.0 317.1,555.0 317.7,555.0 318.3,555.0 318.9,555.0 319.5,555.0 320.1,555.0 320.7,555.0 321.3,555.0 321.9,555.0 322.5,555.0 323.1,555.0 323.7,555.0 324.3,555.0 324.9,555.0 325.5,555.0 326.1,555.0 326.7,555.0 327.3,555.0 327.9,555.0 328.5,555.0 329.1,555.0 329.7,555.0 330.3,555.0 330.9,555.0 331.5,555.0 332.1,555.0 332.7,555.0 333.3,555.0 333.9,555.0 334.5,555.0 335.1,555.0 335.7,555.0" fill="none" stroke="#e5333b" stroke-width="1.25" stroke-linejoin="round"/>
<rect x="358.60" y="454.80" width="164.40" height="101.20" fill="#f9f8f4" stroke="none" stroke-width="1.2"/>
<text transform="translate(362.60 462.40) scale(0.8 1)" font-size="8.9" text-anchor="middle" font-weight="bold" fill="#111" stroke="#111" stroke-width="0.3">G</text>
<text transform="translate(369.43 462.40) scale(0.8 1)" font-size="8.9" text-anchor="middle" font-weight="bold" fill="#111" stroke="#111" stroke-width="0.3">A</text>
<text transform="translate(376.27 462.40) scale(0.8 1)" font-size="8.9" text-anchor="middle" font-weight="bold" fill="#111" stroke="#111" stroke-width="0.3">C</text>
<text transform="translate(383.10 462.40) scale(0.8 1)" font-size="8.9" text-anchor="middle" font-weight="bold" fill="#111" stroke="#111" stroke-width="0.3">T</text>
<text transform="translate(389.94 462.40) scale(0.8 1)" font-size="8.9" text-anchor="middle" font-weight="bold" fill="#111" stroke="#111" stroke-width="0.3">A</text>
<text transform="translate(396.77 462.40) scale(0.8 1)" font-size="8.9" text-anchor="middle" font-weight="bold" fill="#111" stroke="#111" stroke-width="0.3">A</text>
<text transform="translate(403.61 462.40) scale(0.8 1)" font-size="8.9" text-anchor="middle" font-weight="bold" fill="#111" stroke="#111" stroke-width="0.3">A</text>
<text transform="translate(410.44 462.40) scale(0.8 1)" font-size="8.9" text-anchor="middle" font-weight="bold" fill="#111" stroke="#111" stroke-width="0.3">G</text>
<text transform="translate(417.28 462.40) scale(0.8 1)" font-size="8.9" text-anchor="middle" font-weight="bold" fill="#111" stroke="#111" stroke-width="0.3">A</text>
<text transform="translate(424.11 462.40) scale(0.8 1)" font-size="8.9" text-anchor="middle" font-weight="bold" fill="#111" stroke="#111" stroke-width="0.3">T</text>
<text transform="translate(430.95 462.40) scale(0.8 1)" font-size="8.9" text-anchor="middle" font-weight="bold" fill="#111" stroke="#111" stroke-width="0.3">C</text>
<text transform="translate(437.78 462.40) scale(0.8 1)" font-size="8.9" text-anchor="middle" font-weight="bold" fill="#111" stroke="#111" stroke-width="0.3">C</text>
<text transform="translate(451.45 462.40) scale(0.8 1)" font-size="8.9" text-anchor="middle" font-weight="bold" fill="#111" stroke="#111" stroke-width="0.3">A</text>
<text transform="translate(458.29 462.40) scale(0.8 1)" font-size="8.9" text-anchor="middle" font-weight="bold" fill="#111" stroke="#111" stroke-width="0.3">A</text>
<text transform="translate(465.12 462.40) scale(0.8 1)" font-size="8.9" text-anchor="middle" font-weight="bold" fill="#111" stroke="#111" stroke-width="0.3">A</text>
<text transform="translate(471.96 462.40) scale(0.8 1)" font-size="8.9" text-anchor="middle" font-weight="bold" fill="#111" stroke="#111" stroke-width="0.3">T</text>
<text transform="translate(478.79 462.40) scale(0.8 1)" font-size="8.9" text-anchor="middle" font-weight="bold" fill="#111" stroke="#111" stroke-width="0.3">G</text>
<text transform="translate(485.63 462.40) scale(0.8 1)" font-size="8.9" text-anchor="middle" font-weight="bold" fill="#111" stroke="#111" stroke-width="0.3">G</text>
<text transform="translate(492.46 462.40) scale(0.8 1)" font-size="8.9" text-anchor="middle" font-weight="bold" fill="#111" stroke="#111" stroke-width="0.3">A</text>
<text transform="translate(499.30 462.40) scale(0.8 1)" font-size="8.9" text-anchor="middle" font-weight="bold" fill="#111" stroke="#111" stroke-width="0.3">A</text>
<text transform="translate(506.13 462.40) scale(0.8 1)" font-size="8.9" text-anchor="middle" font-weight="bold" fill="#111" stroke="#111" stroke-width="0.3">A</text>
<text transform="translate(512.97 462.40) scale(0.8 1)" font-size="8.9" text-anchor="middle" font-weight="bold" fill="#111" stroke="#111" stroke-width="0.3">G</text>
<text transform="translate(519.80 462.40) scale(0.8 1)" font-size="8.9" text-anchor="middle" font-weight="bold" fill="#111" stroke="#111" stroke-width="0.3">A</text>
<line x1="358.60" y1="468.10" x2="523.00" y2="468.10" stroke="#c9c7c2" stroke-width="1.2"/>
<rect x="440.32" y="474.10" width="8.60" height="11.60" fill="#f09496" stroke="#dc3b42" stroke-width="0.8"/>
<text transform="translate(362.60 483.30) scale(0.84 1)" font-size="9.5" text-anchor="middle" fill="#222" stroke="#222" stroke-width="0.15">G</text>
<text transform="translate(369.43 483.30) scale(0.84 1)" font-size="9.5" text-anchor="middle" fill="#222" stroke="#222" stroke-width="0.15">A</text>
<text transform="translate(376.27 483.30) scale(0.84 1)" font-size="9.5" text-anchor="middle" fill="#222" stroke="#222" stroke-width="0.15">C</text>
<text transform="translate(383.10 483.30) scale(0.84 1)" font-size="9.5" text-anchor="middle" fill="#222" stroke="#222" stroke-width="0.15">T</text>
<text transform="translate(389.94 483.30) scale(0.84 1)" font-size="9.5" text-anchor="middle" fill="#222" stroke="#222" stroke-width="0.15">A</text>
<text transform="translate(396.77 483.30) scale(0.84 1)" font-size="9.5" text-anchor="middle" fill="#222" stroke="#222" stroke-width="0.15">A</text>
<text transform="translate(403.61 483.30) scale(0.84 1)" font-size="9.5" text-anchor="middle" fill="#222" stroke="#222" stroke-width="0.15">A</text>
<text transform="translate(410.44 483.30) scale(0.84 1)" font-size="9.5" text-anchor="middle" fill="#222" stroke="#222" stroke-width="0.15">G</text>
<text transform="translate(417.28 483.30) scale(0.84 1)" font-size="9.5" text-anchor="middle" fill="#222" stroke="#222" stroke-width="0.15">A</text>
<text transform="translate(424.11 483.30) scale(0.84 1)" font-size="9.5" text-anchor="middle" fill="#222" stroke="#222" stroke-width="0.15">T</text>
<text transform="translate(430.95 483.30) scale(0.84 1)" font-size="9.5" text-anchor="middle" fill="#222" stroke="#222" stroke-width="0.15">C</text>
<text transform="translate(437.78 483.30) scale(0.84 1)" font-size="9.5" text-anchor="middle" fill="#222" stroke="#222" stroke-width="0.15">C</text>
<text transform="translate(444.62 483.30) scale(0.84 1)" font-size="9.5" text-anchor="middle" fill="#222" stroke="#222" stroke-width="0.15">C</text>
<text transform="translate(451.45 483.30) scale(0.84 1)" font-size="9.5" text-anchor="middle" fill="#222" stroke="#222" stroke-width="0.15">A</text>
<text transform="translate(458.29 483.30) scale(0.84 1)" font-size="9.5" text-anchor="middle" fill="#222" stroke="#222" stroke-width="0.15">A</text>
<text transform="translate(465.12 483.30) scale(0.84 1)" font-size="9.5" text-anchor="middle" fill="#222" stroke="#222" stroke-width="0.15">A</text>
<text transform="translate(471.96 483.30) scale(0.84 1)" font-size="9.5" text-anchor="middle" fill="#222" stroke="#222" stroke-width="0.15">T</text>
<text transform="translate(478.79 483.30) scale(0.84 1)" font-size="9.5" text-anchor="middle" fill="#222" stroke="#222" stroke-width="0.15">G</text>
<text transform="translate(485.63 483.30) scale(0.84 1)" font-size="9.5" text-anchor="middle" fill="#222" stroke="#222" stroke-width="0.15">G</text>
<text transform="translate(492.46 483.30) scale(0.84 1)" font-size="9.5" text-anchor="middle" fill="#222" stroke="#222" stroke-width="0.15">A</text>
<text transform="translate(499.30 483.30) scale(0.84 1)" font-size="9.5" text-anchor="middle" fill="#222" stroke="#222" stroke-width="0.15">A</text>
<text transform="translate(506.13 483.30) scale(0.84 1)" font-size="9.5" text-anchor="middle" fill="#222" stroke="#222" stroke-width="0.15">A</text>
<text transform="translate(512.97 483.30) scale(0.84 1)" font-size="9.5" text-anchor="middle" fill="#222" stroke="#222" stroke-width="0.15">G</text>
<text transform="translate(519.80 483.30) scale(0.84 1)" font-size="9.5" text-anchor="middle" fill="#222" stroke="#222" stroke-width="0.15">A</text>
<line x1="381.40" y1="487.00" x2="381.40" y2="554.80" stroke="#b5b3ae" stroke-width="0.8" stroke-dasharray="2.4,1.8"/>
<line x1="457.20" y1="487.00" x2="457.20" y2="554.80" stroke="#b5b3ae" stroke-width="0.8" stroke-dasharray="2.4,1.8"/>
<polygon points="359.1,554.8 359.1,554.8 359.7,554.8 360.3,554.8 360.9,554.8 361.5,554.8 362.1,554.8 362.7,554.8 363.3,554.8 363.9,554.8 364.5,554.7 365.1,554.4 365.7,553.9 366.3,552.7 366.9,550.5 367.5,547.0 368.1,542.2 368.7,536.5 369.3,531.1 369.9,527.3 370.5,526.2 371.1,528.3 371.7,532.8 372.3,538.4 372.9,543.9 373.5,548.3 374.1,551.3 374.7,553.2 375.3,554.1 375.9,554.5 376.5,554.7 377.1,554.8 377.7,554.8 378.3,554.8 378.9,554.8 379.5,554.8 380.1,554.8 380.7,554.8 381.3,554.8 381.9,554.8 382.5,554.8 383.1,554.8 383.7,554.7 384.3,554.5 384.9,554.0 385.5,553.0 386.1,551.1 386.7,547.8 387.3,543.0 387.9,537.0 388.5,530.9 389.1,526.1 389.7,523.8 390.3,524.9 390.9,528.9 391.5,534.4 392.1,539.9 392.7,543.8 393.3,545.6 393.9,545.1 394.5,543.1 395.1,540.6 395.7,538.7 396.3,538.2 396.9,539.3 397.5,541.8 398.1,544.9 398.7,547.5 399.3,548.9 399.9,548.7 400.5,546.8 401.1,543.6 401.7,539.9 402.3,536.6 402.9,534.9 403.5,535.3 404.1,537.7 404.7,541.3 405.3,545.3 405.9,548.8 406.5,551.4 407.1,553.1 407.7,554.0 408.3,554.5 408.9,554.7 409.5,554.8 410.1,554.8 410.7,554.7 411.3,554.6 411.9,554.2 412.5,553.3 413.1,551.5 413.7,548.1 414.3,542.6 414.9,535.1 415.5,526.3 416.1,517.9 416.7,512.0 417.3,510.4 417.9,513.5 418.5,520.5 419.1,529.3 419.7,537.8 420.3,544.7 420.9,549.4 421.5,552.2 422.1,553.7 422.7,554.4 423.3,554.7 423.9,554.8 424.5,554.8 425.1,554.8 425.7,554.8 426.3,554.8 426.9,554.8 427.5,554.8 428.1,554.8 428.7,554.8 429.3,554.8 429.9,554.8 430.5,554.8 431.1,554.8 431.7,554.8 432.3,554.8 432.9,554.8 433.5,554.8 434.1,554.8 434.7,554.8 435.3,554.8 435.9,554.8 436.5,554.8 437.1,554.8 437.7,554.8 438.3,554.8 438.9,554.8 439.5,554.8 440.1,554.8 440.7,554.8 441.3,554.8 441.9,554.8 442.5,554.8 443.1,554.8 443.7,554.8 444.3,554.7 444.9,554.6 445.5,554.3 446.1,553.6 446.7,552.3 447.3,550.2 447.9,547.0 448.5,543.1 449.1,539.1 449.7,535.9 450.3,534.4 450.9,535.1 451.5,537.6 452.1,541.1 452.7,544.3 453.3,546.2 453.9,546.3 454.5,544.4 455.1,541.3 455.7,537.9 456.3,535.5 456.9,534.8 457.5,536.2 458.1,539.3 458.7,543.0 459.3,546.3 459.9,548.2 460.5,548.4 461.1,546.5 461.7,542.9 462.3,538.4 462.9,534.2 463.5,531.4 464.1,530.9 464.7,533.1 465.3,537.1 465.9,541.9 466.5,546.3 467.1,549.9 467.7,552.2 468.3,553.6 468.9,554.3 469.5,554.6 470.1,554.7 470.7,554.8 471.3,554.8 471.9,554.8 472.5,554.8 473.1,554.8 473.7,554.8 474.3,554.8 474.9,554.8 475.5,554.8 476.1,554.8 476.7,554.8 477.3,554.8 477.9,554.8 478.5,554.8 479.1,554.8 479.7,554.8 480.3,554.8 480.9,554.8 481.5,554.8 482.1,554.8 482.7,554.8 483.3,554.8 483.9,554.8 484.5,554.8 485.1,554.8 485.7,554.8 486.3,554.8 486.9,554.7 487.5,554.5 488.1,554.1 488.7,553.3 489.3,551.6 489.9,548.7 490.5,544.6 491.1,539.4 491.7,534.2 492.3,529.9 492.9,528.0 493.5,528.9 494.1,532.4 494.7,537.1 495.3,541.7 495.9,544.7 496.5,545.5 497.1,543.8 497.7,540.2 498.3,535.6 498.9,531.6 499.5,529.4 500.1,529.8 500.7,532.7 501.3,536.9 501.9,541.0 502.5,543.7 503.1,544.2 503.7,542.2 504.3,538.4 504.9,534.0 505.5,530.5 506.1,529.3 506.7,530.7 507.3,534.4 507.9,539.3 508.5,544.3 509.1,548.4 509.7,551.3 510.3,553.1 510.9,554.1 511.5,554.5 512.1,554.7 512.7,554.8 513.3,554.7 513.9,554.6 514.5,554.3 515.1,553.6 515.7,552.1 516.3,549.3 516.9,544.6 517.5,537.9 518.1,529.9 518.7,522.0 519.3,516.0 519.9,513.8 520.5,516.0 521.1,522.0 521.7,529.9 522.3,537.9 522.3,554.8" fill="rgba(63,174,73,0.17)"/>
<polyline points="359.1,554.8 359.7,554.8 360.3,554.8 360.9,554.8 361.5,554.8 362.1,554.8 362.7,554.8 363.3,554.8 363.9,554.8 364.5,554.7 365.1,554.4 365.7,553.9 366.3,552.7 366.9,550.5 367.5,547.0 368.1,542.2 368.7,536.5 369.3,531.1 369.9,527.3 370.5,526.2 371.1,528.3 371.7,532.8 372.3,538.4 372.9,543.9 373.5,548.3 374.1,551.3 374.7,553.2 375.3,554.1 375.9,554.5 376.5,554.7 377.1,554.8 377.7,554.8 378.3,554.8 378.9,554.8 379.5,554.8 380.1,554.8 380.7,554.8 381.3,554.8 381.9,554.8 382.5,554.8 383.1,554.8 383.7,554.7 384.3,554.5 384.9,554.0 385.5,553.0 386.1,551.1 386.7,547.8 387.3,543.0 387.9,537.0 388.5,530.9 389.1,526.1 389.7,523.8 390.3,524.9 390.9,528.9 391.5,534.4 392.1,539.9 392.7,543.8 393.3,545.6 393.9,545.1 394.5,543.1 395.1,540.6 395.7,538.7 396.3,538.2 396.9,539.3 397.5,541.8 398.1,544.9 398.7,547.5 399.3,548.9 399.9,548.7 400.5,546.8 401.1,543.6 401.7,539.9 402.3,536.6 402.9,534.9 403.5,535.3 404.1,537.7 404.7,541.3 405.3,545.3 405.9,548.8 406.5,551.4 407.1,553.1 407.7,554.0 408.3,554.5 408.9,554.7 409.5,554.8 410.1,554.8 410.7,554.7 411.3,554.6 411.9,554.2 412.5,553.3 413.1,551.5 413.7,548.1 414.3,542.6 414.9,535.1 415.5,526.3 416.1,517.9 416.7,512.0 417.3,510.4 417.9,513.5 418.5,520.5 419.1,529.3 419.7,537.8 420.3,544.7 420.9,549.4 421.5,552.2 422.1,553.7 422.7,554.4 423.3,554.7 423.9,554.8 424.5,554.8 425.1,554.8 425.7,554.8 426.3,554.8 426.9,554.8 427.5,554.8 428.1,554.8 428.7,554.8 429.3,554.8 429.9,554.8 430.5,554.8 431.1,554.8 431.7,554.8 432.3,554.8 432.9,554.8 433.5,554.8 434.1,554.8 434.7,554.8 435.3,554.8 435.9,554.8 436.5,554.8 437.1,554.8 437.7,554.8 438.3,554.8 438.9,554.8 439.5,554.8 440.1,554.8 440.7,554.8 441.3,554.8 441.9,554.8 442.5,554.8 443.1,554.8 443.7,554.8 444.3,554.7 444.9,554.6 445.5,554.3 446.1,553.6 446.7,552.3 447.3,550.2 447.9,547.0 448.5,543.1 449.1,539.1 449.7,535.9 450.3,534.4 450.9,535.1 451.5,537.6 452.1,541.1 452.7,544.3 453.3,546.2 453.9,546.3 454.5,544.4 455.1,541.3 455.7,537.9 456.3,535.5 456.9,534.8 457.5,536.2 458.1,539.3 458.7,543.0 459.3,546.3 459.9,548.2 460.5,548.4 461.1,546.5 461.7,542.9 462.3,538.4 462.9,534.2 463.5,531.4 464.1,530.9 464.7,533.1 465.3,537.1 465.9,541.9 466.5,546.3 467.1,549.9 467.7,552.2 468.3,553.6 468.9,554.3 469.5,554.6 470.1,554.7 470.7,554.8 471.3,554.8 471.9,554.8 472.5,554.8 473.1,554.8 473.7,554.8 474.3,554.8 474.9,554.8 475.5,554.8 476.1,554.8 476.7,554.8 477.3,554.8 477.9,554.8 478.5,554.8 479.1,554.8 479.7,554.8 480.3,554.8 480.9,554.8 481.5,554.8 482.1,554.8 482.7,554.8 483.3,554.8 483.9,554.8 484.5,554.8 485.1,554.8 485.7,554.8 486.3,554.8 486.9,554.7 487.5,554.5 488.1,554.1 488.7,553.3 489.3,551.6 489.9,548.7 490.5,544.6 491.1,539.4 491.7,534.2 492.3,529.9 492.9,528.0 493.5,528.9 494.1,532.4 494.7,537.1 495.3,541.7 495.9,544.7 496.5,545.5 497.1,543.8 497.7,540.2 498.3,535.6 498.9,531.6 499.5,529.4 500.1,529.8 500.7,532.7 501.3,536.9 501.9,541.0 502.5,543.7 503.1,544.2 503.7,542.2 504.3,538.4 504.9,534.0 505.5,530.5 506.1,529.3 506.7,530.7 507.3,534.4 507.9,539.3 508.5,544.3 509.1,548.4 509.7,551.3 510.3,553.1 510.9,554.1 511.5,554.5 512.1,554.7 512.7,554.8 513.3,554.7 513.9,554.6 514.5,554.3 515.1,553.6 515.7,552.1 516.3,549.3 516.9,544.6 517.5,537.9 518.1,529.9 518.7,522.0 519.3,516.0 519.9,513.8 520.5,516.0 521.1,522.0 521.7,529.9 522.3,537.9" fill="none" stroke="#3fae49" stroke-width="1.25" stroke-linejoin="round"/>
<polygon points="359.1,554.8 359.1,551.4 359.7,548.2 360.3,543.3 360.9,536.8 361.5,529.7 362.1,523.5 362.7,519.8 363.3,519.8 363.9,523.5 364.5,529.7 365.1,536.8 365.7,543.3 366.3,548.2 366.9,551.4 367.5,553.2 368.1,554.2 368.7,554.6 369.3,554.7 369.9,554.8 370.5,554.8 371.1,554.8 371.7,554.8 372.3,554.8 372.9,554.8 373.5,554.8 374.1,554.8 374.7,554.8 375.3,554.8 375.9,554.8 376.5,554.8 377.1,554.8 377.7,554.8 378.3,554.8 378.9,554.8 379.5,554.8 380.1,554.8 380.7,554.8 381.3,554.8 381.9,554.8 382.5,554.8 383.1,554.8 383.7,554.8 384.3,554.8 384.9,554.8 385.5,554.8 386.1,554.8 386.7,554.8 387.3,554.8 387.9,554.8 388.5,554.8 389.1,554.8 389.7,554.8 390.3,554.8 390.9,554.8 391.5,554.8 392.1,554.8 392.7,554.8 393.3,554.8 393.9,554.8 394.5,554.8 395.1,554.8 395.7,554.8 396.3,554.8 396.9,554.8 397.5,554.8 398.1,554.8 398.7,554.8 399.3,554.8 399.9,554.8 400.5,554.8 401.1,554.8 401.7,554.8 402.3,554.8 402.9,554.8 403.5,554.8 404.1,554.7 404.7,554.6 405.3,554.3 405.9,553.6 406.5,552.2 407.1,549.9 407.7,546.3 408.3,541.9 408.9,537.1 409.5,533.1 410.1,530.9 410.7,531.4 411.3,534.2 411.9,538.6 412.5,543.4 413.1,547.6 413.7,550.8 414.3,552.8 414.9,553.9 415.5,554.4 416.1,554.7 416.7,554.8 417.3,554.8 417.9,554.8 418.5,554.8 419.1,554.8 419.7,554.8 420.3,554.8 420.9,554.8 421.5,554.8 422.1,554.8 422.7,554.8 423.3,554.8 423.9,554.8 424.5,554.8 425.1,554.8 425.7,554.8 426.3,554.8 426.9,554.8 427.5,554.8 428.1,554.8 428.7,554.8 429.3,554.8 429.9,554.8 430.5,554.8 431.1,554.8 431.7,554.8 432.3,554.8 432.9,554.8 433.5,554.8 434.1,554.8 434.7,554.8 435.3,554.8 435.9,554.8 436.5,554.8 437.1,554.8 437.7,554.8 438.3,554.8 438.9,554.8 439.5,554.8 440.1,554.8 440.7,554.8 441.3,554.8 441.9,554.8 442.5,554.8 443.1,554.8 443.7,554.8 444.3,554.8 444.9,554.8 445.5,554.8 446.1,554.8 446.7,554.8 447.3,554.8 447.9,554.8 448.5,554.8 449.1,554.8 449.7,554.8 450.3,554.8 450.9,554.8 451.5,554.8 452.1,554.8 452.7,554.8 453.3,554.8 453.9,554.8 454.5,554.8 455.1,554.8 455.7,554.8 456.3,554.8 456.9,554.8 457.5,554.8 458.1,554.8 458.7,554.8 459.3,554.8 459.9,554.8 460.5,554.8 461.1,554.8 461.7,554.8 462.3,554.8 462.9,554.8 463.5,554.8 464.1,554.8 464.7,554.8 465.3,554.8 465.9,554.8 466.5,554.8 467.1,554.8 467.7,554.8 468.3,554.8 468.9,554.8 469.5,554.8 470.1,554.8 470.7,554.8 471.3,554.7 471.9,554.6 472.5,554.2 473.1,553.2 473.7,551.0 474.3,546.9 474.9,539.9 475.5,529.8 476.1,517.2 476.7,504.2 477.3,493.9 477.9,489.2 478.5,491.6 479.1,500.3 479.7,512.6 480.3,525.5 480.9,536.1 481.5,543.3 482.1,546.7 482.7,547.1 483.3,545.3 483.9,542.5 484.5,539.7 485.1,538.0 485.7,538.0 486.3,539.8 486.9,542.8 487.5,546.2 488.1,549.3 488.7,551.6 489.3,553.2 489.9,554.1 490.5,554.5 491.1,554.7 491.7,554.8 492.3,554.8 492.9,554.8 493.5,554.8 494.1,554.8 494.7,554.8 495.3,554.8 495.9,554.8 496.5,554.8 497.1,554.8 497.7,554.8 498.3,554.8 498.9,554.8 499.5,554.8 500.1,554.8 500.7,554.8 501.3,554.8 501.9,554.8 502.5,554.8 503.1,554.8 503.7,554.8 504.3,554.8 504.9,554.8 505.5,554.8 506.1,554.8 506.7,554.8 507.3,554.7 507.9,554.4 508.5,553.9 509.1,552.8 509.7,550.9 510.3,548.0 510.9,544.2 511.5,540.0 512.1,536.3 512.7,534.1 513.3,534.1 513.9,536.3 514.5,540.0 515.1,544.2 515.7,548.0 516.3,550.9 516.9,552.8 517.5,553.9 518.1,554.4 518.7,554.7 519.3,554.8 519.9,554.8 520.5,554.8 521.1,554.8 521.7,554.8 522.3,554.8 522.3,554.8" fill="rgba(40,40,40,0.17)"/>
<polyline points="359.1,551.4 359.7,548.2 360.3,543.3 360.9,536.8 361.5,529.7 362.1,523.5 362.7,519.8 363.3,519.8 363.9,523.5 364.5,529.7 365.1,536.8 365.7,543.3 366.3,548.2 366.9,551.4 367.5,553.2 368.1,554.2 368.7,554.6 369.3,554.7 369.9,554.8 370.5,554.8 371.1,554.8 371.7,554.8 372.3,554.8 372.9,554.8 373.5,554.8 374.1,554.8 374.7,554.8 375.3,554.8 375.9,554.8 376.5,554.8 377.1,554.8 377.7,554.8 378.3,554.8 378.9,554.8 379.5,554.8 380.1,554.8 380.7,554.8 381.3,554.8 381.9,554.8 382.5,554.8 383.1,554.8 383.7,554.8 384.3,554.8 384.9,554.8 385.5,554.8 386.1,554.8 386.7,554.8 387.3,554.8 387.9,554.8 388.5,554.8 389.1,554.8 389.7,554.8 390.3,554.8 390.9,554.8 391.5,554.8 392.1,554.8 392.7,554.8 393.3,554.8 393.9,554.8 394.5,554.8 395.1,554.8 395.7,554.8 396.3,554.8 396.9,554.8 397.5,554.8 398.1,554.8 398.7,554.8 399.3,554.8 399.9,554.8 400.5,554.8 401.1,554.8 401.7,554.8 402.3,554.8 402.9,554.8 403.5,554.8 404.1,554.7 404.7,554.6 405.3,554.3 405.9,553.6 406.5,552.2 407.1,549.9 407.7,546.3 408.3,541.9 408.9,537.1 409.5,533.1 410.1,530.9 410.7,531.4 411.3,534.2 411.9,538.6 412.5,543.4 413.1,547.6 413.7,550.8 414.3,552.8 414.9,553.9 415.5,554.4 416.1,554.7 416.7,554.8 417.3,554.8 417.9,554.8 418.5,554.8 419.1,554.8 419.7,554.8 420.3,554.8 420.9,554.8 421.5,554.8 422.1,554.8 422.7,554.8 423.3,554.8 423.9,554.8 424.5,554.8 425.1,554.8 425.7,554.8 426.3,554.8 426.9,554.8 427.5,554.8 428.1,554.8 428.7,554.8 429.3,554.8 429.9,554.8 430.5,554.8 431.1,554.8 431.7,554.8 432.3,554.8 432.9,554.8 433.5,554.8 434.1,554.8 434.7,554.8 435.3,554.8 435.9,554.8 436.5,554.8 437.1,554.8 437.7,554.8 438.3,554.8 438.9,554.8 439.5,554.8 440.1,554.8 440.7,554.8 441.3,554.8 441.9,554.8 442.5,554.8 443.1,554.8 443.7,554.8 444.3,554.8 444.9,554.8 445.5,554.8 446.1,554.8 446.7,554.8 447.3,554.8 447.9,554.8 448.5,554.8 449.1,554.8 449.7,554.8 450.3,554.8 450.9,554.8 451.5,554.8 452.1,554.8 452.7,554.8 453.3,554.8 453.9,554.8 454.5,554.8 455.1,554.8 455.7,554.8 456.3,554.8 456.9,554.8 457.5,554.8 458.1,554.8 458.7,554.8 459.3,554.8 459.9,554.8 460.5,554.8 461.1,554.8 461.7,554.8 462.3,554.8 462.9,554.8 463.5,554.8 464.1,554.8 464.7,554.8 465.3,554.8 465.9,554.8 466.5,554.8 467.1,554.8 467.7,554.8 468.3,554.8 468.9,554.8 469.5,554.8 470.1,554.8 470.7,554.8 471.3,554.7 471.9,554.6 472.5,554.2 473.1,553.2 473.7,551.0 474.3,546.9 474.9,539.9 475.5,529.8 476.1,517.2 476.7,504.2 477.3,493.9 477.9,489.2 478.5,491.6 479.1,500.3 479.7,512.6 480.3,525.5 480.9,536.1 481.5,543.3 482.1,546.7 482.7,547.1 483.3,545.3 483.9,542.5 484.5,539.7 485.1,538.0 485.7,538.0 486.3,539.8 486.9,542.8 487.5,546.2 488.1,549.3 488.7,551.6 489.3,553.2 489.9,554.1 490.5,554.5 491.1,554.7 491.7,554.8 492.3,554.8 492.9,554.8 493.5,554.8 494.1,554.8 494.7,554.8 495.3,554.8 495.9,554.8 496.5,554.8 497.1,554.8 497.7,554.8 498.3,554.8 498.9,554.8 499.5,554.8 500.1,554.8 500.7,554.8 501.3,554.8 501.9,554.8 502.5,554.8 503.1,554.8 503.7,554.8 504.3,554.8 504.9,554.8 505.5,554.8 506.1,554.8 506.7,554.8 507.3,554.7 507.9,554.4 508.5,553.9 509.1,552.8 509.7,550.9 510.3,548.0 510.9,544.2 511.5,540.0 512.1,536.3 512.7,534.1 513.3,534.1 513.9,536.3 514.5,540.0 515.1,544.2 515.7,548.0 516.3,550.9 516.9,552.8 517.5,553.9 518.1,554.4 518.7,554.7 519.3,554.8 519.9,554.8 520.5,554.8 521.1,554.8 521.7,554.8 522.3,554.8" fill="none" stroke="#1a1a1a" stroke-width="1.25" stroke-linejoin="round"/>
<polygon points="359.1,554.8 359.1,554.8 359.7,554.8 360.3,554.8 360.9,554.8 361.5,554.8 362.1,554.8 362.7,554.8 363.3,554.8 363.9,554.8 364.5,554.8 365.1,554.8 365.7,554.8 366.3,554.8 366.9,554.8 367.5,554.8 368.1,554.8 368.7,554.8 369.3,554.8 369.9,554.8 370.5,554.7 371.1,554.6 371.7,554.3 372.3,553.6 372.9,552.1 373.5,549.6 374.1,545.7 374.7,540.6 375.3,535.0 375.9,530.1 376.5,527.2 377.1,527.2 377.7,530.1 378.3,535.0 378.9,540.6 379.5,545.7 380.1,549.6 380.7,552.1 381.3,553.6 381.9,554.3 382.5,554.6 383.1,554.7 383.7,554.8 384.3,554.8 384.9,554.8 385.5,554.8 386.1,554.8 386.7,554.8 387.3,554.8 387.9,554.8 388.5,554.8 389.1,554.8 389.7,554.8 390.3,554.8 390.9,554.8 391.5,554.8 392.1,554.8 392.7,554.8 393.3,554.8 393.9,554.8 394.5,554.8 395.1,554.8 395.7,554.8 396.3,554.8 396.9,554.8 397.5,554.8 398.1,554.8 398.7,554.8 399.3,554.8 399.9,554.8 400.5,554.8 401.1,554.8 401.7,554.8 402.3,554.8 402.9,554.8 403.5,554.8 404.1,554.8 404.7,554.8 405.3,554.8 405.9,554.8 406.5,554.8 407.1,554.8 407.7,554.8 408.3,554.8 408.9,554.8 409.5,554.8 410.1,554.8 410.7,554.8 411.3,554.8 411.9,554.8 412.5,554.8 413.1,554.8 413.7,554.8 414.3,554.8 414.9,554.8 415.5,554.8 416.1,554.8 416.7,554.8 417.3,554.8 417.9,554.8 418.5,554.8 419.1,554.8 419.7,554.8 420.3,554.8 420.9,554.8 421.5,554.8 422.1,554.8 422.7,554.8 423.3,554.8 423.9,554.8 424.5,554.7 425.1,554.4 425.7,553.9 426.3,552.7 426.9,550.5 427.5,547.0 428.1,542.2 428.7,536.5 429.3,531.1 429.9,527.3 430.5,526.2 431.1,528.2 431.7,532.6 432.3,538.0 432.9,542.9 433.5,546.0 434.1,546.7 434.7,544.7 435.3,540.4 435.9,534.7 436.5,529.0 437.1,524.9 437.7,523.8 438.3,526.0 438.9,530.6 439.5,536.3 440.1,541.3 440.7,544.1 441.3,544.1 441.9,541.0 442.5,535.7 443.1,529.4 443.7,523.9 444.3,521.0 444.9,521.6 445.5,525.7 446.1,531.9 446.7,538.7 447.3,544.7 447.9,549.1 448.5,551.9 449.1,553.5 449.7,554.3 450.3,554.6 450.9,554.7 451.5,554.8 452.1,554.8 452.7,554.8 453.3,554.8 453.9,554.8 454.5,554.8 455.1,554.8 455.7,554.8 456.3,554.8 456.9,554.8 457.5,554.8 458.1,554.8 458.7,554.8 459.3,554.8 459.9,554.8 460.5,554.8 461.1,554.8 461.7,554.8 462.3,554.8 462.9,554.8 463.5,554.8 464.1,554.8 464.7,554.8 465.3,554.8 465.9,554.8 466.5,554.8 467.1,554.8 467.7,554.8 468.3,554.8 468.9,554.8 469.5,554.8 470.1,554.8 470.7,554.8 471.3,554.8 471.9,554.8 472.5,554.8 473.1,554.8 473.7,554.8 474.3,554.8 474.9,554.8 475.5,554.8 476.1,554.8 476.7,554.8 477.3,554.8 477.9,554.8 478.5,554.8 479.1,554.8 479.7,554.8 480.3,554.8 480.9,554.8 481.5,554.8 482.1,554.8 482.7,554.8 483.3,554.8 483.9,554.8 484.5,554.8 485.1,554.8 485.7,554.8 486.3,554.8 486.9,554.8 487.5,554.8 488.1,554.8 488.7,554.8 489.3,554.8 489.9,554.8 490.5,554.8 491.1,554.8 491.7,554.8 492.3,554.8 492.9,554.8 493.5,554.8 494.1,554.8 494.7,554.8 495.3,554.8 495.9,554.8 496.5,554.8 497.1,554.8 497.7,554.8 498.3,554.8 498.9,554.8 499.5,554.8 500.1,554.8 500.7,554.8 501.3,554.8 501.9,554.8 502.5,554.8 503.1,554.8 503.7,554.8 504.3,554.8 504.9,554.8 505.5,554.8 506.1,554.8 506.7,554.8 507.3,554.8 507.9,554.8 508.5,554.8 509.1,554.8 509.7,554.8 510.3,554.8 510.9,554.8 511.5,554.8 512.1,554.8 512.7,554.8 513.3,554.8 513.9,554.8 514.5,554.8 515.1,554.8 515.7,554.8 516.3,554.8 516.9,554.8 517.5,554.8 518.1,554.8 518.7,554.8 519.3,554.8 519.9,554.8 520.5,554.8 521.1,554.8 521.7,554.8 522.3,554.8 522.3,554.8" fill="rgba(47,111,201,0.17)"/>
<polyline points="359.1,554.8 359.7,554.8 360.3,554.8 360.9,554.8 361.5,554.8 362.1,554.8 362.7,554.8 363.3,554.8 363.9,554.8 364.5,554.8 365.1,554.8 365.7,554.8 366.3,554.8 366.9,554.8 367.5,554.8 368.1,554.8 368.7,554.8 369.3,554.8 369.9,554.8 370.5,554.7 371.1,554.6 371.7,554.3 372.3,553.6 372.9,552.1 373.5,549.6 374.1,545.7 374.7,540.6 375.3,535.0 375.9,530.1 376.5,527.2 377.1,527.2 377.7,530.1 378.3,535.0 378.9,540.6 379.5,545.7 380.1,549.6 380.7,552.1 381.3,553.6 381.9,554.3 382.5,554.6 383.1,554.7 383.7,554.8 384.3,554.8 384.9,554.8 385.5,554.8 386.1,554.8 386.7,554.8 387.3,554.8 387.9,554.8 388.5,554.8 389.1,554.8 389.7,554.8 390.3,554.8 390.9,554.8 391.5,554.8 392.1,554.8 392.7,554.8 393.3,554.8 393.9,554.8 394.5,554.8 395.1,554.8 395.7,554.8 396.3,554.8 396.9,554.8 397.5,554.8 398.1,554.8 398.7,554.8 399.3,554.8 399.9,554.8 400.5,554.8 401.1,554.8 401.7,554.8 402.3,554.8 402.9,554.8 403.5,554.8 404.1,554.8 404.7,554.8 405.3,554.8 405.9,554.8 406.5,554.8 407.1,554.8 407.7,554.8 408.3,554.8 408.9,554.8 409.5,554.8 410.1,554.8 410.7,554.8 411.3,554.8 411.9,554.8 412.5,554.8 413.1,554.8 413.7,554.8 414.3,554.8 414.9,554.8 415.5,554.8 416.1,554.8 416.7,554.8 417.3,554.8 417.9,554.8 418.5,554.8 419.1,554.8 419.7,554.8 420.3,554.8 420.9,554.8 421.5,554.8 422.1,554.8 422.7,554.8 423.3,554.8 423.9,554.8 424.5,554.7 425.1,554.4 425.7,553.9 426.3,552.7 426.9,550.5 427.5,547.0 428.1,542.2 428.7,536.5 429.3,531.1 429.9,527.3 430.5,526.2 431.1,528.2 431.7,532.6 432.3,538.0 432.9,542.9 433.5,546.0 434.1,546.7 434.7,544.7 435.3,540.4 435.9,534.7 436.5,529.0 437.1,524.9 437.7,523.8 438.3,526.0 438.9,530.6 439.5,536.3 440.1,541.3 440.7,544.1 441.3,544.1 441.9,541.0 442.5,535.7 443.1,529.4 443.7,523.9 444.3,521.0 444.9,521.6 445.5,525.7 446.1,531.9 446.7,538.7 447.3,544.7 447.9,549.1 448.5,551.9 449.1,553.5 449.7,554.3 450.3,554.6 450.9,554.7 451.5,554.8 452.1,554.8 452.7,554.8 453.3,554.8 453.9,554.8 454.5,554.8 455.1,554.8 455.7,554.8 456.3,554.8 456.9,554.8 457.5,554.8 458.1,554.8 458.7,554.8 459.3,554.8 459.9,554.8 460.5,554.8 461.1,554.8 461.7,554.8 462.3,554.8 462.9,554.8 463.5,554.8 464.1,554.8 464.7,554.8 465.3,554.8 465.9,554.8 466.5,554.8 467.1,554.8 467.7,554.8 468.3,554.8 468.9,554.8 469.5,554.8 470.1,554.8 470.7,554.8 471.3,554.8 471.9,554.8 472.5,554.8 473.1,554.8 473.7,554.8 474.3,554.8 474.9,554.8 475.5,554.8 476.1,554.8 476.7,554.8 477.3,554.8 477.9,554.8 478.5,554.8 479.1,554.8 479.7,554.8 480.3,554.8 480.9,554.8 481.5,554.8 482.1,554.8 482.7,554.8 483.3,554.8 483.9,554.8 484.5,554.8 485.1,554.8 485.7,554.8 486.3,554.8 486.9,554.8 487.5,554.8 488.1,554.8 488.7,554.8 489.3,554.8 489.9,554.8 490.5,554.8 491.1,554.8 491.7,554.8 492.3,554.8 492.9,554.8 493.5,554.8 494.1,554.8 494.7,554.8 495.3,554.8 495.9,554.8 496.5,554.8 497.1,554.8 497.7,554.8 498.3,554.8 498.9,554.8 499.5,554.8 500.1,554.8 500.7,554.8 501.3,554.8 501.9,554.8 502.5,554.8 503.1,554.8 503.7,554.8 504.3,554.8 504.9,554.8 505.5,554.8 506.1,554.8 506.7,554.8 507.3,554.8 507.9,554.8 508.5,554.8 509.1,554.8 509.7,554.8 510.3,554.8 510.9,554.8 511.5,554.8 512.1,554.8 512.7,554.8 513.3,554.8 513.9,554.8 514.5,554.8 515.1,554.8 515.7,554.8 516.3,554.8 516.9,554.8 517.5,554.8 518.1,554.8 518.7,554.8 519.3,554.8 519.9,554.8 520.5,554.8 521.1,554.8 521.7,554.8 522.3,554.8" fill="none" stroke="#2f6fc9" stroke-width="1.25" stroke-linejoin="round"/>
<polygon points="359.1,554.8 359.1,554.8 359.7,554.8 360.3,554.8 360.9,554.8 361.5,554.8 362.1,554.8 362.7,554.8 363.3,554.8 363.9,554.8 364.5,554.8 365.1,554.8 365.7,554.8 366.3,554.8 366.9,554.8 367.5,554.8 368.1,554.8 368.7,554.8 369.3,554.8 369.9,554.8 370.5,554.8 371.1,554.8 371.7,554.8 372.3,554.8 372.9,554.8 373.5,554.8 374.1,554.8 374.7,554.8 375.3,554.8 375.9,554.8 376.5,554.8 377.1,554.7 377.7,554.6 378.3,554.2 378.9,553.4 379.5,551.8 380.1,549.0 380.7,544.7 381.3,539.1 381.9,532.9 382.5,527.4 383.1,524.2 383.7,524.2 384.3,527.4 384.9,532.9 385.5,539.1 386.1,544.7 386.7,549.0 387.3,551.8 387.9,553.4 388.5,554.2 389.1,554.6 389.7,554.7 390.3,554.8 390.9,554.8 391.5,554.8 392.1,554.8 392.7,554.8 393.3,554.8 393.9,554.8 394.5,554.8 395.1,554.8 395.7,554.8 396.3,554.8 396.9,554.8 397.5,554.8 398.1,554.8 398.7,554.8 399.3,554.8 399.9,554.8 400.5,554.8 401.1,554.8 401.7,554.8 402.3,554.8 402.9,554.8 403.5,554.8 404.1,554.8 404.7,554.8 405.3,554.8 405.9,554.8 406.5,554.8 407.1,554.8 407.7,554.8 408.3,554.8 408.9,554.8 409.5,554.8 410.1,554.8 410.7,554.8 411.3,554.8 411.9,554.8 412.5,554.8 413.1,554.8 413.7,554.8 414.3,554.8 414.9,554.8 415.5,554.8 416.1,554.8 416.7,554.8 417.3,554.7 417.9,554.6 418.5,554.3 419.1,553.6 419.7,552.2 420.3,549.9 420.9,546.3 421.5,541.9 422.1,537.1 422.7,533.1 423.3,530.9 423.9,531.4 424.5,534.2 425.1,538.6 425.7,543.4 426.3,547.6 426.9,550.8 427.5,552.8 428.1,553.9 428.7,554.4 429.3,554.7 429.9,554.8 430.5,554.8 431.1,554.8 431.7,554.8 432.3,554.8 432.9,554.8 433.5,554.8 434.1,554.8 434.7,554.8 435.3,554.8 435.9,554.8 436.5,554.8 437.1,554.8 437.7,554.8 438.3,554.8 438.9,554.8 439.5,554.8 440.1,554.8 440.7,554.8 441.3,554.8 441.9,554.8 442.5,554.8 443.1,554.8 443.7,554.8 444.3,554.8 444.9,554.8 445.5,554.8 446.1,554.8 446.7,554.8 447.3,554.8 447.9,554.8 448.5,554.8 449.1,554.8 449.7,554.8 450.3,554.8 450.9,554.8 451.5,554.8 452.1,554.8 452.7,554.8 453.3,554.8 453.9,554.8 454.5,554.8 455.1,554.8 455.7,554.8 456.3,554.8 456.9,554.8 457.5,554.8 458.1,554.8 458.7,554.8 459.3,554.8 459.9,554.8 460.5,554.8 461.1,554.8 461.7,554.8 462.3,554.8 462.9,554.8 463.5,554.8 464.1,554.8 464.7,554.7 465.3,554.6 465.9,554.2 466.5,553.4 467.1,552.0 467.7,549.5 468.3,545.8 468.9,541.3 469.5,536.7 470.1,533.0 470.7,531.3 471.3,532.2 471.9,535.3 472.5,539.8 473.1,544.4 473.7,548.4 474.3,551.3 474.9,553.0 475.5,554.0 476.1,554.5 476.7,554.7 477.3,554.8 477.9,554.8 478.5,554.8 479.1,554.8 479.7,554.8 480.3,554.8 480.9,554.8 481.5,554.8 482.1,554.8 482.7,554.8 483.3,554.8 483.9,554.8 484.5,554.8 485.1,554.8 485.7,554.8 486.3,554.8 486.9,554.8 487.5,554.8 488.1,554.8 488.7,554.8 489.3,554.8 489.9,554.8 490.5,554.8 491.1,554.8 491.7,554.8 492.3,554.8 492.9,554.8 493.5,554.8 494.1,554.8 494.7,554.8 495.3,554.8 495.9,554.8 496.5,554.8 497.1,554.8 497.7,554.8 498.3,554.8 498.9,554.8 499.5,554.8 500.1,554.8 500.7,554.8 501.3,554.8 501.9,554.8 502.5,554.8 503.1,554.8 503.7,554.8 504.3,554.8 504.9,554.8 505.5,554.8 506.1,554.8 506.7,554.8 507.3,554.8 507.9,554.8 508.5,554.8 509.1,554.8 509.7,554.8 510.3,554.8 510.9,554.8 511.5,554.8 512.1,554.8 512.7,554.8 513.3,554.8 513.9,554.8 514.5,554.8 515.1,554.8 515.7,554.8 516.3,554.8 516.9,554.8 517.5,554.8 518.1,554.8 518.7,554.8 519.3,554.8 519.9,554.8 520.5,554.8 521.1,554.8 521.7,554.8 522.3,554.8 522.3,554.8" fill="rgba(229,51,59,0.17)"/>
<polyline points="359.1,554.8 359.7,554.8 360.3,554.8 360.9,554.8 361.5,554.8 362.1,554.8 362.7,554.8 363.3,554.8 363.9,554.8 364.5,554.8 365.1,554.8 365.7,554.8 366.3,554.8 366.9,554.8 367.5,554.8 368.1,554.8 368.7,554.8 369.3,554.8 369.9,554.8 370.5,554.8 371.1,554.8 371.7,554.8 372.3,554.8 372.9,554.8 373.5,554.8 374.1,554.8 374.7,554.8 375.3,554.8 375.9,554.8 376.5,554.8 377.1,554.7 377.7,554.6 378.3,554.2 378.9,553.4 379.5,551.8 380.1,549.0 380.7,544.7 381.3,539.1 381.9,532.9 382.5,527.4 383.1,524.2 383.7,524.2 384.3,527.4 384.9,532.9 385.5,539.1 386.1,544.7 386.7,549.0 387.3,551.8 387.9,553.4 388.5,554.2 389.1,554.6 389.7,554.7 390.3,554.8 390.9,554.8 391.5,554.8 392.1,554.8 392.7,554.8 393.3,554.8 393.9,554.8 394.5,554.8 395.1,554.8 395.7,554.8 396.3,554.8 396.9,554.8 397.5,554.8 398.1,554.8 398.7,554.8 399.3,554.8 399.9,554.8 400.5,554.8 401.1,554.8 401.7,554.8 402.3,554.8 402.9,554.8 403.5,554.8 404.1,554.8 404.7,554.8 405.3,554.8 405.9,554.8 406.5,554.8 407.1,554.8 407.7,554.8 408.3,554.8 408.9,554.8 409.5,554.8 410.1,554.8 410.7,554.8 411.3,554.8 411.9,554.8 412.5,554.8 413.1,554.8 413.7,554.8 414.3,554.8 414.9,554.8 415.5,554.8 416.1,554.8 416.7,554.8 417.3,554.7 417.9,554.6 418.5,554.3 419.1,553.6 419.7,552.2 420.3,549.9 420.9,546.3 421.5,541.9 422.1,537.1 422.7,533.1 423.3,530.9 423.9,531.4 424.5,534.2 425.1,538.6 425.7,543.4 426.3,547.6 426.9,550.8 427.5,552.8 428.1,553.9 428.7,554.4 429.3,554.7 429.9,554.8 430.5,554.8 431.1,554.8 431.7,554.8 432.3,554.8 432.9,554.8 433.5,554.8 434.1,554.8 434.7,554.8 435.3,554.8 435.9,554.8 436.5,554.8 437.1,554.8 437.7,554.8 438.3,554.8 438.9,554.8 439.5,554.8 440.1,554.8 440.7,554.8 441.3,554.8 441.9,554.8 442.5,554.8 443.1,554.8 443.7,554.8 444.3,554.8 444.9,554.8 445.5,554.8 446.1,554.8 446.7,554.8 447.3,554.8 447.9,554.8 448.5,554.8 449.1,554.8 449.7,554.8 450.3,554.8 450.9,554.8 451.5,554.8 452.1,554.8 452.7,554.8 453.3,554.8 453.9,554.8 454.5,554.8 455.1,554.8 455.7,554.8 456.3,554.8 456.9,554.8 457.5,554.8 458.1,554.8 458.7,554.8 459.3,554.8 459.9,554.8 460.5,554.8 461.1,554.8 461.7,554.8 462.3,554.8 462.9,554.8 463.5,554.8 464.1,554.8 464.7,554.7 465.3,554.6 465.9,554.2 466.5,553.4 467.1,552.0 467.7,549.5 468.3,545.8 468.9,541.3 469.5,536.7 470.1,533.0 470.7,531.3 471.3,532.2 471.9,535.3 472.5,539.8 473.1,544.4 473.7,548.4 474.3,551.3 474.9,553.0 475.5,554.0 476.1,554.5 476.7,554.7 477.3,554.8 477.9,554.8 478.5,554.8 479.1,554.8 479.7,554.8 480.3,554.8 480.9,554.8 481.5,554.8 482.1,554.8 482.7,554.8 483.3,554.8 483.9,554.8 484.5,554.8 485.1,554.8 485.7,554.8 486.3,554.8 486.9,554.8 487.5,554.8 488.1,554.8 488.7,554.8 489.3,554.8 489.9,554.8 490.5,554.8 491.1,554.8 491.7,554.8 492.3,554.8 492.9,554.8 493.5,554.8 494.1,554.8 494.7,554.8 495.3,554.8 495.9,554.8 496.5,554.8 497.1,554.8 497.7,554.8 498.3,554.8 498.9,554.8 499.5,554.8 500.1,554.8 500.7,554.8 501.3,554.8 501.9,554.8 502.5,554.8 503.1,554.8 503.7,554.8 504.3,554.8 504.9,554.8 505.5,554.8 506.1,554.8 506.7,554.8 507.3,554.8 507.9,554.8 508.5,554.8 509.1,554.8 509.7,554.8 510.3,554.8 510.9,554.8 511.5,554.8 512.1,554.8 512.7,554.8 513.3,554.8 513.9,554.8 514.5,554.8 515.1,554.8 515.7,554.8 516.3,554.8 516.9,554.8 517.5,554.8 518.1,554.8 518.7,554.8 519.3,554.8 519.9,554.8 520.5,554.8 521.1,554.8 521.7,554.8 522.3,554.8" fill="none" stroke="#e5333b" stroke-width="1.25" stroke-linejoin="round"/>
<rect x="525.60" y="454.80" width="159.40" height="101.40" fill="#f9f8f4" stroke="none" stroke-width="1.2"/>
<text transform="translate(529.20 462.40) scale(0.8 1)" font-size="8.9" text-anchor="middle" font-weight="bold" fill="#111" stroke="#111" stroke-width="0.3">G</text>
<text transform="translate(536.08 462.40) scale(0.8 1)" font-size="8.9" text-anchor="middle" font-weight="bold" fill="#111" stroke="#111" stroke-width="0.3">A</text>
<text transform="translate(542.96 462.40) scale(0.8 1)" font-size="8.9" text-anchor="middle" font-weight="bold" fill="#111" stroke="#111" stroke-width="0.3">C</text>
<text transform="translate(549.85 462.40) scale(0.8 1)" font-size="8.9" text-anchor="middle" font-weight="bold" fill="#111" stroke="#111" stroke-width="0.3">T</text>
<text transform="translate(556.73 462.40) scale(0.8 1)" font-size="8.9" text-anchor="middle" font-weight="bold" fill="#111" stroke="#111" stroke-width="0.3">A</text>
<text transform="translate(563.61 462.40) scale(0.8 1)" font-size="8.9" text-anchor="middle" font-weight="bold" fill="#111" stroke="#111" stroke-width="0.3">A</text>
<text transform="translate(570.49 462.40) scale(0.8 1)" font-size="8.9" text-anchor="middle" font-weight="bold" fill="#111" stroke="#111" stroke-width="0.3">A</text>
<text transform="translate(577.37 462.40) scale(0.8 1)" font-size="8.9" text-anchor="middle" font-weight="bold" fill="#111" stroke="#111" stroke-width="0.3">G</text>
<text transform="translate(584.25 462.40) scale(0.8 1)" font-size="8.9" text-anchor="middle" font-weight="bold" fill="#111" stroke="#111" stroke-width="0.3">A</text>
<text transform="translate(591.14 462.40) scale(0.8 1)" font-size="8.9" text-anchor="middle" font-weight="bold" fill="#111" stroke="#111" stroke-width="0.3">T</text>
<text transform="translate(598.02 462.40) scale(0.8 1)" font-size="8.9" text-anchor="middle" font-weight="bold" fill="#111" stroke="#111" stroke-width="0.3">C</text>
<text transform="translate(604.90 462.40) scale(0.8 1)" font-size="8.9" text-anchor="middle" font-weight="bold" fill="#111" stroke="#111" stroke-width="0.3">C</text>
<text transform="translate(611.78 462.40) scale(0.8 1)" font-size="8.9" text-anchor="middle" font-weight="bold" fill="#111" stroke="#111" stroke-width="0.3">A</text>
<text transform="translate(618.66 462.40) scale(0.8 1)" font-size="8.9" text-anchor="middle" font-weight="bold" fill="#111" stroke="#111" stroke-width="0.3">A</text>
<text transform="translate(625.55 462.40) scale(0.8 1)" font-size="8.9" text-anchor="middle" font-weight="bold" fill="#111" stroke="#111" stroke-width="0.3">A</text>
<text transform="translate(632.43 462.40) scale(0.8 1)" font-size="8.9" text-anchor="middle" font-weight="bold" fill="#111" stroke="#111" stroke-width="0.3">T</text>
<text transform="translate(639.31 462.40) scale(0.8 1)" font-size="8.9" text-anchor="middle" font-weight="bold" fill="#111" stroke="#111" stroke-width="0.3">G</text>
<text transform="translate(646.19 462.40) scale(0.8 1)" font-size="8.9" text-anchor="middle" font-weight="bold" fill="#111" stroke="#111" stroke-width="0.3">G</text>
<text transform="translate(653.07 462.40) scale(0.8 1)" font-size="8.9" text-anchor="middle" font-weight="bold" fill="#111" stroke="#111" stroke-width="0.3">A</text>
<text transform="translate(659.95 462.40) scale(0.8 1)" font-size="8.9" text-anchor="middle" font-weight="bold" fill="#111" stroke="#111" stroke-width="0.3">A</text>
<text transform="translate(666.84 462.40) scale(0.8 1)" font-size="8.9" text-anchor="middle" font-weight="bold" fill="#111" stroke="#111" stroke-width="0.3">A</text>
<text transform="translate(673.72 462.40) scale(0.8 1)" font-size="8.9" text-anchor="middle" font-weight="bold" fill="#111" stroke="#111" stroke-width="0.3">G</text>
<text transform="translate(680.60 462.40) scale(0.8 1)" font-size="8.9" text-anchor="middle" font-weight="bold" fill="#111" stroke="#111" stroke-width="0.3">A</text>
<line x1="525.60" y1="468.10" x2="685.00" y2="468.10" stroke="#c9c7c2" stroke-width="1.2"/>
<text transform="translate(529.20 483.30) scale(0.84 1)" font-size="9.5" text-anchor="middle" fill="#222" stroke="#222" stroke-width="0.15">G</text>
<text transform="translate(536.08 483.30) scale(0.84 1)" font-size="9.5" text-anchor="middle" fill="#222" stroke="#222" stroke-width="0.15">A</text>
<text transform="translate(542.96 483.30) scale(0.84 1)" font-size="9.5" text-anchor="middle" fill="#222" stroke="#222" stroke-width="0.15">C</text>
<text transform="translate(549.85 483.30) scale(0.84 1)" font-size="9.5" text-anchor="middle" fill="#222" stroke="#222" stroke-width="0.15">T</text>
<text transform="translate(556.73 483.30) scale(0.84 1)" font-size="9.5" text-anchor="middle" fill="#222" stroke="#222" stroke-width="0.15">A</text>
<text transform="translate(563.61 483.30) scale(0.84 1)" font-size="9.5" text-anchor="middle" fill="#222" stroke="#222" stroke-width="0.15">A</text>
<text transform="translate(570.49 483.30) scale(0.84 1)" font-size="9.5" text-anchor="middle" fill="#222" stroke="#222" stroke-width="0.15">A</text>
<text transform="translate(577.37 483.30) scale(0.84 1)" font-size="9.5" text-anchor="middle" fill="#222" stroke="#222" stroke-width="0.15">G</text>
<text transform="translate(584.25 483.30) scale(0.84 1)" font-size="9.5" text-anchor="middle" fill="#222" stroke="#222" stroke-width="0.15">A</text>
<text transform="translate(591.14 483.30) scale(0.84 1)" font-size="9.5" text-anchor="middle" fill="#222" stroke="#222" stroke-width="0.15">T</text>
<text transform="translate(598.02 483.30) scale(0.84 1)" font-size="9.5" text-anchor="middle" fill="#222" stroke="#222" stroke-width="0.15">C</text>
<text transform="translate(604.90 483.30) scale(0.84 1)" font-size="9.5" text-anchor="middle" fill="#222" stroke="#222" stroke-width="0.15">C</text>
<text transform="translate(611.78 483.30) scale(0.84 1)" font-size="9.5" text-anchor="middle" fill="#222" stroke="#222" stroke-width="0.15">A</text>
<text transform="translate(618.66 483.30) scale(0.84 1)" font-size="9.5" text-anchor="middle" fill="#222" stroke="#222" stroke-width="0.15">A</text>
<text transform="translate(625.55 483.30) scale(0.84 1)" font-size="9.5" text-anchor="middle" fill="#222" stroke="#222" stroke-width="0.15">A</text>
<text transform="translate(632.43 483.30) scale(0.84 1)" font-size="9.5" text-anchor="middle" fill="#222" stroke="#222" stroke-width="0.15">T</text>
<text transform="translate(639.31 483.30) scale(0.84 1)" font-size="9.5" text-anchor="middle" fill="#222" stroke="#222" stroke-width="0.15">G</text>
<text transform="translate(646.19 483.30) scale(0.84 1)" font-size="9.5" text-anchor="middle" fill="#222" stroke="#222" stroke-width="0.15">G</text>
<text transform="translate(653.07 483.30) scale(0.84 1)" font-size="9.5" text-anchor="middle" fill="#222" stroke="#222" stroke-width="0.15">A</text>
<text transform="translate(659.95 483.30) scale(0.84 1)" font-size="9.5" text-anchor="middle" fill="#222" stroke="#222" stroke-width="0.15">A</text>
<text transform="translate(666.84 483.30) scale(0.84 1)" font-size="9.5" text-anchor="middle" fill="#222" stroke="#222" stroke-width="0.15">A</text>
<text transform="translate(673.72 483.30) scale(0.84 1)" font-size="9.5" text-anchor="middle" fill="#222" stroke="#222" stroke-width="0.15">G</text>
<text transform="translate(680.60 483.30) scale(0.84 1)" font-size="9.5" text-anchor="middle" fill="#222" stroke="#222" stroke-width="0.15">A</text>
<line x1="548.50" y1="487.00" x2="548.50" y2="555.00" stroke="#b5b3ae" stroke-width="0.8" stroke-dasharray="2.4,1.8"/>
<line x1="617.50" y1="487.00" x2="617.50" y2="555.00" stroke="#b5b3ae" stroke-width="0.8" stroke-dasharray="2.4,1.8"/>
<polygon points="526.1,555.0 526.1,555.0 526.7,555.0 527.3,555.0 527.9,555.0 528.5,555.0 529.1,555.0 529.7,554.9 530.3,554.7 530.9,554.3 531.5,553.7 532.1,552.6 532.7,551.2 533.3,549.6 533.9,548.1 534.5,547.2 535.1,547.0 535.7,547.8 536.3,549.1 536.9,550.7 537.5,552.2 538.1,553.4 538.7,554.1 539.3,554.6 539.9,554.8 540.5,554.9 541.1,555.0 541.7,555.0 542.3,555.0 542.9,555.0 543.5,555.0 544.1,555.0 544.7,555.0 545.3,555.0 545.9,555.0 546.5,555.0 547.1,555.0 547.7,555.0 548.3,555.0 548.9,555.0 549.5,554.9 550.1,554.6 550.7,554.0 551.3,552.8 551.9,550.6 552.5,547.1 553.1,542.2 553.7,536.4 554.3,530.9 554.9,527.1 555.5,526.0 556.1,528.1 556.7,532.5 557.3,537.9 557.9,542.8 558.5,545.7 559.1,546.1 559.7,543.6 560.3,538.5 560.9,531.8 561.5,525.2 562.1,520.5 562.7,519.2 563.3,521.7 563.9,527.2 564.5,534.0 565.1,540.2 565.7,544.3 566.3,545.6 566.9,544.0 567.5,540.2 568.1,535.3 568.7,530.7 569.3,527.9 569.9,528.0 570.5,530.8 571.1,535.6 571.7,541.1 572.3,546.1 572.9,549.9 573.5,552.4 574.1,553.8 574.7,554.5 575.3,554.8 575.9,554.9 576.5,555.0 577.1,555.0 577.7,554.9 578.3,554.7 578.9,554.3 579.5,553.4 580.1,551.8 580.7,549.3 581.3,546.0 581.9,542.2 582.5,538.7 583.1,536.5 583.7,536.1 584.3,537.8 584.9,541.0 585.5,544.8 586.1,548.3 586.7,551.1 587.3,553.0 587.9,554.0 588.5,554.6 589.1,554.8 589.7,554.9 590.3,555.0 590.9,555.0 591.5,555.0 592.1,555.0 592.7,555.0 593.3,555.0 593.9,555.0 594.5,555.0 595.1,555.0 595.7,555.0 596.3,555.0 596.9,555.0 597.5,555.0 598.1,555.0 598.7,555.0 599.3,555.0 599.9,555.0 600.5,555.0 601.1,555.0 601.7,555.0 602.3,555.0 602.9,555.0 603.5,555.0 604.1,555.0 604.7,554.9 605.3,554.8 605.9,554.6 606.5,553.9 607.1,552.7 607.7,550.5 608.3,547.2 608.9,542.8 609.5,538.0 610.1,533.8 610.7,531.3 611.3,531.3 611.9,533.7 612.5,537.7 613.1,542.0 613.7,545.2 614.3,546.3 614.9,544.9 615.5,540.8 616.1,534.7 616.7,528.2 617.3,522.9 617.9,520.4 618.5,521.6 619.1,526.1 619.7,532.3 620.3,538.4 620.9,542.6 621.5,543.8 622.1,541.9 622.7,537.1 623.3,530.8 623.9,524.6 624.5,520.5 625.1,519.9 625.7,523.0 626.3,528.9 626.9,536.0 627.5,542.6 628.1,547.7 628.7,551.2 629.3,553.2 629.9,554.3 630.5,554.7 631.1,554.9 631.7,555.0 632.3,555.0 632.9,555.0 633.5,555.0 634.1,555.0 634.7,555.0 635.3,555.0 635.9,555.0 636.5,555.0 637.1,555.0 637.7,555.0 638.3,555.0 638.9,555.0 639.5,555.0 640.1,555.0 640.7,555.0 641.3,555.0 641.9,555.0 642.5,555.0 643.1,555.0 643.7,555.0 644.3,555.0 644.9,555.0 645.5,554.9 646.1,554.7 646.7,554.1 647.3,553.0 647.9,551.0 648.5,547.6 649.1,542.7 649.7,536.9 650.3,531.1 650.9,526.8 651.5,525.2 652.1,526.7 652.7,530.9 653.3,536.2 653.9,540.9 654.5,543.5 655.1,543.0 655.7,539.2 656.3,532.5 656.9,524.5 657.5,517.2 658.1,512.8 658.7,512.8 659.3,517.1 659.9,524.4 660.5,532.2 661.1,538.5 661.7,541.9 662.3,541.7 662.9,538.5 663.5,533.5 664.1,528.3 664.7,524.9 665.3,524.4 665.9,527.1 666.5,532.2 667.1,538.4 667.7,544.1 668.3,548.7 668.9,551.7 669.5,553.4 670.1,554.3 670.7,554.8 671.3,554.9 671.9,555.0 672.5,555.0 673.1,555.0 673.7,554.9 674.3,554.8 674.9,554.5 675.5,553.7 676.1,552.3 676.7,549.7 677.3,545.7 677.9,540.5 678.5,534.8 679.1,529.8 679.7,526.8 680.3,526.8 680.9,529.8 681.5,534.8 682.1,540.5 682.7,545.7 683.3,549.7 683.9,552.3 683.9,555.0" fill="rgba(63,174,73,0.17)"/>
<polyline points="526.1,555.0 526.7,555.0 527.3,555.0 527.9,555.0 528.5,555.0 529.1,555.0 529.7,554.9 530.3,554.7 530.9,554.3 531.5,553.7 532.1,552.6 532.7,551.2 533.3,549.6 533.9,548.1 534.5,547.2 535.1,547.0 535.7,547.8 536.3,549.1 536.9,550.7 537.5,552.2 538.1,553.4 538.7,554.1 539.3,554.6 539.9,554.8 540.5,554.9 541.1,555.0 541.7,555.0 542.3,555.0 542.9,555.0 543.5,555.0 544.1,555.0 544.7,555.0 545.3,555.0 545.9,555.0 546.5,555.0 547.1,555.0 547.7,555.0 548.3,555.0 548.9,555.0 549.5,554.9 550.1,554.6 550.7,554.0 551.3,552.8 551.9,550.6 552.5,547.1 553.1,542.2 553.7,536.4 554.3,530.9 554.9,527.1 555.5,526.0 556.1,528.1 556.7,532.5 557.3,537.9 557.9,542.8 558.5,545.7 559.1,546.1 559.7,543.6 560.3,538.5 560.9,531.8 561.5,525.2 562.1,520.5 562.7,519.2 563.3,521.7 563.9,527.2 564.5,534.0 565.1,540.2 565.7,544.3 566.3,545.6 566.9,544.0 567.5,540.2 568.1,535.3 568.7,530.7 569.3,527.9 569.9,528.0 570.5,530.8 571.1,535.6 571.7,541.1 572.3,546.1 572.9,549.9 573.5,552.4 574.1,553.8 574.7,554.5 575.3,554.8 575.9,554.9 576.5,555.0 577.1,555.0 577.7,554.9 578.3,554.7 578.9,554.3 579.5,553.4 580.1,551.8 580.7,549.3 581.3,546.0 581.9,542.2 582.5,538.7 583.1,536.5 583.7,536.1 584.3,537.8 584.9,541.0 585.5,544.8 586.1,548.3 586.7,551.1 587.3,553.0 587.9,554.0 588.5,554.6 589.1,554.8 589.7,554.9 590.3,555.0 590.9,555.0 591.5,555.0 592.1,555.0 592.7,555.0 593.3,555.0 593.9,555.0 594.5,555.0 595.1,555.0 595.7,555.0 596.3,555.0 596.9,555.0 597.5,555.0 598.1,555.0 598.7,555.0 599.3,555.0 599.9,555.0 600.5,555.0 601.1,555.0 601.7,555.0 602.3,555.0 602.9,555.0 603.5,555.0 604.1,555.0 604.7,554.9 605.3,554.8 605.9,554.6 606.5,553.9 607.1,552.7 607.7,550.5 608.3,547.2 608.9,542.8 609.5,538.0 610.1,533.8 610.7,531.3 611.3,531.3 611.9,533.7 612.5,537.7 613.1,542.0 613.7,545.2 614.3,546.3 614.9,544.9 615.5,540.8 616.1,534.7 616.7,528.2 617.3,522.9 617.9,520.4 618.5,521.6 619.1,526.1 619.7,532.3 620.3,538.4 620.9,542.6 621.5,543.8 622.1,541.9 622.7,537.1 623.3,530.8 623.9,524.6 624.5,520.5 625.1,519.9 625.7,523.0 626.3,528.9 626.9,536.0 627.5,542.6 628.1,547.7 628.7,551.2 629.3,553.2 629.9,554.3 630.5,554.7 631.1,554.9 631.7,555.0 632.3,555.0 632.9,555.0 633.5,555.0 634.1,555.0 634.7,555.0 635.3,555.0 635.9,555.0 636.5,555.0 637.1,555.0 637.7,555.0 638.3,555.0 638.9,555.0 639.5,555.0 640.1,555.0 640.7,555.0 641.3,555.0 641.9,555.0 642.5,555.0 643.1,555.0 643.7,555.0 644.3,555.0 644.9,555.0 645.5,554.9 646.1,554.7 646.7,554.1 647.3,553.0 647.9,551.0 648.5,547.6 649.1,542.7 649.7,536.9 650.3,531.1 650.9,526.8 651.5,525.2 652.1,526.7 652.7,530.9 653.3,536.2 653.9,540.9 654.5,543.5 655.1,543.0 655.7,539.2 656.3,532.5 656.9,524.5 657.5,517.2 658.1,512.8 658.7,512.8 659.3,517.1 659.9,524.4 660.5,532.2 661.1,538.5 661.7,541.9 662.3,541.7 662.9,538.5 663.5,533.5 664.1,528.3 664.7,524.9 665.3,524.4 665.9,527.1 666.5,532.2 667.1,538.4 667.7,544.1 668.3,548.7 668.9,551.7 669.5,553.4 670.1,554.3 670.7,554.8 671.3,554.9 671.9,555.0 672.5,555.0 673.1,555.0 673.7,554.9 674.3,554.8 674.9,554.5 675.5,553.7 676.1,552.3 676.7,549.7 677.3,545.7 677.9,540.5 678.5,534.8 679.1,529.8 679.7,526.8 680.3,526.8 680.9,529.8 681.5,534.8 682.1,540.5 682.7,545.7 683.3,549.7 683.9,552.3" fill="none" stroke="#3fae49" stroke-width="1.25" stroke-linejoin="round"/>
<polygon points="526.1,555.0 526.1,542.3 526.7,538.2 527.3,535.1 527.9,534.0 528.5,535.1 529.1,538.2 529.7,542.3 530.3,546.4 530.9,549.8 531.5,552.2 532.1,553.6 532.7,554.4 533.3,554.8 533.9,554.9 534.5,555.0 535.1,555.0 535.7,555.0 536.3,555.0 536.9,555.0 537.5,555.0 538.1,555.0 538.7,555.0 539.3,555.0 539.9,555.0 540.5,555.0 541.1,555.0 541.7,555.0 542.3,555.0 542.9,555.0 543.5,555.0 544.1,555.0 544.7,555.0 545.3,555.0 545.9,555.0 546.5,555.0 547.1,555.0 547.7,555.0 548.3,555.0 548.9,555.0 549.5,555.0 550.1,555.0 550.7,555.0 551.3,555.0 551.9,555.0 552.5,555.0 553.1,555.0 553.7,555.0 554.3,555.0 554.9,555.0 555.5,555.0 556.1,555.0 556.7,555.0 557.3,555.0 557.9,555.0 558.5,555.0 559.1,555.0 559.7,555.0 560.3,555.0 560.9,555.0 561.5,555.0 562.1,555.0 562.7,555.0 563.3,555.0 563.9,555.0 564.5,555.0 565.1,555.0 565.7,555.0 566.3,555.0 566.9,555.0 567.5,555.0 568.1,555.0 568.7,555.0 569.3,555.0 569.9,555.0 570.5,554.9 571.1,554.7 571.7,554.3 572.3,553.5 572.9,551.9 573.5,549.3 574.1,545.5 574.7,541.0 575.3,536.6 575.9,533.2 576.5,532.0 577.1,533.2 577.7,536.6 578.3,541.0 578.9,545.5 579.5,549.3 580.1,551.9 580.7,553.5 581.3,554.3 581.9,554.7 582.5,554.9 583.1,555.0 583.7,555.0 584.3,555.0 584.9,555.0 585.5,555.0 586.1,555.0 586.7,555.0 587.3,555.0 587.9,555.0 588.5,555.0 589.1,555.0 589.7,555.0 590.3,555.0 590.9,555.0 591.5,555.0 592.1,555.0 592.7,555.0 593.3,555.0 593.9,555.0 594.5,555.0 595.1,555.0 595.7,555.0 596.3,555.0 596.9,555.0 597.5,555.0 598.1,555.0 598.7,555.0 599.3,555.0 599.9,555.0 600.5,555.0 601.1,555.0 601.7,555.0 602.3,555.0 602.9,555.0 603.5,555.0 604.1,555.0 604.7,555.0 605.3,555.0 605.9,555.0 606.5,555.0 607.1,555.0 607.7,555.0 608.3,555.0 608.9,555.0 609.5,555.0 610.1,555.0 610.7,555.0 611.3,555.0 611.9,555.0 612.5,555.0 613.1,555.0 613.7,555.0 614.3,555.0 614.9,555.0 615.5,555.0 616.1,555.0 616.7,555.0 617.3,555.0 617.9,555.0 618.5,555.0 619.1,555.0 619.7,555.0 620.3,555.0 620.9,555.0 621.5,555.0 622.1,555.0 622.7,555.0 623.3,555.0 623.9,555.0 624.5,555.0 625.1,555.0 625.7,555.0 626.3,555.0 626.9,555.0 627.5,555.0 628.1,555.0 628.7,555.0 629.3,555.0 629.9,555.0 630.5,555.0 631.1,555.0 631.7,554.9 632.3,554.7 632.9,554.3 633.5,553.3 634.1,551.5 634.7,548.4 635.3,543.9 635.9,538.4 636.5,532.7 637.1,528.1 637.7,526.0 638.3,527.0 638.9,530.7 639.5,535.8 640.1,540.7 640.7,544.0 641.3,544.6 641.9,542.6 642.5,538.4 643.1,533.2 643.7,528.6 644.3,526.1 644.9,526.7 645.5,530.1 646.1,535.5 646.7,541.3 647.3,546.4 647.9,550.1 648.5,552.5 649.1,553.9 649.7,554.6 650.3,554.8 650.9,554.9 651.5,555.0 652.1,555.0 652.7,555.0 653.3,555.0 653.9,555.0 654.5,555.0 655.1,555.0 655.7,555.0 656.3,555.0 656.9,555.0 657.5,555.0 658.1,555.0 658.7,555.0 659.3,555.0 659.9,555.0 660.5,555.0 661.1,555.0 661.7,555.0 662.3,555.0 662.9,555.0 663.5,555.0 664.1,555.0 664.7,555.0 665.3,555.0 665.9,555.0 666.5,554.9 667.1,554.8 667.7,554.4 668.3,553.7 668.9,552.2 669.5,549.8 670.1,546.2 670.7,541.8 671.3,537.3 671.9,533.7 672.5,532.0 673.1,532.9 673.7,535.9 674.3,540.3 674.9,544.8 675.5,548.7 676.1,551.5 676.7,553.3 677.3,554.2 677.9,554.7 678.5,554.9 679.1,555.0 679.7,555.0 680.3,555.0 680.9,555.0 681.5,555.0 682.1,555.0 682.7,555.0 683.3,555.0 683.9,555.0 683.9,555.0" fill="rgba(40,40,40,0.17)"/>
<polyline points="526.1,542.3 526.7,538.2 527.3,535.1 527.9,534.0 528.5,535.1 529.1,538.2 529.7,542.3 530.3,546.4 530.9,549.8 531.5,552.2 532.1,553.6 532.7,554.4 533.3,554.8 533.9,554.9 534.5,555.0 535.1,555.0 535.7,555.0 536.3,555.0 536.9,555.0 537.5,555.0 538.1,555.0 538.7,555.0 539.3,555.0 539.9,555.0 540.5,555.0 541.1,555.0 541.7,555.0 542.3,555.0 542.9,555.0 543.5,555.0 544.1,555.0 544.7,555.0 545.3,555.0 545.9,555.0 546.5,555.0 547.1,555.0 547.7,555.0 548.3,555.0 548.9,555.0 549.5,555.0 550.1,555.0 550.7,555.0 551.3,555.0 551.9,555.0 552.5,555.0 553.1,555.0 553.7,555.0 554.3,555.0 554.9,555.0 555.5,555.0 556.1,555.0 556.7,555.0 557.3,555.0 557.9,555.0 558.5,555.0 559.1,555.0 559.7,555.0 560.3,555.0 560.9,555.0 561.5,555.0 562.1,555.0 562.7,555.0 563.3,555.0 563.9,555.0 564.5,555.0 565.1,555.0 565.7,555.0 566.3,555.0 566.9,555.0 567.5,555.0 568.1,555.0 568.7,555.0 569.3,555.0 569.9,555.0 570.5,554.9 571.1,554.7 571.7,554.3 572.3,553.5 572.9,551.9 573.5,549.3 574.1,545.5 574.7,541.0 575.3,536.6 575.9,533.2 576.5,532.0 577.1,533.2 577.7,536.6 578.3,541.0 578.9,545.5 579.5,549.3 580.1,551.9 580.7,553.5 581.3,554.3 581.9,554.7 582.5,554.9 583.1,555.0 583.7,555.0 584.3,555.0 584.9,555.0 585.5,555.0 586.1,555.0 586.7,555.0 587.3,555.0 587.9,555.0 588.5,555.0 589.1,555.0 589.7,555.0 590.3,555.0 590.9,555.0 591.5,555.0 592.1,555.0 592.7,555.0 593.3,555.0 593.9,555.0 594.5,555.0 595.1,555.0 595.7,555.0 596.3,555.0 596.9,555.0 597.5,555.0 598.1,555.0 598.7,555.0 599.3,555.0 599.9,555.0 600.5,555.0 601.1,555.0 601.7,555.0 602.3,555.0 602.9,555.0 603.5,555.0 604.1,555.0 604.7,555.0 605.3,555.0 605.9,555.0 606.5,555.0 607.1,555.0 607.7,555.0 608.3,555.0 608.9,555.0 609.5,555.0 610.1,555.0 610.7,555.0 611.3,555.0 611.9,555.0 612.5,555.0 613.1,555.0 613.7,555.0 614.3,555.0 614.9,555.0 615.5,555.0 616.1,555.0 616.7,555.0 617.3,555.0 617.9,555.0 618.5,555.0 619.1,555.0 619.7,555.0 620.3,555.0 620.9,555.0 621.5,555.0 622.1,555.0 622.7,555.0 623.3,555.0 623.9,555.0 624.5,555.0 625.1,555.0 625.7,555.0 626.3,555.0 626.9,555.0 627.5,555.0 628.1,555.0 628.7,555.0 629.3,555.0 629.9,555.0 630.5,555.0 631.1,555.0 631.7,554.9 632.3,554.7 632.9,554.3 633.5,553.3 634.1,551.5 634.7,548.4 635.3,543.9 635.9,538.4 636.5,532.7 637.1,528.1 637.7,526.0 638.3,527.0 638.9,530.7 639.5,535.8 640.1,540.7 640.7,544.0 641.3,544.6 641.9,542.6 642.5,538.4 643.1,533.2 643.7,528.6 644.3,526.1 644.9,526.7 645.5,530.1 646.1,535.5 646.7,541.3 647.3,546.4 647.9,550.1 648.5,552.5 649.1,553.9 649.7,554.6 650.3,554.8 650.9,554.9 651.5,555.0 652.1,555.0 652.7,555.0 653.3,555.0 653.9,555.0 654.5,555.0 655.1,555.0 655.7,555.0 656.3,555.0 656.9,555.0 657.5,555.0 658.1,555.0 658.7,555.0 659.3,555.0 659.9,555.0 660.5,555.0 661.1,555.0 661.7,555.0 662.3,555.0 662.9,555.0 663.5,555.0 664.1,555.0 664.7,555.0 665.3,555.0 665.9,555.0 666.5,554.9 667.1,554.8 667.7,554.4 668.3,553.7 668.9,552.2 669.5,549.8 670.1,546.2 670.7,541.8 671.3,537.3 671.9,533.7 672.5,532.0 673.1,532.9 673.7,535.9 674.3,540.3 674.9,544.8 675.5,548.7 676.1,551.5 676.7,553.3 677.3,554.2 677.9,554.7 678.5,554.9 679.1,555.0 679.7,555.0 680.3,555.0 680.9,555.0 681.5,555.0 682.1,555.0 682.7,555.0 683.3,555.0 683.9,555.0" fill="none" stroke="#1a1a1a" stroke-width="1.25" stroke-linejoin="round"/>
<polygon points="526.1,555.0 526.1,555.0 526.7,555.0 527.3,555.0 527.9,555.0 528.5,555.0 529.1,555.0 529.7,555.0 530.3,555.0 530.9,555.0 531.5,555.0 532.1,555.0 532.7,555.0 533.3,555.0 533.9,555.0 534.5,555.0 535.1,555.0 535.7,554.8 536.3,554.5 536.9,553.8 537.5,552.1 538.1,548.9 538.7,543.5 539.3,535.7 539.9,526.0 540.5,515.9 541.1,508.0 541.7,504.4 542.3,506.2 542.9,512.9 543.5,522.5 544.1,532.6 544.7,541.2 545.3,547.3 545.9,551.2 546.5,553.3 547.1,554.3 547.7,554.8 548.3,554.9 548.9,555.0 549.5,555.0 550.1,555.0 550.7,555.0 551.3,555.0 551.9,555.0 552.5,555.0 553.1,555.0 553.7,555.0 554.3,555.0 554.9,555.0 555.5,555.0 556.1,555.0 556.7,555.0 557.3,555.0 557.9,555.0 558.5,555.0 559.1,555.0 559.7,555.0 560.3,555.0 560.9,555.0 561.5,555.0 562.1,555.0 562.7,555.0 563.3,555.0 563.9,555.0 564.5,555.0 565.1,555.0 565.7,555.0 566.3,555.0 566.9,555.0 567.5,555.0 568.1,555.0 568.7,555.0 569.3,555.0 569.9,555.0 570.5,555.0 571.1,555.0 571.7,555.0 572.3,555.0 572.9,555.0 573.5,555.0 574.1,555.0 574.7,555.0 575.3,555.0 575.9,555.0 576.5,555.0 577.1,555.0 577.7,555.0 578.3,555.0 578.9,555.0 579.5,555.0 580.1,555.0 580.7,555.0 581.3,555.0 581.9,555.0 582.5,555.0 583.1,555.0 583.7,555.0 584.3,555.0 584.9,555.0 585.5,555.0 586.1,555.0 586.7,555.0 587.3,555.0 587.9,555.0 588.5,555.0 589.1,555.0 589.7,555.0 590.3,555.0 590.9,554.9 591.5,554.8 592.1,554.4 592.7,553.5 593.3,552.0 593.9,549.4 594.5,545.8 595.1,541.4 595.7,537.1 596.3,533.8 596.9,532.6 597.5,533.7 598.1,536.8 598.7,540.6 599.3,543.8 599.9,545.0 600.5,543.4 601.1,538.6 601.7,531.1 602.3,522.2 602.9,514.3 603.5,509.6 604.1,509.6 604.7,514.4 605.3,522.5 605.9,531.6 606.5,539.9 607.1,546.0 607.7,549.9 608.3,551.7 608.9,552.1 609.5,551.9 610.1,551.4 610.7,551.0 611.3,551.0 611.9,551.5 612.5,552.2 613.1,553.0 613.7,553.7 614.3,554.3 614.9,554.6 615.5,554.8 616.1,554.9 616.7,555.0 617.3,555.0 617.9,555.0 618.5,555.0 619.1,555.0 619.7,555.0 620.3,555.0 620.9,555.0 621.5,555.0 622.1,555.0 622.7,555.0 623.3,555.0 623.9,555.0 624.5,555.0 625.1,555.0 625.7,555.0 626.3,555.0 626.9,555.0 627.5,555.0 628.1,555.0 628.7,555.0 629.3,555.0 629.9,555.0 630.5,555.0 631.1,555.0 631.7,555.0 632.3,555.0 632.9,555.0 633.5,555.0 634.1,555.0 634.7,555.0 635.3,555.0 635.9,555.0 636.5,555.0 637.1,555.0 637.7,555.0 638.3,555.0 638.9,555.0 639.5,555.0 640.1,555.0 640.7,555.0 641.3,555.0 641.9,555.0 642.5,555.0 643.1,555.0 643.7,555.0 644.3,555.0 644.9,555.0 645.5,555.0 646.1,555.0 646.7,555.0 647.3,555.0 647.9,555.0 648.5,555.0 649.1,555.0 649.7,555.0 650.3,555.0 650.9,555.0 651.5,555.0 652.1,555.0 652.7,555.0 653.3,555.0 653.9,555.0 654.5,555.0 655.1,555.0 655.7,555.0 656.3,555.0 656.9,555.0 657.5,555.0 658.1,555.0 658.7,555.0 659.3,555.0 659.9,555.0 660.5,555.0 661.1,555.0 661.7,555.0 662.3,555.0 662.9,555.0 663.5,555.0 664.1,555.0 664.7,555.0 665.3,555.0 665.9,555.0 666.5,555.0 667.1,555.0 667.7,555.0 668.3,555.0 668.9,555.0 669.5,555.0 670.1,555.0 670.7,555.0 671.3,555.0 671.9,555.0 672.5,555.0 673.1,555.0 673.7,555.0 674.3,555.0 674.9,555.0 675.5,555.0 676.1,555.0 676.7,555.0 677.3,555.0 677.9,555.0 678.5,555.0 679.1,555.0 679.7,555.0 680.3,555.0 680.9,555.0 681.5,555.0 682.1,555.0 682.7,555.0 683.3,555.0 683.9,555.0 683.9,555.0" fill="rgba(47,111,201,0.17)"/>
<polyline points="526.1,555.0 526.7,555.0 527.3,555.0 527.9,555.0 528.5,555.0 529.1,555.0 529.7,555.0 530.3,555.0 530.9,555.0 531.5,555.0 532.1,555.0 532.7,555.0 533.3,555.0 533.9,555.0 534.5,555.0 535.1,555.0 535.7,554.8 536.3,554.5 536.9,553.8 537.5,552.1 538.1,548.9 538.7,543.5 539.3,535.7 539.9,526.0 540.5,515.9 541.1,508.0 541.7,504.4 542.3,506.2 542.9,512.9 543.5,522.5 544.1,532.6 544.7,541.2 545.3,547.3 545.9,551.2 546.5,553.3 547.1,554.3 547.7,554.8 548.3,554.9 548.9,555.0 549.5,555.0 550.1,555.0 550.7,555.0 551.3,555.0 551.9,555.0 552.5,555.0 553.1,555.0 553.7,555.0 554.3,555.0 554.9,555.0 555.5,555.0 556.1,555.0 556.7,555.0 557.3,555.0 557.9,555.0 558.5,555.0 559.1,555.0 559.7,555.0 560.3,555.0 560.9,555.0 561.5,555.0 562.1,555.0 562.7,555.0 563.3,555.0 563.9,555.0 564.5,555.0 565.1,555.0 565.7,555.0 566.3,555.0 566.9,555.0 567.5,555.0 568.1,555.0 568.7,555.0 569.3,555.0 569.9,555.0 570.5,555.0 571.1,555.0 571.7,555.0 572.3,555.0 572.9,555.0 573.5,555.0 574.1,555.0 574.7,555.0 575.3,555.0 575.9,555.0 576.5,555.0 577.1,555.0 577.7,555.0 578.3,555.0 578.9,555.0 579.5,555.0 580.1,555.0 580.7,555.0 581.3,555.0 581.9,555.0 582.5,555.0 583.1,555.0 583.7,555.0 584.3,555.0 584.9,555.0 585.5,555.0 586.1,555.0 586.7,555.0 587.3,555.0 587.9,555.0 588.5,555.0 589.1,555.0 589.7,555.0 590.3,555.0 590.9,554.9 591.5,554.8 592.1,554.4 592.7,553.5 593.3,552.0 593.9,549.4 594.5,545.8 595.1,541.4 595.7,537.1 596.3,533.8 596.9,532.6 597.5,533.7 598.1,536.8 598.7,540.6 599.3,543.8 599.9,545.0 600.5,543.4 601.1,538.6 601.7,531.1 602.3,522.2 602.9,514.3 603.5,509.6 604.1,509.6 604.7,514.4 605.3,522.5 605.9,531.6 606.5,539.9 607.1,546.0 607.7,549.9 608.3,551.7 608.9,552.1 609.5,551.9 610.1,551.4 610.7,551.0 611.3,551.0 611.9,551.5 612.5,552.2 613.1,553.0 613.7,553.7 614.3,554.3 614.9,554.6 615.5,554.8 616.1,554.9 616.7,555.0 617.3,555.0 617.9,555.0 618.5,555.0 619.1,555.0 619.7,555.0 620.3,555.0 620.9,555.0 621.5,555.0 622.1,555.0 622.7,555.0 623.3,555.0 623.9,555.0 624.5,555.0 625.1,555.0 625.7,555.0 626.3,555.0 626.9,555.0 627.5,555.0 628.1,555.0 628.7,555.0 629.3,555.0 629.9,555.0 630.5,555.0 631.1,555.0 631.7,555.0 632.3,555.0 632.9,555.0 633.5,555.0 634.1,555.0 634.7,555.0 635.3,555.0 635.9,555.0 636.5,555.0 637.1,555.0 637.7,555.0 638.3,555.0 638.9,555.0 639.5,555.0 640.1,555.0 640.7,555.0 641.3,555.0 641.9,555.0 642.5,555.0 643.1,555.0 643.7,555.0 644.3,555.0 644.9,555.0 645.5,555.0 646.1,555.0 646.7,555.0 647.3,555.0 647.9,555.0 648.5,555.0 649.1,555.0 649.7,555.0 650.3,555.0 650.9,555.0 651.5,555.0 652.1,555.0 652.7,555.0 653.3,555.0 653.9,555.0 654.5,555.0 655.1,555.0 655.7,555.0 656.3,555.0 656.9,555.0 657.5,555.0 658.1,555.0 658.7,555.0 659.3,555.0 659.9,555.0 660.5,555.0 661.1,555.0 661.7,555.0 662.3,555.0 662.9,555.0 663.5,555.0 664.1,555.0 664.7,555.0 665.3,555.0 665.9,555.0 666.5,555.0 667.1,555.0 667.7,555.0 668.3,555.0 668.9,555.0 669.5,555.0 670.1,555.0 670.7,555.0 671.3,555.0 671.9,555.0 672.5,555.0 673.1,555.0 673.7,555.0 674.3,555.0 674.9,555.0 675.5,555.0 676.1,555.0 676.7,555.0 677.3,555.0 677.9,555.0 678.5,555.0 679.1,555.0 679.7,555.0 680.3,555.0 680.9,555.0 681.5,555.0 682.1,555.0 682.7,555.0 683.3,555.0 683.9,555.0" fill="none" stroke="#2f6fc9" stroke-width="1.25" stroke-linejoin="round"/>
<polygon points="526.1,555.0 526.1,555.0 526.7,555.0 527.3,555.0 527.9,555.0 528.5,555.0 529.1,555.0 529.7,555.0 530.3,555.0 530.9,555.0 531.5,555.0 532.1,555.0 532.7,555.0 533.3,555.0 533.9,555.0 534.5,555.0 535.1,555.0 535.7,555.0 536.3,555.0 536.9,555.0 537.5,555.0 538.1,555.0 538.7,555.0 539.3,555.0 539.9,555.0 540.5,555.0 541.1,555.0 541.7,555.0 542.3,555.0 542.9,554.9 543.5,554.7 544.1,554.3 544.7,553.4 545.3,551.7 545.9,548.9 546.5,544.7 547.1,539.5 547.7,534.2 548.3,530.0 548.9,528.0 549.5,529.0 550.1,532.6 550.7,537.7 551.3,543.1 551.9,547.6 552.5,550.9 553.1,553.0 553.7,554.1 554.3,554.6 554.9,554.9 555.5,555.0 556.1,555.0 556.7,555.0 557.3,555.0 557.9,555.0 558.5,555.0 559.1,555.0 559.7,555.0 560.3,555.0 560.9,555.0 561.5,555.0 562.1,555.0 562.7,555.0 563.3,555.0 563.9,555.0 564.5,555.0 565.1,555.0 565.7,555.0 566.3,555.0 566.9,555.0 567.5,555.0 568.1,555.0 568.7,555.0 569.3,555.0 569.9,555.0 570.5,555.0 571.1,555.0 571.7,555.0 572.3,555.0 572.9,555.0 573.5,555.0 574.1,555.0 574.7,555.0 575.3,555.0 575.9,555.0 576.5,555.0 577.1,555.0 577.7,555.0 578.3,555.0 578.9,555.0 579.5,555.0 580.1,555.0 580.7,555.0 581.3,555.0 581.9,555.0 582.5,555.0 583.1,555.0 583.7,554.9 584.3,554.8 584.9,554.4 585.5,553.5 586.1,551.9 586.7,549.0 587.3,544.8 587.9,539.4 588.5,533.6 589.1,528.7 589.7,526.2 590.3,526.7 590.9,530.1 591.5,535.5 592.1,541.3 592.7,546.4 593.3,550.1 593.9,552.5 594.5,553.9 595.1,554.6 595.7,554.8 596.3,554.9 596.9,555.0 597.5,555.0 598.1,555.0 598.7,555.0 599.3,555.0 599.9,555.0 600.5,555.0 601.1,555.0 601.7,555.0 602.3,555.0 602.9,555.0 603.5,555.0 604.1,555.0 604.7,555.0 605.3,555.0 605.9,555.0 606.5,555.0 607.1,555.0 607.7,555.0 608.3,555.0 608.9,555.0 609.5,555.0 610.1,555.0 610.7,555.0 611.3,555.0 611.9,555.0 612.5,555.0 613.1,555.0 613.7,555.0 614.3,555.0 614.9,555.0 615.5,555.0 616.1,555.0 616.7,555.0 617.3,555.0 617.9,555.0 618.5,555.0 619.1,555.0 619.7,555.0 620.3,555.0 620.9,555.0 621.5,555.0 622.1,555.0 622.7,555.0 623.3,555.0 623.9,555.0 624.5,555.0 625.1,555.0 625.7,554.9 626.3,554.7 626.9,554.3 627.5,553.5 628.1,552.0 628.7,549.6 629.3,546.3 629.9,542.4 630.5,538.7 631.1,536.0 631.7,535.3 632.3,536.7 632.9,539.8 633.5,543.7 634.1,547.5 634.7,550.5 635.3,552.6 635.9,553.9 636.5,554.5 637.1,554.8 637.7,554.9 638.3,555.0 638.9,555.0 639.5,555.0 640.1,555.0 640.7,555.0 641.3,555.0 641.9,555.0 642.5,555.0 643.1,555.0 643.7,555.0 644.3,555.0 644.9,555.0 645.5,555.0 646.1,555.0 646.7,555.0 647.3,555.0 647.9,555.0 648.5,555.0 649.1,555.0 649.7,555.0 650.3,555.0 650.9,555.0 651.5,555.0 652.1,555.0 652.7,555.0 653.3,555.0 653.9,555.0 654.5,555.0 655.1,555.0 655.7,555.0 656.3,555.0 656.9,555.0 657.5,555.0 658.1,555.0 658.7,555.0 659.3,555.0 659.9,555.0 660.5,555.0 661.1,555.0 661.7,555.0 662.3,555.0 662.9,555.0 663.5,555.0 664.1,555.0 664.7,555.0 665.3,555.0 665.9,555.0 666.5,555.0 667.1,555.0 667.7,555.0 668.3,555.0 668.9,555.0 669.5,555.0 670.1,555.0 670.7,555.0 671.3,555.0 671.9,555.0 672.5,555.0 673.1,555.0 673.7,555.0 674.3,555.0 674.9,555.0 675.5,555.0 676.1,555.0 676.7,555.0 677.3,555.0 677.9,555.0 678.5,555.0 679.1,555.0 679.7,555.0 680.3,555.0 680.9,555.0 681.5,555.0 682.1,555.0 682.7,555.0 683.3,555.0 683.9,555.0 683.9,555.0" fill="rgba(229,51,59,0.17)"/>
<polyline points="526.1,555.0 526.7,555.0 527.3,555.0 527.9,555.0 528.5,555.0 529.1,555.0 529.7,555.0 530.3,555.0 530.9,555.0 531.5,555.0 532.1,555.0 532.7,555.0 533.3,555.0 533.9,555.0 534.5,555.0 535.1,555.0 535.7,555.0 536.3,555.0 536.9,555.0 537.5,555.0 538.1,555.0 538.7,555.0 539.3,555.0 539.9,555.0 540.5,555.0 541.1,555.0 541.7,555.0 542.3,555.0 542.9,554.9 543.5,554.7 544.1,554.3 544.7,553.4 545.3,551.7 545.9,548.9 546.5,544.7 547.1,539.5 547.7,534.2 548.3,530.0 548.9,528.0 549.5,529.0 550.1,532.6 550.7,537.7 551.3,543.1 551.9,547.6 552.5,550.9 553.1,553.0 553.7,554.1 554.3,554.6 554.9,554.9 555.5,555.0 556.1,555.0 556.7,555.0 557.3,555.0 557.9,555.0 558.5,555.0 559.1,555.0 559.7,555.0 560.3,555.0 560.9,555.0 561.5,555.0 562.1,555.0 562.7,555.0 563.3,555.0 563.9,555.0 564.5,555.0 565.1,555.0 565.7,555.0 566.3,555.0 566.9,555.0 567.5,555.0 568.1,555.0 568.7,555.0 569.3,555.0 569.9,555.0 570.5,555.0 571.1,555.0 571.7,555.0 572.3,555.0 572.9,555.0 573.5,555.0 574.1,555.0 574.7,555.0 575.3,555.0 575.9,555.0 576.5,555.0 577.1,555.0 577.7,555.0 578.3,555.0 578.9,555.0 579.5,555.0 580.1,555.0 580.7,555.0 581.3,555.0 581.9,555.0 582.5,555.0 583.1,555.0 583.7,554.9 584.3,554.8 584.9,554.4 585.5,553.5 586.1,551.9 586.7,549.0 587.3,544.8 587.9,539.4 588.5,533.6 589.1,528.7 589.7,526.2 590.3,526.7 590.9,530.1 591.5,535.5 592.1,541.3 592.7,546.4 593.3,550.1 593.9,552.5 594.5,553.9 595.1,554.6 595.7,554.8 596.3,554.9 596.9,555.0 597.5,555.0 598.1,555.0 598.7,555.0 599.3,555.0 599.9,555.0 600.5,555.0 601.1,555.0 601.7,555.0 602.3,555.0 602.9,555.0 603.5,555.0 604.1,555.0 604.7,555.0 605.3,555.0 605.9,555.0 606.5,555.0 607.1,555.0 607.7,555.0 608.3,555.0 608.9,555.0 609.5,555.0 610.1,555.0 610.7,555.0 611.3,555.0 611.9,555.0 612.5,555.0 613.1,555.0 613.7,555.0 614.3,555.0 614.9,555.0 615.5,555.0 616.1,555.0 616.7,555.0 617.3,555.0 617.9,555.0 618.5,555.0 619.1,555.0 619.7,555.0 620.3,555.0 620.9,555.0 621.5,555.0 622.1,555.0 622.7,555.0 623.3,555.0 623.9,555.0 624.5,555.0 625.1,555.0 625.7,554.9 626.3,554.7 626.9,554.3 627.5,553.5 628.1,552.0 628.7,549.6 629.3,546.3 629.9,542.4 630.5,538.7 631.1,536.0 631.7,535.3 632.3,536.7 632.9,539.8 633.5,543.7 634.1,547.5 634.7,550.5 635.3,552.6 635.9,553.9 636.5,554.5 637.1,554.8 637.7,554.9 638.3,555.0 638.9,555.0 639.5,555.0 640.1,555.0 640.7,555.0 641.3,555.0 641.9,555.0 642.5,555.0 643.1,555.0 643.7,555.0 644.3,555.0 644.9,555.0 645.5,555.0 646.1,555.0 646.7,555.0 647.3,555.0 647.9,555.0 648.5,555.0 649.1,555.0 649.7,555.0 650.3,555.0 650.9,555.0 651.5,555.0 652.1,555.0 652.7,555.0 653.3,555.0 653.9,555.0 654.5,555.0 655.1,555.0 655.7,555.0 656.3,555.0 656.9,555.0 657.5,555.0 658.1,555.0 658.7,555.0 659.3,555.0 659.9,555.0 660.5,555.0 661.1,555.0 661.7,555.0 662.3,555.0 662.9,555.0 663.5,555.0 664.1,555.0 664.7,555.0 665.3,555.0 665.9,555.0 666.5,555.0 667.1,555.0 667.7,555.0 668.3,555.0 668.9,555.0 669.5,555.0 670.1,555.0 670.7,555.0 671.3,555.0 671.9,555.0 672.5,555.0 673.1,555.0 673.7,555.0 674.3,555.0 674.9,555.0 675.5,555.0 676.1,555.0 676.7,555.0 677.3,555.0 677.9,555.0 678.5,555.0 679.1,555.0 679.7,555.0 680.3,555.0 680.9,555.0 681.5,555.0 682.1,555.0 682.7,555.0 683.3,555.0 683.9,555.0" fill="none" stroke="#e5333b" stroke-width="1.25" stroke-linejoin="round"/>
<text x="1.00" y="305.30" font-size="16" text-anchor="start" fill="#111" stroke="#111" stroke-width="0.75">f</text>
<text x="173.90" y="302.10" font-size="10.7" text-anchor="middle"><tspan font-style="italic">Igf2</tspan> DNA Sequencing</text>
<text x="353.50" y="306.00" font-size="16" text-anchor="start" fill="#111" stroke="#111" stroke-width="0.75">g</text>
<text x="540.50" y="303.00" font-size="10.7" text-anchor="middle"><tspan font-style="italic">Igf2</tspan> DNA Sequencing</text>
<text x="89.60" y="427.30" font-size="10.7" text-anchor="middle">RFP-DKO AG-haESC</text>
<text x="259.40" y="427.30" font-size="10.7" text-anchor="middle">RFP-IG-KO AG-haESC</text>
<text x="439.70" y="427.00" font-size="10.7" text-anchor="middle">WT Mouse</text>
<text x="603.00" y="427.00" font-size="10.7" text-anchor="middle"><tspan font-style="italic">H19</tspan>-KO Mouse</text>
<text x="1.60" y="448.30" font-size="16" text-anchor="start" fill="#111" stroke="#111" stroke-width="0.75">h</text>
<text x="167.80" y="447.90" font-size="10.7" text-anchor="middle"><tspan font-style="italic">Igf2</tspan> DNA Sequencing</text>
<text x="353.80" y="448.30" font-size="16" text-anchor="start" fill="#111" stroke="#111" stroke-width="0.75">i</text>
<text x="544.50" y="447.90" font-size="10.7" text-anchor="middle"><tspan font-style="italic">Igf2</tspan> cDNA Sequencing</text>
<text x="98.00" y="570.80" font-size="10.7" text-anchor="middle">WT-DKO Mouse</text>
<text x="263.50" y="570.80" font-size="10.7" text-anchor="middle"><tspan font-style="italic">H19</tspan>-IG Mouse</text>
<text x="449.00" y="571.10" font-size="10.7" text-anchor="middle">WT-DKO Liver</text>
<text x="620.00" y="571.10" font-size="10.7" text-anchor="middle"><tspan font-style="italic">H19</tspan>-IG Liver</text>
<text x="0.70" y="586.50" font-size="16" text-anchor="start" fill="#111" stroke="#111" stroke-width="0.75">j</text>
<text x="114.80" y="587.00" font-size="10.7" text-anchor="middle" font-style="italic">Igf2</text>
<rect x="55.70" y="595.60" width="9.60" height="6.20" fill="#b4e0e6" stroke="#1a1a1a" stroke-width="1.0"/>
<text x="68.60" y="602.00" font-size="10.7" text-anchor="start">Paternal (+C)</text>
<rect x="138.40" y="595.80" width="9.40" height="5.80" fill="#f59b7e" stroke="#1a1a1a" stroke-width="1.0"/>
<text x="151.80" y="602.00" font-size="10.7" text-anchor="start">Maternal</text>
<line x1="49.60" y1="608.30" x2="49.60" y2="706.20" stroke="#231f20" stroke-width="1.3"/>
<line x1="45.60" y1="608.30" x2="49.60" y2="608.30" stroke="#231f20" stroke-width="1.2"/>
<text x="43.60" y="611.90" font-size="10.3" text-anchor="end">100%</text>
<line x1="45.60" y1="627.70" x2="49.60" y2="627.70" stroke="#231f20" stroke-width="1.2"/>
<text x="43.60" y="631.30" font-size="10.3" text-anchor="end">80%</text>
<line x1="45.60" y1="647.10" x2="49.60" y2="647.10" stroke="#231f20" stroke-width="1.2"/>
<text x="43.60" y="650.70" font-size="10.3" text-anchor="end">60%</text>
<line x1="45.60" y1="666.60" x2="49.60" y2="666.60" stroke="#231f20" stroke-width="1.2"/>
<text x="43.60" y="670.20" font-size="10.3" text-anchor="end">40%</text>
<line x1="45.60" y1="686.10" x2="49.60" y2="686.10" stroke="#231f20" stroke-width="1.2"/>
<text x="43.60" y="689.70" font-size="10.3" text-anchor="end">20%</text>
<line x1="45.60" y1="706.00" x2="49.60" y2="706.00" stroke="#231f20" stroke-width="1.2"/>
<text x="43.60" y="709.60" font-size="10.3" text-anchor="end">0%</text>
<line x1="44.50" y1="706.10" x2="197.00" y2="706.10" stroke="#231f20" stroke-width="1.3"/>
<text x="17.30" y="654.50" font-size="10.4" text-anchor="middle" font-weight="bold" transform="rotate(-90 17.30 654.50)">Allelic Expression</text>
<rect x="61.40" y="608.50" width="21.40" height="97.60" fill="#b4e0e6" stroke="#1a1a1a" stroke-width="1.2"/>
<rect x="95.60" y="608.50" width="21.00" height="89.90" fill="#f59b7e" stroke="#1a1a1a" stroke-width="1.2"/>
<rect x="95.60" y="698.40" width="21.00" height="7.70" fill="#b4e0e6" stroke="#1a1a1a" stroke-width="1.2"/>
<rect x="128.60" y="608.50" width="22.10" height="97.60" fill="#b4e0e6" stroke="#1a1a1a" stroke-width="1.2"/>
<rect x="163.10" y="608.50" width="21.60" height="97.60" fill="#f59b7e" stroke="#1a1a1a" stroke-width="1.2"/>
<line x1="71.90" y1="706.10" x2="71.90" y2="709.10" stroke="#231f20" stroke-width="1.2"/>
<line x1="105.90" y1="706.10" x2="105.90" y2="709.10" stroke="#231f20" stroke-width="1.2"/>
<line x1="139.60" y1="706.10" x2="139.60" y2="709.10" stroke="#231f20" stroke-width="1.2"/>
<line x1="173.70" y1="706.10" x2="173.70" y2="709.10" stroke="#231f20" stroke-width="1.2"/>
<text x="78.70" y="718.20" font-size="10.7" text-anchor="end" transform="rotate(-30 78.70 718.20)">WT-DKO</text>
<text x="112.80" y="718.00" font-size="10.7" text-anchor="end" transform="rotate(-30 112.80 718.00)"><tspan font-style="italic">H19</tspan>-IG</text>
<text x="146.60" y="718.40" font-size="10.7" text-anchor="end" transform="rotate(-30 146.60 718.40)">WT-DKO</text>
<text x="180.50" y="717.80" font-size="10.7" text-anchor="end" transform="rotate(-30 180.50 717.80)"><tspan font-style="italic">H19</tspan>-IG</text>
<line x1="39.10" y1="745.90" x2="91.80" y2="745.90" stroke="#555" stroke-width="1.3"/>
<line x1="105.90" y1="746.10" x2="168.00" y2="746.10" stroke="#555" stroke-width="1.3"/>
<text x="65.40" y="756.40" font-size="10.7" text-anchor="middle">Placenta</text>
<text x="137.00" y="756.40" font-size="10.7" text-anchor="middle">Liver</text>
<text x="200.80" y="587.00" font-size="16" text-anchor="start" fill="#111" stroke="#111" stroke-width="0.75">k</text>
<line x1="233.90" y1="601.00" x2="233.90" y2="720.60" stroke="#231f20" stroke-width="1.3"/>
<line x1="229.90" y1="601.00" x2="233.90" y2="601.00" stroke="#231f20" stroke-width="1.2"/>
<text x="227.00" y="604.60" font-size="10.3" text-anchor="end">25</text>
<line x1="229.90" y1="624.20" x2="233.90" y2="624.20" stroke="#231f20" stroke-width="1.2"/>
<text x="227.00" y="627.80" font-size="10.3" text-anchor="end">20</text>
<line x1="229.90" y1="647.30" x2="233.90" y2="647.30" stroke="#231f20" stroke-width="1.2"/>
<text x="227.00" y="650.90" font-size="10.3" text-anchor="end">15</text>
<line x1="229.90" y1="670.50" x2="233.90" y2="670.50" stroke="#231f20" stroke-width="1.2"/>
<text x="227.00" y="674.10" font-size="10.3" text-anchor="end">10</text>
<line x1="229.90" y1="693.90" x2="233.90" y2="693.90" stroke="#231f20" stroke-width="1.2"/>
<text x="227.00" y="697.50" font-size="10.3" text-anchor="end">5</text>
<line x1="229.90" y1="717.20" x2="233.90" y2="717.20" stroke="#231f20" stroke-width="1.2"/>
<text x="227.00" y="720.80" font-size="10.3" text-anchor="end">0</text>
<line x1="229.50" y1="717.20" x2="409.60" y2="717.20" stroke="#231f20" stroke-width="1.3"/>
<line x1="234.00" y1="717.20" x2="234.00" y2="720.80" stroke="#231f20" stroke-width="1.2"/>
<text x="234.00" y="731.60" font-size="10.3" text-anchor="middle">0</text>
<line x1="269.04" y1="717.20" x2="269.04" y2="720.80" stroke="#231f20" stroke-width="1.2"/>
<text x="269.04" y="731.60" font-size="10.3" text-anchor="middle">2</text>
<line x1="304.08" y1="717.20" x2="304.08" y2="720.80" stroke="#231f20" stroke-width="1.2"/>
<text x="304.08" y="731.60" font-size="10.3" text-anchor="middle">4</text>
<line x1="339.12" y1="717.20" x2="339.12" y2="720.80" stroke="#231f20" stroke-width="1.2"/>
<text x="339.12" y="731.60" font-size="10.3" text-anchor="middle">6</text>
<line x1="374.16" y1="717.20" x2="374.16" y2="720.80" stroke="#231f20" stroke-width="1.2"/>
<text x="374.16" y="731.60" font-size="10.3" text-anchor="middle">8</text>
<line x1="409.20" y1="717.20" x2="409.20" y2="720.80" stroke="#231f20" stroke-width="1.2"/>
<text x="409.20" y="731.60" font-size="10.3" text-anchor="middle">10</text>
<text x="322.80" y="745.90" font-size="10.7" text-anchor="middle">Weeks</text>
<text x="208.10" y="654.80" font-size="10.7" text-anchor="middle" font-weight="bold" transform="rotate(-90 208.10 654.80)">Weight (g)</text>
<line x1="234.00" y1="710.23" x2="234.00" y2="708.37" stroke="#5cc4c6" stroke-width="0.8"/>
<line x1="232.50" y1="710.23" x2="235.50" y2="710.23" stroke="#5cc4c6" stroke-width="0.8"/>
<line x1="232.50" y1="708.37" x2="235.50" y2="708.37" stroke="#5cc4c6" stroke-width="0.8"/>
<line x1="251.52" y1="695.83" x2="251.52" y2="693.04" stroke="#5cc4c6" stroke-width="0.8"/>
<line x1="250.02" y1="695.83" x2="253.02" y2="695.83" stroke="#5cc4c6" stroke-width="0.8"/>
<line x1="250.02" y1="693.04" x2="253.02" y2="693.04" stroke="#5cc4c6" stroke-width="0.8"/>
<line x1="269.04" y1="689.32" x2="269.04" y2="680.03" stroke="#5cc4c6" stroke-width="0.8"/>
<line x1="267.54" y1="689.32" x2="270.54" y2="689.32" stroke="#5cc4c6" stroke-width="0.8"/>
<line x1="267.54" y1="680.03" x2="270.54" y2="680.03" stroke="#5cc4c6" stroke-width="0.8"/>
<line x1="286.56" y1="678.17" x2="286.56" y2="673.53" stroke="#5cc4c6" stroke-width="0.8"/>
<line x1="285.06" y1="678.17" x2="288.06" y2="678.17" stroke="#5cc4c6" stroke-width="0.8"/>
<line x1="285.06" y1="673.53" x2="288.06" y2="673.53" stroke="#5cc4c6" stroke-width="0.8"/>
<line x1="304.08" y1="661.45" x2="304.08" y2="652.16" stroke="#5cc4c6" stroke-width="0.8"/>
<line x1="302.58" y1="661.45" x2="305.58" y2="661.45" stroke="#5cc4c6" stroke-width="0.8"/>
<line x1="302.58" y1="652.16" x2="305.58" y2="652.16" stroke="#5cc4c6" stroke-width="0.8"/>
<line x1="321.60" y1="646.58" x2="321.60" y2="641.93" stroke="#5cc4c6" stroke-width="0.8"/>
<line x1="320.10" y1="646.58" x2="323.10" y2="646.58" stroke="#5cc4c6" stroke-width="0.8"/>
<line x1="320.10" y1="641.93" x2="323.10" y2="641.93" stroke="#5cc4c6" stroke-width="0.8"/>
<line x1="339.12" y1="640.54" x2="339.12" y2="634.04" stroke="#5cc4c6" stroke-width="0.8"/>
<line x1="337.62" y1="640.54" x2="340.62" y2="640.54" stroke="#5cc4c6" stroke-width="0.8"/>
<line x1="337.62" y1="634.04" x2="340.62" y2="634.04" stroke="#5cc4c6" stroke-width="0.8"/>
<line x1="356.64" y1="638.68" x2="356.64" y2="629.39" stroke="#5cc4c6" stroke-width="0.8"/>
<line x1="355.14" y1="638.68" x2="358.14" y2="638.68" stroke="#5cc4c6" stroke-width="0.8"/>
<line x1="355.14" y1="629.39" x2="358.14" y2="629.39" stroke="#5cc4c6" stroke-width="0.8"/>
<line x1="374.16" y1="633.80" x2="374.16" y2="626.37" stroke="#5cc4c6" stroke-width="0.8"/>
<line x1="372.66" y1="633.80" x2="375.66" y2="633.80" stroke="#5cc4c6" stroke-width="0.8"/>
<line x1="372.66" y1="626.37" x2="375.66" y2="626.37" stroke="#5cc4c6" stroke-width="0.8"/>
<line x1="234.00" y1="709.77" x2="234.00" y2="707.91" stroke="#e8403a" stroke-width="0.8"/>
<line x1="232.50" y1="709.77" x2="235.50" y2="709.77" stroke="#e8403a" stroke-width="0.8"/>
<line x1="232.50" y1="707.91" x2="235.50" y2="707.91" stroke="#e8403a" stroke-width="0.8"/>
<line x1="251.52" y1="694.43" x2="251.52" y2="691.65" stroke="#e8403a" stroke-width="0.8"/>
<line x1="250.02" y1="694.43" x2="253.02" y2="694.43" stroke="#e8403a" stroke-width="0.8"/>
<line x1="250.02" y1="691.65" x2="253.02" y2="691.65" stroke="#e8403a" stroke-width="0.8"/>
<line x1="269.04" y1="684.68" x2="269.04" y2="679.10" stroke="#e8403a" stroke-width="0.8"/>
<line x1="267.54" y1="684.68" x2="270.54" y2="684.68" stroke="#e8403a" stroke-width="0.8"/>
<line x1="267.54" y1="679.10" x2="270.54" y2="679.10" stroke="#e8403a" stroke-width="0.8"/>
<line x1="286.56" y1="674.46" x2="286.56" y2="670.74" stroke="#e8403a" stroke-width="0.8"/>
<line x1="285.06" y1="674.46" x2="288.06" y2="674.46" stroke="#e8403a" stroke-width="0.8"/>
<line x1="285.06" y1="670.74" x2="288.06" y2="670.74" stroke="#e8403a" stroke-width="0.8"/>
<line x1="304.08" y1="655.41" x2="304.08" y2="650.76" stroke="#e8403a" stroke-width="0.8"/>
<line x1="302.58" y1="655.41" x2="305.58" y2="655.41" stroke="#e8403a" stroke-width="0.8"/>
<line x1="302.58" y1="650.76" x2="305.58" y2="650.76" stroke="#e8403a" stroke-width="0.8"/>
<line x1="321.60" y1="646.12" x2="321.60" y2="634.04" stroke="#e8403a" stroke-width="0.8"/>
<line x1="320.10" y1="646.12" x2="323.10" y2="646.12" stroke="#e8403a" stroke-width="0.8"/>
<line x1="320.10" y1="634.04" x2="323.10" y2="634.04" stroke="#e8403a" stroke-width="0.8"/>
<line x1="339.12" y1="636.82" x2="339.12" y2="631.25" stroke="#e8403a" stroke-width="0.8"/>
<line x1="337.62" y1="636.82" x2="340.62" y2="636.82" stroke="#e8403a" stroke-width="0.8"/>
<line x1="337.62" y1="631.25" x2="340.62" y2="631.25" stroke="#e8403a" stroke-width="0.8"/>
<line x1="356.64" y1="634.04" x2="356.64" y2="626.60" stroke="#e8403a" stroke-width="0.8"/>
<line x1="355.14" y1="634.04" x2="358.14" y2="634.04" stroke="#e8403a" stroke-width="0.8"/>
<line x1="355.14" y1="626.60" x2="358.14" y2="626.60" stroke="#e8403a" stroke-width="0.8"/>
<line x1="374.16" y1="629.39" x2="374.16" y2="623.82" stroke="#e8403a" stroke-width="0.8"/>
<line x1="372.66" y1="629.39" x2="375.66" y2="629.39" stroke="#e8403a" stroke-width="0.8"/>
<line x1="372.66" y1="623.82" x2="375.66" y2="623.82" stroke="#e8403a" stroke-width="0.8"/>
<polyline points="234.00,709.30 251.52,694.43 269.04,684.68 286.56,675.85 304.08,656.80 321.60,644.26 339.12,637.29 356.64,634.04 374.16,630.09" fill="none" stroke="#5cc4c6" stroke-width="1.4" stroke-linejoin="round"/>
<circle cx="234.00" cy="709.30" r="0.90" fill="#5cc4c6" stroke="none" stroke-width="1.0"/>
<circle cx="251.52" cy="694.43" r="0.90" fill="#5cc4c6" stroke="none" stroke-width="1.0"/>
<circle cx="269.04" cy="684.68" r="0.90" fill="#5cc4c6" stroke="none" stroke-width="1.0"/>
<circle cx="286.56" cy="675.85" r="0.90" fill="#5cc4c6" stroke="none" stroke-width="1.0"/>
<circle cx="304.08" cy="656.80" r="0.90" fill="#5cc4c6" stroke="none" stroke-width="1.0"/>
<circle cx="321.60" cy="644.26" r="0.90" fill="#5cc4c6" stroke="none" stroke-width="1.0"/>
<circle cx="339.12" cy="637.29" r="0.90" fill="#5cc4c6" stroke="none" stroke-width="1.0"/>
<circle cx="356.64" cy="634.04" r="0.90" fill="#5cc4c6" stroke="none" stroke-width="1.0"/>
<circle cx="374.16" cy="630.09" r="0.90" fill="#5cc4c6" stroke="none" stroke-width="1.0"/>
<polyline points="234.00,708.84 251.52,693.04 269.04,681.89 286.56,672.60 304.08,653.09 321.60,640.08 339.12,634.04 356.64,630.32 374.16,626.60" fill="none" stroke="#e8403a" stroke-width="1.4" stroke-linejoin="round"/>
<circle cx="234.00" cy="708.84" r="0.90" fill="#e8403a" stroke="none" stroke-width="1.0"/>
<circle cx="251.52" cy="693.04" r="0.90" fill="#e8403a" stroke="none" stroke-width="1.0"/>
<circle cx="269.04" cy="681.89" r="0.90" fill="#e8403a" stroke="none" stroke-width="1.0"/>
<circle cx="286.56" cy="672.60" r="0.90" fill="#e8403a" stroke="none" stroke-width="1.0"/>
<circle cx="304.08" cy="653.09" r="0.90" fill="#e8403a" stroke="none" stroke-width="1.0"/>
<circle cx="321.60" cy="640.08" r="0.90" fill="#e8403a" stroke="none" stroke-width="1.0"/>
<circle cx="339.12" cy="634.04" r="0.90" fill="#e8403a" stroke="none" stroke-width="1.0"/>
<circle cx="356.64" cy="630.32" r="0.90" fill="#e8403a" stroke="none" stroke-width="1.0"/>
<circle cx="374.16" cy="626.60" r="0.90" fill="#e8403a" stroke="none" stroke-width="1.0"/>
<line x1="347.40" y1="666.20" x2="359.70" y2="666.20" stroke="#5cc4c6" stroke-width="1.4"/>
<circle cx="353.50" cy="666.20" r="0.90" fill="#5cc4c6" stroke="none" stroke-width="1.0"/>
<text x="366.90" y="669.70" font-size="10.7" text-anchor="start">WT-DKO</text>
<line x1="347.40" y1="681.50" x2="359.70" y2="681.50" stroke="#e8403a" stroke-width="1.6"/>
<circle cx="353.50" cy="681.50" r="0.90" fill="#e8403a" stroke="none" stroke-width="1.0"/>
<text x="366.90" y="685.00" font-size="10.7" text-anchor="start"><tspan font-style="italic">H19</tspan>-IG</text>
<text x="430.50" y="586.90" font-size="16" text-anchor="start" fill="#111" stroke="#111" stroke-width="0.75">l</text>
<line x1="476.60" y1="584.60" x2="476.60" y2="717.10" stroke="#231f20" stroke-width="1.3"/>
<line x1="472.60" y1="597.00" x2="476.60" y2="597.00" stroke="#231f20" stroke-width="1.2"/>
<text x="469.90" y="600.60" font-size="10.3" text-anchor="end">100</text>
<line x1="472.60" y1="656.80" x2="476.60" y2="656.80" stroke="#231f20" stroke-width="1.2"/>
<text x="469.90" y="660.40" font-size="10.3" text-anchor="end">50</text>
<line x1="472.60" y1="717.10" x2="476.60" y2="717.10" stroke="#231f20" stroke-width="1.2"/>
<text x="469.90" y="720.70" font-size="10.3" text-anchor="end">0</text>
<line x1="476.00" y1="717.10" x2="674.60" y2="717.10" stroke="#231f20" stroke-width="1.3"/>
<line x1="476.50" y1="717.10" x2="476.50" y2="720.70" stroke="#231f20" stroke-width="1.2"/>
<text x="476.50" y="733.10" font-size="10.3" text-anchor="middle">0</text>
<line x1="538.17" y1="717.10" x2="538.17" y2="720.70" stroke="#231f20" stroke-width="1.2"/>
<text x="538.17" y="733.10" font-size="10.3" text-anchor="middle">50</text>
<line x1="599.85" y1="717.10" x2="599.85" y2="720.70" stroke="#231f20" stroke-width="1.2"/>
<text x="599.85" y="733.10" font-size="10.3" text-anchor="middle">100</text>
<line x1="661.52" y1="717.10" x2="661.52" y2="720.70" stroke="#231f20" stroke-width="1.2"/>
<text x="661.52" y="733.10" font-size="10.3" text-anchor="middle">150</text>
<text x="581.30" y="746.90" font-size="10.7" text-anchor="middle">Postnatal days</text>
<text x="444.60" y="649.40" font-size="11.0" text-anchor="middle" font-weight="bold" transform="rotate(-90 444.60 649.40)">Percent survival (%)</text>
<path d="M476.50,596.98 H511.04 V639.86 H661.52" stroke="#52c6d4" stroke-width="1.4" fill="none"/>
<path d="M476.50,596.98 H495.00 V623.05 H511.04 V628.33 H624.52 V633.50 H661.52" stroke="#e8262e" stroke-width="1.5" fill="none"/>
<line x1="511.04" y1="638.66" x2="511.04" y2="641.06" stroke="#333" stroke-width="0.8"/>
<line x1="550.51" y1="638.66" x2="550.51" y2="641.06" stroke="#333" stroke-width="0.8"/>
<line x1="624.52" y1="638.66" x2="624.52" y2="641.06" stroke="#333" stroke-width="0.8"/>
<line x1="661.52" y1="638.66" x2="661.52" y2="641.06" stroke="#333" stroke-width="0.8"/>
<line x1="511.04" y1="627.13" x2="511.04" y2="629.53" stroke="#333" stroke-width="0.8"/>
<line x1="550.51" y1="627.13" x2="550.51" y2="629.53" stroke="#333" stroke-width="0.8"/>
<line x1="624.52" y1="632.30" x2="624.52" y2="634.70" stroke="#333" stroke-width="0.8"/>
<line x1="661.52" y1="632.30" x2="661.52" y2="634.70" stroke="#333" stroke-width="0.8"/>
<line x1="495.00" y1="621.85" x2="495.00" y2="624.25" stroke="#333" stroke-width="0.8"/>
<line x1="572.60" y1="669.00" x2="588.20" y2="669.00" stroke="#52c6d4" stroke-width="1.4"/>
<line x1="580.40" y1="667.90" x2="580.40" y2="670.10" stroke="#333" stroke-width="0.8"/>
<text x="595.00" y="672.80" font-size="10.7" text-anchor="start">WT-DKO (n=14)</text>
<line x1="572.60" y1="682.80" x2="588.20" y2="682.80" stroke="#e8262e" stroke-width="1.5"/>
<line x1="580.40" y1="681.70" x2="580.40" y2="683.90" stroke="#333" stroke-width="0.8"/>
<text x="595.00" y="686.50" font-size="10.7" text-anchor="start"><tspan font-style="italic">H19</tspan>-IG (n=23)</text>
</svg></body></html>
